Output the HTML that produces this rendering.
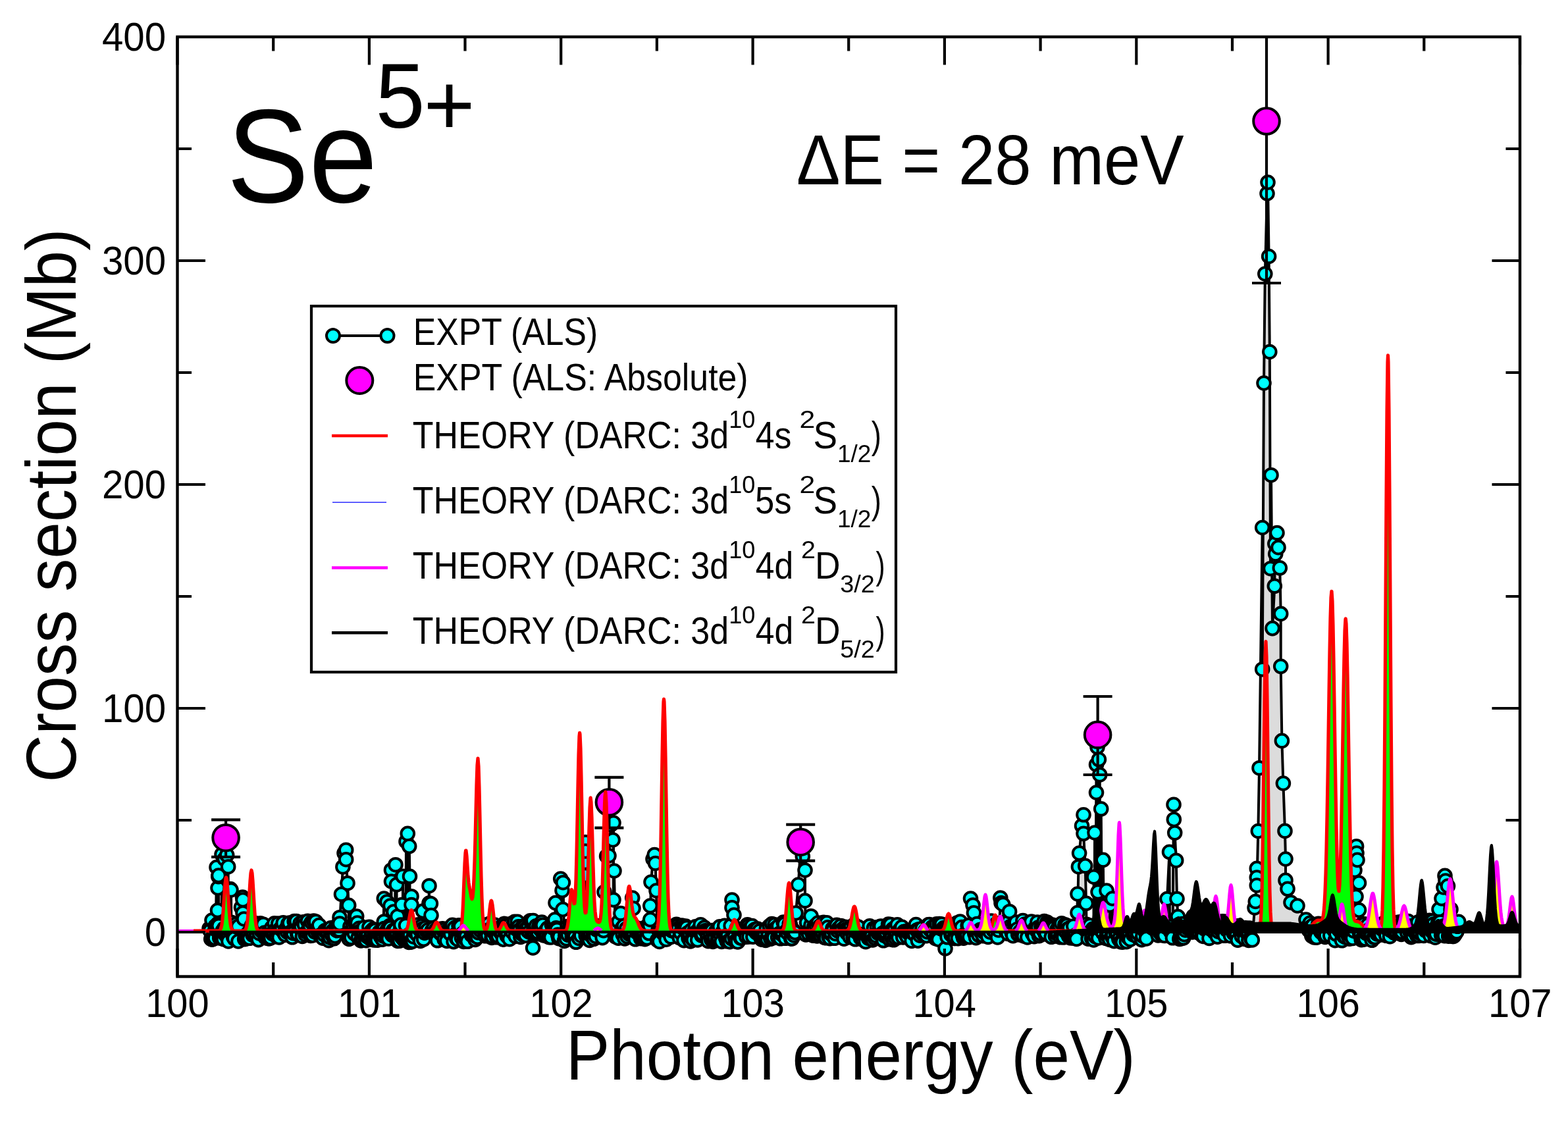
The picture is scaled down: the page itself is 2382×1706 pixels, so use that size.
<!DOCTYPE html>
<html><head><meta charset="utf-8"><title>Se5+ photoionization cross section</title>
<style>html,body{margin:0;padding:0;background:#fff;overflow:hidden;}svg{display:block;}</style></head>
<body><svg width="2382" height="1706" viewBox="0 0 2382 1706">
<rect width="2382" height="1706" fill="#fff"/>
<defs><clipPath id="pc"><rect x="271.5" y="58" width="2035.5" height="1423.5"/></clipPath></defs><g clip-path="url(#pc)"><polygon points="318.0,1416.0 318.0,1410.7 319.2,1413.9 320.7,1426.5 322.0,1398.0 322.2,1427.2 323.0,1425.0 323.6,1426.5 324.9,1417.3 326.6,1425.2 327.0,1407.0 327.9,1412.1 329.0,1317.5 329.7,1413.5 330.5,1383.0 331.0,1349.0 331.1,1403.1 331.8,1331.6 332.0,1330.0 332.3,1406.3 333.7,1425.0 335.0,1420.7 336.7,1424.1 337.0,1298.0 338.2,1414.2 339.5,1426.7 340.8,1410.2 341.0,1305.0 342.2,1419.6 343.8,1415.8 344.7,1299.0 345.2,1406.7 346.7,1316.7 346.8,1421.0 347.0,1430.0 348.3,1413.5 350.0,1350.5 350.1,1408.0 351.0,1352.0 351.4,1401.4 352.7,1416.0 354.4,1422.9 355.9,1425.8 357.5,1406.7 359.0,1403.8 360.4,1408.5 362.0,1407.4 362.0,1430.0 366.5,1378.6 368.5,1363.0 369.0,1367.0 369.0,1387.0 370.5,1396.0 371.6,1426.6 373.1,1422.8 374.3,1425.8 376.0,1424.0 377.3,1417.2 379.1,1425.3 380.5,1413.1 382.3,1406.1 384.0,1420.3 385.4,1418.2 387.2,1402.5 388.4,1423.0 389.8,1421.5 391.3,1412.2 392.6,1427.6 394.1,1418.0 395.6,1402.8 397.2,1414.2 398.8,1410.0 400.0,1404.2 401.7,1417.0 403.1,1424.2 404.7,1425.0 406.0,1420.9 407.3,1417.2 408.5,1425.9 409.8,1423.0 411.2,1424.8 412.9,1409.3 414.2,1418.6 415.6,1415.6 416.9,1402.8 418.7,1412.7 420.2,1422.6 421.5,1415.8 422.8,1403.0 424.1,1424.0 425.9,1410.8 427.2,1410.3 428.4,1410.7 430.2,1401.9 431.8,1417.6 433.2,1420.1 434.9,1410.5 436.5,1415.8 437.9,1403.1 439.7,1402.0 441.3,1418.5 442.9,1415.1 444.1,1423.8 445.4,1417.7 447.1,1399.5 448.5,1400.0 450.3,1399.6 451.7,1418.8 453.1,1419.5 454.4,1408.3 456.1,1402.6 457.6,1407.6 459.3,1422.5 460.9,1400.9 462.6,1405.1 464.1,1420.0 465.7,1416.0 467.4,1399.3 468.8,1414.2 470.6,1405.7 471.9,1421.4 473.2,1401.0 474.9,1420.9 476.6,1399.1 478.2,1415.6 479.7,1400.0 481.3,1412.3 483.1,1415.3 484.8,1405.5 486.1,1421.0 487.5,1421.7 489.0,1421.5 490.5,1425.2 492.2,1419.6 493.7,1413.9 495.5,1415.9 497.0,1415.2 498.2,1417.3 499.5,1428.7 501.2,1424.2 502.7,1409.7 504.2,1420.1 505.7,1414.0 507.4,1425.8 508.9,1422.0 510.3,1408.3 511.8,1413.7 513.4,1404.5 514.9,1412.4 516.0,1393.7 516.0,1403.0 518.5,1358.5 520.9,1316.9 523.0,1296.0 525.7,1291.2 525.7,1305.7 528.0,1341.7 529.7,1375.3 530.2,1426.4 531.8,1407.8 533.6,1424.2 535.2,1411.0 536.5,1405.2 538.3,1418.1 539.8,1402.8 541.7,1392.0 543.0,1402.0 544.3,1424.0 545.7,1410.3 546.9,1414.8 548.4,1428.9 549.8,1413.1 551.3,1427.9 553.1,1409.0 554.9,1426.9 556.2,1428.7 557.9,1422.7 559.2,1418.7 560.9,1408.4 562.3,1425.9 564.0,1414.9 565.7,1427.5 566.9,1411.9 568.4,1428.0 570.1,1413.3 571.8,1427.8 573.5,1428.2 575.2,1418.1 576.6,1415.5 578.4,1423.0 579.7,1416.2 581.0,1427.1 582.3,1422.0 583.3,1365.0 583.3,1400.0 583.7,1410.5 585.1,1417.4 586.4,1421.5 587.6,1424.2 588.0,1370.0 588.8,1411.6 590.3,1425.9 591.8,1406.5 593.0,1376.0 593.1,1409.6 594.5,1321.7 594.5,1339.0 594.5,1418.1 596.2,1420.9 597.7,1413.2 598.0,1385.0 599.5,1422.3 600.9,1313.7 601.2,1412.8 602.5,1344.0 602.8,1420.7 604.0,1392.0 604.2,1429.5 605.9,1424.7 607.2,1429.2 608.9,1408.6 609.0,1405.0 610.5,1424.0 610.5,1374.5 611.8,1423.7 612.0,1331.3 613.3,1427.3 614.7,1424.5 616.5,1406.0 617.0,1278.4 618.1,1425.0 619.3,1266.4 619.8,1423.3 621.2,1431.4 621.7,1285.6 622.5,1331.3 622.7,1419.0 624.2,1431.2 625.0,1361.7 625.0,1374.5 625.5,1428.8 627.0,1430.0 628.2,1423.0 629.5,1415.5 631.0,1411.1 632.6,1412.0 634.4,1420.5 635.8,1404.8 637.1,1411.6 638.6,1429.4 640.3,1407.1 641.9,1411.2 642.5,1384.0 643.6,1426.8 645.1,1417.2 646.8,1409.3 648.5,1415.1 650.3,1412.5 652.0,1345.7 652.0,1372.0 654.4,1372.7 655.0,1390.5 656.1,1414.1 657.7,1417.7 658.9,1409.7 660.5,1417.5 662.1,1413.4 663.3,1411.5 664.6,1428.8 666.0,1411.7 667.3,1411.5 669.1,1417.9 670.5,1418.3 672.2,1410.8 673.7,1414.1 675.0,1427.1 676.3,1411.5 677.7,1416.1 678.9,1429.4 680.3,1413.4 681.9,1413.3 683.3,1417.5 684.7,1418.8 686.0,1407.6 687.3,1405.4 689.1,1430.6 690.6,1409.6 692.4,1419.3 693.7,1425.5 695.5,1427.2 697.0,1405.9 698.3,1409.3 699.8,1407.4 701.4,1424.5 703.1,1417.8 704.4,1430.4 705.9,1418.6 707.2,1426.7 708.6,1422.1 710.3,1430.3 712.0,1408.3 713.3,1406.0 714.9,1406.7 716.3,1420.5 717.7,1404.1 719.3,1420.8 720.7,1423.0 721.9,1427.5 723.6,1422.7 725.4,1423.7 726.8,1416.8 728.1,1406.8 729.8,1413.3 731.5,1405.1 733.0,1410.7 734.3,1410.3 735.7,1409.7 737.3,1421.8 738.6,1405.0 739.8,1416.8 741.2,1421.3 742.9,1403.5 744.2,1411.8 745.6,1414.4 747.1,1424.5 748.4,1423.5 750.1,1415.9 751.4,1405.1 753.2,1417.0 754.5,1423.8 755.8,1419.8 757.0,1422.5 758.4,1413.9 760.1,1409.1 761.6,1417.9 763.1,1418.9 764.5,1427.1 765.8,1403.4 767.1,1415.5 768.7,1406.1 770.0,1421.6 771.4,1418.2 772.8,1405.2 774.1,1426.7 775.7,1403.6 777.2,1411.3 778.4,1416.0 780.1,1404.3 781.8,1400.2 783.2,1422.5 784.5,1411.5 786.1,1400.3 787.7,1407.9 789.4,1412.7 790.9,1423.5 792.6,1418.3 794.3,1407.4 795.7,1420.9 797.1,1407.5 798.7,1421.1 799.9,1410.3 801.5,1413.8 802.8,1408.2 804.0,1416.0 805.5,1398.7 807.1,1400.6 808.6,1417.6 809.6,1440.0 809.9,1398.6 811.5,1415.7 812.7,1410.6 814.4,1406.8 816.1,1418.8 817.3,1416.3 818.8,1407.7 820.1,1405.0 821.7,1412.9 823.1,1401.0 824.5,1405.2 825.8,1421.0 827.4,1419.3 829.2,1414.2 830.5,1421.4 832.0,1410.0 833.7,1423.7 835.2,1422.0 837.0,1424.0 838.2,1404.6 839.9,1409.3 841.7,1404.5 843.0,1397.0 844.0,1371.6 844.9,1409.9 846.1,1412.3 847.5,1420.1 848.9,1425.7 850.1,1422.9 851.7,1335.0 854.0,1352.8 855.0,1381.6 855.4,1340.7 857.3,1429.5 858.8,1421.1 860.5,1425.9 862.0,1407.5 863.2,1420.3 864.9,1411.0 866.1,1407.1 867.4,1411.7 869.2,1422.4 870.5,1406.3 872.1,1424.5 873.7,1423.1 875.1,1431.3 876.8,1407.5 878.3,1406.8 879.6,1425.4 881.0,1406.5 882.8,1421.4 884.2,1406.8 885.5,1409.8 887.0,1360.0 887.0,1390.0 889.0,1310.0 889.0,1330.0 889.4,1279.6 889.4,1293.0 890.2,1421.6 891.6,1409.3 892.8,1424.4 894.5,1422.9 895.7,1428.4 897.3,1420.6 899.0,1405.9 900.8,1422.0 902.1,1426.3 903.6,1410.2 905.1,1422.5 906.5,1412.4 908.1,1409.0 909.8,1411.1 911.1,1406.5 912.5,1413.6 913.9,1409.1 915.2,1424.6 916.9,1413.6 918.0,1355.0 921.6,1300.7 925.0,1300.0 928.0,1253.0 931.0,1276.0 932.0,1250.0 932.0,1367.0 933.0,1323.0 934.9,1422.8 936.6,1404.8 937.8,1423.5 939.3,1425.2 940.0,1400.0 943.0,1387.5 944.9,1410.3 946.2,1419.7 947.5,1406.9 949.0,1426.0 950.3,1417.2 951.8,1410.7 953.1,1423.0 954.7,1416.5 956.0,1419.1 957.8,1419.0 959.4,1417.7 960.7,1364.0 962.0,1380.0 962.6,1417.5 963.9,1407.9 965.2,1426.8 967.0,1415.8 968.7,1416.2 970.4,1414.8 971.7,1410.7 973.5,1425.7 975.0,1418.7 976.5,1425.0 977.9,1415.6 979.7,1426.7 981.1,1408.7 982.9,1424.9 984.2,1405.6 986.0,1417.8 987.2,1406.4 987.8,1376.0 987.8,1397.0 989.0,1340.0 992.0,1305.0 994.3,1298.6 995.6,1311.5 997.0,1353.0 998.7,1428.2 1000.1,1412.5 1001.8,1430.4 1003.4,1408.8 1004.6,1414.4 1006.2,1413.1 1007.6,1418.0 1009.1,1417.4 1010.7,1416.5 1012.2,1427.2 1013.7,1414.7 1015.1,1407.3 1016.7,1415.0 1018.0,1414.4 1019.3,1423.3 1020.8,1413.8 1022.0,1411.0 1023.2,1408.9 1024.9,1415.1 1026.1,1415.6 1027.6,1404.2 1028.9,1406.9 1030.7,1410.4 1032.3,1424.7 1034.1,1417.0 1035.9,1406.1 1037.2,1409.5 1039.0,1428.6 1040.4,1410.6 1041.7,1407.0 1043.0,1409.2 1044.3,1417.5 1046.1,1425.3 1047.4,1417.5 1048.8,1429.9 1050.1,1413.0 1051.9,1426.3 1053.5,1427.7 1055.1,1414.1 1056.5,1407.8 1058.0,1415.5 1059.7,1427.9 1061.5,1414.2 1063.0,1409.8 1064.3,1404.7 1065.9,1421.2 1067.5,1419.0 1068.8,1411.1 1070.1,1409.1 1071.4,1413.9 1073.2,1415.3 1074.8,1422.4 1076.0,1429.7 1077.3,1414.4 1078.8,1417.2 1080.5,1427.1 1081.8,1413.5 1083.0,1430.5 1084.5,1427.8 1085.9,1424.7 1087.4,1415.1 1088.7,1414.2 1090.2,1427.0 1092.0,1424.2 1093.3,1407.8 1094.9,1420.2 1096.3,1430.4 1097.9,1416.1 1099.3,1413.9 1100.8,1406.3 1102.4,1424.4 1104.2,1429.8 1105.7,1420.3 1107.0,1429.4 1108.7,1430.7 1110.2,1406.4 1111.5,1425.8 1112.0,1367.0 1112.0,1378.8 1115.0,1390.0 1116.0,1423.0 1117.3,1429.8 1119.1,1410.6 1120.7,1430.9 1122.4,1411.6 1123.9,1411.7 1125.4,1425.2 1126.6,1425.0 1127.8,1412.7 1129.5,1412.0 1130.9,1415.9 1132.4,1409.6 1133.9,1423.2 1135.5,1404.7 1136.8,1406.8 1138.0,1422.9 1139.3,1410.2 1141.1,1410.1 1142.5,1406.5 1143.9,1423.2 1145.7,1412.9 1147.3,1411.9 1149.1,1417.0 1150.8,1411.0 1152.5,1417.8 1154.1,1414.3 1155.5,1423.6 1157.1,1427.1 1158.8,1425.4 1160.0,1426.3 1161.8,1420.1 1163.1,1428.4 1164.3,1411.0 1165.9,1427.0 1167.4,1418.8 1169.1,1406.6 1170.9,1426.1 1172.6,1403.6 1174.3,1424.5 1175.7,1424.2 1176.9,1404.8 1178.6,1410.3 1180.3,1410.2 1181.6,1424.0 1182.9,1406.7 1184.2,1418.1 1185.7,1425.8 1187.0,1418.9 1188.7,1416.6 1190.1,1401.0 1191.6,1403.9 1193.1,1425.3 1194.6,1414.6 1196.2,1417.0 1197.9,1411.9 1199.2,1403.4 1200.4,1404.5 1201.7,1425.9 1203.1,1425.8 1204.6,1412.9 1206.2,1420.9 1207.7,1416.6 1209.0,1387.0 1212.8,1344.0 1216.0,1290.0 1219.3,1301.0 1223.0,1322.0 1223.0,1368.4 1224.3,1420.0 1225.6,1401.7 1227.1,1415.4 1228.9,1419.2 1230.3,1411.4 1232.0,1405.6 1232.0,1391.7 1233.6,1416.2 1235.0,1421.2 1236.7,1407.9 1238.3,1420.8 1239.8,1405.0 1241.3,1422.0 1242.8,1402.1 1244.2,1420.2 1245.5,1406.9 1247.2,1421.2 1248.5,1412.1 1249.8,1417.7 1251.1,1401.2 1252.8,1424.4 1254.6,1424.7 1256.0,1401.9 1257.7,1408.7 1259.1,1423.0 1260.7,1425.6 1262.0,1418.4 1263.3,1418.2 1264.9,1410.7 1266.4,1412.4 1267.9,1425.3 1269.5,1418.5 1271.1,1405.4 1272.6,1414.2 1274.2,1410.2 1276.0,1408.8 1277.6,1406.6 1279.2,1412.1 1280.7,1420.6 1282.2,1426.2 1283.7,1408.2 1285.3,1412.1 1286.7,1417.5 1288.1,1412.3 1289.6,1410.8 1291.3,1423.7 1292.9,1408.1 1294.4,1415.6 1296.1,1424.6 1297.8,1404.5 1299.3,1426.8 1300.9,1415.6 1302.5,1416.5 1304.1,1408.4 1305.6,1419.6 1307.4,1425.0 1309.0,1420.3 1310.6,1427.5 1312.4,1421.5 1313.7,1423.8 1315.1,1430.7 1316.6,1420.1 1318.2,1422.0 1319.5,1425.4 1321.2,1406.7 1322.7,1425.6 1324.4,1421.1 1325.7,1428.0 1327.4,1410.2 1328.9,1425.1 1330.7,1421.4 1332.3,1408.8 1334.0,1417.7 1335.4,1415.4 1336.7,1407.7 1338.1,1407.0 1339.4,1419.3 1340.8,1417.8 1342.1,1428.8 1343.7,1421.4 1345.1,1420.7 1346.6,1417.3 1348.1,1411.2 1349.6,1404.0 1351.3,1426.8 1353.0,1404.5 1354.6,1424.5 1356.3,1411.6 1357.5,1427.8 1359.3,1410.9 1360.7,1425.4 1362.0,1419.2 1363.2,1404.8 1364.9,1424.2 1366.7,1412.9 1368.3,1411.4 1370.1,1408.4 1371.8,1424.0 1373.4,1415.3 1375.0,1417.8 1376.8,1414.9 1378.1,1423.3 1379.4,1416.6 1380.6,1417.3 1381.9,1416.7 1383.4,1415.5 1385.1,1429.5 1386.8,1417.5 1388.4,1412.3 1390.1,1419.9 1391.5,1404.6 1392.8,1413.1 1394.4,1429.1 1395.9,1411.9 1397.7,1421.2 1399.5,1416.5 1401.0,1410.3 1402.5,1419.7 1404.3,1418.4 1405.7,1413.8 1407.4,1421.6 1408.9,1415.7 1410.4,1404.8 1411.8,1404.5 1413.2,1412.7 1414.6,1412.4 1416.4,1408.3 1418.0,1418.1 1419.6,1409.7 1421.3,1425.6 1422.9,1403.7 1424.4,1425.9 1425.8,1427.2 1427.1,1403.5 1428.7,1410.5 1430.4,1404.1 1431.9,1411.9 1433.5,1409.9 1435.1,1410.5 1436.0,1441.0 1436.4,1410.9 1437.9,1408.5 1439.1,1423.8 1440.3,1408.3 1442.1,1411.5 1443.5,1413.5 1444.9,1419.9 1446.3,1419.1 1447.8,1410.3 1449.5,1425.4 1451.1,1425.5 1452.3,1405.1 1453.9,1402.1 1455.4,1425.6 1456.8,1410.3 1458.6,1400.0 1460.0,1414.8 1461.3,1408.6 1462.6,1421.4 1463.8,1425.2 1465.4,1422.0 1467.2,1422.8 1468.9,1421.7 1470.2,1406.2 1471.5,1405.8 1472.8,1423.7 1474.5,1365.0 1478.0,1375.0 1479.4,1386.7 1480.8,1418.2 1482.6,1424.6 1484.2,1403.6 1485.4,1417.0 1487.1,1420.8 1488.8,1412.5 1490.0,1415.7 1491.6,1413.8 1493.2,1421.6 1494.9,1415.9 1496.5,1408.9 1497.9,1415.3 1499.6,1410.4 1501.0,1423.4 1502.7,1406.5 1504.4,1416.0 1506.0,1399.0 1507.7,1408.7 1509.1,1413.2 1510.8,1414.4 1512.4,1408.4 1514.2,1403.0 1515.5,1424.0 1516.9,1413.0 1518.4,1402.6 1519.8,1364.0 1521.0,1371.7 1523.7,1374.0 1525.0,1401.6 1526.6,1405.9 1528.4,1414.7 1529.6,1409.3 1531.3,1418.5 1533.0,1399.3 1533.6,1384.7 1534.3,1407.8 1535.9,1411.5 1537.2,1417.0 1538.9,1421.6 1540.6,1403.8 1541.9,1408.9 1543.7,1401.0 1545.2,1411.8 1546.7,1419.4 1548.0,1419.7 1549.7,1415.0 1551.2,1414.0 1552.7,1420.7 1553.9,1398.6 1555.4,1421.9 1556.9,1404.1 1558.2,1409.1 1559.6,1411.2 1560.8,1423.9 1562.6,1402.2 1564.1,1410.0 1565.5,1404.5 1566.9,1400.1 1568.6,1418.2 1569.8,1419.6 1571.1,1422.6 1572.4,1410.2 1574.1,1412.8 1575.9,1401.0 1577.1,1409.1 1578.5,1421.7 1580.3,1418.1 1581.9,1408.0 1583.6,1407.2 1585.1,1413.0 1586.4,1399.5 1588.2,1419.0 1589.4,1418.1 1590.8,1401.1 1592.5,1402.8 1593.8,1404.2 1595.4,1407.8 1597.2,1423.3 1598.5,1405.0 1600.2,1407.0 1601.6,1409.3 1603.3,1422.0 1604.7,1418.0 1605.9,1412.1 1607.2,1418.5 1608.5,1407.0 1609.7,1406.0 1611.0,1423.8 1612.8,1402.7 1614.5,1422.3 1616.0,1423.9 1617.8,1404.8 1619.3,1415.4 1620.7,1406.0 1622.2,1411.4 1623.5,1422.3 1624.7,1409.7 1626.3,1424.8 1628.0,1421.8 1629.4,1424.8 1630.8,1407.0 1632.2,1424.8 1633.7,1420.9 1635.4,1426.4 1637.0,1358.0 1637.0,1386.5 1638.4,1316.7 1639.6,1296.0 1643.5,1254.6 1646.0,1237.8 1646.0,1266.3 1648.7,1315.4 1650.0,1372.3 1650.5,1404.2 1651.7,1408.7 1653.1,1426.2 1654.3,1408.1 1655.9,1406.1 1657.2,1415.0 1658.5,1425.3 1660.1,1411.4 1661.4,1428.0 1661.6,1332.2 1662.7,1414.2 1663.0,1265.0 1664.2,1423.0 1665.5,1161.5 1665.5,1204.0 1665.5,1414.1 1667.0,1135.0 1667.1,1409.0 1668.0,1355.0 1668.7,1424.9 1669.4,1153.8 1669.9,1411.0 1670.7,1177.0 1671.4,1411.4 1672.6,1409.0 1672.7,1228.8 1674.0,1408.2 1675.7,1417.4 1675.8,1306.4 1676.9,1406.5 1678.4,1407.5 1679.8,1425.4 1681.0,1353.0 1681.5,1420.7 1682.8,1420.6 1684.3,1418.8 1685.8,1427.5 1686.0,1375.0 1687.5,1409.4 1689.2,1422.6 1690.0,1365.0 1690.8,1421.1 1692.5,1429.6 1694.2,1406.3 1695.7,1417.9 1697.2,1417.4 1698.4,1406.2 1699.8,1426.8 1701.0,1425.0 1702.7,1430.8 1704.0,1413.4 1705.3,1431.2 1706.8,1416.6 1708.4,1413.4 1709.6,1409.0 1711.3,1430.6 1712.5,1418.9 1714.0,1424.5 1715.3,1415.9 1717.0,1427.2 1718.6,1411.2 1719.9,1408.8 1721.6,1420.0 1723.1,1408.0 1724.6,1419.4 1726.4,1409.3 1727.8,1423.2 1729.2,1417.9 1730.9,1408.2 1732.7,1407.8 1734.4,1427.6 1735.9,1421.9 1737.4,1411.2 1738.8,1413.4 1740.0,1415.5 1741.5,1425.9 1742.8,1400.7 1744.5,1401.2 1746.1,1404.3 1747.8,1402.1 1749.0,1408.3 1750.4,1407.1 1751.7,1410.5 1753.5,1408.3 1754.8,1410.8 1756.3,1399.4 1757.7,1416.2 1759.3,1421.0 1760.8,1399.0 1762.3,1417.0 1763.8,1410.0 1765.1,1420.6 1766.4,1416.2 1767.8,1416.3 1769.2,1421.5 1770.7,1401.8 1772.3,1408.8 1773.0,1365.5 1776.5,1294.3 1777.0,1407.6 1778.5,1415.5 1779.8,1414.4 1781.4,1424.8 1783.0,1222.3 1783.3,1244.9 1784.7,1265.2 1786.7,1307.2 1788.0,1365.5 1789.4,1392.6 1790.3,1404.9 1791.8,1426.4 1793.2,1416.7 1794.9,1425.6 1796.2,1403.5 1797.8,1424.8 1799.2,1419.7 1800.8,1412.9 1802.6,1407.7 1804.1,1410.0 1805.7,1409.5 1807.2,1408.9 1808.8,1405.6 1810.1,1406.8 1811.3,1416.0 1813.1,1413.6 1814.5,1407.7 1816.3,1411.9 1817.7,1415.7 1819.2,1408.3 1820.5,1416.8 1822.1,1416.7 1823.5,1406.0 1825.2,1413.4 1826.6,1421.5 1828.0,1422.4 1829.6,1410.8 1830.8,1401.9 1832.2,1403.8 1833.9,1400.7 1835.2,1414.5 1837.0,1425.4 1838.2,1410.8 1839.7,1401.5 1841.4,1411.4 1843.2,1411.9 1844.7,1416.2 1846.2,1416.4 1848.0,1407.9 1849.5,1423.1 1850.9,1415.2 1852.5,1410.7 1854.2,1400.5 1855.7,1414.2 1857.3,1399.7 1858.7,1411.9 1860.4,1421.3 1861.8,1400.2 1863.5,1412.4 1864.7,1402.4 1866.3,1404.4 1868.1,1402.6 1869.6,1421.8 1871.0,1412.5 1872.5,1409.9 1874.0,1417.6 1875.8,1410.6 1877.1,1416.9 1878.7,1419.9 1880.3,1428.2 1881.7,1406.5 1883.3,1411.2 1884.6,1415.9 1886.1,1422.1 1887.7,1415.3 1889.5,1414.3 1891.0,1426.3 1892.2,1409.7 1893.5,1416.1 1895.2,1413.9 1896.9,1428.4 1898.1,1410.0 1899.5,1411.6 1900.9,1426.0 1902.3,1427.9 1906.0,1379.0 1907.3,1369.5 1909.3,1319.4 1909.3,1333.0 1909.3,1345.0 1911.3,1262.5 1913.0,1166.7 1917.7,801.5 1917.7,1016.7 1920.0,582.0 1921.8,416.0 1925.0,294.0 1926.0,277.0 1927.6,389.5 1928.8,534.5 1930.0,863.7 1931.0,721.7 1933.0,954.6 1936.3,890.3 1936.8,826.0 1937.7,841.5 1940.0,809.5 1942.0,831.7 1944.3,862.8 1945.7,932.4 1945.7,1012.3 1947.4,1125.4 1949.4,1190.0 1952.0,1262.4 1953.0,1305.0 1953.0,1337.4 1956.0,1350.3 1961.0,1371.0 1971.0,1376.0 1984.0,1397.0 1987.1,1407.0 1988.5,1413.5 1990.1,1402.3 1991.5,1408.2 1992.8,1421.8 1994.5,1405.7 1996.2,1424.0 1997.4,1420.9 1998.7,1417.3 2000.1,1424.2 2001.5,1408.6 2002.8,1403.4 2004.4,1406.7 2005.7,1414.1 2007.3,1416.4 2008.5,1403.7 2010.2,1418.1 2011.4,1403.2 2013.0,1423.4 2014.7,1421.5 2016.4,1407.9 2017.7,1409.8 2019.1,1408.8 2020.8,1421.4 2022.1,1404.4 2023.5,1405.1 2025.1,1410.3 2026.8,1413.5 2028.3,1428.7 2029.9,1419.1 2031.4,1406.1 2032.7,1410.6 2033.9,1412.3 2035.6,1405.2 2037.2,1416.2 2038.5,1428.8 2040.0,1419.5 2041.3,1422.1 2042.6,1411.6 2044.2,1423.9 2045.5,1416.5 2047.0,1405.5 2048.4,1422.1 2050.1,1426.2 2051.6,1421.2 2053.3,1415.5 2055.0,1425.4 2056.6,1414.1 2058.0,1322.0 2060.0,1362.0 2060.6,1285.7 2061.0,1296.0 2062.0,1306.4 2064.5,1341.3 2064.5,1382.6 2065.5,1418.0 2066.7,1421.2 2068.2,1427.7 2069.4,1403.5 2071.1,1427.2 2072.7,1403.7 2074.2,1426.4 2075.7,1417.8 2077.0,1414.9 2078.2,1405.0 2079.8,1412.6 2081.6,1412.0 2082.9,1422.6 2084.2,1428.3 2085.9,1407.0 2087.3,1424.1 2088.8,1424.0 2090.5,1406.2 2092.2,1419.0 2093.5,1405.6 2094.9,1417.2 2096.4,1416.9 2098.1,1420.0 2099.3,1411.3 2100.9,1404.4 2102.5,1402.0 2104.3,1412.6 2105.8,1421.3 2107.2,1410.1 2108.4,1407.2 2109.7,1413.6 2111.5,1422.7 2112.7,1413.5 2114.0,1406.0 2115.2,1402.9 2117.0,1404.2 2118.4,1417.4 2120.0,1411.3 2121.5,1415.9 2122.9,1407.3 2124.6,1401.0 2125.9,1416.9 2127.4,1409.9 2128.8,1419.5 2130.0,1416.1 2131.5,1399.2 2133.3,1399.4 2134.8,1403.3 2136.1,1406.8 2137.6,1416.7 2139.2,1399.5 2140.7,1407.5 2142.0,1415.4 2143.8,1423.7 2145.1,1406.6 2146.6,1422.2 2148.2,1414.7 2149.7,1413.5 2151.2,1409.6 2152.7,1421.4 2154.0,1401.1 2155.5,1421.4 2157.2,1417.7 2158.5,1410.5 2159.8,1411.5 2161.4,1418.4 2162.9,1421.4 2164.4,1408.9 2165.7,1413.7 2166.9,1412.8 2168.6,1409.9 2170.2,1404.5 2171.5,1398.4 2173.1,1421.7 2174.8,1414.1 2176.1,1399.2 2177.7,1404.1 2178.9,1418.3 2180.3,1424.2 2181.9,1419.1 2183.3,1406.2 2184.7,1401.5 2186.0,1381.4 2186.3,1402.0 2187.8,1400.8 2189.6,1420.5 2190.0,1365.0 2191.2,1416.0 2192.9,1407.1 2193.0,1348.0 2194.6,1421.7 2195.0,1330.4 2196.0,1405.7 2196.0,1338.0 2197.8,1409.2 2199.0,1410.8 2199.5,1346.0 2200.7,1422.2 2202.5,1407.5 2203.8,1420.2 2204.0,1381.4 2205.3,1403.4 2206.8,1422.4 2208.0,1422.5 2209.7,1420.6 2211.3,1417.8 2212.9,1415.5 2214.2,1407.3 2215.8,1400.3 2215.8,1416.0" fill="#dcdcdc" stroke="none"/><polyline points="318.0,1410.7 319.2,1413.9 320.7,1426.5 322.0,1398.0 322.2,1427.2 323.0,1425.0 323.6,1426.5 324.9,1417.3 326.6,1425.2 327.0,1407.0 327.9,1412.1 329.0,1317.5 329.7,1413.5 330.5,1383.0 331.0,1349.0 331.1,1403.1 331.8,1331.6 332.0,1330.0 332.3,1406.3 333.7,1425.0 335.0,1420.7 336.7,1424.1 337.0,1298.0 338.2,1414.2 339.5,1426.7 340.8,1410.2 341.0,1305.0 342.2,1419.6 343.8,1415.8 344.7,1299.0 345.2,1406.7 346.7,1316.7 346.8,1421.0 347.0,1430.0 348.3,1413.5 350.0,1350.5 350.1,1408.0 351.0,1352.0 351.4,1401.4 352.7,1416.0 354.4,1422.9 355.9,1425.8 357.5,1406.7 359.0,1403.8 360.4,1408.5 362.0,1407.4 362.0,1430.0 366.5,1378.6 368.5,1363.0 369.0,1367.0 369.0,1387.0 370.5,1396.0 371.6,1426.6 373.1,1422.8 374.3,1425.8 376.0,1424.0 377.3,1417.2 379.1,1425.3 380.5,1413.1 382.3,1406.1 384.0,1420.3 385.4,1418.2 387.2,1402.5 388.4,1423.0 389.8,1421.5 391.3,1412.2 392.6,1427.6 394.1,1418.0 395.6,1402.8 397.2,1414.2 398.8,1410.0 400.0,1404.2 401.7,1417.0 403.1,1424.2 404.7,1425.0 406.0,1420.9 407.3,1417.2 408.5,1425.9 409.8,1423.0 411.2,1424.8 412.9,1409.3 414.2,1418.6 415.6,1415.6 416.9,1402.8 418.7,1412.7 420.2,1422.6 421.5,1415.8 422.8,1403.0 424.1,1424.0 425.9,1410.8 427.2,1410.3 428.4,1410.7 430.2,1401.9 431.8,1417.6 433.2,1420.1 434.9,1410.5 436.5,1415.8 437.9,1403.1 439.7,1402.0 441.3,1418.5 442.9,1415.1 444.1,1423.8 445.4,1417.7 447.1,1399.5 448.5,1400.0 450.3,1399.6 451.7,1418.8 453.1,1419.5 454.4,1408.3 456.1,1402.6 457.6,1407.6 459.3,1422.5 460.9,1400.9 462.6,1405.1 464.1,1420.0 465.7,1416.0 467.4,1399.3 468.8,1414.2 470.6,1405.7 471.9,1421.4 473.2,1401.0 474.9,1420.9 476.6,1399.1 478.2,1415.6 479.7,1400.0 481.3,1412.3 483.1,1415.3 484.8,1405.5 486.1,1421.0 487.5,1421.7 489.0,1421.5 490.5,1425.2 492.2,1419.6 493.7,1413.9 495.5,1415.9 497.0,1415.2 498.2,1417.3 499.5,1428.7 501.2,1424.2 502.7,1409.7 504.2,1420.1 505.7,1414.0 507.4,1425.8 508.9,1422.0 510.3,1408.3 511.8,1413.7 513.4,1404.5 514.9,1412.4 516.0,1393.7 516.0,1403.0 518.5,1358.5 520.9,1316.9 523.0,1296.0 525.7,1291.2 525.7,1305.7 528.0,1341.7 529.7,1375.3 530.2,1426.4 531.8,1407.8 533.6,1424.2 535.2,1411.0 536.5,1405.2 538.3,1418.1 539.8,1402.8 541.7,1392.0 543.0,1402.0 544.3,1424.0 545.7,1410.3 546.9,1414.8 548.4,1428.9 549.8,1413.1 551.3,1427.9 553.1,1409.0 554.9,1426.9 556.2,1428.7 557.9,1422.7 559.2,1418.7 560.9,1408.4 562.3,1425.9 564.0,1414.9 565.7,1427.5 566.9,1411.9 568.4,1428.0 570.1,1413.3 571.8,1427.8 573.5,1428.2 575.2,1418.1 576.6,1415.5 578.4,1423.0 579.7,1416.2 581.0,1427.1 582.3,1422.0 583.3,1365.0 583.3,1400.0 583.7,1410.5 585.1,1417.4 586.4,1421.5 587.6,1424.2 588.0,1370.0 588.8,1411.6 590.3,1425.9 591.8,1406.5 593.0,1376.0 593.1,1409.6 594.5,1321.7 594.5,1339.0 594.5,1418.1 596.2,1420.9 597.7,1413.2 598.0,1385.0 599.5,1422.3 600.9,1313.7 601.2,1412.8 602.5,1344.0 602.8,1420.7 604.0,1392.0 604.2,1429.5 605.9,1424.7 607.2,1429.2 608.9,1408.6 609.0,1405.0 610.5,1424.0 610.5,1374.5 611.8,1423.7 612.0,1331.3 613.3,1427.3 614.7,1424.5 616.5,1406.0 617.0,1278.4 618.1,1425.0 619.3,1266.4 619.8,1423.3 621.2,1431.4 621.7,1285.6 622.5,1331.3 622.7,1419.0 624.2,1431.2 625.0,1361.7 625.0,1374.5 625.5,1428.8 627.0,1430.0 628.2,1423.0 629.5,1415.5 631.0,1411.1 632.6,1412.0 634.4,1420.5 635.8,1404.8 637.1,1411.6 638.6,1429.4 640.3,1407.1 641.9,1411.2 642.5,1384.0 643.6,1426.8 645.1,1417.2 646.8,1409.3 648.5,1415.1 650.3,1412.5 652.0,1345.7 652.0,1372.0 654.4,1372.7 655.0,1390.5 656.1,1414.1 657.7,1417.7 658.9,1409.7 660.5,1417.5 662.1,1413.4 663.3,1411.5 664.6,1428.8 666.0,1411.7 667.3,1411.5 669.1,1417.9 670.5,1418.3 672.2,1410.8 673.7,1414.1 675.0,1427.1 676.3,1411.5 677.7,1416.1 678.9,1429.4 680.3,1413.4 681.9,1413.3 683.3,1417.5 684.7,1418.8 686.0,1407.6 687.3,1405.4 689.1,1430.6 690.6,1409.6 692.4,1419.3 693.7,1425.5 695.5,1427.2 697.0,1405.9 698.3,1409.3 699.8,1407.4 701.4,1424.5 703.1,1417.8 704.4,1430.4 705.9,1418.6 707.2,1426.7 708.6,1422.1 710.3,1430.3 712.0,1408.3 713.3,1406.0 714.9,1406.7 716.3,1420.5 717.7,1404.1 719.3,1420.8 720.7,1423.0 721.9,1427.5 723.6,1422.7 725.4,1423.7 726.8,1416.8 728.1,1406.8 729.8,1413.3 731.5,1405.1 733.0,1410.7 734.3,1410.3 735.7,1409.7 737.3,1421.8 738.6,1405.0 739.8,1416.8 741.2,1421.3 742.9,1403.5 744.2,1411.8 745.6,1414.4 747.1,1424.5 748.4,1423.5 750.1,1415.9 751.4,1405.1 753.2,1417.0 754.5,1423.8 755.8,1419.8 757.0,1422.5 758.4,1413.9 760.1,1409.1 761.6,1417.9 763.1,1418.9 764.5,1427.1 765.8,1403.4 767.1,1415.5 768.7,1406.1 770.0,1421.6 771.4,1418.2 772.8,1405.2 774.1,1426.7 775.7,1403.6 777.2,1411.3 778.4,1416.0 780.1,1404.3 781.8,1400.2 783.2,1422.5 784.5,1411.5 786.1,1400.3 787.7,1407.9 789.4,1412.7 790.9,1423.5 792.6,1418.3 794.3,1407.4 795.7,1420.9 797.1,1407.5 798.7,1421.1 799.9,1410.3 801.5,1413.8 802.8,1408.2 804.0,1416.0 805.5,1398.7 807.1,1400.6 808.6,1417.6 809.6,1440.0 809.9,1398.6 811.5,1415.7 812.7,1410.6 814.4,1406.8 816.1,1418.8 817.3,1416.3 818.8,1407.7 820.1,1405.0 821.7,1412.9 823.1,1401.0 824.5,1405.2 825.8,1421.0 827.4,1419.3 829.2,1414.2 830.5,1421.4 832.0,1410.0 833.7,1423.7 835.2,1422.0 837.0,1424.0 838.2,1404.6 839.9,1409.3 841.7,1404.5 843.0,1397.0 844.0,1371.6 844.9,1409.9 846.1,1412.3 847.5,1420.1 848.9,1425.7 850.1,1422.9 851.7,1335.0 854.0,1352.8 855.0,1381.6 855.4,1340.7 857.3,1429.5 858.8,1421.1 860.5,1425.9 862.0,1407.5 863.2,1420.3 864.9,1411.0 866.1,1407.1 867.4,1411.7 869.2,1422.4 870.5,1406.3 872.1,1424.5 873.7,1423.1 875.1,1431.3 876.8,1407.5 878.3,1406.8 879.6,1425.4 881.0,1406.5 882.8,1421.4 884.2,1406.8 885.5,1409.8 887.0,1360.0 887.0,1390.0 889.0,1310.0 889.0,1330.0 889.4,1279.6 889.4,1293.0 890.2,1421.6 891.6,1409.3 892.8,1424.4 894.5,1422.9 895.7,1428.4 897.3,1420.6 899.0,1405.9 900.8,1422.0 902.1,1426.3 903.6,1410.2 905.1,1422.5 906.5,1412.4 908.1,1409.0 909.8,1411.1 911.1,1406.5 912.5,1413.6 913.9,1409.1 915.2,1424.6 916.9,1413.6 918.0,1355.0 921.6,1300.7 925.0,1300.0 928.0,1253.0 931.0,1276.0 932.0,1250.0 932.0,1367.0 933.0,1323.0 934.9,1422.8 936.6,1404.8 937.8,1423.5 939.3,1425.2 940.0,1400.0 943.0,1387.5 944.9,1410.3 946.2,1419.7 947.5,1406.9 949.0,1426.0 950.3,1417.2 951.8,1410.7 953.1,1423.0 954.7,1416.5 956.0,1419.1 957.8,1419.0 959.4,1417.7 960.7,1364.0 962.0,1380.0 962.6,1417.5 963.9,1407.9 965.2,1426.8 967.0,1415.8 968.7,1416.2 970.4,1414.8 971.7,1410.7 973.5,1425.7 975.0,1418.7 976.5,1425.0 977.9,1415.6 979.7,1426.7 981.1,1408.7 982.9,1424.9 984.2,1405.6 986.0,1417.8 987.2,1406.4 987.8,1376.0 987.8,1397.0 989.0,1340.0 992.0,1305.0 994.3,1298.6 995.6,1311.5 997.0,1353.0 998.7,1428.2 1000.1,1412.5 1001.8,1430.4 1003.4,1408.8 1004.6,1414.4 1006.2,1413.1 1007.6,1418.0 1009.1,1417.4 1010.7,1416.5 1012.2,1427.2 1013.7,1414.7 1015.1,1407.3 1016.7,1415.0 1018.0,1414.4 1019.3,1423.3 1020.8,1413.8 1022.0,1411.0 1023.2,1408.9 1024.9,1415.1 1026.1,1415.6 1027.6,1404.2 1028.9,1406.9 1030.7,1410.4 1032.3,1424.7 1034.1,1417.0 1035.9,1406.1 1037.2,1409.5 1039.0,1428.6 1040.4,1410.6 1041.7,1407.0 1043.0,1409.2 1044.3,1417.5 1046.1,1425.3 1047.4,1417.5 1048.8,1429.9 1050.1,1413.0 1051.9,1426.3 1053.5,1427.7 1055.1,1414.1 1056.5,1407.8 1058.0,1415.5 1059.7,1427.9 1061.5,1414.2 1063.0,1409.8 1064.3,1404.7 1065.9,1421.2 1067.5,1419.0 1068.8,1411.1 1070.1,1409.1 1071.4,1413.9 1073.2,1415.3 1074.8,1422.4 1076.0,1429.7 1077.3,1414.4 1078.8,1417.2 1080.5,1427.1 1081.8,1413.5 1083.0,1430.5 1084.5,1427.8 1085.9,1424.7 1087.4,1415.1 1088.7,1414.2 1090.2,1427.0 1092.0,1424.2 1093.3,1407.8 1094.9,1420.2 1096.3,1430.4 1097.9,1416.1 1099.3,1413.9 1100.8,1406.3 1102.4,1424.4 1104.2,1429.8 1105.7,1420.3 1107.0,1429.4 1108.7,1430.7 1110.2,1406.4 1111.5,1425.8 1112.0,1367.0 1112.0,1378.8 1115.0,1390.0 1116.0,1423.0 1117.3,1429.8 1119.1,1410.6 1120.7,1430.9 1122.4,1411.6 1123.9,1411.7 1125.4,1425.2 1126.6,1425.0 1127.8,1412.7 1129.5,1412.0 1130.9,1415.9 1132.4,1409.6 1133.9,1423.2 1135.5,1404.7 1136.8,1406.8 1138.0,1422.9 1139.3,1410.2 1141.1,1410.1 1142.5,1406.5 1143.9,1423.2 1145.7,1412.9 1147.3,1411.9 1149.1,1417.0 1150.8,1411.0 1152.5,1417.8 1154.1,1414.3 1155.5,1423.6 1157.1,1427.1 1158.8,1425.4 1160.0,1426.3 1161.8,1420.1 1163.1,1428.4 1164.3,1411.0 1165.9,1427.0 1167.4,1418.8 1169.1,1406.6 1170.9,1426.1 1172.6,1403.6 1174.3,1424.5 1175.7,1424.2 1176.9,1404.8 1178.6,1410.3 1180.3,1410.2 1181.6,1424.0 1182.9,1406.7 1184.2,1418.1 1185.7,1425.8 1187.0,1418.9 1188.7,1416.6 1190.1,1401.0 1191.6,1403.9 1193.1,1425.3 1194.6,1414.6 1196.2,1417.0 1197.9,1411.9 1199.2,1403.4 1200.4,1404.5 1201.7,1425.9 1203.1,1425.8 1204.6,1412.9 1206.2,1420.9 1207.7,1416.6 1209.0,1387.0 1212.8,1344.0 1216.0,1290.0 1219.3,1301.0 1223.0,1322.0 1223.0,1368.4 1224.3,1420.0 1225.6,1401.7 1227.1,1415.4 1228.9,1419.2 1230.3,1411.4 1232.0,1405.6 1232.0,1391.7 1233.6,1416.2 1235.0,1421.2 1236.7,1407.9 1238.3,1420.8 1239.8,1405.0 1241.3,1422.0 1242.8,1402.1 1244.2,1420.2 1245.5,1406.9 1247.2,1421.2 1248.5,1412.1 1249.8,1417.7 1251.1,1401.2 1252.8,1424.4 1254.6,1424.7 1256.0,1401.9 1257.7,1408.7 1259.1,1423.0 1260.7,1425.6 1262.0,1418.4 1263.3,1418.2 1264.9,1410.7 1266.4,1412.4 1267.9,1425.3 1269.5,1418.5 1271.1,1405.4 1272.6,1414.2 1274.2,1410.2 1276.0,1408.8 1277.6,1406.6 1279.2,1412.1 1280.7,1420.6 1282.2,1426.2 1283.7,1408.2 1285.3,1412.1 1286.7,1417.5 1288.1,1412.3 1289.6,1410.8 1291.3,1423.7 1292.9,1408.1 1294.4,1415.6 1296.1,1424.6 1297.8,1404.5 1299.3,1426.8 1300.9,1415.6 1302.5,1416.5 1304.1,1408.4 1305.6,1419.6 1307.4,1425.0 1309.0,1420.3 1310.6,1427.5 1312.4,1421.5 1313.7,1423.8 1315.1,1430.7 1316.6,1420.1 1318.2,1422.0 1319.5,1425.4 1321.2,1406.7 1322.7,1425.6 1324.4,1421.1 1325.7,1428.0 1327.4,1410.2 1328.9,1425.1 1330.7,1421.4 1332.3,1408.8 1334.0,1417.7 1335.4,1415.4 1336.7,1407.7 1338.1,1407.0 1339.4,1419.3 1340.8,1417.8 1342.1,1428.8 1343.7,1421.4 1345.1,1420.7 1346.6,1417.3 1348.1,1411.2 1349.6,1404.0 1351.3,1426.8 1353.0,1404.5 1354.6,1424.5 1356.3,1411.6 1357.5,1427.8 1359.3,1410.9 1360.7,1425.4 1362.0,1419.2 1363.2,1404.8 1364.9,1424.2 1366.7,1412.9 1368.3,1411.4 1370.1,1408.4 1371.8,1424.0 1373.4,1415.3 1375.0,1417.8 1376.8,1414.9 1378.1,1423.3 1379.4,1416.6 1380.6,1417.3 1381.9,1416.7 1383.4,1415.5 1385.1,1429.5 1386.8,1417.5 1388.4,1412.3 1390.1,1419.9 1391.5,1404.6 1392.8,1413.1 1394.4,1429.1 1395.9,1411.9 1397.7,1421.2 1399.5,1416.5 1401.0,1410.3 1402.5,1419.7 1404.3,1418.4 1405.7,1413.8 1407.4,1421.6 1408.9,1415.7 1410.4,1404.8 1411.8,1404.5 1413.2,1412.7 1414.6,1412.4 1416.4,1408.3 1418.0,1418.1 1419.6,1409.7 1421.3,1425.6 1422.9,1403.7 1424.4,1425.9 1425.8,1427.2 1427.1,1403.5 1428.7,1410.5 1430.4,1404.1 1431.9,1411.9 1433.5,1409.9 1435.1,1410.5 1436.0,1441.0 1436.4,1410.9 1437.9,1408.5 1439.1,1423.8 1440.3,1408.3 1442.1,1411.5 1443.5,1413.5 1444.9,1419.9 1446.3,1419.1 1447.8,1410.3 1449.5,1425.4 1451.1,1425.5 1452.3,1405.1 1453.9,1402.1 1455.4,1425.6 1456.8,1410.3 1458.6,1400.0 1460.0,1414.8 1461.3,1408.6 1462.6,1421.4 1463.8,1425.2 1465.4,1422.0 1467.2,1422.8 1468.9,1421.7 1470.2,1406.2 1471.5,1405.8 1472.8,1423.7 1474.5,1365.0 1478.0,1375.0 1479.4,1386.7 1480.8,1418.2 1482.6,1424.6 1484.2,1403.6 1485.4,1417.0 1487.1,1420.8 1488.8,1412.5 1490.0,1415.7 1491.6,1413.8 1493.2,1421.6 1494.9,1415.9 1496.5,1408.9 1497.9,1415.3 1499.6,1410.4 1501.0,1423.4 1502.7,1406.5 1504.4,1416.0 1506.0,1399.0 1507.7,1408.7 1509.1,1413.2 1510.8,1414.4 1512.4,1408.4 1514.2,1403.0 1515.5,1424.0 1516.9,1413.0 1518.4,1402.6 1519.8,1364.0 1521.0,1371.7 1523.7,1374.0 1525.0,1401.6 1526.6,1405.9 1528.4,1414.7 1529.6,1409.3 1531.3,1418.5 1533.0,1399.3 1533.6,1384.7 1534.3,1407.8 1535.9,1411.5 1537.2,1417.0 1538.9,1421.6 1540.6,1403.8 1541.9,1408.9 1543.7,1401.0 1545.2,1411.8 1546.7,1419.4 1548.0,1419.7 1549.7,1415.0 1551.2,1414.0 1552.7,1420.7 1553.9,1398.6 1555.4,1421.9 1556.9,1404.1 1558.2,1409.1 1559.6,1411.2 1560.8,1423.9 1562.6,1402.2 1564.1,1410.0 1565.5,1404.5 1566.9,1400.1 1568.6,1418.2 1569.8,1419.6 1571.1,1422.6 1572.4,1410.2 1574.1,1412.8 1575.9,1401.0 1577.1,1409.1 1578.5,1421.7 1580.3,1418.1 1581.9,1408.0 1583.6,1407.2 1585.1,1413.0 1586.4,1399.5 1588.2,1419.0 1589.4,1418.1 1590.8,1401.1 1592.5,1402.8 1593.8,1404.2 1595.4,1407.8 1597.2,1423.3 1598.5,1405.0 1600.2,1407.0 1601.6,1409.3 1603.3,1422.0 1604.7,1418.0 1605.9,1412.1 1607.2,1418.5 1608.5,1407.0 1609.7,1406.0 1611.0,1423.8 1612.8,1402.7 1614.5,1422.3 1616.0,1423.9 1617.8,1404.8 1619.3,1415.4 1620.7,1406.0 1622.2,1411.4 1623.5,1422.3 1624.7,1409.7 1626.3,1424.8 1628.0,1421.8 1629.4,1424.8 1630.8,1407.0 1632.2,1424.8 1633.7,1420.9 1635.4,1426.4 1637.0,1358.0 1637.0,1386.5 1638.4,1316.7 1639.6,1296.0 1643.5,1254.6 1646.0,1237.8 1646.0,1266.3 1648.7,1315.4 1650.0,1372.3 1650.5,1404.2 1651.7,1408.7 1653.1,1426.2 1654.3,1408.1 1655.9,1406.1 1657.2,1415.0 1658.5,1425.3 1660.1,1411.4 1661.4,1428.0 1661.6,1332.2 1662.7,1414.2 1663.0,1265.0 1664.2,1423.0 1665.5,1161.5 1665.5,1204.0 1665.5,1414.1 1667.0,1135.0 1667.1,1409.0 1668.0,1355.0 1668.7,1424.9 1669.4,1153.8 1669.9,1411.0 1670.7,1177.0 1671.4,1411.4 1672.6,1409.0 1672.7,1228.8 1674.0,1408.2 1675.7,1417.4 1675.8,1306.4 1676.9,1406.5 1678.4,1407.5 1679.8,1425.4 1681.0,1353.0 1681.5,1420.7 1682.8,1420.6 1684.3,1418.8 1685.8,1427.5 1686.0,1375.0 1687.5,1409.4 1689.2,1422.6 1690.0,1365.0 1690.8,1421.1 1692.5,1429.6 1694.2,1406.3 1695.7,1417.9 1697.2,1417.4 1698.4,1406.2 1699.8,1426.8 1701.0,1425.0 1702.7,1430.8 1704.0,1413.4 1705.3,1431.2 1706.8,1416.6 1708.4,1413.4 1709.6,1409.0 1711.3,1430.6 1712.5,1418.9 1714.0,1424.5 1715.3,1415.9 1717.0,1427.2 1718.6,1411.2 1719.9,1408.8 1721.6,1420.0 1723.1,1408.0 1724.6,1419.4 1726.4,1409.3 1727.8,1423.2 1729.2,1417.9 1730.9,1408.2 1732.7,1407.8 1734.4,1427.6 1735.9,1421.9 1737.4,1411.2 1738.8,1413.4 1740.0,1415.5 1741.5,1425.9 1742.8,1400.7 1744.5,1401.2 1746.1,1404.3 1747.8,1402.1 1749.0,1408.3 1750.4,1407.1 1751.7,1410.5 1753.5,1408.3 1754.8,1410.8 1756.3,1399.4 1757.7,1416.2 1759.3,1421.0 1760.8,1399.0 1762.3,1417.0 1763.8,1410.0 1765.1,1420.6 1766.4,1416.2 1767.8,1416.3 1769.2,1421.5 1770.7,1401.8 1772.3,1408.8 1773.0,1365.5 1776.5,1294.3 1777.0,1407.6 1778.5,1415.5 1779.8,1414.4 1781.4,1424.8 1783.0,1222.3 1783.3,1244.9 1784.7,1265.2 1786.7,1307.2 1788.0,1365.5 1789.4,1392.6 1790.3,1404.9 1791.8,1426.4 1793.2,1416.7 1794.9,1425.6 1796.2,1403.5 1797.8,1424.8 1799.2,1419.7 1800.8,1412.9 1802.6,1407.7 1804.1,1410.0 1805.7,1409.5 1807.2,1408.9 1808.8,1405.6 1810.1,1406.8 1811.3,1416.0 1813.1,1413.6 1814.5,1407.7 1816.3,1411.9 1817.7,1415.7 1819.2,1408.3 1820.5,1416.8 1822.1,1416.7 1823.5,1406.0 1825.2,1413.4 1826.6,1421.5 1828.0,1422.4 1829.6,1410.8 1830.8,1401.9 1832.2,1403.8 1833.9,1400.7 1835.2,1414.5 1837.0,1425.4 1838.2,1410.8 1839.7,1401.5 1841.4,1411.4 1843.2,1411.9 1844.7,1416.2 1846.2,1416.4 1848.0,1407.9 1849.5,1423.1 1850.9,1415.2 1852.5,1410.7 1854.2,1400.5 1855.7,1414.2 1857.3,1399.7 1858.7,1411.9 1860.4,1421.3 1861.8,1400.2 1863.5,1412.4 1864.7,1402.4 1866.3,1404.4 1868.1,1402.6 1869.6,1421.8 1871.0,1412.5 1872.5,1409.9 1874.0,1417.6 1875.8,1410.6 1877.1,1416.9 1878.7,1419.9 1880.3,1428.2 1881.7,1406.5 1883.3,1411.2 1884.6,1415.9 1886.1,1422.1 1887.7,1415.3 1889.5,1414.3 1891.0,1426.3 1892.2,1409.7 1893.5,1416.1 1895.2,1413.9 1896.9,1428.4 1898.1,1410.0 1899.5,1411.6 1900.9,1426.0 1902.3,1427.9 1906.0,1379.0 1907.3,1369.5 1909.3,1319.4 1909.3,1333.0 1909.3,1345.0 1911.3,1262.5 1913.0,1166.7 1917.7,801.5 1917.7,1016.7 1920.0,582.0 1921.8,416.0 1925.0,294.0 1926.0,277.0 1927.6,389.5 1928.8,534.5 1930.0,863.7 1931.0,721.7 1933.0,954.6 1936.3,890.3 1936.8,826.0 1937.7,841.5 1940.0,809.5 1942.0,831.7 1944.3,862.8 1945.7,932.4 1945.7,1012.3 1947.4,1125.4 1949.4,1190.0 1952.0,1262.4 1953.0,1305.0 1953.0,1337.4 1956.0,1350.3 1961.0,1371.0 1971.0,1376.0 1984.0,1397.0 1987.1,1407.0 1988.5,1413.5 1990.1,1402.3 1991.5,1408.2 1992.8,1421.8 1994.5,1405.7 1996.2,1424.0 1997.4,1420.9 1998.7,1417.3 2000.1,1424.2 2001.5,1408.6 2002.8,1403.4 2004.4,1406.7 2005.7,1414.1 2007.3,1416.4 2008.5,1403.7 2010.2,1418.1 2011.4,1403.2 2013.0,1423.4 2014.7,1421.5 2016.4,1407.9 2017.7,1409.8 2019.1,1408.8 2020.8,1421.4 2022.1,1404.4 2023.5,1405.1 2025.1,1410.3 2026.8,1413.5 2028.3,1428.7 2029.9,1419.1 2031.4,1406.1 2032.7,1410.6 2033.9,1412.3 2035.6,1405.2 2037.2,1416.2 2038.5,1428.8 2040.0,1419.5 2041.3,1422.1 2042.6,1411.6 2044.2,1423.9 2045.5,1416.5 2047.0,1405.5 2048.4,1422.1 2050.1,1426.2 2051.6,1421.2 2053.3,1415.5 2055.0,1425.4 2056.6,1414.1 2058.0,1322.0 2060.0,1362.0 2060.6,1285.7 2061.0,1296.0 2062.0,1306.4 2064.5,1341.3 2064.5,1382.6 2065.5,1418.0 2066.7,1421.2 2068.2,1427.7 2069.4,1403.5 2071.1,1427.2 2072.7,1403.7 2074.2,1426.4 2075.7,1417.8 2077.0,1414.9 2078.2,1405.0 2079.8,1412.6 2081.6,1412.0 2082.9,1422.6 2084.2,1428.3 2085.9,1407.0 2087.3,1424.1 2088.8,1424.0 2090.5,1406.2 2092.2,1419.0 2093.5,1405.6 2094.9,1417.2 2096.4,1416.9 2098.1,1420.0 2099.3,1411.3 2100.9,1404.4 2102.5,1402.0 2104.3,1412.6 2105.8,1421.3 2107.2,1410.1 2108.4,1407.2 2109.7,1413.6 2111.5,1422.7 2112.7,1413.5 2114.0,1406.0 2115.2,1402.9 2117.0,1404.2 2118.4,1417.4 2120.0,1411.3 2121.5,1415.9 2122.9,1407.3 2124.6,1401.0 2125.9,1416.9 2127.4,1409.9 2128.8,1419.5 2130.0,1416.1 2131.5,1399.2 2133.3,1399.4 2134.8,1403.3 2136.1,1406.8 2137.6,1416.7 2139.2,1399.5 2140.7,1407.5 2142.0,1415.4 2143.8,1423.7 2145.1,1406.6 2146.6,1422.2 2148.2,1414.7 2149.7,1413.5 2151.2,1409.6 2152.7,1421.4 2154.0,1401.1 2155.5,1421.4 2157.2,1417.7 2158.5,1410.5 2159.8,1411.5 2161.4,1418.4 2162.9,1421.4 2164.4,1408.9 2165.7,1413.7 2166.9,1412.8 2168.6,1409.9 2170.2,1404.5 2171.5,1398.4 2173.1,1421.7 2174.8,1414.1 2176.1,1399.2 2177.7,1404.1 2178.9,1418.3 2180.3,1424.2 2181.9,1419.1 2183.3,1406.2 2184.7,1401.5 2186.0,1381.4 2186.3,1402.0 2187.8,1400.8 2189.6,1420.5 2190.0,1365.0 2191.2,1416.0 2192.9,1407.1 2193.0,1348.0 2194.6,1421.7 2195.0,1330.4 2196.0,1405.7 2196.0,1338.0 2197.8,1409.2 2199.0,1410.8 2199.5,1346.0 2200.7,1422.2 2202.5,1407.5 2203.8,1420.2 2204.0,1381.4 2205.3,1403.4 2206.8,1422.4 2208.0,1422.5 2209.7,1420.6 2211.3,1417.8 2212.9,1415.5 2214.2,1407.3 2215.8,1400.3" fill="none" stroke="#000" stroke-width="4" stroke-linejoin="round"/><g fill="#0ff" stroke="#000" stroke-width="4"><circle cx="318.0" cy="1410.7" r="9.8"/><circle cx="319.2" cy="1413.9" r="9.8"/><circle cx="320.7" cy="1426.5" r="9.8"/><circle cx="322.0" cy="1398.0" r="9.8"/><circle cx="322.2" cy="1427.2" r="9.8"/><circle cx="323.0" cy="1425.0" r="9.8"/><circle cx="323.6" cy="1426.5" r="9.8"/><circle cx="324.9" cy="1417.3" r="9.8"/><circle cx="326.6" cy="1425.2" r="9.8"/><circle cx="327.0" cy="1407.0" r="9.8"/><circle cx="327.9" cy="1412.1" r="9.8"/><circle cx="329.0" cy="1317.5" r="9.8"/><circle cx="329.7" cy="1413.5" r="9.8"/><circle cx="330.5" cy="1383.0" r="9.8"/><circle cx="331.0" cy="1349.0" r="9.8"/><circle cx="331.1" cy="1403.1" r="9.8"/><circle cx="331.8" cy="1331.6" r="9.8"/><circle cx="332.0" cy="1330.0" r="9.8"/><circle cx="332.3" cy="1406.3" r="9.8"/><circle cx="333.7" cy="1425.0" r="9.8"/><circle cx="335.0" cy="1420.7" r="9.8"/><circle cx="336.7" cy="1424.1" r="9.8"/><circle cx="337.0" cy="1298.0" r="9.8"/><circle cx="338.2" cy="1414.2" r="9.8"/><circle cx="339.5" cy="1426.7" r="9.8"/><circle cx="340.8" cy="1410.2" r="9.8"/><circle cx="341.0" cy="1305.0" r="9.8"/><circle cx="342.2" cy="1419.6" r="9.8"/><circle cx="343.8" cy="1415.8" r="9.8"/><circle cx="344.7" cy="1299.0" r="9.8"/><circle cx="345.2" cy="1406.7" r="9.8"/><circle cx="346.7" cy="1316.7" r="9.8"/><circle cx="346.8" cy="1421.0" r="9.8"/><circle cx="347.0" cy="1430.0" r="9.8"/><circle cx="348.3" cy="1413.5" r="9.8"/><circle cx="350.0" cy="1350.5" r="9.8"/><circle cx="350.1" cy="1408.0" r="9.8"/><circle cx="351.0" cy="1352.0" r="9.8"/><circle cx="351.4" cy="1401.4" r="9.8"/><circle cx="352.7" cy="1416.0" r="9.8"/><circle cx="354.4" cy="1422.9" r="9.8"/><circle cx="355.9" cy="1425.8" r="9.8"/><circle cx="357.5" cy="1406.7" r="9.8"/><circle cx="359.0" cy="1403.8" r="9.8"/><circle cx="360.4" cy="1408.5" r="9.8"/><circle cx="362.0" cy="1407.4" r="9.8"/><circle cx="362.0" cy="1430.0" r="9.8"/><circle cx="366.5" cy="1378.6" r="9.8"/><circle cx="368.5" cy="1363.0" r="9.8"/><circle cx="369.0" cy="1367.0" r="9.8"/><circle cx="369.0" cy="1387.0" r="9.8"/><circle cx="370.5" cy="1396.0" r="9.8"/><circle cx="371.6" cy="1426.6" r="9.8"/><circle cx="373.1" cy="1422.8" r="9.8"/><circle cx="374.3" cy="1425.8" r="9.8"/><circle cx="376.0" cy="1424.0" r="9.8"/><circle cx="377.3" cy="1417.2" r="9.8"/><circle cx="379.1" cy="1425.3" r="9.8"/><circle cx="380.5" cy="1413.1" r="9.8"/><circle cx="382.3" cy="1406.1" r="9.8"/><circle cx="384.0" cy="1420.3" r="9.8"/><circle cx="385.4" cy="1418.2" r="9.8"/><circle cx="387.2" cy="1402.5" r="9.8"/><circle cx="388.4" cy="1423.0" r="9.8"/><circle cx="389.8" cy="1421.5" r="9.8"/><circle cx="391.3" cy="1412.2" r="9.8"/><circle cx="392.6" cy="1427.6" r="9.8"/><circle cx="394.1" cy="1418.0" r="9.8"/><circle cx="395.6" cy="1402.8" r="9.8"/><circle cx="397.2" cy="1414.2" r="9.8"/><circle cx="398.8" cy="1410.0" r="9.8"/><circle cx="400.0" cy="1404.2" r="9.8"/><circle cx="401.7" cy="1417.0" r="9.8"/><circle cx="403.1" cy="1424.2" r="9.8"/><circle cx="404.7" cy="1425.0" r="9.8"/><circle cx="406.0" cy="1420.9" r="9.8"/><circle cx="407.3" cy="1417.2" r="9.8"/><circle cx="408.5" cy="1425.9" r="9.8"/><circle cx="409.8" cy="1423.0" r="9.8"/><circle cx="411.2" cy="1424.8" r="9.8"/><circle cx="412.9" cy="1409.3" r="9.8"/><circle cx="414.2" cy="1418.6" r="9.8"/><circle cx="415.6" cy="1415.6" r="9.8"/><circle cx="416.9" cy="1402.8" r="9.8"/><circle cx="418.7" cy="1412.7" r="9.8"/><circle cx="420.2" cy="1422.6" r="9.8"/><circle cx="421.5" cy="1415.8" r="9.8"/><circle cx="422.8" cy="1403.0" r="9.8"/><circle cx="424.1" cy="1424.0" r="9.8"/><circle cx="425.9" cy="1410.8" r="9.8"/><circle cx="427.2" cy="1410.3" r="9.8"/><circle cx="428.4" cy="1410.7" r="9.8"/><circle cx="430.2" cy="1401.9" r="9.8"/><circle cx="431.8" cy="1417.6" r="9.8"/><circle cx="433.2" cy="1420.1" r="9.8"/><circle cx="434.9" cy="1410.5" r="9.8"/><circle cx="436.5" cy="1415.8" r="9.8"/><circle cx="437.9" cy="1403.1" r="9.8"/><circle cx="439.7" cy="1402.0" r="9.8"/><circle cx="441.3" cy="1418.5" r="9.8"/><circle cx="442.9" cy="1415.1" r="9.8"/><circle cx="444.1" cy="1423.8" r="9.8"/><circle cx="445.4" cy="1417.7" r="9.8"/><circle cx="447.1" cy="1399.5" r="9.8"/><circle cx="448.5" cy="1400.0" r="9.8"/><circle cx="450.3" cy="1399.6" r="9.8"/><circle cx="451.7" cy="1418.8" r="9.8"/><circle cx="453.1" cy="1419.5" r="9.8"/><circle cx="454.4" cy="1408.3" r="9.8"/><circle cx="456.1" cy="1402.6" r="9.8"/><circle cx="457.6" cy="1407.6" r="9.8"/><circle cx="459.3" cy="1422.5" r="9.8"/><circle cx="460.9" cy="1400.9" r="9.8"/><circle cx="462.6" cy="1405.1" r="9.8"/><circle cx="464.1" cy="1420.0" r="9.8"/><circle cx="465.7" cy="1416.0" r="9.8"/><circle cx="467.4" cy="1399.3" r="9.8"/><circle cx="468.8" cy="1414.2" r="9.8"/><circle cx="470.6" cy="1405.7" r="9.8"/><circle cx="471.9" cy="1421.4" r="9.8"/><circle cx="473.2" cy="1401.0" r="9.8"/><circle cx="474.9" cy="1420.9" r="9.8"/><circle cx="476.6" cy="1399.1" r="9.8"/><circle cx="478.2" cy="1415.6" r="9.8"/><circle cx="479.7" cy="1400.0" r="9.8"/><circle cx="481.3" cy="1412.3" r="9.8"/><circle cx="483.1" cy="1415.3" r="9.8"/><circle cx="484.8" cy="1405.5" r="9.8"/><circle cx="486.1" cy="1421.0" r="9.8"/><circle cx="487.5" cy="1421.7" r="9.8"/><circle cx="489.0" cy="1421.5" r="9.8"/><circle cx="490.5" cy="1425.2" r="9.8"/><circle cx="492.2" cy="1419.6" r="9.8"/><circle cx="493.7" cy="1413.9" r="9.8"/><circle cx="495.5" cy="1415.9" r="9.8"/><circle cx="497.0" cy="1415.2" r="9.8"/><circle cx="498.2" cy="1417.3" r="9.8"/><circle cx="499.5" cy="1428.7" r="9.8"/><circle cx="501.2" cy="1424.2" r="9.8"/><circle cx="502.7" cy="1409.7" r="9.8"/><circle cx="504.2" cy="1420.1" r="9.8"/><circle cx="505.7" cy="1414.0" r="9.8"/><circle cx="507.4" cy="1425.8" r="9.8"/><circle cx="508.9" cy="1422.0" r="9.8"/><circle cx="510.3" cy="1408.3" r="9.8"/><circle cx="511.8" cy="1413.7" r="9.8"/><circle cx="513.4" cy="1404.5" r="9.8"/><circle cx="514.9" cy="1412.4" r="9.8"/><circle cx="516.0" cy="1393.7" r="9.8"/><circle cx="516.0" cy="1403.0" r="9.8"/><circle cx="518.5" cy="1358.5" r="9.8"/><circle cx="520.9" cy="1316.9" r="9.8"/><circle cx="523.0" cy="1296.0" r="9.8"/><circle cx="525.7" cy="1291.2" r="9.8"/><circle cx="525.7" cy="1305.7" r="9.8"/><circle cx="528.0" cy="1341.7" r="9.8"/><circle cx="529.7" cy="1375.3" r="9.8"/><circle cx="530.2" cy="1426.4" r="9.8"/><circle cx="531.8" cy="1407.8" r="9.8"/><circle cx="533.6" cy="1424.2" r="9.8"/><circle cx="535.2" cy="1411.0" r="9.8"/><circle cx="536.5" cy="1405.2" r="9.8"/><circle cx="538.3" cy="1418.1" r="9.8"/><circle cx="539.8" cy="1402.8" r="9.8"/><circle cx="541.7" cy="1392.0" r="9.8"/><circle cx="543.0" cy="1402.0" r="9.8"/><circle cx="544.3" cy="1424.0" r="9.8"/><circle cx="545.7" cy="1410.3" r="9.8"/><circle cx="546.9" cy="1414.8" r="9.8"/><circle cx="548.4" cy="1428.9" r="9.8"/><circle cx="549.8" cy="1413.1" r="9.8"/><circle cx="551.3" cy="1427.9" r="9.8"/><circle cx="553.1" cy="1409.0" r="9.8"/><circle cx="554.9" cy="1426.9" r="9.8"/><circle cx="556.2" cy="1428.7" r="9.8"/><circle cx="557.9" cy="1422.7" r="9.8"/><circle cx="559.2" cy="1418.7" r="9.8"/><circle cx="560.9" cy="1408.4" r="9.8"/><circle cx="562.3" cy="1425.9" r="9.8"/><circle cx="564.0" cy="1414.9" r="9.8"/><circle cx="565.7" cy="1427.5" r="9.8"/><circle cx="566.9" cy="1411.9" r="9.8"/><circle cx="568.4" cy="1428.0" r="9.8"/><circle cx="570.1" cy="1413.3" r="9.8"/><circle cx="571.8" cy="1427.8" r="9.8"/><circle cx="573.5" cy="1428.2" r="9.8"/><circle cx="575.2" cy="1418.1" r="9.8"/><circle cx="576.6" cy="1415.5" r="9.8"/><circle cx="578.4" cy="1423.0" r="9.8"/><circle cx="579.7" cy="1416.2" r="9.8"/><circle cx="581.0" cy="1427.1" r="9.8"/><circle cx="582.3" cy="1422.0" r="9.8"/><circle cx="583.3" cy="1365.0" r="9.8"/><circle cx="583.3" cy="1400.0" r="9.8"/><circle cx="583.7" cy="1410.5" r="9.8"/><circle cx="585.1" cy="1417.4" r="9.8"/><circle cx="586.4" cy="1421.5" r="9.8"/><circle cx="587.6" cy="1424.2" r="9.8"/><circle cx="588.0" cy="1370.0" r="9.8"/><circle cx="588.8" cy="1411.6" r="9.8"/><circle cx="590.3" cy="1425.9" r="9.8"/><circle cx="591.8" cy="1406.5" r="9.8"/><circle cx="593.0" cy="1376.0" r="9.8"/><circle cx="593.1" cy="1409.6" r="9.8"/><circle cx="594.5" cy="1321.7" r="9.8"/><circle cx="594.5" cy="1339.0" r="9.8"/><circle cx="594.5" cy="1418.1" r="9.8"/><circle cx="596.2" cy="1420.9" r="9.8"/><circle cx="597.7" cy="1413.2" r="9.8"/><circle cx="598.0" cy="1385.0" r="9.8"/><circle cx="599.5" cy="1422.3" r="9.8"/><circle cx="600.9" cy="1313.7" r="9.8"/><circle cx="601.2" cy="1412.8" r="9.8"/><circle cx="602.5" cy="1344.0" r="9.8"/><circle cx="602.8" cy="1420.7" r="9.8"/><circle cx="604.0" cy="1392.0" r="9.8"/><circle cx="604.2" cy="1429.5" r="9.8"/><circle cx="605.9" cy="1424.7" r="9.8"/><circle cx="607.2" cy="1429.2" r="9.8"/><circle cx="608.9" cy="1408.6" r="9.8"/><circle cx="609.0" cy="1405.0" r="9.8"/><circle cx="610.5" cy="1424.0" r="9.8"/><circle cx="610.5" cy="1374.5" r="9.8"/><circle cx="611.8" cy="1423.7" r="9.8"/><circle cx="612.0" cy="1331.3" r="9.8"/><circle cx="613.3" cy="1427.3" r="9.8"/><circle cx="614.7" cy="1424.5" r="9.8"/><circle cx="616.5" cy="1406.0" r="9.8"/><circle cx="617.0" cy="1278.4" r="9.8"/><circle cx="618.1" cy="1425.0" r="9.8"/><circle cx="619.3" cy="1266.4" r="9.8"/><circle cx="619.8" cy="1423.3" r="9.8"/><circle cx="621.2" cy="1431.4" r="9.8"/><circle cx="621.7" cy="1285.6" r="9.8"/><circle cx="622.5" cy="1331.3" r="9.8"/><circle cx="622.7" cy="1419.0" r="9.8"/><circle cx="624.2" cy="1431.2" r="9.8"/><circle cx="625.0" cy="1361.7" r="9.8"/><circle cx="625.0" cy="1374.5" r="9.8"/><circle cx="625.5" cy="1428.8" r="9.8"/><circle cx="627.0" cy="1430.0" r="9.8"/><circle cx="628.2" cy="1423.0" r="9.8"/><circle cx="629.5" cy="1415.5" r="9.8"/><circle cx="631.0" cy="1411.1" r="9.8"/><circle cx="632.6" cy="1412.0" r="9.8"/><circle cx="634.4" cy="1420.5" r="9.8"/><circle cx="635.8" cy="1404.8" r="9.8"/><circle cx="637.1" cy="1411.6" r="9.8"/><circle cx="638.6" cy="1429.4" r="9.8"/><circle cx="640.3" cy="1407.1" r="9.8"/><circle cx="641.9" cy="1411.2" r="9.8"/><circle cx="642.5" cy="1384.0" r="9.8"/><circle cx="643.6" cy="1426.8" r="9.8"/><circle cx="645.1" cy="1417.2" r="9.8"/><circle cx="646.8" cy="1409.3" r="9.8"/><circle cx="648.5" cy="1415.1" r="9.8"/><circle cx="650.3" cy="1412.5" r="9.8"/><circle cx="652.0" cy="1345.7" r="9.8"/><circle cx="652.0" cy="1372.0" r="9.8"/><circle cx="654.4" cy="1372.7" r="9.8"/><circle cx="655.0" cy="1390.5" r="9.8"/><circle cx="656.1" cy="1414.1" r="9.8"/><circle cx="657.7" cy="1417.7" r="9.8"/><circle cx="658.9" cy="1409.7" r="9.8"/><circle cx="660.5" cy="1417.5" r="9.8"/><circle cx="662.1" cy="1413.4" r="9.8"/><circle cx="663.3" cy="1411.5" r="9.8"/><circle cx="664.6" cy="1428.8" r="9.8"/><circle cx="666.0" cy="1411.7" r="9.8"/><circle cx="667.3" cy="1411.5" r="9.8"/><circle cx="669.1" cy="1417.9" r="9.8"/><circle cx="670.5" cy="1418.3" r="9.8"/><circle cx="672.2" cy="1410.8" r="9.8"/><circle cx="673.7" cy="1414.1" r="9.8"/><circle cx="675.0" cy="1427.1" r="9.8"/><circle cx="676.3" cy="1411.5" r="9.8"/><circle cx="677.7" cy="1416.1" r="9.8"/><circle cx="678.9" cy="1429.4" r="9.8"/><circle cx="680.3" cy="1413.4" r="9.8"/><circle cx="681.9" cy="1413.3" r="9.8"/><circle cx="683.3" cy="1417.5" r="9.8"/><circle cx="684.7" cy="1418.8" r="9.8"/><circle cx="686.0" cy="1407.6" r="9.8"/><circle cx="687.3" cy="1405.4" r="9.8"/><circle cx="689.1" cy="1430.6" r="9.8"/><circle cx="690.6" cy="1409.6" r="9.8"/><circle cx="692.4" cy="1419.3" r="9.8"/><circle cx="693.7" cy="1425.5" r="9.8"/><circle cx="695.5" cy="1427.2" r="9.8"/><circle cx="697.0" cy="1405.9" r="9.8"/><circle cx="698.3" cy="1409.3" r="9.8"/><circle cx="699.8" cy="1407.4" r="9.8"/><circle cx="701.4" cy="1424.5" r="9.8"/><circle cx="703.1" cy="1417.8" r="9.8"/><circle cx="704.4" cy="1430.4" r="9.8"/><circle cx="705.9" cy="1418.6" r="9.8"/><circle cx="707.2" cy="1426.7" r="9.8"/><circle cx="708.6" cy="1422.1" r="9.8"/><circle cx="710.3" cy="1430.3" r="9.8"/><circle cx="712.0" cy="1408.3" r="9.8"/><circle cx="713.3" cy="1406.0" r="9.8"/><circle cx="714.9" cy="1406.7" r="9.8"/><circle cx="716.3" cy="1420.5" r="9.8"/><circle cx="717.7" cy="1404.1" r="9.8"/><circle cx="719.3" cy="1420.8" r="9.8"/><circle cx="720.7" cy="1423.0" r="9.8"/><circle cx="721.9" cy="1427.5" r="9.8"/><circle cx="723.6" cy="1422.7" r="9.8"/><circle cx="725.4" cy="1423.7" r="9.8"/><circle cx="726.8" cy="1416.8" r="9.8"/><circle cx="728.1" cy="1406.8" r="9.8"/><circle cx="729.8" cy="1413.3" r="9.8"/><circle cx="731.5" cy="1405.1" r="9.8"/><circle cx="733.0" cy="1410.7" r="9.8"/><circle cx="734.3" cy="1410.3" r="9.8"/><circle cx="735.7" cy="1409.7" r="9.8"/><circle cx="737.3" cy="1421.8" r="9.8"/><circle cx="738.6" cy="1405.0" r="9.8"/><circle cx="739.8" cy="1416.8" r="9.8"/><circle cx="741.2" cy="1421.3" r="9.8"/><circle cx="742.9" cy="1403.5" r="9.8"/><circle cx="744.2" cy="1411.8" r="9.8"/><circle cx="745.6" cy="1414.4" r="9.8"/><circle cx="747.1" cy="1424.5" r="9.8"/><circle cx="748.4" cy="1423.5" r="9.8"/><circle cx="750.1" cy="1415.9" r="9.8"/><circle cx="751.4" cy="1405.1" r="9.8"/><circle cx="753.2" cy="1417.0" r="9.8"/><circle cx="754.5" cy="1423.8" r="9.8"/><circle cx="755.8" cy="1419.8" r="9.8"/><circle cx="757.0" cy="1422.5" r="9.8"/><circle cx="758.4" cy="1413.9" r="9.8"/><circle cx="760.1" cy="1409.1" r="9.8"/><circle cx="761.6" cy="1417.9" r="9.8"/><circle cx="763.1" cy="1418.9" r="9.8"/><circle cx="764.5" cy="1427.1" r="9.8"/><circle cx="765.8" cy="1403.4" r="9.8"/><circle cx="767.1" cy="1415.5" r="9.8"/><circle cx="768.7" cy="1406.1" r="9.8"/><circle cx="770.0" cy="1421.6" r="9.8"/><circle cx="771.4" cy="1418.2" r="9.8"/><circle cx="772.8" cy="1405.2" r="9.8"/><circle cx="774.1" cy="1426.7" r="9.8"/><circle cx="775.7" cy="1403.6" r="9.8"/><circle cx="777.2" cy="1411.3" r="9.8"/><circle cx="778.4" cy="1416.0" r="9.8"/><circle cx="780.1" cy="1404.3" r="9.8"/><circle cx="781.8" cy="1400.2" r="9.8"/><circle cx="783.2" cy="1422.5" r="9.8"/><circle cx="784.5" cy="1411.5" r="9.8"/><circle cx="786.1" cy="1400.3" r="9.8"/><circle cx="787.7" cy="1407.9" r="9.8"/><circle cx="789.4" cy="1412.7" r="9.8"/><circle cx="790.9" cy="1423.5" r="9.8"/><circle cx="792.6" cy="1418.3" r="9.8"/><circle cx="794.3" cy="1407.4" r="9.8"/><circle cx="795.7" cy="1420.9" r="9.8"/><circle cx="797.1" cy="1407.5" r="9.8"/><circle cx="798.7" cy="1421.1" r="9.8"/><circle cx="799.9" cy="1410.3" r="9.8"/><circle cx="801.5" cy="1413.8" r="9.8"/><circle cx="802.8" cy="1408.2" r="9.8"/><circle cx="804.0" cy="1416.0" r="9.8"/><circle cx="805.5" cy="1398.7" r="9.8"/><circle cx="807.1" cy="1400.6" r="9.8"/><circle cx="808.6" cy="1417.6" r="9.8"/><circle cx="809.6" cy="1440.0" r="9.8"/><circle cx="809.9" cy="1398.6" r="9.8"/><circle cx="811.5" cy="1415.7" r="9.8"/><circle cx="812.7" cy="1410.6" r="9.8"/><circle cx="814.4" cy="1406.8" r="9.8"/><circle cx="816.1" cy="1418.8" r="9.8"/><circle cx="817.3" cy="1416.3" r="9.8"/><circle cx="818.8" cy="1407.7" r="9.8"/><circle cx="820.1" cy="1405.0" r="9.8"/><circle cx="821.7" cy="1412.9" r="9.8"/><circle cx="823.1" cy="1401.0" r="9.8"/><circle cx="824.5" cy="1405.2" r="9.8"/><circle cx="825.8" cy="1421.0" r="9.8"/><circle cx="827.4" cy="1419.3" r="9.8"/><circle cx="829.2" cy="1414.2" r="9.8"/><circle cx="830.5" cy="1421.4" r="9.8"/><circle cx="832.0" cy="1410.0" r="9.8"/><circle cx="833.7" cy="1423.7" r="9.8"/><circle cx="835.2" cy="1422.0" r="9.8"/><circle cx="837.0" cy="1424.0" r="9.8"/><circle cx="838.2" cy="1404.6" r="9.8"/><circle cx="839.9" cy="1409.3" r="9.8"/><circle cx="841.7" cy="1404.5" r="9.8"/><circle cx="843.0" cy="1397.0" r="9.8"/><circle cx="844.0" cy="1371.6" r="9.8"/><circle cx="844.9" cy="1409.9" r="9.8"/><circle cx="846.1" cy="1412.3" r="9.8"/><circle cx="847.5" cy="1420.1" r="9.8"/><circle cx="848.9" cy="1425.7" r="9.8"/><circle cx="850.1" cy="1422.9" r="9.8"/><circle cx="851.7" cy="1335.0" r="9.8"/><circle cx="854.0" cy="1352.8" r="9.8"/><circle cx="855.0" cy="1381.6" r="9.8"/><circle cx="855.4" cy="1340.7" r="9.8"/><circle cx="857.3" cy="1429.5" r="9.8"/><circle cx="858.8" cy="1421.1" r="9.8"/><circle cx="860.5" cy="1425.9" r="9.8"/><circle cx="862.0" cy="1407.5" r="9.8"/><circle cx="863.2" cy="1420.3" r="9.8"/><circle cx="864.9" cy="1411.0" r="9.8"/><circle cx="866.1" cy="1407.1" r="9.8"/><circle cx="867.4" cy="1411.7" r="9.8"/><circle cx="869.2" cy="1422.4" r="9.8"/><circle cx="870.5" cy="1406.3" r="9.8"/><circle cx="872.1" cy="1424.5" r="9.8"/><circle cx="873.7" cy="1423.1" r="9.8"/><circle cx="875.1" cy="1431.3" r="9.8"/><circle cx="876.8" cy="1407.5" r="9.8"/><circle cx="878.3" cy="1406.8" r="9.8"/><circle cx="879.6" cy="1425.4" r="9.8"/><circle cx="881.0" cy="1406.5" r="9.8"/><circle cx="882.8" cy="1421.4" r="9.8"/><circle cx="884.2" cy="1406.8" r="9.8"/><circle cx="885.5" cy="1409.8" r="9.8"/><circle cx="887.0" cy="1360.0" r="9.8"/><circle cx="887.0" cy="1390.0" r="9.8"/><circle cx="889.0" cy="1310.0" r="9.8"/><circle cx="889.0" cy="1330.0" r="9.8"/><circle cx="889.4" cy="1279.6" r="9.8"/><circle cx="889.4" cy="1293.0" r="9.8"/><circle cx="890.2" cy="1421.6" r="9.8"/><circle cx="891.6" cy="1409.3" r="9.8"/><circle cx="892.8" cy="1424.4" r="9.8"/><circle cx="894.5" cy="1422.9" r="9.8"/><circle cx="895.7" cy="1428.4" r="9.8"/><circle cx="897.3" cy="1420.6" r="9.8"/><circle cx="899.0" cy="1405.9" r="9.8"/><circle cx="900.8" cy="1422.0" r="9.8"/><circle cx="902.1" cy="1426.3" r="9.8"/><circle cx="903.6" cy="1410.2" r="9.8"/><circle cx="905.1" cy="1422.5" r="9.8"/><circle cx="906.5" cy="1412.4" r="9.8"/><circle cx="908.1" cy="1409.0" r="9.8"/><circle cx="909.8" cy="1411.1" r="9.8"/><circle cx="911.1" cy="1406.5" r="9.8"/><circle cx="912.5" cy="1413.6" r="9.8"/><circle cx="913.9" cy="1409.1" r="9.8"/><circle cx="915.2" cy="1424.6" r="9.8"/><circle cx="916.9" cy="1413.6" r="9.8"/><circle cx="918.0" cy="1355.0" r="9.8"/><circle cx="921.6" cy="1300.7" r="9.8"/><circle cx="925.0" cy="1300.0" r="9.8"/><circle cx="928.0" cy="1253.0" r="9.8"/><circle cx="931.0" cy="1276.0" r="9.8"/><circle cx="932.0" cy="1250.0" r="9.8"/><circle cx="932.0" cy="1367.0" r="9.8"/><circle cx="933.0" cy="1323.0" r="9.8"/><circle cx="934.9" cy="1422.8" r="9.8"/><circle cx="936.6" cy="1404.8" r="9.8"/><circle cx="937.8" cy="1423.5" r="9.8"/><circle cx="939.3" cy="1425.2" r="9.8"/><circle cx="940.0" cy="1400.0" r="9.8"/><circle cx="943.0" cy="1387.5" r="9.8"/><circle cx="944.9" cy="1410.3" r="9.8"/><circle cx="946.2" cy="1419.7" r="9.8"/><circle cx="947.5" cy="1406.9" r="9.8"/><circle cx="949.0" cy="1426.0" r="9.8"/><circle cx="950.3" cy="1417.2" r="9.8"/><circle cx="951.8" cy="1410.7" r="9.8"/><circle cx="953.1" cy="1423.0" r="9.8"/><circle cx="954.7" cy="1416.5" r="9.8"/><circle cx="956.0" cy="1419.1" r="9.8"/><circle cx="957.8" cy="1419.0" r="9.8"/><circle cx="959.4" cy="1417.7" r="9.8"/><circle cx="960.7" cy="1364.0" r="9.8"/><circle cx="962.0" cy="1380.0" r="9.8"/><circle cx="962.6" cy="1417.5" r="9.8"/><circle cx="963.9" cy="1407.9" r="9.8"/><circle cx="965.2" cy="1426.8" r="9.8"/><circle cx="967.0" cy="1415.8" r="9.8"/><circle cx="968.7" cy="1416.2" r="9.8"/><circle cx="970.4" cy="1414.8" r="9.8"/><circle cx="971.7" cy="1410.7" r="9.8"/><circle cx="973.5" cy="1425.7" r="9.8"/><circle cx="975.0" cy="1418.7" r="9.8"/><circle cx="976.5" cy="1425.0" r="9.8"/><circle cx="977.9" cy="1415.6" r="9.8"/><circle cx="979.7" cy="1426.7" r="9.8"/><circle cx="981.1" cy="1408.7" r="9.8"/><circle cx="982.9" cy="1424.9" r="9.8"/><circle cx="984.2" cy="1405.6" r="9.8"/><circle cx="986.0" cy="1417.8" r="9.8"/><circle cx="987.2" cy="1406.4" r="9.8"/><circle cx="987.8" cy="1376.0" r="9.8"/><circle cx="987.8" cy="1397.0" r="9.8"/><circle cx="989.0" cy="1340.0" r="9.8"/><circle cx="992.0" cy="1305.0" r="9.8"/><circle cx="994.3" cy="1298.6" r="9.8"/><circle cx="995.6" cy="1311.5" r="9.8"/><circle cx="997.0" cy="1353.0" r="9.8"/><circle cx="998.7" cy="1428.2" r="9.8"/><circle cx="1000.1" cy="1412.5" r="9.8"/><circle cx="1001.8" cy="1430.4" r="9.8"/><circle cx="1003.4" cy="1408.8" r="9.8"/><circle cx="1004.6" cy="1414.4" r="9.8"/><circle cx="1006.2" cy="1413.1" r="9.8"/><circle cx="1007.6" cy="1418.0" r="9.8"/><circle cx="1009.1" cy="1417.4" r="9.8"/><circle cx="1010.7" cy="1416.5" r="9.8"/><circle cx="1012.2" cy="1427.2" r="9.8"/><circle cx="1013.7" cy="1414.7" r="9.8"/><circle cx="1015.1" cy="1407.3" r="9.8"/><circle cx="1016.7" cy="1415.0" r="9.8"/><circle cx="1018.0" cy="1414.4" r="9.8"/><circle cx="1019.3" cy="1423.3" r="9.8"/><circle cx="1020.8" cy="1413.8" r="9.8"/><circle cx="1022.0" cy="1411.0" r="9.8"/><circle cx="1023.2" cy="1408.9" r="9.8"/><circle cx="1024.9" cy="1415.1" r="9.8"/><circle cx="1026.1" cy="1415.6" r="9.8"/><circle cx="1027.6" cy="1404.2" r="9.8"/><circle cx="1028.9" cy="1406.9" r="9.8"/><circle cx="1030.7" cy="1410.4" r="9.8"/><circle cx="1032.3" cy="1424.7" r="9.8"/><circle cx="1034.1" cy="1417.0" r="9.8"/><circle cx="1035.9" cy="1406.1" r="9.8"/><circle cx="1037.2" cy="1409.5" r="9.8"/><circle cx="1039.0" cy="1428.6" r="9.8"/><circle cx="1040.4" cy="1410.6" r="9.8"/><circle cx="1041.7" cy="1407.0" r="9.8"/><circle cx="1043.0" cy="1409.2" r="9.8"/><circle cx="1044.3" cy="1417.5" r="9.8"/><circle cx="1046.1" cy="1425.3" r="9.8"/><circle cx="1047.4" cy="1417.5" r="9.8"/><circle cx="1048.8" cy="1429.9" r="9.8"/><circle cx="1050.1" cy="1413.0" r="9.8"/><circle cx="1051.9" cy="1426.3" r="9.8"/><circle cx="1053.5" cy="1427.7" r="9.8"/><circle cx="1055.1" cy="1414.1" r="9.8"/><circle cx="1056.5" cy="1407.8" r="9.8"/><circle cx="1058.0" cy="1415.5" r="9.8"/><circle cx="1059.7" cy="1427.9" r="9.8"/><circle cx="1061.5" cy="1414.2" r="9.8"/><circle cx="1063.0" cy="1409.8" r="9.8"/><circle cx="1064.3" cy="1404.7" r="9.8"/><circle cx="1065.9" cy="1421.2" r="9.8"/><circle cx="1067.5" cy="1419.0" r="9.8"/><circle cx="1068.8" cy="1411.1" r="9.8"/><circle cx="1070.1" cy="1409.1" r="9.8"/><circle cx="1071.4" cy="1413.9" r="9.8"/><circle cx="1073.2" cy="1415.3" r="9.8"/><circle cx="1074.8" cy="1422.4" r="9.8"/><circle cx="1076.0" cy="1429.7" r="9.8"/><circle cx="1077.3" cy="1414.4" r="9.8"/><circle cx="1078.8" cy="1417.2" r="9.8"/><circle cx="1080.5" cy="1427.1" r="9.8"/><circle cx="1081.8" cy="1413.5" r="9.8"/><circle cx="1083.0" cy="1430.5" r="9.8"/><circle cx="1084.5" cy="1427.8" r="9.8"/><circle cx="1085.9" cy="1424.7" r="9.8"/><circle cx="1087.4" cy="1415.1" r="9.8"/><circle cx="1088.7" cy="1414.2" r="9.8"/><circle cx="1090.2" cy="1427.0" r="9.8"/><circle cx="1092.0" cy="1424.2" r="9.8"/><circle cx="1093.3" cy="1407.8" r="9.8"/><circle cx="1094.9" cy="1420.2" r="9.8"/><circle cx="1096.3" cy="1430.4" r="9.8"/><circle cx="1097.9" cy="1416.1" r="9.8"/><circle cx="1099.3" cy="1413.9" r="9.8"/><circle cx="1100.8" cy="1406.3" r="9.8"/><circle cx="1102.4" cy="1424.4" r="9.8"/><circle cx="1104.2" cy="1429.8" r="9.8"/><circle cx="1105.7" cy="1420.3" r="9.8"/><circle cx="1107.0" cy="1429.4" r="9.8"/><circle cx="1108.7" cy="1430.7" r="9.8"/><circle cx="1110.2" cy="1406.4" r="9.8"/><circle cx="1111.5" cy="1425.8" r="9.8"/><circle cx="1112.0" cy="1367.0" r="9.8"/><circle cx="1112.0" cy="1378.8" r="9.8"/><circle cx="1115.0" cy="1390.0" r="9.8"/><circle cx="1116.0" cy="1423.0" r="9.8"/><circle cx="1117.3" cy="1429.8" r="9.8"/><circle cx="1119.1" cy="1410.6" r="9.8"/><circle cx="1120.7" cy="1430.9" r="9.8"/><circle cx="1122.4" cy="1411.6" r="9.8"/><circle cx="1123.9" cy="1411.7" r="9.8"/><circle cx="1125.4" cy="1425.2" r="9.8"/><circle cx="1126.6" cy="1425.0" r="9.8"/><circle cx="1127.8" cy="1412.7" r="9.8"/><circle cx="1129.5" cy="1412.0" r="9.8"/><circle cx="1130.9" cy="1415.9" r="9.8"/><circle cx="1132.4" cy="1409.6" r="9.8"/><circle cx="1133.9" cy="1423.2" r="9.8"/><circle cx="1135.5" cy="1404.7" r="9.8"/><circle cx="1136.8" cy="1406.8" r="9.8"/><circle cx="1138.0" cy="1422.9" r="9.8"/><circle cx="1139.3" cy="1410.2" r="9.8"/><circle cx="1141.1" cy="1410.1" r="9.8"/><circle cx="1142.5" cy="1406.5" r="9.8"/><circle cx="1143.9" cy="1423.2" r="9.8"/><circle cx="1145.7" cy="1412.9" r="9.8"/><circle cx="1147.3" cy="1411.9" r="9.8"/><circle cx="1149.1" cy="1417.0" r="9.8"/><circle cx="1150.8" cy="1411.0" r="9.8"/><circle cx="1152.5" cy="1417.8" r="9.8"/><circle cx="1154.1" cy="1414.3" r="9.8"/><circle cx="1155.5" cy="1423.6" r="9.8"/><circle cx="1157.1" cy="1427.1" r="9.8"/><circle cx="1158.8" cy="1425.4" r="9.8"/><circle cx="1160.0" cy="1426.3" r="9.8"/><circle cx="1161.8" cy="1420.1" r="9.8"/><circle cx="1163.1" cy="1428.4" r="9.8"/><circle cx="1164.3" cy="1411.0" r="9.8"/><circle cx="1165.9" cy="1427.0" r="9.8"/><circle cx="1167.4" cy="1418.8" r="9.8"/><circle cx="1169.1" cy="1406.6" r="9.8"/><circle cx="1170.9" cy="1426.1" r="9.8"/><circle cx="1172.6" cy="1403.6" r="9.8"/><circle cx="1174.3" cy="1424.5" r="9.8"/><circle cx="1175.7" cy="1424.2" r="9.8"/><circle cx="1176.9" cy="1404.8" r="9.8"/><circle cx="1178.6" cy="1410.3" r="9.8"/><circle cx="1180.3" cy="1410.2" r="9.8"/><circle cx="1181.6" cy="1424.0" r="9.8"/><circle cx="1182.9" cy="1406.7" r="9.8"/><circle cx="1184.2" cy="1418.1" r="9.8"/><circle cx="1185.7" cy="1425.8" r="9.8"/><circle cx="1187.0" cy="1418.9" r="9.8"/><circle cx="1188.7" cy="1416.6" r="9.8"/><circle cx="1190.1" cy="1401.0" r="9.8"/><circle cx="1191.6" cy="1403.9" r="9.8"/><circle cx="1193.1" cy="1425.3" r="9.8"/><circle cx="1194.6" cy="1414.6" r="9.8"/><circle cx="1196.2" cy="1417.0" r="9.8"/><circle cx="1197.9" cy="1411.9" r="9.8"/><circle cx="1199.2" cy="1403.4" r="9.8"/><circle cx="1200.4" cy="1404.5" r="9.8"/><circle cx="1201.7" cy="1425.9" r="9.8"/><circle cx="1203.1" cy="1425.8" r="9.8"/><circle cx="1204.6" cy="1412.9" r="9.8"/><circle cx="1206.2" cy="1420.9" r="9.8"/><circle cx="1207.7" cy="1416.6" r="9.8"/><circle cx="1209.0" cy="1387.0" r="9.8"/><circle cx="1212.8" cy="1344.0" r="9.8"/><circle cx="1216.0" cy="1290.0" r="9.8"/><circle cx="1219.3" cy="1301.0" r="9.8"/><circle cx="1223.0" cy="1322.0" r="9.8"/><circle cx="1223.0" cy="1368.4" r="9.8"/><circle cx="1224.3" cy="1420.0" r="9.8"/><circle cx="1225.6" cy="1401.7" r="9.8"/><circle cx="1227.1" cy="1415.4" r="9.8"/><circle cx="1228.9" cy="1419.2" r="9.8"/><circle cx="1230.3" cy="1411.4" r="9.8"/><circle cx="1232.0" cy="1405.6" r="9.8"/><circle cx="1232.0" cy="1391.7" r="9.8"/><circle cx="1233.6" cy="1416.2" r="9.8"/><circle cx="1235.0" cy="1421.2" r="9.8"/><circle cx="1236.7" cy="1407.9" r="9.8"/><circle cx="1238.3" cy="1420.8" r="9.8"/><circle cx="1239.8" cy="1405.0" r="9.8"/><circle cx="1241.3" cy="1422.0" r="9.8"/><circle cx="1242.8" cy="1402.1" r="9.8"/><circle cx="1244.2" cy="1420.2" r="9.8"/><circle cx="1245.5" cy="1406.9" r="9.8"/><circle cx="1247.2" cy="1421.2" r="9.8"/><circle cx="1248.5" cy="1412.1" r="9.8"/><circle cx="1249.8" cy="1417.7" r="9.8"/><circle cx="1251.1" cy="1401.2" r="9.8"/><circle cx="1252.8" cy="1424.4" r="9.8"/><circle cx="1254.6" cy="1424.7" r="9.8"/><circle cx="1256.0" cy="1401.9" r="9.8"/><circle cx="1257.7" cy="1408.7" r="9.8"/><circle cx="1259.1" cy="1423.0" r="9.8"/><circle cx="1260.7" cy="1425.6" r="9.8"/><circle cx="1262.0" cy="1418.4" r="9.8"/><circle cx="1263.3" cy="1418.2" r="9.8"/><circle cx="1264.9" cy="1410.7" r="9.8"/><circle cx="1266.4" cy="1412.4" r="9.8"/><circle cx="1267.9" cy="1425.3" r="9.8"/><circle cx="1269.5" cy="1418.5" r="9.8"/><circle cx="1271.1" cy="1405.4" r="9.8"/><circle cx="1272.6" cy="1414.2" r="9.8"/><circle cx="1274.2" cy="1410.2" r="9.8"/><circle cx="1276.0" cy="1408.8" r="9.8"/><circle cx="1277.6" cy="1406.6" r="9.8"/><circle cx="1279.2" cy="1412.1" r="9.8"/><circle cx="1280.7" cy="1420.6" r="9.8"/><circle cx="1282.2" cy="1426.2" r="9.8"/><circle cx="1283.7" cy="1408.2" r="9.8"/><circle cx="1285.3" cy="1412.1" r="9.8"/><circle cx="1286.7" cy="1417.5" r="9.8"/><circle cx="1288.1" cy="1412.3" r="9.8"/><circle cx="1289.6" cy="1410.8" r="9.8"/><circle cx="1291.3" cy="1423.7" r="9.8"/><circle cx="1292.9" cy="1408.1" r="9.8"/><circle cx="1294.4" cy="1415.6" r="9.8"/><circle cx="1296.1" cy="1424.6" r="9.8"/><circle cx="1297.8" cy="1404.5" r="9.8"/><circle cx="1299.3" cy="1426.8" r="9.8"/><circle cx="1300.9" cy="1415.6" r="9.8"/><circle cx="1302.5" cy="1416.5" r="9.8"/><circle cx="1304.1" cy="1408.4" r="9.8"/><circle cx="1305.6" cy="1419.6" r="9.8"/><circle cx="1307.4" cy="1425.0" r="9.8"/><circle cx="1309.0" cy="1420.3" r="9.8"/><circle cx="1310.6" cy="1427.5" r="9.8"/><circle cx="1312.4" cy="1421.5" r="9.8"/><circle cx="1313.7" cy="1423.8" r="9.8"/><circle cx="1315.1" cy="1430.7" r="9.8"/><circle cx="1316.6" cy="1420.1" r="9.8"/><circle cx="1318.2" cy="1422.0" r="9.8"/><circle cx="1319.5" cy="1425.4" r="9.8"/><circle cx="1321.2" cy="1406.7" r="9.8"/><circle cx="1322.7" cy="1425.6" r="9.8"/><circle cx="1324.4" cy="1421.1" r="9.8"/><circle cx="1325.7" cy="1428.0" r="9.8"/><circle cx="1327.4" cy="1410.2" r="9.8"/><circle cx="1328.9" cy="1425.1" r="9.8"/><circle cx="1330.7" cy="1421.4" r="9.8"/><circle cx="1332.3" cy="1408.8" r="9.8"/><circle cx="1334.0" cy="1417.7" r="9.8"/><circle cx="1335.4" cy="1415.4" r="9.8"/><circle cx="1336.7" cy="1407.7" r="9.8"/><circle cx="1338.1" cy="1407.0" r="9.8"/><circle cx="1339.4" cy="1419.3" r="9.8"/><circle cx="1340.8" cy="1417.8" r="9.8"/><circle cx="1342.1" cy="1428.8" r="9.8"/><circle cx="1343.7" cy="1421.4" r="9.8"/><circle cx="1345.1" cy="1420.7" r="9.8"/><circle cx="1346.6" cy="1417.3" r="9.8"/><circle cx="1348.1" cy="1411.2" r="9.8"/><circle cx="1349.6" cy="1404.0" r="9.8"/><circle cx="1351.3" cy="1426.8" r="9.8"/><circle cx="1353.0" cy="1404.5" r="9.8"/><circle cx="1354.6" cy="1424.5" r="9.8"/><circle cx="1356.3" cy="1411.6" r="9.8"/><circle cx="1357.5" cy="1427.8" r="9.8"/><circle cx="1359.3" cy="1410.9" r="9.8"/><circle cx="1360.7" cy="1425.4" r="9.8"/><circle cx="1362.0" cy="1419.2" r="9.8"/><circle cx="1363.2" cy="1404.8" r="9.8"/><circle cx="1364.9" cy="1424.2" r="9.8"/><circle cx="1366.7" cy="1412.9" r="9.8"/><circle cx="1368.3" cy="1411.4" r="9.8"/><circle cx="1370.1" cy="1408.4" r="9.8"/><circle cx="1371.8" cy="1424.0" r="9.8"/><circle cx="1373.4" cy="1415.3" r="9.8"/><circle cx="1375.0" cy="1417.8" r="9.8"/><circle cx="1376.8" cy="1414.9" r="9.8"/><circle cx="1378.1" cy="1423.3" r="9.8"/><circle cx="1379.4" cy="1416.6" r="9.8"/><circle cx="1380.6" cy="1417.3" r="9.8"/><circle cx="1381.9" cy="1416.7" r="9.8"/><circle cx="1383.4" cy="1415.5" r="9.8"/><circle cx="1385.1" cy="1429.5" r="9.8"/><circle cx="1386.8" cy="1417.5" r="9.8"/><circle cx="1388.4" cy="1412.3" r="9.8"/><circle cx="1390.1" cy="1419.9" r="9.8"/><circle cx="1391.5" cy="1404.6" r="9.8"/><circle cx="1392.8" cy="1413.1" r="9.8"/><circle cx="1394.4" cy="1429.1" r="9.8"/><circle cx="1395.9" cy="1411.9" r="9.8"/><circle cx="1397.7" cy="1421.2" r="9.8"/><circle cx="1399.5" cy="1416.5" r="9.8"/><circle cx="1401.0" cy="1410.3" r="9.8"/><circle cx="1402.5" cy="1419.7" r="9.8"/><circle cx="1404.3" cy="1418.4" r="9.8"/><circle cx="1405.7" cy="1413.8" r="9.8"/><circle cx="1407.4" cy="1421.6" r="9.8"/><circle cx="1408.9" cy="1415.7" r="9.8"/><circle cx="1410.4" cy="1404.8" r="9.8"/><circle cx="1411.8" cy="1404.5" r="9.8"/><circle cx="1413.2" cy="1412.7" r="9.8"/><circle cx="1414.6" cy="1412.4" r="9.8"/><circle cx="1416.4" cy="1408.3" r="9.8"/><circle cx="1418.0" cy="1418.1" r="9.8"/><circle cx="1419.6" cy="1409.7" r="9.8"/><circle cx="1421.3" cy="1425.6" r="9.8"/><circle cx="1422.9" cy="1403.7" r="9.8"/><circle cx="1424.4" cy="1425.9" r="9.8"/><circle cx="1425.8" cy="1427.2" r="9.8"/><circle cx="1427.1" cy="1403.5" r="9.8"/><circle cx="1428.7" cy="1410.5" r="9.8"/><circle cx="1430.4" cy="1404.1" r="9.8"/><circle cx="1431.9" cy="1411.9" r="9.8"/><circle cx="1433.5" cy="1409.9" r="9.8"/><circle cx="1435.1" cy="1410.5" r="9.8"/><circle cx="1436.0" cy="1441.0" r="9.8"/><circle cx="1436.4" cy="1410.9" r="9.8"/><circle cx="1437.9" cy="1408.5" r="9.8"/><circle cx="1439.1" cy="1423.8" r="9.8"/><circle cx="1440.3" cy="1408.3" r="9.8"/><circle cx="1442.1" cy="1411.5" r="9.8"/><circle cx="1443.5" cy="1413.5" r="9.8"/><circle cx="1444.9" cy="1419.9" r="9.8"/><circle cx="1446.3" cy="1419.1" r="9.8"/><circle cx="1447.8" cy="1410.3" r="9.8"/><circle cx="1449.5" cy="1425.4" r="9.8"/><circle cx="1451.1" cy="1425.5" r="9.8"/><circle cx="1452.3" cy="1405.1" r="9.8"/><circle cx="1453.9" cy="1402.1" r="9.8"/><circle cx="1455.4" cy="1425.6" r="9.8"/><circle cx="1456.8" cy="1410.3" r="9.8"/><circle cx="1458.6" cy="1400.0" r="9.8"/><circle cx="1460.0" cy="1414.8" r="9.8"/><circle cx="1461.3" cy="1408.6" r="9.8"/><circle cx="1462.6" cy="1421.4" r="9.8"/><circle cx="1463.8" cy="1425.2" r="9.8"/><circle cx="1465.4" cy="1422.0" r="9.8"/><circle cx="1467.2" cy="1422.8" r="9.8"/><circle cx="1468.9" cy="1421.7" r="9.8"/><circle cx="1470.2" cy="1406.2" r="9.8"/><circle cx="1471.5" cy="1405.8" r="9.8"/><circle cx="1472.8" cy="1423.7" r="9.8"/><circle cx="1474.5" cy="1365.0" r="9.8"/><circle cx="1478.0" cy="1375.0" r="9.8"/><circle cx="1479.4" cy="1386.7" r="9.8"/><circle cx="1480.8" cy="1418.2" r="9.8"/><circle cx="1482.6" cy="1424.6" r="9.8"/><circle cx="1484.2" cy="1403.6" r="9.8"/><circle cx="1485.4" cy="1417.0" r="9.8"/><circle cx="1487.1" cy="1420.8" r="9.8"/><circle cx="1488.8" cy="1412.5" r="9.8"/><circle cx="1490.0" cy="1415.7" r="9.8"/><circle cx="1491.6" cy="1413.8" r="9.8"/><circle cx="1493.2" cy="1421.6" r="9.8"/><circle cx="1494.9" cy="1415.9" r="9.8"/><circle cx="1496.5" cy="1408.9" r="9.8"/><circle cx="1497.9" cy="1415.3" r="9.8"/><circle cx="1499.6" cy="1410.4" r="9.8"/><circle cx="1501.0" cy="1423.4" r="9.8"/><circle cx="1502.7" cy="1406.5" r="9.8"/><circle cx="1504.4" cy="1416.0" r="9.8"/><circle cx="1506.0" cy="1399.0" r="9.8"/><circle cx="1507.7" cy="1408.7" r="9.8"/><circle cx="1509.1" cy="1413.2" r="9.8"/><circle cx="1510.8" cy="1414.4" r="9.8"/><circle cx="1512.4" cy="1408.4" r="9.8"/><circle cx="1514.2" cy="1403.0" r="9.8"/><circle cx="1515.5" cy="1424.0" r="9.8"/><circle cx="1516.9" cy="1413.0" r="9.8"/><circle cx="1518.4" cy="1402.6" r="9.8"/><circle cx="1519.8" cy="1364.0" r="9.8"/><circle cx="1521.0" cy="1371.7" r="9.8"/><circle cx="1523.7" cy="1374.0" r="9.8"/><circle cx="1525.0" cy="1401.6" r="9.8"/><circle cx="1526.6" cy="1405.9" r="9.8"/><circle cx="1528.4" cy="1414.7" r="9.8"/><circle cx="1529.6" cy="1409.3" r="9.8"/><circle cx="1531.3" cy="1418.5" r="9.8"/><circle cx="1533.0" cy="1399.3" r="9.8"/><circle cx="1533.6" cy="1384.7" r="9.8"/><circle cx="1534.3" cy="1407.8" r="9.8"/><circle cx="1535.9" cy="1411.5" r="9.8"/><circle cx="1537.2" cy="1417.0" r="9.8"/><circle cx="1538.9" cy="1421.6" r="9.8"/><circle cx="1540.6" cy="1403.8" r="9.8"/><circle cx="1541.9" cy="1408.9" r="9.8"/><circle cx="1543.7" cy="1401.0" r="9.8"/><circle cx="1545.2" cy="1411.8" r="9.8"/><circle cx="1546.7" cy="1419.4" r="9.8"/><circle cx="1548.0" cy="1419.7" r="9.8"/><circle cx="1549.7" cy="1415.0" r="9.8"/><circle cx="1551.2" cy="1414.0" r="9.8"/><circle cx="1552.7" cy="1420.7" r="9.8"/><circle cx="1553.9" cy="1398.6" r="9.8"/><circle cx="1555.4" cy="1421.9" r="9.8"/><circle cx="1556.9" cy="1404.1" r="9.8"/><circle cx="1558.2" cy="1409.1" r="9.8"/><circle cx="1559.6" cy="1411.2" r="9.8"/><circle cx="1560.8" cy="1423.9" r="9.8"/><circle cx="1562.6" cy="1402.2" r="9.8"/><circle cx="1564.1" cy="1410.0" r="9.8"/><circle cx="1565.5" cy="1404.5" r="9.8"/><circle cx="1566.9" cy="1400.1" r="9.8"/><circle cx="1568.6" cy="1418.2" r="9.8"/><circle cx="1569.8" cy="1419.6" r="9.8"/><circle cx="1571.1" cy="1422.6" r="9.8"/><circle cx="1572.4" cy="1410.2" r="9.8"/><circle cx="1574.1" cy="1412.8" r="9.8"/><circle cx="1575.9" cy="1401.0" r="9.8"/><circle cx="1577.1" cy="1409.1" r="9.8"/><circle cx="1578.5" cy="1421.7" r="9.8"/><circle cx="1580.3" cy="1418.1" r="9.8"/><circle cx="1581.9" cy="1408.0" r="9.8"/><circle cx="1583.6" cy="1407.2" r="9.8"/><circle cx="1585.1" cy="1413.0" r="9.8"/><circle cx="1586.4" cy="1399.5" r="9.8"/><circle cx="1588.2" cy="1419.0" r="9.8"/><circle cx="1589.4" cy="1418.1" r="9.8"/><circle cx="1590.8" cy="1401.1" r="9.8"/><circle cx="1592.5" cy="1402.8" r="9.8"/><circle cx="1593.8" cy="1404.2" r="9.8"/><circle cx="1595.4" cy="1407.8" r="9.8"/><circle cx="1597.2" cy="1423.3" r="9.8"/><circle cx="1598.5" cy="1405.0" r="9.8"/><circle cx="1600.2" cy="1407.0" r="9.8"/><circle cx="1601.6" cy="1409.3" r="9.8"/><circle cx="1603.3" cy="1422.0" r="9.8"/><circle cx="1604.7" cy="1418.0" r="9.8"/><circle cx="1605.9" cy="1412.1" r="9.8"/><circle cx="1607.2" cy="1418.5" r="9.8"/><circle cx="1608.5" cy="1407.0" r="9.8"/><circle cx="1609.7" cy="1406.0" r="9.8"/><circle cx="1611.0" cy="1423.8" r="9.8"/><circle cx="1612.8" cy="1402.7" r="9.8"/><circle cx="1614.5" cy="1422.3" r="9.8"/><circle cx="1616.0" cy="1423.9" r="9.8"/><circle cx="1617.8" cy="1404.8" r="9.8"/><circle cx="1619.3" cy="1415.4" r="9.8"/><circle cx="1620.7" cy="1406.0" r="9.8"/><circle cx="1622.2" cy="1411.4" r="9.8"/><circle cx="1623.5" cy="1422.3" r="9.8"/><circle cx="1624.7" cy="1409.7" r="9.8"/><circle cx="1626.3" cy="1424.8" r="9.8"/><circle cx="1628.0" cy="1421.8" r="9.8"/><circle cx="1629.4" cy="1424.8" r="9.8"/><circle cx="1630.8" cy="1407.0" r="9.8"/><circle cx="1632.2" cy="1424.8" r="9.8"/><circle cx="1633.7" cy="1420.9" r="9.8"/><circle cx="1635.4" cy="1426.4" r="9.8"/><circle cx="1637.0" cy="1358.0" r="9.8"/><circle cx="1637.0" cy="1386.5" r="9.8"/><circle cx="1638.4" cy="1316.7" r="9.8"/><circle cx="1639.6" cy="1296.0" r="9.8"/><circle cx="1643.5" cy="1254.6" r="9.8"/><circle cx="1646.0" cy="1237.8" r="9.8"/><circle cx="1646.0" cy="1266.3" r="9.8"/><circle cx="1648.7" cy="1315.4" r="9.8"/><circle cx="1650.0" cy="1372.3" r="9.8"/><circle cx="1650.5" cy="1404.2" r="9.8"/><circle cx="1651.7" cy="1408.7" r="9.8"/><circle cx="1653.1" cy="1426.2" r="9.8"/><circle cx="1654.3" cy="1408.1" r="9.8"/><circle cx="1655.9" cy="1406.1" r="9.8"/><circle cx="1657.2" cy="1415.0" r="9.8"/><circle cx="1658.5" cy="1425.3" r="9.8"/><circle cx="1660.1" cy="1411.4" r="9.8"/><circle cx="1661.4" cy="1428.0" r="9.8"/><circle cx="1661.6" cy="1332.2" r="9.8"/><circle cx="1662.7" cy="1414.2" r="9.8"/><circle cx="1663.0" cy="1265.0" r="9.8"/><circle cx="1664.2" cy="1423.0" r="9.8"/><circle cx="1665.5" cy="1161.5" r="9.8"/><circle cx="1665.5" cy="1204.0" r="9.8"/><circle cx="1665.5" cy="1414.1" r="9.8"/><circle cx="1667.0" cy="1135.0" r="9.8"/><circle cx="1667.1" cy="1409.0" r="9.8"/><circle cx="1668.0" cy="1355.0" r="9.8"/><circle cx="1668.7" cy="1424.9" r="9.8"/><circle cx="1669.4" cy="1153.8" r="9.8"/><circle cx="1669.9" cy="1411.0" r="9.8"/><circle cx="1670.7" cy="1177.0" r="9.8"/><circle cx="1671.4" cy="1411.4" r="9.8"/><circle cx="1672.6" cy="1409.0" r="9.8"/><circle cx="1672.7" cy="1228.8" r="9.8"/><circle cx="1674.0" cy="1408.2" r="9.8"/><circle cx="1675.7" cy="1417.4" r="9.8"/><circle cx="1675.8" cy="1306.4" r="9.8"/><circle cx="1676.9" cy="1406.5" r="9.8"/><circle cx="1678.4" cy="1407.5" r="9.8"/><circle cx="1679.8" cy="1425.4" r="9.8"/><circle cx="1681.0" cy="1353.0" r="9.8"/><circle cx="1681.5" cy="1420.7" r="9.8"/><circle cx="1682.8" cy="1420.6" r="9.8"/><circle cx="1684.3" cy="1418.8" r="9.8"/><circle cx="1685.8" cy="1427.5" r="9.8"/><circle cx="1686.0" cy="1375.0" r="9.8"/><circle cx="1687.5" cy="1409.4" r="9.8"/><circle cx="1689.2" cy="1422.6" r="9.8"/><circle cx="1690.0" cy="1365.0" r="9.8"/><circle cx="1690.8" cy="1421.1" r="9.8"/><circle cx="1692.5" cy="1429.6" r="9.8"/><circle cx="1694.2" cy="1406.3" r="9.8"/><circle cx="1695.7" cy="1417.9" r="9.8"/><circle cx="1697.2" cy="1417.4" r="9.8"/><circle cx="1698.4" cy="1406.2" r="9.8"/><circle cx="1699.8" cy="1426.8" r="9.8"/><circle cx="1701.0" cy="1425.0" r="9.8"/><circle cx="1702.7" cy="1430.8" r="9.8"/><circle cx="1704.0" cy="1413.4" r="9.8"/><circle cx="1705.3" cy="1431.2" r="9.8"/><circle cx="1706.8" cy="1416.6" r="9.8"/><circle cx="1708.4" cy="1413.4" r="9.8"/><circle cx="1709.6" cy="1409.0" r="9.8"/><circle cx="1711.3" cy="1430.6" r="9.8"/><circle cx="1712.5" cy="1418.9" r="9.8"/><circle cx="1714.0" cy="1424.5" r="9.8"/><circle cx="1715.3" cy="1415.9" r="9.8"/><circle cx="1717.0" cy="1427.2" r="9.8"/><circle cx="1718.6" cy="1411.2" r="9.8"/><circle cx="1719.9" cy="1408.8" r="9.8"/><circle cx="1721.6" cy="1420.0" r="9.8"/><circle cx="1723.1" cy="1408.0" r="9.8"/><circle cx="1724.6" cy="1419.4" r="9.8"/><circle cx="1726.4" cy="1409.3" r="9.8"/><circle cx="1727.8" cy="1423.2" r="9.8"/><circle cx="1729.2" cy="1417.9" r="9.8"/><circle cx="1730.9" cy="1408.2" r="9.8"/><circle cx="1732.7" cy="1407.8" r="9.8"/><circle cx="1734.4" cy="1427.6" r="9.8"/><circle cx="1735.9" cy="1421.9" r="9.8"/><circle cx="1737.4" cy="1411.2" r="9.8"/><circle cx="1738.8" cy="1413.4" r="9.8"/><circle cx="1740.0" cy="1415.5" r="9.8"/><circle cx="1741.5" cy="1425.9" r="9.8"/><circle cx="1742.8" cy="1400.7" r="9.8"/><circle cx="1744.5" cy="1401.2" r="9.8"/><circle cx="1746.1" cy="1404.3" r="9.8"/><circle cx="1747.8" cy="1402.1" r="9.8"/><circle cx="1749.0" cy="1408.3" r="9.8"/><circle cx="1750.4" cy="1407.1" r="9.8"/><circle cx="1751.7" cy="1410.5" r="9.8"/><circle cx="1753.5" cy="1408.3" r="9.8"/><circle cx="1754.8" cy="1410.8" r="9.8"/><circle cx="1756.3" cy="1399.4" r="9.8"/><circle cx="1757.7" cy="1416.2" r="9.8"/><circle cx="1759.3" cy="1421.0" r="9.8"/><circle cx="1760.8" cy="1399.0" r="9.8"/><circle cx="1762.3" cy="1417.0" r="9.8"/><circle cx="1763.8" cy="1410.0" r="9.8"/><circle cx="1765.1" cy="1420.6" r="9.8"/><circle cx="1766.4" cy="1416.2" r="9.8"/><circle cx="1767.8" cy="1416.3" r="9.8"/><circle cx="1769.2" cy="1421.5" r="9.8"/><circle cx="1770.7" cy="1401.8" r="9.8"/><circle cx="1772.3" cy="1408.8" r="9.8"/><circle cx="1773.0" cy="1365.5" r="9.8"/><circle cx="1776.5" cy="1294.3" r="9.8"/><circle cx="1777.0" cy="1407.6" r="9.8"/><circle cx="1778.5" cy="1415.5" r="9.8"/><circle cx="1779.8" cy="1414.4" r="9.8"/><circle cx="1781.4" cy="1424.8" r="9.8"/><circle cx="1783.0" cy="1222.3" r="9.8"/><circle cx="1783.3" cy="1244.9" r="9.8"/><circle cx="1784.7" cy="1265.2" r="9.8"/><circle cx="1786.7" cy="1307.2" r="9.8"/><circle cx="1788.0" cy="1365.5" r="9.8"/><circle cx="1789.4" cy="1392.6" r="9.8"/><circle cx="1790.3" cy="1404.9" r="9.8"/><circle cx="1791.8" cy="1426.4" r="9.8"/><circle cx="1793.2" cy="1416.7" r="9.8"/><circle cx="1794.9" cy="1425.6" r="9.8"/><circle cx="1796.2" cy="1403.5" r="9.8"/><circle cx="1797.8" cy="1424.8" r="9.8"/><circle cx="1799.2" cy="1419.7" r="9.8"/><circle cx="1800.8" cy="1412.9" r="9.8"/><circle cx="1802.6" cy="1407.7" r="9.8"/><circle cx="1804.1" cy="1410.0" r="9.8"/><circle cx="1805.7" cy="1409.5" r="9.8"/><circle cx="1807.2" cy="1408.9" r="9.8"/><circle cx="1808.8" cy="1405.6" r="9.8"/><circle cx="1810.1" cy="1406.8" r="9.8"/><circle cx="1811.3" cy="1416.0" r="9.8"/><circle cx="1813.1" cy="1413.6" r="9.8"/><circle cx="1814.5" cy="1407.7" r="9.8"/><circle cx="1816.3" cy="1411.9" r="9.8"/><circle cx="1817.7" cy="1415.7" r="9.8"/><circle cx="1819.2" cy="1408.3" r="9.8"/><circle cx="1820.5" cy="1416.8" r="9.8"/><circle cx="1822.1" cy="1416.7" r="9.8"/><circle cx="1823.5" cy="1406.0" r="9.8"/><circle cx="1825.2" cy="1413.4" r="9.8"/><circle cx="1826.6" cy="1421.5" r="9.8"/><circle cx="1828.0" cy="1422.4" r="9.8"/><circle cx="1829.6" cy="1410.8" r="9.8"/><circle cx="1830.8" cy="1401.9" r="9.8"/><circle cx="1832.2" cy="1403.8" r="9.8"/><circle cx="1833.9" cy="1400.7" r="9.8"/><circle cx="1835.2" cy="1414.5" r="9.8"/><circle cx="1837.0" cy="1425.4" r="9.8"/><circle cx="1838.2" cy="1410.8" r="9.8"/><circle cx="1839.7" cy="1401.5" r="9.8"/><circle cx="1841.4" cy="1411.4" r="9.8"/><circle cx="1843.2" cy="1411.9" r="9.8"/><circle cx="1844.7" cy="1416.2" r="9.8"/><circle cx="1846.2" cy="1416.4" r="9.8"/><circle cx="1848.0" cy="1407.9" r="9.8"/><circle cx="1849.5" cy="1423.1" r="9.8"/><circle cx="1850.9" cy="1415.2" r="9.8"/><circle cx="1852.5" cy="1410.7" r="9.8"/><circle cx="1854.2" cy="1400.5" r="9.8"/><circle cx="1855.7" cy="1414.2" r="9.8"/><circle cx="1857.3" cy="1399.7" r="9.8"/><circle cx="1858.7" cy="1411.9" r="9.8"/><circle cx="1860.4" cy="1421.3" r="9.8"/><circle cx="1861.8" cy="1400.2" r="9.8"/><circle cx="1863.5" cy="1412.4" r="9.8"/><circle cx="1864.7" cy="1402.4" r="9.8"/><circle cx="1866.3" cy="1404.4" r="9.8"/><circle cx="1868.1" cy="1402.6" r="9.8"/><circle cx="1869.6" cy="1421.8" r="9.8"/><circle cx="1871.0" cy="1412.5" r="9.8"/><circle cx="1872.5" cy="1409.9" r="9.8"/><circle cx="1874.0" cy="1417.6" r="9.8"/><circle cx="1875.8" cy="1410.6" r="9.8"/><circle cx="1877.1" cy="1416.9" r="9.8"/><circle cx="1878.7" cy="1419.9" r="9.8"/><circle cx="1880.3" cy="1428.2" r="9.8"/><circle cx="1881.7" cy="1406.5" r="9.8"/><circle cx="1883.3" cy="1411.2" r="9.8"/><circle cx="1884.6" cy="1415.9" r="9.8"/><circle cx="1886.1" cy="1422.1" r="9.8"/><circle cx="1887.7" cy="1415.3" r="9.8"/><circle cx="1889.5" cy="1414.3" r="9.8"/><circle cx="1891.0" cy="1426.3" r="9.8"/><circle cx="1892.2" cy="1409.7" r="9.8"/><circle cx="1893.5" cy="1416.1" r="9.8"/><circle cx="1895.2" cy="1413.9" r="9.8"/><circle cx="1896.9" cy="1428.4" r="9.8"/><circle cx="1898.1" cy="1410.0" r="9.8"/><circle cx="1899.5" cy="1411.6" r="9.8"/><circle cx="1900.9" cy="1426.0" r="9.8"/><circle cx="1902.3" cy="1427.9" r="9.8"/><circle cx="1906.0" cy="1379.0" r="9.8"/><circle cx="1907.3" cy="1369.5" r="9.8"/><circle cx="1909.3" cy="1319.4" r="9.8"/><circle cx="1909.3" cy="1333.0" r="9.8"/><circle cx="1909.3" cy="1345.0" r="9.8"/><circle cx="1911.3" cy="1262.5" r="9.8"/><circle cx="1913.0" cy="1166.7" r="9.8"/><circle cx="1917.7" cy="801.5" r="9.8"/><circle cx="1917.7" cy="1016.7" r="9.8"/><circle cx="1920.0" cy="582.0" r="9.8"/><circle cx="1921.8" cy="416.0" r="9.8"/><circle cx="1925.0" cy="294.0" r="9.8"/><circle cx="1926.0" cy="277.0" r="9.8"/><circle cx="1927.6" cy="389.5" r="9.8"/><circle cx="1928.8" cy="534.5" r="9.8"/><circle cx="1930.0" cy="863.7" r="9.8"/><circle cx="1931.0" cy="721.7" r="9.8"/><circle cx="1933.0" cy="954.6" r="9.8"/><circle cx="1936.3" cy="890.3" r="9.8"/><circle cx="1936.8" cy="826.0" r="9.8"/><circle cx="1937.7" cy="841.5" r="9.8"/><circle cx="1940.0" cy="809.5" r="9.8"/><circle cx="1942.0" cy="831.7" r="9.8"/><circle cx="1944.3" cy="862.8" r="9.8"/><circle cx="1945.7" cy="932.4" r="9.8"/><circle cx="1945.7" cy="1012.3" r="9.8"/><circle cx="1947.4" cy="1125.4" r="9.8"/><circle cx="1949.4" cy="1190.0" r="9.8"/><circle cx="1952.0" cy="1262.4" r="9.8"/><circle cx="1953.0" cy="1305.0" r="9.8"/><circle cx="1953.0" cy="1337.4" r="9.8"/><circle cx="1956.0" cy="1350.3" r="9.8"/><circle cx="1961.0" cy="1371.0" r="9.8"/><circle cx="1971.0" cy="1376.0" r="9.8"/><circle cx="1984.0" cy="1397.0" r="9.8"/><circle cx="1987.1" cy="1407.0" r="9.8"/><circle cx="1988.5" cy="1413.5" r="9.8"/><circle cx="1990.1" cy="1402.3" r="9.8"/><circle cx="1991.5" cy="1408.2" r="9.8"/><circle cx="1992.8" cy="1421.8" r="9.8"/><circle cx="1994.5" cy="1405.7" r="9.8"/><circle cx="1996.2" cy="1424.0" r="9.8"/><circle cx="1997.4" cy="1420.9" r="9.8"/><circle cx="1998.7" cy="1417.3" r="9.8"/><circle cx="2000.1" cy="1424.2" r="9.8"/><circle cx="2001.5" cy="1408.6" r="9.8"/><circle cx="2002.8" cy="1403.4" r="9.8"/><circle cx="2004.4" cy="1406.7" r="9.8"/><circle cx="2005.7" cy="1414.1" r="9.8"/><circle cx="2007.3" cy="1416.4" r="9.8"/><circle cx="2008.5" cy="1403.7" r="9.8"/><circle cx="2010.2" cy="1418.1" r="9.8"/><circle cx="2011.4" cy="1403.2" r="9.8"/><circle cx="2013.0" cy="1423.4" r="9.8"/><circle cx="2014.7" cy="1421.5" r="9.8"/><circle cx="2016.4" cy="1407.9" r="9.8"/><circle cx="2017.7" cy="1409.8" r="9.8"/><circle cx="2019.1" cy="1408.8" r="9.8"/><circle cx="2020.8" cy="1421.4" r="9.8"/><circle cx="2022.1" cy="1404.4" r="9.8"/><circle cx="2023.5" cy="1405.1" r="9.8"/><circle cx="2025.1" cy="1410.3" r="9.8"/><circle cx="2026.8" cy="1413.5" r="9.8"/><circle cx="2028.3" cy="1428.7" r="9.8"/><circle cx="2029.9" cy="1419.1" r="9.8"/><circle cx="2031.4" cy="1406.1" r="9.8"/><circle cx="2032.7" cy="1410.6" r="9.8"/><circle cx="2033.9" cy="1412.3" r="9.8"/><circle cx="2035.6" cy="1405.2" r="9.8"/><circle cx="2037.2" cy="1416.2" r="9.8"/><circle cx="2038.5" cy="1428.8" r="9.8"/><circle cx="2040.0" cy="1419.5" r="9.8"/><circle cx="2041.3" cy="1422.1" r="9.8"/><circle cx="2042.6" cy="1411.6" r="9.8"/><circle cx="2044.2" cy="1423.9" r="9.8"/><circle cx="2045.5" cy="1416.5" r="9.8"/><circle cx="2047.0" cy="1405.5" r="9.8"/><circle cx="2048.4" cy="1422.1" r="9.8"/><circle cx="2050.1" cy="1426.2" r="9.8"/><circle cx="2051.6" cy="1421.2" r="9.8"/><circle cx="2053.3" cy="1415.5" r="9.8"/><circle cx="2055.0" cy="1425.4" r="9.8"/><circle cx="2056.6" cy="1414.1" r="9.8"/><circle cx="2058.0" cy="1322.0" r="9.8"/><circle cx="2060.0" cy="1362.0" r="9.8"/><circle cx="2060.6" cy="1285.7" r="9.8"/><circle cx="2061.0" cy="1296.0" r="9.8"/><circle cx="2062.0" cy="1306.4" r="9.8"/><circle cx="2064.5" cy="1341.3" r="9.8"/><circle cx="2064.5" cy="1382.6" r="9.8"/><circle cx="2065.5" cy="1418.0" r="9.8"/><circle cx="2066.7" cy="1421.2" r="9.8"/><circle cx="2068.2" cy="1427.7" r="9.8"/><circle cx="2069.4" cy="1403.5" r="9.8"/><circle cx="2071.1" cy="1427.2" r="9.8"/><circle cx="2072.7" cy="1403.7" r="9.8"/><circle cx="2074.2" cy="1426.4" r="9.8"/><circle cx="2075.7" cy="1417.8" r="9.8"/><circle cx="2077.0" cy="1414.9" r="9.8"/><circle cx="2078.2" cy="1405.0" r="9.8"/><circle cx="2079.8" cy="1412.6" r="9.8"/><circle cx="2081.6" cy="1412.0" r="9.8"/><circle cx="2082.9" cy="1422.6" r="9.8"/><circle cx="2084.2" cy="1428.3" r="9.8"/><circle cx="2085.9" cy="1407.0" r="9.8"/><circle cx="2087.3" cy="1424.1" r="9.8"/><circle cx="2088.8" cy="1424.0" r="9.8"/><circle cx="2090.5" cy="1406.2" r="9.8"/><circle cx="2092.2" cy="1419.0" r="9.8"/><circle cx="2093.5" cy="1405.6" r="9.8"/><circle cx="2094.9" cy="1417.2" r="9.8"/><circle cx="2096.4" cy="1416.9" r="9.8"/><circle cx="2098.1" cy="1420.0" r="9.8"/><circle cx="2099.3" cy="1411.3" r="9.8"/><circle cx="2100.9" cy="1404.4" r="9.8"/><circle cx="2102.5" cy="1402.0" r="9.8"/><circle cx="2104.3" cy="1412.6" r="9.8"/><circle cx="2105.8" cy="1421.3" r="9.8"/><circle cx="2107.2" cy="1410.1" r="9.8"/><circle cx="2108.4" cy="1407.2" r="9.8"/><circle cx="2109.7" cy="1413.6" r="9.8"/><circle cx="2111.5" cy="1422.7" r="9.8"/><circle cx="2112.7" cy="1413.5" r="9.8"/><circle cx="2114.0" cy="1406.0" r="9.8"/><circle cx="2115.2" cy="1402.9" r="9.8"/><circle cx="2117.0" cy="1404.2" r="9.8"/><circle cx="2118.4" cy="1417.4" r="9.8"/><circle cx="2120.0" cy="1411.3" r="9.8"/><circle cx="2121.5" cy="1415.9" r="9.8"/><circle cx="2122.9" cy="1407.3" r="9.8"/><circle cx="2124.6" cy="1401.0" r="9.8"/><circle cx="2125.9" cy="1416.9" r="9.8"/><circle cx="2127.4" cy="1409.9" r="9.8"/><circle cx="2128.8" cy="1419.5" r="9.8"/><circle cx="2130.0" cy="1416.1" r="9.8"/><circle cx="2131.5" cy="1399.2" r="9.8"/><circle cx="2133.3" cy="1399.4" r="9.8"/><circle cx="2134.8" cy="1403.3" r="9.8"/><circle cx="2136.1" cy="1406.8" r="9.8"/><circle cx="2137.6" cy="1416.7" r="9.8"/><circle cx="2139.2" cy="1399.5" r="9.8"/><circle cx="2140.7" cy="1407.5" r="9.8"/><circle cx="2142.0" cy="1415.4" r="9.8"/><circle cx="2143.8" cy="1423.7" r="9.8"/><circle cx="2145.1" cy="1406.6" r="9.8"/><circle cx="2146.6" cy="1422.2" r="9.8"/><circle cx="2148.2" cy="1414.7" r="9.8"/><circle cx="2149.7" cy="1413.5" r="9.8"/><circle cx="2151.2" cy="1409.6" r="9.8"/><circle cx="2152.7" cy="1421.4" r="9.8"/><circle cx="2154.0" cy="1401.1" r="9.8"/><circle cx="2155.5" cy="1421.4" r="9.8"/><circle cx="2157.2" cy="1417.7" r="9.8"/><circle cx="2158.5" cy="1410.5" r="9.8"/><circle cx="2159.8" cy="1411.5" r="9.8"/><circle cx="2161.4" cy="1418.4" r="9.8"/><circle cx="2162.9" cy="1421.4" r="9.8"/><circle cx="2164.4" cy="1408.9" r="9.8"/><circle cx="2165.7" cy="1413.7" r="9.8"/><circle cx="2166.9" cy="1412.8" r="9.8"/><circle cx="2168.6" cy="1409.9" r="9.8"/><circle cx="2170.2" cy="1404.5" r="9.8"/><circle cx="2171.5" cy="1398.4" r="9.8"/><circle cx="2173.1" cy="1421.7" r="9.8"/><circle cx="2174.8" cy="1414.1" r="9.8"/><circle cx="2176.1" cy="1399.2" r="9.8"/><circle cx="2177.7" cy="1404.1" r="9.8"/><circle cx="2178.9" cy="1418.3" r="9.8"/><circle cx="2180.3" cy="1424.2" r="9.8"/><circle cx="2181.9" cy="1419.1" r="9.8"/><circle cx="2183.3" cy="1406.2" r="9.8"/><circle cx="2184.7" cy="1401.5" r="9.8"/><circle cx="2186.0" cy="1381.4" r="9.8"/><circle cx="2186.3" cy="1402.0" r="9.8"/><circle cx="2187.8" cy="1400.8" r="9.8"/><circle cx="2189.6" cy="1420.5" r="9.8"/><circle cx="2190.0" cy="1365.0" r="9.8"/><circle cx="2191.2" cy="1416.0" r="9.8"/><circle cx="2192.9" cy="1407.1" r="9.8"/><circle cx="2193.0" cy="1348.0" r="9.8"/><circle cx="2194.6" cy="1421.7" r="9.8"/><circle cx="2195.0" cy="1330.4" r="9.8"/><circle cx="2196.0" cy="1405.7" r="9.8"/><circle cx="2196.0" cy="1338.0" r="9.8"/><circle cx="2197.8" cy="1409.2" r="9.8"/><circle cx="2199.0" cy="1410.8" r="9.8"/><circle cx="2199.5" cy="1346.0" r="9.8"/><circle cx="2200.7" cy="1422.2" r="9.8"/><circle cx="2202.5" cy="1407.5" r="9.8"/><circle cx="2203.8" cy="1420.2" r="9.8"/><circle cx="2204.0" cy="1381.4" r="9.8"/><circle cx="2205.3" cy="1403.4" r="9.8"/><circle cx="2206.8" cy="1422.4" r="9.8"/><circle cx="2208.0" cy="1422.5" r="9.8"/><circle cx="2209.7" cy="1420.6" r="9.8"/><circle cx="2211.3" cy="1417.8" r="9.8"/><circle cx="2212.9" cy="1415.5" r="9.8"/><circle cx="2214.2" cy="1407.3" r="9.8"/><circle cx="2215.8" cy="1400.3" r="9.8"/></g><path d="M343.1 1245.3V1301.8M321.1 1245.3H365.1M321.1 1301.8H365.1M925.4 1180.9V1257.7M903.4 1180.9H947.4M903.4 1257.7H947.4M1216.2 1252.6V1307.6M1194.2 1252.6H1238.2M1194.2 1307.6H1238.2M1667.6 1058V1177M1645.6 1058H1689.6M1645.6 1177H1689.6M1924 40V430M1902 430H1946" stroke="#000" stroke-width="4.2" fill="none"/><g fill="#f0f" stroke="#000" stroke-width="4"><circle cx="343.1" cy="1272.7" r="19.8"/><circle cx="925.4" cy="1218.75" r="19.8"/><circle cx="1216.2" cy="1279.2" r="19.8"/><circle cx="1667.6" cy="1116.3" r="19.8"/><circle cx="1924" cy="184" r="19.8"/></g><polygon points="270.0,1416.0 270.0,1414.3 271.0,1414.3 272.0,1414.3 273.0,1414.3 274.0,1414.3 275.0,1414.3 276.0,1414.3 277.0,1414.3 278.0,1414.3 279.0,1414.3 280.0,1414.3 281.0,1414.3 282.0,1414.3 283.0,1414.3 284.0,1414.3 285.0,1414.3 286.0,1414.3 287.0,1414.3 288.0,1414.3 289.0,1414.3 290.0,1414.3 291.0,1414.3 292.0,1414.3 293.0,1414.3 294.0,1414.3 295.0,1414.3 296.0,1414.3 297.0,1414.3 298.0,1414.3 299.0,1414.3 300.0,1414.3 301.0,1414.3 302.0,1414.3 303.0,1414.3 304.0,1414.3 305.0,1414.3 306.0,1414.3 307.0,1414.3 308.0,1414.3 309.0,1414.3 310.0,1414.3 311.0,1414.3 312.0,1414.3 313.0,1414.3 314.0,1414.3 315.0,1414.3 316.0,1414.3 317.0,1414.3 318.0,1414.3 319.0,1414.3 320.0,1414.3 321.0,1414.3 322.0,1414.3 323.0,1414.3 324.0,1414.3 325.0,1414.3 326.0,1414.3 327.0,1414.3 328.0,1414.3 329.0,1414.3 330.0,1414.3 331.0,1414.3 332.0,1414.3 333.0,1414.3 334.0,1414.3 335.0,1414.3 336.0,1414.3 337.0,1414.3 338.0,1414.3 339.0,1414.3 340.0,1414.3 341.0,1414.3 342.0,1414.3 343.0,1414.3 344.0,1414.3 345.0,1414.3 346.0,1414.3 347.0,1414.3 348.0,1414.3 349.0,1414.3 350.0,1414.3 351.0,1414.3 352.0,1414.3 353.0,1414.3 354.0,1414.3 355.0,1414.3 356.0,1414.3 357.0,1414.3 358.0,1414.3 359.0,1414.3 360.0,1414.3 361.0,1414.3 362.0,1414.3 363.0,1414.3 364.0,1414.3 365.0,1414.3 366.0,1414.3 367.0,1414.3 368.0,1414.3 369.0,1414.3 370.0,1414.3 371.0,1414.3 372.0,1414.3 373.0,1414.3 374.0,1414.3 375.0,1414.3 376.0,1414.3 377.0,1414.3 378.0,1414.3 379.0,1414.3 380.0,1414.3 381.0,1414.3 382.0,1414.3 383.0,1414.3 384.0,1414.3 385.0,1414.3 386.0,1414.3 387.0,1414.3 388.0,1414.3 389.0,1414.3 390.0,1414.3 391.0,1414.3 392.0,1414.3 393.0,1414.3 394.0,1414.3 395.0,1414.3 396.0,1414.3 397.0,1414.3 398.0,1414.3 399.0,1414.3 400.0,1414.3 401.0,1414.3 402.0,1414.3 403.0,1414.3 404.0,1414.3 405.0,1414.3 406.0,1414.3 407.0,1414.3 408.0,1414.3 409.0,1414.3 410.0,1414.3 411.0,1414.3 412.0,1414.3 413.0,1414.3 414.0,1414.3 415.0,1414.3 416.0,1414.3 417.0,1414.3 418.0,1414.3 419.0,1414.3 420.0,1414.3 421.0,1414.3 422.0,1414.3 423.0,1414.3 424.0,1414.3 425.0,1414.3 426.0,1414.3 427.0,1414.3 428.0,1414.3 429.0,1414.3 430.0,1414.3 431.0,1414.3 432.0,1414.3 433.0,1414.3 434.0,1414.3 435.0,1414.3 436.0,1414.3 437.0,1414.3 438.0,1414.3 439.0,1414.3 440.0,1414.3 441.0,1414.3 442.0,1414.3 443.0,1414.3 444.0,1414.3 445.0,1414.3 446.0,1414.3 447.0,1414.3 448.0,1414.3 449.0,1414.3 450.0,1414.3 451.0,1414.3 452.0,1414.3 453.0,1414.3 454.0,1414.3 455.0,1414.3 456.0,1414.3 457.0,1414.3 458.0,1414.3 459.0,1414.3 460.0,1414.3 461.0,1414.3 462.0,1414.3 463.0,1414.3 464.0,1414.3 465.0,1414.3 466.0,1414.3 467.0,1414.3 468.0,1414.3 469.0,1414.3 470.0,1414.3 471.0,1414.3 472.0,1414.3 473.0,1414.3 474.0,1414.3 475.0,1414.3 476.0,1414.3 477.0,1414.3 478.0,1414.3 479.0,1414.3 480.0,1414.3 481.0,1414.3 482.0,1414.3 483.0,1414.3 484.0,1414.3 485.0,1414.3 486.0,1414.3 487.0,1414.3 488.0,1414.3 489.0,1414.3 490.0,1414.3 491.0,1414.3 492.0,1414.3 493.0,1414.3 494.0,1414.3 495.0,1414.3 496.0,1414.3 497.0,1414.3 498.0,1414.3 499.0,1414.3 500.0,1414.3 501.0,1414.3 502.0,1414.3 503.0,1414.3 504.0,1414.3 505.0,1414.3 506.0,1414.3 507.0,1414.3 508.0,1414.3 509.0,1414.3 510.0,1414.3 511.0,1414.3 512.0,1414.3 513.0,1414.3 514.0,1414.3 515.0,1414.3 516.0,1414.3 517.0,1414.3 518.0,1414.3 519.0,1414.3 520.0,1414.3 521.0,1414.3 522.0,1414.3 523.0,1414.3 524.0,1414.3 525.0,1414.3 526.0,1414.3 527.0,1414.3 528.0,1414.3 529.0,1414.3 530.0,1414.3 531.0,1414.3 532.0,1414.3 533.0,1414.3 534.0,1414.3 535.0,1414.3 536.0,1414.3 537.0,1414.3 538.0,1414.3 539.0,1414.3 540.0,1414.3 541.0,1414.3 542.0,1414.3 543.0,1414.3 544.0,1414.3 545.0,1414.3 546.0,1414.3 547.0,1414.3 548.0,1414.3 549.0,1414.3 550.0,1414.3 551.0,1414.3 552.0,1414.3 553.0,1414.3 554.0,1414.3 555.0,1414.3 556.0,1414.3 557.0,1414.3 558.0,1414.3 559.0,1414.3 560.0,1414.3 561.0,1414.3 562.0,1414.3 563.0,1414.3 564.0,1414.3 565.0,1414.3 566.0,1414.3 567.0,1414.3 568.0,1414.3 569.0,1414.3 570.0,1414.3 571.0,1414.3 572.0,1414.3 573.0,1414.3 574.0,1414.3 575.0,1414.3 576.0,1414.3 577.0,1414.3 578.0,1414.3 579.0,1414.3 580.0,1414.3 581.0,1414.3 582.0,1414.3 583.0,1414.3 584.0,1414.3 585.0,1414.3 586.0,1414.3 587.0,1414.3 588.0,1414.3 589.0,1414.3 590.0,1414.3 591.0,1414.3 592.0,1414.3 593.0,1414.3 594.0,1414.3 595.0,1414.3 596.0,1414.3 597.0,1414.3 598.0,1414.3 599.0,1414.3 600.0,1414.3 601.0,1414.3 602.0,1414.3 603.0,1414.3 604.0,1414.3 605.0,1414.3 606.0,1414.3 607.0,1414.3 608.0,1414.3 609.0,1414.3 610.0,1414.3 611.0,1414.3 612.0,1414.3 613.0,1414.3 614.0,1414.3 615.0,1414.3 616.0,1414.3 617.0,1414.3 618.0,1414.3 619.0,1414.3 620.0,1414.3 621.0,1414.3 622.0,1414.3 623.0,1414.3 624.0,1414.3 625.0,1414.3 626.0,1414.3 627.0,1414.3 628.0,1414.3 629.0,1414.3 630.0,1414.3 631.0,1414.3 632.0,1414.3 633.0,1414.3 634.0,1414.3 635.0,1414.3 636.0,1414.3 637.0,1414.3 638.0,1414.3 639.0,1414.3 640.0,1414.3 641.0,1414.3 642.0,1414.3 643.0,1414.3 644.0,1414.3 645.0,1414.3 646.0,1414.3 647.0,1414.3 648.0,1414.3 649.0,1414.3 650.0,1414.3 651.0,1414.3 652.0,1414.3 653.0,1414.3 654.0,1414.3 655.0,1414.3 656.0,1414.3 657.0,1414.3 658.0,1414.3 659.0,1414.3 660.0,1414.3 661.0,1414.3 662.0,1414.3 663.0,1414.3 664.0,1414.3 665.0,1414.3 666.0,1414.3 667.0,1414.3 668.0,1414.3 669.0,1414.3 670.0,1414.3 671.0,1414.3 672.0,1414.3 673.0,1414.3 674.0,1414.3 675.0,1414.3 676.0,1414.3 677.0,1414.3 678.0,1414.3 679.0,1414.3 680.0,1414.3 681.0,1414.3 682.0,1414.3 683.0,1414.3 684.0,1414.3 685.0,1414.3 686.0,1414.3 687.0,1414.3 688.0,1414.3 689.0,1414.3 690.0,1414.3 691.0,1414.3 692.0,1414.3 693.0,1414.3 694.0,1414.3 695.0,1414.3 696.0,1414.3 697.0,1414.3 698.0,1414.3 699.0,1414.3 700.0,1414.3 701.0,1414.3 702.0,1414.3 703.0,1414.3 704.0,1414.3 705.0,1414.3 706.0,1414.3 707.0,1414.3 708.0,1414.3 709.0,1414.3 710.0,1414.3 711.0,1414.3 712.0,1414.3 713.0,1414.3 714.0,1414.3 715.0,1414.3 716.0,1414.3 717.0,1414.3 718.0,1414.3 719.0,1414.3 720.0,1414.3 721.0,1414.3 722.0,1414.3 723.0,1414.3 724.0,1414.3 725.0,1414.3 726.0,1414.3 727.0,1414.3 728.0,1414.3 729.0,1414.3 730.0,1414.3 731.0,1414.3 732.0,1414.3 733.0,1414.3 734.0,1414.3 735.0,1414.3 736.0,1414.3 737.0,1414.3 738.0,1414.3 739.0,1414.3 740.0,1414.3 741.0,1414.3 742.0,1414.3 743.0,1414.3 744.0,1414.3 745.0,1414.3 746.0,1414.3 747.0,1414.3 748.0,1414.3 749.0,1414.3 750.0,1414.3 751.0,1414.3 752.0,1414.3 753.0,1414.3 754.0,1414.3 755.0,1414.3 756.0,1414.3 757.0,1414.3 758.0,1414.3 759.0,1414.3 760.0,1414.3 761.0,1414.3 762.0,1414.3 763.0,1414.3 764.0,1414.3 765.0,1414.3 766.0,1414.3 767.0,1414.3 768.0,1414.3 769.0,1414.3 770.0,1414.3 771.0,1414.3 772.0,1414.3 773.0,1414.3 774.0,1414.3 775.0,1414.3 776.0,1414.3 777.0,1414.3 778.0,1414.3 779.0,1414.3 780.0,1414.3 781.0,1414.3 782.0,1414.3 783.0,1414.3 784.0,1414.3 785.0,1414.3 786.0,1414.3 787.0,1414.3 788.0,1414.3 789.0,1414.3 790.0,1414.3 791.0,1414.3 792.0,1414.3 793.0,1414.3 794.0,1414.3 795.0,1414.3 796.0,1414.3 797.0,1414.3 798.0,1414.3 799.0,1414.3 800.0,1414.3 801.0,1414.3 802.0,1414.3 803.0,1414.3 804.0,1414.3 805.0,1414.3 806.0,1414.3 807.0,1414.3 808.0,1414.3 809.0,1414.3 810.0,1414.3 811.0,1414.3 812.0,1414.3 813.0,1414.3 814.0,1414.3 815.0,1414.3 816.0,1414.3 817.0,1414.3 818.0,1414.3 819.0,1414.3 820.0,1414.3 821.0,1414.3 822.0,1414.3 823.0,1414.3 824.0,1414.3 825.0,1414.3 826.0,1414.3 827.0,1414.3 828.0,1414.3 829.0,1414.3 830.0,1414.3 831.0,1414.3 832.0,1414.3 833.0,1414.3 834.0,1414.3 835.0,1414.3 836.0,1414.3 837.0,1414.3 838.0,1414.3 839.0,1414.3 840.0,1414.3 841.0,1414.3 842.0,1414.3 843.0,1414.3 844.0,1414.3 845.0,1414.3 846.0,1414.3 847.0,1414.3 848.0,1414.3 849.0,1414.3 850.0,1414.3 851.0,1414.3 852.0,1414.3 853.0,1414.3 854.0,1414.3 855.0,1414.3 856.0,1414.3 857.0,1414.3 858.0,1414.3 859.0,1414.3 860.0,1414.3 861.0,1414.3 862.0,1414.3 863.0,1414.3 864.0,1414.3 865.0,1414.3 866.0,1414.3 867.0,1414.3 868.0,1414.3 869.0,1414.3 870.0,1414.3 871.0,1414.3 872.0,1414.3 873.0,1414.3 874.0,1414.3 875.0,1414.3 876.0,1414.3 877.0,1414.3 878.0,1414.3 879.0,1414.3 880.0,1414.3 881.0,1414.3 882.0,1414.3 883.0,1414.3 884.0,1414.3 885.0,1414.3 886.0,1414.3 887.0,1414.3 888.0,1414.3 889.0,1414.3 890.0,1414.3 891.0,1414.3 892.0,1414.3 893.0,1414.3 894.0,1414.3 895.0,1414.3 896.0,1414.3 897.0,1414.3 898.0,1414.3 899.0,1414.3 900.0,1414.3 901.0,1414.3 902.0,1414.3 903.0,1414.3 904.0,1414.3 905.0,1414.3 906.0,1414.3 907.0,1414.3 908.0,1414.3 909.0,1414.3 910.0,1414.3 911.0,1414.3 912.0,1414.3 913.0,1414.3 914.0,1414.3 915.0,1414.3 916.0,1414.3 917.0,1414.3 918.0,1414.3 919.0,1414.3 920.0,1414.3 921.0,1414.3 922.0,1414.3 923.0,1414.3 924.0,1414.3 925.0,1414.3 926.0,1414.3 927.0,1414.3 928.0,1414.3 929.0,1414.3 930.0,1414.3 931.0,1414.3 932.0,1414.3 933.0,1414.3 934.0,1414.3 935.0,1414.3 936.0,1414.3 937.0,1414.3 938.0,1414.3 939.0,1414.3 940.0,1414.3 941.0,1414.3 942.0,1414.3 943.0,1414.3 944.0,1414.3 945.0,1414.3 946.0,1414.3 947.0,1414.3 948.0,1414.3 949.0,1414.3 950.0,1414.3 951.0,1414.3 952.0,1414.3 953.0,1414.3 954.0,1414.3 955.0,1414.3 956.0,1414.3 957.0,1414.3 958.0,1414.3 959.0,1414.3 960.0,1414.3 961.0,1414.3 962.0,1414.3 963.0,1414.3 964.0,1414.3 965.0,1414.3 966.0,1414.3 967.0,1414.3 968.0,1414.3 969.0,1414.3 970.0,1414.3 971.0,1414.3 972.0,1414.3 973.0,1414.3 974.0,1414.3 975.0,1414.3 976.0,1414.3 977.0,1414.3 978.0,1414.3 979.0,1414.3 980.0,1414.3 981.0,1414.3 982.0,1414.3 983.0,1414.3 984.0,1414.3 985.0,1414.3 986.0,1414.3 987.0,1414.3 988.0,1414.3 989.0,1414.3 990.0,1414.3 991.0,1414.3 992.0,1414.3 993.0,1414.3 994.0,1414.3 995.0,1414.3 996.0,1414.3 997.0,1414.3 998.0,1414.3 999.0,1414.3 1000.0,1414.3 1001.0,1414.3 1002.0,1414.3 1003.0,1414.3 1004.0,1414.3 1005.0,1414.3 1006.0,1414.3 1007.0,1414.3 1008.0,1414.3 1009.0,1414.3 1010.0,1414.3 1011.0,1414.3 1012.0,1414.3 1013.0,1414.3 1014.0,1414.3 1015.0,1414.3 1016.0,1414.3 1017.0,1414.3 1018.0,1414.3 1019.0,1414.3 1020.0,1414.3 1021.0,1414.3 1022.0,1414.3 1023.0,1414.3 1024.0,1414.3 1025.0,1414.3 1026.0,1414.3 1027.0,1414.3 1028.0,1414.3 1029.0,1414.3 1030.0,1414.3 1031.0,1414.3 1032.0,1414.3 1033.0,1414.3 1034.0,1414.3 1035.0,1414.3 1036.0,1414.3 1037.0,1414.3 1038.0,1414.3 1039.0,1414.3 1040.0,1414.3 1041.0,1414.3 1042.0,1414.3 1043.0,1414.3 1044.0,1414.3 1045.0,1414.3 1046.0,1414.3 1047.0,1414.3 1048.0,1414.3 1049.0,1414.3 1050.0,1414.3 1051.0,1414.3 1052.0,1414.3 1053.0,1414.3 1054.0,1414.3 1055.0,1414.3 1056.0,1414.3 1057.0,1414.3 1058.0,1414.3 1059.0,1414.3 1060.0,1414.3 1061.0,1414.3 1062.0,1414.3 1063.0,1414.3 1064.0,1414.3 1065.0,1414.3 1066.0,1414.3 1067.0,1414.3 1068.0,1414.3 1069.0,1414.3 1070.0,1414.3 1071.0,1414.3 1072.0,1414.3 1073.0,1414.3 1074.0,1414.3 1075.0,1414.3 1076.0,1414.3 1077.0,1414.3 1078.0,1414.3 1079.0,1414.3 1080.0,1414.3 1081.0,1414.3 1082.0,1414.3 1083.0,1414.3 1084.0,1414.3 1085.0,1414.3 1086.0,1414.3 1087.0,1414.3 1088.0,1414.3 1089.0,1414.3 1090.0,1414.3 1091.0,1414.3 1092.0,1414.3 1093.0,1414.3 1094.0,1414.3 1095.0,1414.3 1096.0,1414.3 1097.0,1414.3 1098.0,1414.3 1099.0,1414.3 1100.0,1414.3 1101.0,1414.3 1102.0,1414.3 1103.0,1414.3 1104.0,1414.3 1105.0,1414.3 1106.0,1414.3 1107.0,1414.3 1108.0,1414.3 1109.0,1414.3 1110.0,1414.3 1111.0,1414.3 1112.0,1414.3 1113.0,1414.3 1114.0,1414.3 1115.0,1414.3 1116.0,1414.3 1117.0,1414.3 1118.0,1414.3 1119.0,1414.3 1120.0,1414.3 1121.0,1414.3 1122.0,1414.3 1123.0,1414.3 1124.0,1414.3 1125.0,1414.3 1126.0,1414.3 1127.0,1414.3 1128.0,1414.3 1129.0,1414.3 1130.0,1414.3 1131.0,1414.3 1132.0,1414.3 1133.0,1414.3 1134.0,1414.3 1135.0,1414.3 1136.0,1414.3 1137.0,1414.3 1138.0,1414.3 1139.0,1414.3 1140.0,1414.3 1141.0,1414.3 1142.0,1414.3 1143.0,1414.3 1144.0,1414.3 1145.0,1414.3 1146.0,1414.3 1147.0,1414.3 1148.0,1414.3 1149.0,1414.3 1150.0,1414.3 1151.0,1414.3 1152.0,1414.3 1153.0,1414.3 1154.0,1414.3 1155.0,1414.3 1156.0,1414.3 1157.0,1414.3 1158.0,1414.3 1159.0,1414.3 1160.0,1414.3 1161.0,1414.3 1162.0,1414.3 1163.0,1414.3 1164.0,1414.3 1165.0,1414.3 1166.0,1414.3 1167.0,1414.3 1168.0,1414.3 1169.0,1414.3 1170.0,1414.3 1171.0,1414.3 1172.0,1414.3 1173.0,1414.3 1174.0,1414.3 1175.0,1414.3 1176.0,1414.3 1177.0,1414.3 1178.0,1414.3 1179.0,1414.3 1180.0,1414.3 1181.0,1414.3 1182.0,1414.3 1183.0,1414.3 1184.0,1414.3 1185.0,1414.3 1186.0,1414.3 1187.0,1414.3 1188.0,1414.3 1189.0,1414.3 1190.0,1414.3 1191.0,1414.3 1192.0,1414.3 1193.0,1414.3 1194.0,1414.3 1195.0,1414.3 1196.0,1414.3 1197.0,1414.3 1198.0,1414.3 1199.0,1414.3 1200.0,1414.3 1201.0,1414.3 1202.0,1414.3 1203.0,1414.3 1204.0,1414.3 1205.0,1414.3 1206.0,1414.3 1207.0,1414.3 1208.0,1414.3 1209.0,1414.3 1210.0,1414.3 1211.0,1414.3 1212.0,1414.3 1213.0,1414.3 1214.0,1414.3 1215.0,1414.3 1216.0,1414.3 1217.0,1414.3 1218.0,1414.3 1219.0,1414.3 1220.0,1414.3 1221.0,1414.3 1222.0,1414.3 1223.0,1414.3 1224.0,1414.3 1225.0,1414.3 1226.0,1414.3 1227.0,1414.3 1228.0,1414.3 1229.0,1414.3 1230.0,1414.3 1231.0,1414.3 1232.0,1414.3 1233.0,1414.3 1234.0,1414.3 1235.0,1414.3 1236.0,1414.3 1237.0,1414.3 1238.0,1414.3 1239.0,1414.3 1240.0,1414.3 1241.0,1414.3 1242.0,1414.3 1243.0,1414.3 1244.0,1414.3 1245.0,1414.3 1246.0,1414.3 1247.0,1414.3 1248.0,1414.3 1249.0,1414.3 1250.0,1414.3 1251.0,1414.3 1252.0,1414.3 1253.0,1414.3 1254.0,1414.3 1255.0,1414.3 1256.0,1414.3 1257.0,1414.3 1258.0,1414.3 1259.0,1414.3 1260.0,1414.3 1261.0,1414.3 1262.0,1414.3 1263.0,1414.3 1264.0,1414.3 1265.0,1414.3 1266.0,1414.3 1267.0,1414.3 1268.0,1414.3 1269.0,1414.3 1270.0,1414.3 1271.0,1414.3 1272.0,1414.3 1273.0,1414.3 1274.0,1414.3 1275.0,1414.3 1276.0,1414.3 1277.0,1414.3 1278.0,1414.3 1279.0,1414.3 1280.0,1414.3 1281.0,1414.3 1282.0,1414.3 1283.0,1414.3 1284.0,1414.3 1285.0,1414.3 1286.0,1414.3 1287.0,1414.3 1288.0,1414.3 1289.0,1414.3 1290.0,1414.3 1291.0,1414.3 1292.0,1414.3 1293.0,1414.3 1294.0,1414.3 1295.0,1414.3 1296.0,1414.3 1297.0,1414.3 1298.0,1414.3 1299.0,1414.3 1300.0,1414.3 1301.0,1414.3 1302.0,1414.3 1303.0,1414.3 1304.0,1414.3 1305.0,1414.3 1306.0,1414.3 1307.0,1414.3 1308.0,1414.3 1309.0,1414.3 1310.0,1414.3 1311.0,1414.3 1312.0,1414.3 1313.0,1414.3 1314.0,1414.3 1315.0,1414.3 1316.0,1414.3 1317.0,1414.3 1318.0,1414.3 1319.0,1414.3 1320.0,1414.3 1321.0,1414.3 1322.0,1414.3 1323.0,1414.3 1324.0,1414.3 1325.0,1414.3 1326.0,1414.3 1327.0,1414.3 1328.0,1414.3 1329.0,1414.3 1330.0,1414.3 1331.0,1414.3 1332.0,1414.3 1333.0,1414.3 1334.0,1414.3 1335.0,1414.3 1336.0,1414.3 1337.0,1414.3 1338.0,1414.3 1339.0,1414.3 1340.0,1414.3 1341.0,1414.3 1342.0,1414.3 1343.0,1414.3 1344.0,1414.3 1345.0,1414.3 1346.0,1414.3 1347.0,1414.3 1348.0,1414.3 1349.0,1414.3 1350.0,1414.3 1351.0,1414.3 1352.0,1414.3 1353.0,1414.3 1354.0,1414.3 1355.0,1414.3 1356.0,1414.3 1357.0,1414.3 1358.0,1414.3 1359.0,1414.3 1360.0,1414.3 1361.0,1414.3 1362.0,1414.3 1363.0,1414.3 1364.0,1414.3 1365.0,1414.3 1366.0,1414.3 1367.0,1414.3 1368.0,1414.3 1369.0,1414.3 1370.0,1414.3 1371.0,1414.3 1372.0,1414.3 1373.0,1414.3 1374.0,1414.3 1375.0,1414.3 1376.0,1414.3 1377.0,1414.3 1378.0,1414.3 1379.0,1414.3 1380.0,1414.3 1381.0,1414.3 1382.0,1414.3 1383.0,1414.3 1384.0,1414.3 1385.0,1414.3 1386.0,1414.3 1387.0,1414.3 1388.0,1414.3 1389.0,1414.3 1390.0,1414.3 1391.0,1414.3 1392.0,1414.3 1393.0,1414.3 1394.0,1414.3 1395.0,1414.3 1396.0,1414.3 1397.0,1414.3 1398.0,1414.3 1399.0,1414.3 1400.0,1414.3 1401.0,1414.3 1402.0,1414.3 1403.0,1414.3 1404.0,1414.3 1405.0,1414.3 1406.0,1414.3 1407.0,1414.3 1408.0,1414.3 1409.0,1414.3 1410.0,1414.3 1411.0,1414.3 1412.0,1414.3 1413.0,1414.3 1414.0,1414.3 1415.0,1414.3 1416.0,1414.3 1417.0,1414.3 1418.0,1414.3 1419.0,1414.3 1420.0,1414.3 1421.0,1414.3 1422.0,1414.3 1423.0,1414.3 1424.0,1414.3 1425.0,1414.3 1426.0,1414.3 1427.0,1414.3 1428.0,1414.3 1429.0,1414.3 1430.0,1414.3 1431.0,1414.3 1432.0,1414.3 1433.0,1414.3 1434.0,1414.3 1435.0,1414.3 1436.0,1414.3 1437.0,1414.3 1438.0,1414.3 1439.0,1414.3 1440.0,1414.3 1441.0,1414.3 1442.0,1414.3 1443.0,1414.3 1444.0,1414.3 1445.0,1414.3 1446.0,1414.3 1447.0,1414.3 1448.0,1414.3 1449.0,1414.3 1450.0,1414.3 1451.0,1414.3 1452.0,1414.3 1453.0,1414.3 1454.0,1414.3 1455.0,1414.3 1456.0,1414.3 1457.0,1414.3 1458.0,1414.3 1459.0,1414.3 1460.0,1414.3 1461.0,1414.3 1462.0,1414.3 1463.0,1414.3 1464.0,1414.3 1465.0,1414.3 1466.0,1414.3 1467.0,1414.3 1468.0,1414.3 1469.0,1414.3 1470.0,1414.3 1471.0,1414.3 1472.0,1414.3 1473.0,1414.3 1474.0,1414.3 1475.0,1414.3 1476.0,1414.3 1477.0,1414.3 1478.0,1414.3 1479.0,1414.3 1480.0,1414.3 1481.0,1414.3 1482.0,1414.3 1483.0,1414.3 1484.0,1414.3 1485.0,1414.3 1486.0,1414.3 1487.0,1414.3 1488.0,1414.3 1489.0,1414.3 1490.0,1414.3 1491.0,1414.3 1492.0,1414.3 1493.0,1414.3 1494.0,1414.3 1495.0,1414.3 1496.0,1414.3 1497.0,1414.3 1498.0,1414.3 1499.0,1414.3 1500.0,1414.3 1501.0,1414.3 1502.0,1414.3 1503.0,1414.3 1504.0,1414.3 1505.0,1414.3 1506.0,1414.3 1507.0,1414.3 1508.0,1414.3 1509.0,1414.3 1510.0,1414.3 1511.0,1414.3 1512.0,1414.3 1513.0,1414.3 1514.0,1414.3 1515.0,1414.3 1516.0,1414.3 1517.0,1414.3 1518.0,1414.3 1519.0,1414.3 1520.0,1414.3 1521.0,1414.3 1522.0,1414.3 1523.0,1414.3 1524.0,1414.3 1525.0,1414.3 1526.0,1414.3 1527.0,1414.3 1528.0,1414.3 1529.0,1414.3 1530.0,1414.3 1531.0,1414.3 1532.0,1414.3 1533.0,1414.3 1534.0,1414.3 1535.0,1414.3 1536.0,1414.3 1537.0,1414.3 1538.0,1414.3 1539.0,1414.3 1540.0,1414.3 1541.0,1414.3 1542.0,1414.3 1543.0,1414.3 1544.0,1414.3 1545.0,1414.3 1546.0,1414.3 1547.0,1414.3 1548.0,1414.3 1549.0,1414.3 1550.0,1414.3 1551.0,1414.3 1552.0,1414.3 1553.0,1414.3 1554.0,1414.3 1555.0,1414.3 1556.0,1414.3 1557.0,1414.3 1558.0,1414.3 1559.0,1414.3 1560.0,1414.3 1561.0,1414.3 1562.0,1414.3 1563.0,1414.3 1564.0,1414.3 1565.0,1414.3 1566.0,1414.3 1567.0,1414.3 1568.0,1414.3 1569.0,1414.3 1570.0,1414.3 1571.0,1414.3 1572.0,1414.3 1573.0,1414.3 1574.0,1414.3 1575.0,1414.3 1576.0,1414.3 1577.0,1414.3 1578.0,1414.3 1579.0,1414.3 1580.0,1414.3 1581.0,1414.3 1582.0,1414.3 1583.0,1414.3 1584.0,1414.3 1585.0,1414.3 1586.0,1414.3 1587.0,1414.3 1588.0,1414.3 1589.0,1414.3 1590.0,1414.3 1591.0,1414.3 1592.0,1414.3 1593.0,1414.3 1594.0,1414.3 1595.0,1414.3 1596.0,1414.3 1597.0,1414.3 1598.0,1414.3 1599.0,1414.3 1600.0,1414.3 1601.0,1414.3 1602.0,1414.3 1603.0,1414.3 1604.0,1414.3 1605.0,1414.3 1606.0,1414.3 1607.0,1414.3 1608.0,1414.3 1609.0,1414.3 1610.0,1414.3 1611.0,1414.3 1612.0,1414.3 1613.0,1414.3 1614.0,1414.3 1615.0,1414.3 1616.0,1414.3 1617.0,1414.3 1618.0,1414.3 1619.0,1414.3 1620.0,1414.3 1621.0,1414.3 1622.0,1414.3 1623.0,1414.3 1624.0,1414.3 1625.0,1414.3 1626.0,1414.3 1627.0,1414.3 1628.0,1414.3 1629.0,1414.3 1630.0,1414.3 1631.0,1414.3 1632.0,1414.3 1633.0,1414.3 1634.0,1414.3 1635.0,1414.3 1636.0,1414.3 1637.0,1414.3 1638.0,1414.3 1639.0,1414.3 1640.0,1414.3 1641.0,1414.3 1642.0,1414.3 1643.0,1414.3 1644.0,1414.3 1645.0,1414.3 1646.0,1414.3 1647.0,1414.3 1648.0,1414.3 1649.0,1414.3 1650.0,1414.3 1651.0,1414.3 1652.0,1414.3 1653.0,1414.3 1654.0,1414.3 1655.0,1414.3 1656.0,1414.3 1657.0,1414.3 1658.0,1414.3 1659.0,1414.3 1660.0,1414.3 1661.0,1414.3 1662.0,1414.3 1663.0,1414.3 1664.0,1414.3 1665.0,1414.3 1666.0,1414.3 1667.0,1414.3 1668.0,1414.3 1669.0,1414.3 1670.0,1414.3 1671.0,1414.3 1672.0,1414.3 1673.0,1414.3 1674.0,1414.3 1675.0,1414.3 1676.0,1414.3 1677.0,1414.3 1678.0,1414.3 1679.0,1414.3 1680.0,1414.3 1681.0,1414.3 1682.0,1414.3 1683.0,1414.3 1684.0,1414.3 1685.0,1414.3 1686.0,1414.3 1687.0,1414.3 1688.0,1414.3 1689.0,1414.3 1690.0,1414.3 1691.0,1414.3 1692.0,1414.3 1693.0,1414.3 1694.0,1414.3 1695.0,1414.3 1696.0,1414.3 1697.0,1414.3 1698.0,1414.3 1699.0,1414.3 1700.0,1414.3 1701.0,1414.3 1702.0,1414.3 1703.0,1414.3 1704.0,1414.3 1705.0,1414.3 1706.0,1414.3 1707.0,1414.3 1708.0,1414.3 1709.0,1414.3 1710.0,1414.3 1711.0,1414.3 1712.0,1414.3 1713.0,1414.3 1714.0,1414.3 1715.0,1414.3 1716.0,1414.3 1717.0,1414.3 1718.0,1414.3 1719.0,1414.3 1720.0,1414.3 1721.0,1414.3 1722.0,1414.3 1723.0,1414.3 1724.0,1414.3 1725.0,1414.3 1726.0,1414.3 1727.0,1414.3 1728.0,1414.3 1729.0,1414.3 1730.0,1414.3 1731.0,1414.3 1732.0,1414.3 1733.0,1414.3 1734.0,1414.3 1735.0,1414.3 1736.0,1414.3 1737.0,1414.3 1738.0,1414.3 1739.0,1414.3 1740.0,1414.3 1741.0,1414.3 1742.0,1414.3 1743.0,1414.3 1744.0,1414.3 1745.0,1414.3 1746.0,1414.3 1747.0,1414.3 1748.0,1414.3 1749.0,1414.3 1750.0,1414.3 1751.0,1414.3 1752.0,1414.3 1753.0,1414.3 1754.0,1414.3 1755.0,1414.3 1756.0,1414.3 1757.0,1414.3 1758.0,1414.3 1759.0,1414.3 1760.0,1414.3 1761.0,1414.3 1762.0,1414.3 1763.0,1414.3 1764.0,1414.3 1765.0,1414.3 1766.0,1414.3 1767.0,1414.3 1768.0,1414.3 1769.0,1414.3 1770.0,1414.3 1771.0,1414.3 1772.0,1414.3 1773.0,1414.3 1774.0,1414.3 1775.0,1414.3 1776.0,1414.3 1777.0,1414.3 1778.0,1414.3 1779.0,1414.3 1780.0,1414.3 1781.0,1414.3 1782.0,1414.3 1783.0,1414.3 1784.0,1414.3 1785.0,1414.3 1786.0,1414.3 1787.0,1414.3 1788.0,1414.3 1789.0,1414.3 1790.0,1414.3 1791.0,1414.3 1792.0,1414.3 1793.0,1414.3 1794.0,1414.3 1795.0,1414.3 1796.0,1414.3 1797.0,1414.3 1798.0,1414.3 1799.0,1414.3 1800.0,1414.3 1801.0,1414.3 1802.0,1414.3 1803.0,1414.3 1804.0,1414.3 1805.0,1414.3 1806.0,1414.3 1807.0,1414.3 1808.0,1414.3 1809.0,1414.3 1810.0,1414.3 1811.0,1414.3 1812.0,1414.3 1813.0,1414.3 1814.0,1414.3 1815.0,1414.3 1816.0,1414.3 1817.0,1414.3 1818.0,1414.3 1819.0,1414.3 1820.0,1414.3 1821.0,1414.3 1822.0,1414.3 1823.0,1414.3 1824.0,1414.3 1825.0,1414.3 1826.0,1414.3 1827.0,1414.3 1828.0,1414.3 1829.0,1414.3 1830.0,1414.3 1831.0,1414.3 1832.0,1414.3 1833.0,1414.3 1834.0,1414.3 1835.0,1414.3 1836.0,1414.3 1837.0,1414.3 1838.0,1414.3 1839.0,1414.3 1840.0,1414.3 1841.0,1414.3 1842.0,1414.3 1843.0,1414.3 1844.0,1414.3 1845.0,1414.3 1846.0,1414.3 1847.0,1414.3 1848.0,1414.3 1849.0,1414.3 1850.0,1414.3 1851.0,1414.3 1852.0,1414.3 1853.0,1414.3 1854.0,1414.3 1855.0,1414.3 1856.0,1414.3 1857.0,1414.3 1858.0,1414.3 1859.0,1414.3 1860.0,1414.3 1861.0,1414.3 1862.0,1414.3 1863.0,1414.3 1864.0,1414.3 1865.0,1414.3 1866.0,1414.3 1867.0,1414.3 1868.0,1414.3 1869.0,1414.3 1870.0,1414.3 1871.0,1414.3 1872.0,1414.3 1873.0,1414.3 1874.0,1414.3 1875.0,1414.3 1876.0,1414.3 1877.0,1414.3 1878.0,1414.3 1879.0,1414.3 1880.0,1414.3 1881.0,1414.3 1882.0,1414.3 1883.0,1414.3 1884.0,1414.3 1885.0,1414.3 1886.0,1414.3 1887.0,1414.3 1888.0,1414.3 1889.0,1414.3 1890.0,1414.3 1891.0,1414.3 1892.0,1414.3 1893.0,1414.3 1894.0,1414.3 1895.0,1414.3 1896.0,1414.3 1897.0,1414.3 1898.0,1414.3 1899.0,1414.3 1900.0,1414.3 1901.0,1414.3 1902.0,1414.3 1903.0,1414.3 1904.0,1414.3 1905.0,1414.3 1906.0,1414.3 1907.0,1414.3 1908.0,1414.3 1909.0,1414.3 1910.0,1414.3 1911.0,1414.3 1912.0,1414.3 1913.0,1414.3 1914.0,1414.3 1915.0,1414.3 1916.0,1414.3 1917.0,1414.3 1918.0,1414.3 1919.0,1414.3 1920.0,1414.3 1921.0,1414.3 1922.0,1414.3 1923.0,1414.3 1924.0,1414.3 1925.0,1414.3 1926.0,1414.3 1927.0,1414.3 1928.0,1414.3 1929.0,1414.3 1930.0,1414.3 1931.0,1414.3 1932.0,1414.3 1933.0,1414.3 1934.0,1414.3 1935.0,1414.3 1936.0,1414.3 1937.0,1414.3 1938.0,1414.3 1939.0,1414.3 1940.0,1414.3 1941.0,1414.3 1942.0,1414.3 1943.0,1414.3 1944.0,1414.3 1945.0,1414.3 1946.0,1414.3 1947.0,1414.3 1948.0,1414.3 1949.0,1414.3 1950.0,1414.3 1951.0,1414.3 1952.0,1414.3 1953.0,1414.3 1954.0,1414.3 1955.0,1414.3 1956.0,1414.3 1957.0,1414.3 1958.0,1414.3 1959.0,1414.3 1960.0,1414.3 1961.0,1414.3 1962.0,1414.3 1963.0,1414.3 1964.0,1414.3 1965.0,1414.3 1966.0,1414.3 1967.0,1414.3 1968.0,1414.3 1969.0,1414.3 1970.0,1414.3 1971.0,1414.3 1972.0,1414.3 1973.0,1414.3 1974.0,1414.3 1975.0,1414.3 1976.0,1414.3 1977.0,1414.3 1978.0,1414.3 1979.0,1414.3 1980.0,1414.3 1981.0,1414.3 1982.0,1414.3 1983.0,1414.3 1984.0,1414.3 1985.0,1414.3 1986.0,1414.3 1987.0,1414.3 1988.0,1414.3 1989.0,1414.3 1990.0,1414.3 1991.0,1414.3 1992.0,1414.3 1993.0,1414.3 1994.0,1414.3 1995.0,1414.3 1996.0,1414.3 1997.0,1414.3 1998.0,1414.3 1999.0,1414.3 2000.0,1414.3 2001.0,1414.3 2002.0,1414.3 2003.0,1414.3 2004.0,1414.3 2005.0,1414.3 2006.0,1414.3 2007.0,1414.3 2008.0,1414.3 2009.0,1414.3 2010.0,1414.3 2011.0,1414.3 2012.0,1414.3 2013.0,1414.3 2014.0,1414.3 2015.0,1414.3 2016.0,1414.3 2017.0,1414.3 2018.0,1414.3 2019.0,1414.3 2020.0,1414.3 2021.0,1414.3 2022.0,1414.3 2023.0,1414.3 2024.0,1414.3 2025.0,1414.3 2026.0,1414.3 2027.0,1414.3 2028.0,1414.3 2029.0,1414.3 2030.0,1414.3 2031.0,1414.3 2032.0,1414.3 2033.0,1414.3 2034.0,1414.3 2035.0,1414.3 2036.0,1414.3 2037.0,1414.3 2038.0,1414.3 2039.0,1414.3 2040.0,1414.3 2041.0,1414.3 2042.0,1414.3 2043.0,1414.3 2044.0,1414.3 2045.0,1414.3 2046.0,1414.3 2047.0,1414.3 2048.0,1414.3 2049.0,1414.3 2050.0,1414.3 2051.0,1414.3 2052.0,1414.3 2053.0,1414.3 2054.0,1414.3 2055.0,1414.3 2056.0,1414.3 2057.0,1414.3 2058.0,1414.3 2059.0,1414.3 2060.0,1414.3 2061.0,1414.3 2062.0,1414.3 2063.0,1414.3 2064.0,1414.3 2065.0,1414.3 2066.0,1414.3 2067.0,1414.3 2068.0,1414.3 2069.0,1414.3 2070.0,1414.3 2071.0,1414.3 2072.0,1414.3 2073.0,1414.3 2074.0,1414.3 2075.0,1414.3 2076.0,1414.3 2077.0,1414.3 2078.0,1414.3 2079.0,1414.3 2080.0,1414.3 2081.0,1414.3 2082.0,1414.3 2083.0,1414.3 2084.0,1414.3 2085.0,1414.3 2086.0,1414.3 2087.0,1414.3 2088.0,1414.3 2089.0,1414.3 2090.0,1414.3 2091.0,1414.3 2092.0,1414.3 2093.0,1414.3 2094.0,1414.3 2095.0,1414.3 2096.0,1414.3 2097.0,1414.3 2098.0,1414.3 2099.0,1414.3 2100.0,1414.3 2101.0,1414.3 2102.0,1414.3 2103.0,1414.3 2104.0,1414.3 2105.0,1414.3 2106.0,1414.3 2107.0,1414.3 2108.0,1414.3 2109.0,1414.3 2110.0,1414.3 2111.0,1414.3 2112.0,1414.3 2113.0,1414.3 2114.0,1414.3 2115.0,1414.3 2116.0,1414.3 2117.0,1414.3 2118.0,1414.3 2119.0,1414.3 2120.0,1414.3 2121.0,1414.3 2122.0,1414.3 2123.0,1414.3 2124.0,1414.3 2125.0,1414.3 2126.0,1414.3 2127.0,1414.3 2128.0,1414.3 2129.0,1414.3 2130.0,1414.3 2131.0,1414.3 2132.0,1414.3 2133.0,1414.3 2134.0,1414.3 2135.0,1414.3 2136.0,1414.3 2137.0,1414.3 2138.0,1414.3 2139.0,1414.3 2140.0,1414.3 2141.0,1414.3 2142.0,1414.3 2143.0,1414.3 2144.0,1414.3 2145.0,1414.3 2146.0,1414.3 2147.0,1414.3 2148.0,1414.3 2149.0,1414.3 2150.0,1414.3 2151.0,1414.3 2152.0,1414.3 2153.0,1414.3 2154.0,1414.3 2155.0,1414.3 2156.0,1414.3 2157.0,1414.3 2158.0,1414.3 2159.0,1414.3 2160.0,1414.3 2161.0,1414.3 2162.0,1414.3 2163.0,1414.3 2164.0,1414.3 2165.0,1414.3 2166.0,1414.3 2167.0,1414.3 2168.0,1414.3 2169.0,1414.3 2170.0,1414.3 2171.0,1414.3 2172.0,1414.3 2173.0,1414.3 2174.0,1414.3 2175.0,1414.3 2176.0,1414.3 2177.0,1414.3 2178.0,1414.3 2179.0,1414.3 2180.0,1414.3 2181.0,1414.3 2182.0,1414.3 2183.0,1414.3 2184.0,1414.3 2185.0,1414.3 2186.0,1414.3 2187.0,1414.3 2188.0,1414.3 2189.0,1414.3 2190.0,1414.3 2191.0,1414.3 2192.0,1414.3 2193.0,1414.3 2194.0,1414.3 2195.0,1414.3 2196.0,1414.3 2197.0,1414.3 2198.0,1414.3 2199.0,1414.3 2200.0,1414.3 2201.0,1414.3 2202.0,1414.3 2203.0,1414.3 2204.0,1414.3 2205.0,1414.3 2206.0,1414.3 2207.0,1414.3 2208.0,1414.3 2209.0,1414.3 2210.0,1414.3 2211.0,1414.3 2212.0,1414.3 2213.0,1414.3 2214.0,1414.3 2215.0,1414.3 2216.0,1414.3 2217.0,1414.3 2218.0,1414.3 2219.0,1414.3 2220.0,1414.3 2221.0,1414.3 2222.0,1414.3 2223.0,1414.3 2224.0,1414.3 2225.0,1414.3 2226.0,1414.3 2227.0,1414.3 2228.0,1414.3 2229.0,1414.3 2230.0,1414.3 2231.0,1414.3 2232.0,1414.3 2233.0,1414.3 2234.0,1414.3 2235.0,1414.3 2236.0,1414.3 2237.0,1414.3 2238.0,1414.3 2239.0,1414.3 2240.0,1414.3 2241.0,1414.3 2242.0,1414.3 2243.0,1414.3 2244.0,1414.3 2245.0,1414.3 2246.0,1414.3 2247.0,1414.3 2248.0,1414.3 2249.0,1414.3 2250.0,1414.3 2251.0,1414.3 2252.0,1414.3 2253.0,1414.3 2254.0,1414.3 2255.0,1414.3 2256.0,1414.3 2257.0,1414.3 2258.0,1414.3 2259.0,1414.3 2260.0,1414.3 2261.0,1414.3 2262.0,1414.3 2263.0,1414.3 2264.0,1414.3 2265.0,1414.3 2266.0,1414.3 2267.0,1414.3 2268.0,1414.3 2269.0,1414.3 2270.0,1414.3 2271.0,1414.3 2272.0,1414.3 2273.0,1414.3 2274.0,1414.3 2275.0,1414.3 2276.0,1414.3 2277.0,1414.3 2278.0,1414.3 2279.0,1414.3 2280.0,1414.3 2281.0,1414.3 2282.0,1414.3 2283.0,1414.3 2284.0,1414.3 2285.0,1414.3 2286.0,1414.3 2287.0,1414.3 2288.0,1414.3 2289.0,1414.3 2290.0,1414.3 2291.0,1414.3 2292.0,1414.3 2293.0,1414.3 2294.0,1414.3 2295.0,1414.3 2296.0,1414.3 2297.0,1414.3 2298.0,1414.3 2299.0,1414.3 2300.0,1414.3 2301.0,1414.3 2302.0,1414.3 2303.0,1414.3 2304.0,1414.3 2305.0,1414.3 2306.0,1414.3 2307.0,1414.3 2308.0,1414.3 2309.0,1414.3 2309.0,1416.0" fill="none" stroke="none"/><polyline points="270.0,1414.3 271.0,1414.3 272.0,1414.3 273.0,1414.3 274.0,1414.3 275.0,1414.3 276.0,1414.3 277.0,1414.3 278.0,1414.3 279.0,1414.3 280.0,1414.3 281.0,1414.3 282.0,1414.3 283.0,1414.3 284.0,1414.3 285.0,1414.3 286.0,1414.3 287.0,1414.3 288.0,1414.3 289.0,1414.3 290.0,1414.3 291.0,1414.3 292.0,1414.3 293.0,1414.3 294.0,1414.3 295.0,1414.3 296.0,1414.3 297.0,1414.3 298.0,1414.3 299.0,1414.3 300.0,1414.3 301.0,1414.3 302.0,1414.3 303.0,1414.3 304.0,1414.3 305.0,1414.3 306.0,1414.3 307.0,1414.3 308.0,1414.3 309.0,1414.3 310.0,1414.3 311.0,1414.3 312.0,1414.3 313.0,1414.3 314.0,1414.3 315.0,1414.3 316.0,1414.3 317.0,1414.3 318.0,1414.3 319.0,1414.3 320.0,1414.3 321.0,1414.3 322.0,1414.3 323.0,1414.3 324.0,1414.3 325.0,1414.3 326.0,1414.3 327.0,1414.3 328.0,1414.3 329.0,1414.3 330.0,1414.3 331.0,1414.3 332.0,1414.3 333.0,1414.3 334.0,1414.3 335.0,1414.3 336.0,1414.3 337.0,1414.3 338.0,1414.3 339.0,1414.3 340.0,1414.3 341.0,1414.3 342.0,1414.3 343.0,1414.3 344.0,1414.3 345.0,1414.3 346.0,1414.3 347.0,1414.3 348.0,1414.3 349.0,1414.3 350.0,1414.3 351.0,1414.3 352.0,1414.3 353.0,1414.3 354.0,1414.3 355.0,1414.3 356.0,1414.3 357.0,1414.3 358.0,1414.3 359.0,1414.3 360.0,1414.3 361.0,1414.3 362.0,1414.3 363.0,1414.3 364.0,1414.3 365.0,1414.3 366.0,1414.3 367.0,1414.3 368.0,1414.3 369.0,1414.3 370.0,1414.3 371.0,1414.3 372.0,1414.3 373.0,1414.3 374.0,1414.3 375.0,1414.3 376.0,1414.3 377.0,1414.3 378.0,1414.3 379.0,1414.3 380.0,1414.3 381.0,1414.3 382.0,1414.3 383.0,1414.3 384.0,1414.3 385.0,1414.3 386.0,1414.3 387.0,1414.3 388.0,1414.3 389.0,1414.3 390.0,1414.3 391.0,1414.3 392.0,1414.3 393.0,1414.3 394.0,1414.3 395.0,1414.3 396.0,1414.3 397.0,1414.3 398.0,1414.3 399.0,1414.3 400.0,1414.3 401.0,1414.3 402.0,1414.3 403.0,1414.3 404.0,1414.3 405.0,1414.3 406.0,1414.3 407.0,1414.3 408.0,1414.3 409.0,1414.3 410.0,1414.3 411.0,1414.3 412.0,1414.3 413.0,1414.3 414.0,1414.3 415.0,1414.3 416.0,1414.3 417.0,1414.3 418.0,1414.3 419.0,1414.3 420.0,1414.3 421.0,1414.3 422.0,1414.3 423.0,1414.3 424.0,1414.3 425.0,1414.3 426.0,1414.3 427.0,1414.3 428.0,1414.3 429.0,1414.3 430.0,1414.3 431.0,1414.3 432.0,1414.3 433.0,1414.3 434.0,1414.3 435.0,1414.3 436.0,1414.3 437.0,1414.3 438.0,1414.3 439.0,1414.3 440.0,1414.3 441.0,1414.3 442.0,1414.3 443.0,1414.3 444.0,1414.3 445.0,1414.3 446.0,1414.3 447.0,1414.3 448.0,1414.3 449.0,1414.3 450.0,1414.3 451.0,1414.3 452.0,1414.3 453.0,1414.3 454.0,1414.3 455.0,1414.3 456.0,1414.3 457.0,1414.3 458.0,1414.3 459.0,1414.3 460.0,1414.3 461.0,1414.3 462.0,1414.3 463.0,1414.3 464.0,1414.3 465.0,1414.3 466.0,1414.3 467.0,1414.3 468.0,1414.3 469.0,1414.3 470.0,1414.3 471.0,1414.3 472.0,1414.3 473.0,1414.3 474.0,1414.3 475.0,1414.3 476.0,1414.3 477.0,1414.3 478.0,1414.3 479.0,1414.3 480.0,1414.3 481.0,1414.3 482.0,1414.3 483.0,1414.3 484.0,1414.3 485.0,1414.3 486.0,1414.3 487.0,1414.3 488.0,1414.3 489.0,1414.3 490.0,1414.3 491.0,1414.3 492.0,1414.3 493.0,1414.3 494.0,1414.3 495.0,1414.3 496.0,1414.3 497.0,1414.3 498.0,1414.3 499.0,1414.3 500.0,1414.3 501.0,1414.3 502.0,1414.3 503.0,1414.3 504.0,1414.3 505.0,1414.3 506.0,1414.3 507.0,1414.3 508.0,1414.3 509.0,1414.3 510.0,1414.3 511.0,1414.3 512.0,1414.3 513.0,1414.3 514.0,1414.3 515.0,1414.3 516.0,1414.3 517.0,1414.3 518.0,1414.3 519.0,1414.3 520.0,1414.3 521.0,1414.3 522.0,1414.3 523.0,1414.3 524.0,1414.3 525.0,1414.3 526.0,1414.3 527.0,1414.3 528.0,1414.3 529.0,1414.3 530.0,1414.3 531.0,1414.3 532.0,1414.3 533.0,1414.3 534.0,1414.3 535.0,1414.3 536.0,1414.3 537.0,1414.3 538.0,1414.3 539.0,1414.3 540.0,1414.3 541.0,1414.3 542.0,1414.3 543.0,1414.3 544.0,1414.3 545.0,1414.3 546.0,1414.3 547.0,1414.3 548.0,1414.3 549.0,1414.3 550.0,1414.3 551.0,1414.3 552.0,1414.3 553.0,1414.3 554.0,1414.3 555.0,1414.3 556.0,1414.3 557.0,1414.3 558.0,1414.3 559.0,1414.3 560.0,1414.3 561.0,1414.3 562.0,1414.3 563.0,1414.3 564.0,1414.3 565.0,1414.3 566.0,1414.3 567.0,1414.3 568.0,1414.3 569.0,1414.3 570.0,1414.3 571.0,1414.3 572.0,1414.3 573.0,1414.3 574.0,1414.3 575.0,1414.3 576.0,1414.3 577.0,1414.3 578.0,1414.3 579.0,1414.3 580.0,1414.3 581.0,1414.3 582.0,1414.3 583.0,1414.3 584.0,1414.3 585.0,1414.3 586.0,1414.3 587.0,1414.3 588.0,1414.3 589.0,1414.3 590.0,1414.3 591.0,1414.3 592.0,1414.3 593.0,1414.3 594.0,1414.3 595.0,1414.3 596.0,1414.3 597.0,1414.3 598.0,1414.3 599.0,1414.3 600.0,1414.3 601.0,1414.3 602.0,1414.3 603.0,1414.3 604.0,1414.3 605.0,1414.3 606.0,1414.3 607.0,1414.3 608.0,1414.3 609.0,1414.3 610.0,1414.3 611.0,1414.3 612.0,1414.3 613.0,1414.3 614.0,1414.3 615.0,1414.3 616.0,1414.3 617.0,1414.3 618.0,1414.3 619.0,1414.3 620.0,1414.3 621.0,1414.3 622.0,1414.3 623.0,1414.3 624.0,1414.3 625.0,1414.3 626.0,1414.3 627.0,1414.3 628.0,1414.3 629.0,1414.3 630.0,1414.3 631.0,1414.3 632.0,1414.3 633.0,1414.3 634.0,1414.3 635.0,1414.3 636.0,1414.3 637.0,1414.3 638.0,1414.3 639.0,1414.3 640.0,1414.3 641.0,1414.3 642.0,1414.3 643.0,1414.3 644.0,1414.3 645.0,1414.3 646.0,1414.3 647.0,1414.3 648.0,1414.3 649.0,1414.3 650.0,1414.3 651.0,1414.3 652.0,1414.3 653.0,1414.3 654.0,1414.3 655.0,1414.3 656.0,1414.3 657.0,1414.3 658.0,1414.3 659.0,1414.3 660.0,1414.3 661.0,1414.3 662.0,1414.3 663.0,1414.3 664.0,1414.3 665.0,1414.3 666.0,1414.3 667.0,1414.3 668.0,1414.3 669.0,1414.3 670.0,1414.3 671.0,1414.3 672.0,1414.3 673.0,1414.3 674.0,1414.3 675.0,1414.3 676.0,1414.3 677.0,1414.3 678.0,1414.3 679.0,1414.3 680.0,1414.3 681.0,1414.3 682.0,1414.3 683.0,1414.3 684.0,1414.3 685.0,1414.3 686.0,1414.3 687.0,1414.3 688.0,1414.3 689.0,1414.3 690.0,1414.3 691.0,1414.3 692.0,1414.3 693.0,1414.3 694.0,1414.3 695.0,1414.3 696.0,1414.3 697.0,1414.3 698.0,1414.3 699.0,1414.3 700.0,1414.3 701.0,1414.3 702.0,1414.3 703.0,1414.3 704.0,1414.3 705.0,1414.3 706.0,1414.3 707.0,1414.3 708.0,1414.3 709.0,1414.3 710.0,1414.3 711.0,1414.3 712.0,1414.3 713.0,1414.3 714.0,1414.3 715.0,1414.3 716.0,1414.3 717.0,1414.3 718.0,1414.3 719.0,1414.3 720.0,1414.3 721.0,1414.3 722.0,1414.3 723.0,1414.3 724.0,1414.3 725.0,1414.3 726.0,1414.3 727.0,1414.3 728.0,1414.3 729.0,1414.3 730.0,1414.3 731.0,1414.3 732.0,1414.3 733.0,1414.3 734.0,1414.3 735.0,1414.3 736.0,1414.3 737.0,1414.3 738.0,1414.3 739.0,1414.3 740.0,1414.3 741.0,1414.3 742.0,1414.3 743.0,1414.3 744.0,1414.3 745.0,1414.3 746.0,1414.3 747.0,1414.3 748.0,1414.3 749.0,1414.3 750.0,1414.3 751.0,1414.3 752.0,1414.3 753.0,1414.3 754.0,1414.3 755.0,1414.3 756.0,1414.3 757.0,1414.3 758.0,1414.3 759.0,1414.3 760.0,1414.3 761.0,1414.3 762.0,1414.3 763.0,1414.3 764.0,1414.3 765.0,1414.3 766.0,1414.3 767.0,1414.3 768.0,1414.3 769.0,1414.3 770.0,1414.3 771.0,1414.3 772.0,1414.3 773.0,1414.3 774.0,1414.3 775.0,1414.3 776.0,1414.3 777.0,1414.3 778.0,1414.3 779.0,1414.3 780.0,1414.3 781.0,1414.3 782.0,1414.3 783.0,1414.3 784.0,1414.3 785.0,1414.3 786.0,1414.3 787.0,1414.3 788.0,1414.3 789.0,1414.3 790.0,1414.3 791.0,1414.3 792.0,1414.3 793.0,1414.3 794.0,1414.3 795.0,1414.3 796.0,1414.3 797.0,1414.3 798.0,1414.3 799.0,1414.3 800.0,1414.3 801.0,1414.3 802.0,1414.3 803.0,1414.3 804.0,1414.3 805.0,1414.3 806.0,1414.3 807.0,1414.3 808.0,1414.3 809.0,1414.3 810.0,1414.3 811.0,1414.3 812.0,1414.3 813.0,1414.3 814.0,1414.3 815.0,1414.3 816.0,1414.3 817.0,1414.3 818.0,1414.3 819.0,1414.3 820.0,1414.3 821.0,1414.3 822.0,1414.3 823.0,1414.3 824.0,1414.3 825.0,1414.3 826.0,1414.3 827.0,1414.3 828.0,1414.3 829.0,1414.3 830.0,1414.3 831.0,1414.3 832.0,1414.3 833.0,1414.3 834.0,1414.3 835.0,1414.3 836.0,1414.3 837.0,1414.3 838.0,1414.3 839.0,1414.3 840.0,1414.3 841.0,1414.3 842.0,1414.3 843.0,1414.3 844.0,1414.3 845.0,1414.3 846.0,1414.3 847.0,1414.3 848.0,1414.3 849.0,1414.3 850.0,1414.3 851.0,1414.3 852.0,1414.3 853.0,1414.3 854.0,1414.3 855.0,1414.3 856.0,1414.3 857.0,1414.3 858.0,1414.3 859.0,1414.3 860.0,1414.3 861.0,1414.3 862.0,1414.3 863.0,1414.3 864.0,1414.3 865.0,1414.3 866.0,1414.3 867.0,1414.3 868.0,1414.3 869.0,1414.3 870.0,1414.3 871.0,1414.3 872.0,1414.3 873.0,1414.3 874.0,1414.3 875.0,1414.3 876.0,1414.3 877.0,1414.3 878.0,1414.3 879.0,1414.3 880.0,1414.3 881.0,1414.3 882.0,1414.3 883.0,1414.3 884.0,1414.3 885.0,1414.3 886.0,1414.3 887.0,1414.3 888.0,1414.3 889.0,1414.3 890.0,1414.3 891.0,1414.3 892.0,1414.3 893.0,1414.3 894.0,1414.3 895.0,1414.3 896.0,1414.3 897.0,1414.3 898.0,1414.3 899.0,1414.3 900.0,1414.3 901.0,1414.3 902.0,1414.3 903.0,1414.3 904.0,1414.3 905.0,1414.3 906.0,1414.3 907.0,1414.3 908.0,1414.3 909.0,1414.3 910.0,1414.3 911.0,1414.3 912.0,1414.3 913.0,1414.3 914.0,1414.3 915.0,1414.3 916.0,1414.3 917.0,1414.3 918.0,1414.3 919.0,1414.3 920.0,1414.3 921.0,1414.3 922.0,1414.3 923.0,1414.3 924.0,1414.3 925.0,1414.3 926.0,1414.3 927.0,1414.3 928.0,1414.3 929.0,1414.3 930.0,1414.3 931.0,1414.3 932.0,1414.3 933.0,1414.3 934.0,1414.3 935.0,1414.3 936.0,1414.3 937.0,1414.3 938.0,1414.3 939.0,1414.3 940.0,1414.3 941.0,1414.3 942.0,1414.3 943.0,1414.3 944.0,1414.3 945.0,1414.3 946.0,1414.3 947.0,1414.3 948.0,1414.3 949.0,1414.3 950.0,1414.3 951.0,1414.3 952.0,1414.3 953.0,1414.3 954.0,1414.3 955.0,1414.3 956.0,1414.3 957.0,1414.3 958.0,1414.3 959.0,1414.3 960.0,1414.3 961.0,1414.3 962.0,1414.3 963.0,1414.3 964.0,1414.3 965.0,1414.3 966.0,1414.3 967.0,1414.3 968.0,1414.3 969.0,1414.3 970.0,1414.3 971.0,1414.3 972.0,1414.3 973.0,1414.3 974.0,1414.3 975.0,1414.3 976.0,1414.3 977.0,1414.3 978.0,1414.3 979.0,1414.3 980.0,1414.3 981.0,1414.3 982.0,1414.3 983.0,1414.3 984.0,1414.3 985.0,1414.3 986.0,1414.3 987.0,1414.3 988.0,1414.3 989.0,1414.3 990.0,1414.3 991.0,1414.3 992.0,1414.3 993.0,1414.3 994.0,1414.3 995.0,1414.3 996.0,1414.3 997.0,1414.3 998.0,1414.3 999.0,1414.3 1000.0,1414.3 1001.0,1414.3 1002.0,1414.3 1003.0,1414.3 1004.0,1414.3 1005.0,1414.3 1006.0,1414.3 1007.0,1414.3 1008.0,1414.3 1009.0,1414.3 1010.0,1414.3 1011.0,1414.3 1012.0,1414.3 1013.0,1414.3 1014.0,1414.3 1015.0,1414.3 1016.0,1414.3 1017.0,1414.3 1018.0,1414.3 1019.0,1414.3 1020.0,1414.3 1021.0,1414.3 1022.0,1414.3 1023.0,1414.3 1024.0,1414.3 1025.0,1414.3 1026.0,1414.3 1027.0,1414.3 1028.0,1414.3 1029.0,1414.3 1030.0,1414.3 1031.0,1414.3 1032.0,1414.3 1033.0,1414.3 1034.0,1414.3 1035.0,1414.3 1036.0,1414.3 1037.0,1414.3 1038.0,1414.3 1039.0,1414.3 1040.0,1414.3 1041.0,1414.3 1042.0,1414.3 1043.0,1414.3 1044.0,1414.3 1045.0,1414.3 1046.0,1414.3 1047.0,1414.3 1048.0,1414.3 1049.0,1414.3 1050.0,1414.3 1051.0,1414.3 1052.0,1414.3 1053.0,1414.3 1054.0,1414.3 1055.0,1414.3 1056.0,1414.3 1057.0,1414.3 1058.0,1414.3 1059.0,1414.3 1060.0,1414.3 1061.0,1414.3 1062.0,1414.3 1063.0,1414.3 1064.0,1414.3 1065.0,1414.3 1066.0,1414.3 1067.0,1414.3 1068.0,1414.3 1069.0,1414.3 1070.0,1414.3 1071.0,1414.3 1072.0,1414.3 1073.0,1414.3 1074.0,1414.3 1075.0,1414.3 1076.0,1414.3 1077.0,1414.3 1078.0,1414.3 1079.0,1414.3 1080.0,1414.3 1081.0,1414.3 1082.0,1414.3 1083.0,1414.3 1084.0,1414.3 1085.0,1414.3 1086.0,1414.3 1087.0,1414.3 1088.0,1414.3 1089.0,1414.3 1090.0,1414.3 1091.0,1414.3 1092.0,1414.3 1093.0,1414.3 1094.0,1414.3 1095.0,1414.3 1096.0,1414.3 1097.0,1414.3 1098.0,1414.3 1099.0,1414.3 1100.0,1414.3 1101.0,1414.3 1102.0,1414.3 1103.0,1414.3 1104.0,1414.3 1105.0,1414.3 1106.0,1414.3 1107.0,1414.3 1108.0,1414.3 1109.0,1414.3 1110.0,1414.3 1111.0,1414.3 1112.0,1414.3 1113.0,1414.3 1114.0,1414.3 1115.0,1414.3 1116.0,1414.3 1117.0,1414.3 1118.0,1414.3 1119.0,1414.3 1120.0,1414.3 1121.0,1414.3 1122.0,1414.3 1123.0,1414.3 1124.0,1414.3 1125.0,1414.3 1126.0,1414.3 1127.0,1414.3 1128.0,1414.3 1129.0,1414.3 1130.0,1414.3 1131.0,1414.3 1132.0,1414.3 1133.0,1414.3 1134.0,1414.3 1135.0,1414.3 1136.0,1414.3 1137.0,1414.3 1138.0,1414.3 1139.0,1414.3 1140.0,1414.3 1141.0,1414.3 1142.0,1414.3 1143.0,1414.3 1144.0,1414.3 1145.0,1414.3 1146.0,1414.3 1147.0,1414.3 1148.0,1414.3 1149.0,1414.3 1150.0,1414.3 1151.0,1414.3 1152.0,1414.3 1153.0,1414.3 1154.0,1414.3 1155.0,1414.3 1156.0,1414.3 1157.0,1414.3 1158.0,1414.3 1159.0,1414.3 1160.0,1414.3 1161.0,1414.3 1162.0,1414.3 1163.0,1414.3 1164.0,1414.3 1165.0,1414.3 1166.0,1414.3 1167.0,1414.3 1168.0,1414.3 1169.0,1414.3 1170.0,1414.3 1171.0,1414.3 1172.0,1414.3 1173.0,1414.3 1174.0,1414.3 1175.0,1414.3 1176.0,1414.3 1177.0,1414.3 1178.0,1414.3 1179.0,1414.3 1180.0,1414.3 1181.0,1414.3 1182.0,1414.3 1183.0,1414.3 1184.0,1414.3 1185.0,1414.3 1186.0,1414.3 1187.0,1414.3 1188.0,1414.3 1189.0,1414.3 1190.0,1414.3 1191.0,1414.3 1192.0,1414.3 1193.0,1414.3 1194.0,1414.3 1195.0,1414.3 1196.0,1414.3 1197.0,1414.3 1198.0,1414.3 1199.0,1414.3 1200.0,1414.3 1201.0,1414.3 1202.0,1414.3 1203.0,1414.3 1204.0,1414.3 1205.0,1414.3 1206.0,1414.3 1207.0,1414.3 1208.0,1414.3 1209.0,1414.3 1210.0,1414.3 1211.0,1414.3 1212.0,1414.3 1213.0,1414.3 1214.0,1414.3 1215.0,1414.3 1216.0,1414.3 1217.0,1414.3 1218.0,1414.3 1219.0,1414.3 1220.0,1414.3 1221.0,1414.3 1222.0,1414.3 1223.0,1414.3 1224.0,1414.3 1225.0,1414.3 1226.0,1414.3 1227.0,1414.3 1228.0,1414.3 1229.0,1414.3 1230.0,1414.3 1231.0,1414.3 1232.0,1414.3 1233.0,1414.3 1234.0,1414.3 1235.0,1414.3 1236.0,1414.3 1237.0,1414.3 1238.0,1414.3 1239.0,1414.3 1240.0,1414.3 1241.0,1414.3 1242.0,1414.3 1243.0,1414.3 1244.0,1414.3 1245.0,1414.3 1246.0,1414.3 1247.0,1414.3 1248.0,1414.3 1249.0,1414.3 1250.0,1414.3 1251.0,1414.3 1252.0,1414.3 1253.0,1414.3 1254.0,1414.3 1255.0,1414.3 1256.0,1414.3 1257.0,1414.3 1258.0,1414.3 1259.0,1414.3 1260.0,1414.3 1261.0,1414.3 1262.0,1414.3 1263.0,1414.3 1264.0,1414.3 1265.0,1414.3 1266.0,1414.3 1267.0,1414.3 1268.0,1414.3 1269.0,1414.3 1270.0,1414.3 1271.0,1414.3 1272.0,1414.3 1273.0,1414.3 1274.0,1414.3 1275.0,1414.3 1276.0,1414.3 1277.0,1414.3 1278.0,1414.3 1279.0,1414.3 1280.0,1414.3 1281.0,1414.3 1282.0,1414.3 1283.0,1414.3 1284.0,1414.3 1285.0,1414.3 1286.0,1414.3 1287.0,1414.3 1288.0,1414.3 1289.0,1414.3 1290.0,1414.3 1291.0,1414.3 1292.0,1414.3 1293.0,1414.3 1294.0,1414.3 1295.0,1414.3 1296.0,1414.3 1297.0,1414.3 1298.0,1414.3 1299.0,1414.3 1300.0,1414.3 1301.0,1414.3 1302.0,1414.3 1303.0,1414.3 1304.0,1414.3 1305.0,1414.3 1306.0,1414.3 1307.0,1414.3 1308.0,1414.3 1309.0,1414.3 1310.0,1414.3 1311.0,1414.3 1312.0,1414.3 1313.0,1414.3 1314.0,1414.3 1315.0,1414.3 1316.0,1414.3 1317.0,1414.3 1318.0,1414.3 1319.0,1414.3 1320.0,1414.3 1321.0,1414.3 1322.0,1414.3 1323.0,1414.3 1324.0,1414.3 1325.0,1414.3 1326.0,1414.3 1327.0,1414.3 1328.0,1414.3 1329.0,1414.3 1330.0,1414.3 1331.0,1414.3 1332.0,1414.3 1333.0,1414.3 1334.0,1414.3 1335.0,1414.3 1336.0,1414.3 1337.0,1414.3 1338.0,1414.3 1339.0,1414.3 1340.0,1414.3 1341.0,1414.3 1342.0,1414.3 1343.0,1414.3 1344.0,1414.3 1345.0,1414.3 1346.0,1414.3 1347.0,1414.3 1348.0,1414.3 1349.0,1414.3 1350.0,1414.3 1351.0,1414.3 1352.0,1414.3 1353.0,1414.3 1354.0,1414.3 1355.0,1414.3 1356.0,1414.3 1357.0,1414.3 1358.0,1414.3 1359.0,1414.3 1360.0,1414.3 1361.0,1414.3 1362.0,1414.3 1363.0,1414.3 1364.0,1414.3 1365.0,1414.3 1366.0,1414.3 1367.0,1414.3 1368.0,1414.3 1369.0,1414.3 1370.0,1414.3 1371.0,1414.3 1372.0,1414.3 1373.0,1414.3 1374.0,1414.3 1375.0,1414.3 1376.0,1414.3 1377.0,1414.3 1378.0,1414.3 1379.0,1414.3 1380.0,1414.3 1381.0,1414.3 1382.0,1414.3 1383.0,1414.3 1384.0,1414.3 1385.0,1414.3 1386.0,1414.3 1387.0,1414.3 1388.0,1414.3 1389.0,1414.3 1390.0,1414.3 1391.0,1414.3 1392.0,1414.3 1393.0,1414.3 1394.0,1414.3 1395.0,1414.3 1396.0,1414.3 1397.0,1414.3 1398.0,1414.3 1399.0,1414.3 1400.0,1414.3 1401.0,1414.3 1402.0,1414.3 1403.0,1414.3 1404.0,1414.3 1405.0,1414.3 1406.0,1414.3 1407.0,1414.3 1408.0,1414.3 1409.0,1414.3 1410.0,1414.3 1411.0,1414.3 1412.0,1414.3 1413.0,1414.3 1414.0,1414.3 1415.0,1414.3 1416.0,1414.3 1417.0,1414.3 1418.0,1414.3 1419.0,1414.3 1420.0,1414.3 1421.0,1414.3 1422.0,1414.3 1423.0,1414.3 1424.0,1414.3 1425.0,1414.3 1426.0,1414.3 1427.0,1414.3 1428.0,1414.3 1429.0,1414.3 1430.0,1414.3 1431.0,1414.3 1432.0,1414.3 1433.0,1414.3 1434.0,1414.3 1435.0,1414.3 1436.0,1414.3 1437.0,1414.3 1438.0,1414.3 1439.0,1414.3 1440.0,1414.3 1441.0,1414.3 1442.0,1414.3 1443.0,1414.3 1444.0,1414.3 1445.0,1414.3 1446.0,1414.3 1447.0,1414.3 1448.0,1414.3 1449.0,1414.3 1450.0,1414.3 1451.0,1414.3 1452.0,1414.3 1453.0,1414.3 1454.0,1414.3 1455.0,1414.3 1456.0,1414.3 1457.0,1414.3 1458.0,1414.3 1459.0,1414.3 1460.0,1414.3 1461.0,1414.3 1462.0,1414.3 1463.0,1414.3 1464.0,1414.3 1465.0,1414.3 1466.0,1414.3 1467.0,1414.3 1468.0,1414.3 1469.0,1414.3 1470.0,1414.3 1471.0,1414.3 1472.0,1414.3 1473.0,1414.3 1474.0,1414.3 1475.0,1414.3 1476.0,1414.3 1477.0,1414.3 1478.0,1414.3 1479.0,1414.3 1480.0,1414.3 1481.0,1414.3 1482.0,1414.3 1483.0,1414.3 1484.0,1414.3 1485.0,1414.3 1486.0,1414.3 1487.0,1414.3 1488.0,1414.3 1489.0,1414.3 1490.0,1414.3 1491.0,1414.3 1492.0,1414.3 1493.0,1414.3 1494.0,1414.3 1495.0,1414.3 1496.0,1414.3 1497.0,1414.3 1498.0,1414.3 1499.0,1414.3 1500.0,1414.3 1501.0,1414.3 1502.0,1414.3 1503.0,1414.3 1504.0,1414.3 1505.0,1414.3 1506.0,1414.3 1507.0,1414.3 1508.0,1414.3 1509.0,1414.3 1510.0,1414.3 1511.0,1414.3 1512.0,1414.3 1513.0,1414.3 1514.0,1414.3 1515.0,1414.3 1516.0,1414.3 1517.0,1414.3 1518.0,1414.3 1519.0,1414.3 1520.0,1414.3 1521.0,1414.3 1522.0,1414.3 1523.0,1414.3 1524.0,1414.3 1525.0,1414.3 1526.0,1414.3 1527.0,1414.3 1528.0,1414.3 1529.0,1414.3 1530.0,1414.3 1531.0,1414.3 1532.0,1414.3 1533.0,1414.3 1534.0,1414.3 1535.0,1414.3 1536.0,1414.3 1537.0,1414.3 1538.0,1414.3 1539.0,1414.3 1540.0,1414.3 1541.0,1414.3 1542.0,1414.3 1543.0,1414.3 1544.0,1414.3 1545.0,1414.3 1546.0,1414.3 1547.0,1414.3 1548.0,1414.3 1549.0,1414.3 1550.0,1414.3 1551.0,1414.3 1552.0,1414.3 1553.0,1414.3 1554.0,1414.3 1555.0,1414.3 1556.0,1414.3 1557.0,1414.3 1558.0,1414.3 1559.0,1414.3 1560.0,1414.3 1561.0,1414.3 1562.0,1414.3 1563.0,1414.3 1564.0,1414.3 1565.0,1414.3 1566.0,1414.3 1567.0,1414.3 1568.0,1414.3 1569.0,1414.3 1570.0,1414.3 1571.0,1414.3 1572.0,1414.3 1573.0,1414.3 1574.0,1414.3 1575.0,1414.3 1576.0,1414.3 1577.0,1414.3 1578.0,1414.3 1579.0,1414.3 1580.0,1414.3 1581.0,1414.3 1582.0,1414.3 1583.0,1414.3 1584.0,1414.3 1585.0,1414.3 1586.0,1414.3 1587.0,1414.3 1588.0,1414.3 1589.0,1414.3 1590.0,1414.3 1591.0,1414.3 1592.0,1414.3 1593.0,1414.3 1594.0,1414.3 1595.0,1414.3 1596.0,1414.3 1597.0,1414.3 1598.0,1414.3 1599.0,1414.3 1600.0,1414.3 1601.0,1414.3 1602.0,1414.3 1603.0,1414.3 1604.0,1414.3 1605.0,1414.3 1606.0,1414.3 1607.0,1414.3 1608.0,1414.3 1609.0,1414.3 1610.0,1414.3 1611.0,1414.3 1612.0,1414.3 1613.0,1414.3 1614.0,1414.3 1615.0,1414.3 1616.0,1414.3 1617.0,1414.3 1618.0,1414.3 1619.0,1414.3 1620.0,1414.3 1621.0,1414.3 1622.0,1414.3 1623.0,1414.3 1624.0,1414.3 1625.0,1414.3 1626.0,1414.3 1627.0,1414.3 1628.0,1414.3 1629.0,1414.3 1630.0,1414.3 1631.0,1414.3 1632.0,1414.3 1633.0,1414.3 1634.0,1414.3 1635.0,1414.3 1636.0,1414.3 1637.0,1414.3 1638.0,1414.3 1639.0,1414.3 1640.0,1414.3 1641.0,1414.3 1642.0,1414.3 1643.0,1414.3 1644.0,1414.3 1645.0,1414.3 1646.0,1414.3 1647.0,1414.3 1648.0,1414.3 1649.0,1414.3 1650.0,1414.3 1651.0,1414.3 1652.0,1414.3 1653.0,1414.3 1654.0,1414.3 1655.0,1414.3 1656.0,1414.3 1657.0,1414.3 1658.0,1414.3 1659.0,1414.3 1660.0,1414.3 1661.0,1414.3 1662.0,1414.3 1663.0,1414.3 1664.0,1414.3 1665.0,1414.3 1666.0,1414.3 1667.0,1414.3 1668.0,1414.3 1669.0,1414.3 1670.0,1414.3 1671.0,1414.3 1672.0,1414.3 1673.0,1414.3 1674.0,1414.3 1675.0,1414.3 1676.0,1414.3 1677.0,1414.3 1678.0,1414.3 1679.0,1414.3 1680.0,1414.3 1681.0,1414.3 1682.0,1414.3 1683.0,1414.3 1684.0,1414.3 1685.0,1414.3 1686.0,1414.3 1687.0,1414.3 1688.0,1414.3 1689.0,1414.3 1690.0,1414.3 1691.0,1414.3 1692.0,1414.3 1693.0,1414.3 1694.0,1414.3 1695.0,1414.3 1696.0,1414.3 1697.0,1414.3 1698.0,1414.3 1699.0,1414.3 1700.0,1414.3 1701.0,1414.3 1702.0,1414.3 1703.0,1414.3 1704.0,1414.3 1705.0,1414.3 1706.0,1414.3 1707.0,1414.3 1708.0,1414.3 1709.0,1414.3 1710.0,1414.3 1711.0,1414.3 1712.0,1414.3 1713.0,1414.3 1714.0,1414.3 1715.0,1414.3 1716.0,1414.3 1717.0,1414.3 1718.0,1414.3 1719.0,1414.3 1720.0,1414.3 1721.0,1414.3 1722.0,1414.3 1723.0,1414.3 1724.0,1414.3 1725.0,1414.3 1726.0,1414.3 1727.0,1414.3 1728.0,1414.3 1729.0,1414.3 1730.0,1414.3 1731.0,1414.3 1732.0,1414.3 1733.0,1414.3 1734.0,1414.3 1735.0,1414.3 1736.0,1414.3 1737.0,1414.3 1738.0,1414.3 1739.0,1414.3 1740.0,1414.3 1741.0,1414.3 1742.0,1414.3 1743.0,1414.3 1744.0,1414.3 1745.0,1414.3 1746.0,1414.3 1747.0,1414.3 1748.0,1414.3 1749.0,1414.3 1750.0,1414.3 1751.0,1414.3 1752.0,1414.3 1753.0,1414.3 1754.0,1414.3 1755.0,1414.3 1756.0,1414.3 1757.0,1414.3 1758.0,1414.3 1759.0,1414.3 1760.0,1414.3 1761.0,1414.3 1762.0,1414.3 1763.0,1414.3 1764.0,1414.3 1765.0,1414.3 1766.0,1414.3 1767.0,1414.3 1768.0,1414.3 1769.0,1414.3 1770.0,1414.3 1771.0,1414.3 1772.0,1414.3 1773.0,1414.3 1774.0,1414.3 1775.0,1414.3 1776.0,1414.3 1777.0,1414.3 1778.0,1414.3 1779.0,1414.3 1780.0,1414.3 1781.0,1414.3 1782.0,1414.3 1783.0,1414.3 1784.0,1414.3 1785.0,1414.3 1786.0,1414.3 1787.0,1414.3 1788.0,1414.3 1789.0,1414.3 1790.0,1414.3 1791.0,1414.3 1792.0,1414.3 1793.0,1414.3 1794.0,1414.3 1795.0,1414.3 1796.0,1414.3 1797.0,1414.3 1798.0,1414.3 1799.0,1414.3 1800.0,1414.3 1801.0,1414.3 1802.0,1414.3 1803.0,1414.3 1804.0,1414.3 1805.0,1414.3 1806.0,1414.3 1807.0,1414.3 1808.0,1414.3 1809.0,1414.3 1810.0,1414.3 1811.0,1414.3 1812.0,1414.3 1813.0,1414.3 1814.0,1414.3 1815.0,1414.3 1816.0,1414.3 1817.0,1414.3 1818.0,1414.3 1819.0,1414.3 1820.0,1414.3 1821.0,1414.3 1822.0,1414.3 1823.0,1414.3 1824.0,1414.3 1825.0,1414.3 1826.0,1414.3 1827.0,1414.3 1828.0,1414.3 1829.0,1414.3 1830.0,1414.3 1831.0,1414.3 1832.0,1414.3 1833.0,1414.3 1834.0,1414.3 1835.0,1414.3 1836.0,1414.3 1837.0,1414.3 1838.0,1414.3 1839.0,1414.3 1840.0,1414.3 1841.0,1414.3 1842.0,1414.3 1843.0,1414.3 1844.0,1414.3 1845.0,1414.3 1846.0,1414.3 1847.0,1414.3 1848.0,1414.3 1849.0,1414.3 1850.0,1414.3 1851.0,1414.3 1852.0,1414.3 1853.0,1414.3 1854.0,1414.3 1855.0,1414.3 1856.0,1414.3 1857.0,1414.3 1858.0,1414.3 1859.0,1414.3 1860.0,1414.3 1861.0,1414.3 1862.0,1414.3 1863.0,1414.3 1864.0,1414.3 1865.0,1414.3 1866.0,1414.3 1867.0,1414.3 1868.0,1414.3 1869.0,1414.3 1870.0,1414.3 1871.0,1414.3 1872.0,1414.3 1873.0,1414.3 1874.0,1414.3 1875.0,1414.3 1876.0,1414.3 1877.0,1414.3 1878.0,1414.3 1879.0,1414.3 1880.0,1414.3 1881.0,1414.3 1882.0,1414.3 1883.0,1414.3 1884.0,1414.3 1885.0,1414.3 1886.0,1414.3 1887.0,1414.3 1888.0,1414.3 1889.0,1414.3 1890.0,1414.3 1891.0,1414.3 1892.0,1414.3 1893.0,1414.3 1894.0,1414.3 1895.0,1414.3 1896.0,1414.3 1897.0,1414.3 1898.0,1414.3 1899.0,1414.3 1900.0,1414.3 1901.0,1414.3 1902.0,1414.3 1903.0,1414.3 1904.0,1414.3 1905.0,1414.3 1906.0,1414.3 1907.0,1414.3 1908.0,1414.3 1909.0,1414.3 1910.0,1414.3 1911.0,1414.3 1912.0,1414.3 1913.0,1414.3 1914.0,1414.3 1915.0,1414.3 1916.0,1414.3 1917.0,1414.3 1918.0,1414.3 1919.0,1414.3 1920.0,1414.3 1921.0,1414.3 1922.0,1414.3 1923.0,1414.3 1924.0,1414.3 1925.0,1414.3 1926.0,1414.3 1927.0,1414.3 1928.0,1414.3 1929.0,1414.3 1930.0,1414.3 1931.0,1414.3 1932.0,1414.3 1933.0,1414.3 1934.0,1414.3 1935.0,1414.3 1936.0,1414.3 1937.0,1414.3 1938.0,1414.3 1939.0,1414.3 1940.0,1414.3 1941.0,1414.3 1942.0,1414.3 1943.0,1414.3 1944.0,1414.3 1945.0,1414.3 1946.0,1414.3 1947.0,1414.3 1948.0,1414.3 1949.0,1414.3 1950.0,1414.3 1951.0,1414.3 1952.0,1414.3 1953.0,1414.3 1954.0,1414.3 1955.0,1414.3 1956.0,1414.3 1957.0,1414.3 1958.0,1414.3 1959.0,1414.3 1960.0,1414.3 1961.0,1414.3 1962.0,1414.3 1963.0,1414.3 1964.0,1414.3 1965.0,1414.3 1966.0,1414.3 1967.0,1414.3 1968.0,1414.3 1969.0,1414.3 1970.0,1414.3 1971.0,1414.3 1972.0,1414.3 1973.0,1414.3 1974.0,1414.3 1975.0,1414.3 1976.0,1414.3 1977.0,1414.3 1978.0,1414.3 1979.0,1414.3 1980.0,1414.3 1981.0,1414.3 1982.0,1414.3 1983.0,1414.3 1984.0,1414.3 1985.0,1414.3 1986.0,1414.3 1987.0,1414.3 1988.0,1414.3 1989.0,1414.3 1990.0,1414.3 1991.0,1414.3 1992.0,1414.3 1993.0,1414.3 1994.0,1414.3 1995.0,1414.3 1996.0,1414.3 1997.0,1414.3 1998.0,1414.3 1999.0,1414.3 2000.0,1414.3 2001.0,1414.3 2002.0,1414.3 2003.0,1414.3 2004.0,1414.3 2005.0,1414.3 2006.0,1414.3 2007.0,1414.3 2008.0,1414.3 2009.0,1414.3 2010.0,1414.3 2011.0,1414.3 2012.0,1414.3 2013.0,1414.3 2014.0,1414.3 2015.0,1414.3 2016.0,1414.3 2017.0,1414.3 2018.0,1414.3 2019.0,1414.3 2020.0,1414.3 2021.0,1414.3 2022.0,1414.3 2023.0,1414.3 2024.0,1414.3 2025.0,1414.3 2026.0,1414.3 2027.0,1414.3 2028.0,1414.3 2029.0,1414.3 2030.0,1414.3 2031.0,1414.3 2032.0,1414.3 2033.0,1414.3 2034.0,1414.3 2035.0,1414.3 2036.0,1414.3 2037.0,1414.3 2038.0,1414.3 2039.0,1414.3 2040.0,1414.3 2041.0,1414.3 2042.0,1414.3 2043.0,1414.3 2044.0,1414.3 2045.0,1414.3 2046.0,1414.3 2047.0,1414.3 2048.0,1414.3 2049.0,1414.3 2050.0,1414.3 2051.0,1414.3 2052.0,1414.3 2053.0,1414.3 2054.0,1414.3 2055.0,1414.3 2056.0,1414.3 2057.0,1414.3 2058.0,1414.3 2059.0,1414.3 2060.0,1414.3 2061.0,1414.3 2062.0,1414.3 2063.0,1414.3 2064.0,1414.3 2065.0,1414.3 2066.0,1414.3 2067.0,1414.3 2068.0,1414.3 2069.0,1414.3 2070.0,1414.3 2071.0,1414.3 2072.0,1414.3 2073.0,1414.3 2074.0,1414.3 2075.0,1414.3 2076.0,1414.3 2077.0,1414.3 2078.0,1414.3 2079.0,1414.3 2080.0,1414.3 2081.0,1414.3 2082.0,1414.3 2083.0,1414.3 2084.0,1414.3 2085.0,1414.3 2086.0,1414.3 2087.0,1414.3 2088.0,1414.3 2089.0,1414.3 2090.0,1414.3 2091.0,1414.3 2092.0,1414.3 2093.0,1414.3 2094.0,1414.3 2095.0,1414.3 2096.0,1414.3 2097.0,1414.3 2098.0,1414.3 2099.0,1414.3 2100.0,1414.3 2101.0,1414.3 2102.0,1414.3 2103.0,1414.3 2104.0,1414.3 2105.0,1414.3 2106.0,1414.3 2107.0,1414.3 2108.0,1414.3 2109.0,1414.3 2110.0,1414.3 2111.0,1414.3 2112.0,1414.3 2113.0,1414.3 2114.0,1414.3 2115.0,1414.3 2116.0,1414.3 2117.0,1414.3 2118.0,1414.3 2119.0,1414.3 2120.0,1414.3 2121.0,1414.3 2122.0,1414.3 2123.0,1414.3 2124.0,1414.3 2125.0,1414.3 2126.0,1414.3 2127.0,1414.3 2128.0,1414.3 2129.0,1414.3 2130.0,1414.3 2131.0,1414.3 2132.0,1414.3 2133.0,1414.3 2134.0,1414.3 2135.0,1414.3 2136.0,1414.3 2137.0,1414.3 2138.0,1414.3 2139.0,1414.3 2140.0,1414.3 2141.0,1414.3 2142.0,1414.3 2143.0,1414.3 2144.0,1414.3 2145.0,1414.3 2146.0,1414.3 2147.0,1414.3 2148.0,1414.3 2149.0,1414.3 2150.0,1414.3 2151.0,1414.3 2152.0,1414.3 2153.0,1414.3 2154.0,1414.3 2155.0,1414.3 2156.0,1414.3 2157.0,1414.3 2158.0,1414.3 2159.0,1414.3 2160.0,1414.3 2161.0,1414.3 2162.0,1414.3 2163.0,1414.3 2164.0,1414.3 2165.0,1414.3 2166.0,1414.3 2167.0,1414.3 2168.0,1414.3 2169.0,1414.3 2170.0,1414.3 2171.0,1414.3 2172.0,1414.3 2173.0,1414.3 2174.0,1414.3 2175.0,1414.3 2176.0,1414.3 2177.0,1414.3 2178.0,1414.3 2179.0,1414.3 2180.0,1414.3 2181.0,1414.3 2182.0,1414.3 2183.0,1414.3 2184.0,1414.3 2185.0,1414.3 2186.0,1414.3 2187.0,1414.3 2188.0,1414.3 2189.0,1414.3 2190.0,1414.3 2191.0,1414.3 2192.0,1414.3 2193.0,1414.3 2194.0,1414.3 2195.0,1414.3 2196.0,1414.3 2197.0,1414.3 2198.0,1414.3 2199.0,1414.3 2200.0,1414.3 2201.0,1414.3 2202.0,1414.3 2203.0,1414.3 2204.0,1414.3 2205.0,1414.3 2206.0,1414.3 2207.0,1414.3 2208.0,1414.3 2209.0,1414.3 2210.0,1414.3 2211.0,1414.3 2212.0,1414.3 2213.0,1414.3 2214.0,1414.3 2215.0,1414.3 2216.0,1414.3 2217.0,1414.3 2218.0,1414.3 2219.0,1414.3 2220.0,1414.3 2221.0,1414.3 2222.0,1414.3 2223.0,1414.3 2224.0,1414.3 2225.0,1414.3 2226.0,1414.3 2227.0,1414.3 2228.0,1414.3 2229.0,1414.3 2230.0,1414.3 2231.0,1414.3 2232.0,1414.3 2233.0,1414.3 2234.0,1414.3 2235.0,1414.3 2236.0,1414.3 2237.0,1414.3 2238.0,1414.3 2239.0,1414.3 2240.0,1414.3 2241.0,1414.3 2242.0,1414.3 2243.0,1414.3 2244.0,1414.3 2245.0,1414.3 2246.0,1414.3 2247.0,1414.3 2248.0,1414.3 2249.0,1414.3 2250.0,1414.3 2251.0,1414.3 2252.0,1414.3 2253.0,1414.3 2254.0,1414.3 2255.0,1414.3 2256.0,1414.3 2257.0,1414.3 2258.0,1414.3 2259.0,1414.3 2260.0,1414.3 2261.0,1414.3 2262.0,1414.3 2263.0,1414.3 2264.0,1414.3 2265.0,1414.3 2266.0,1414.3 2267.0,1414.3 2268.0,1414.3 2269.0,1414.3 2270.0,1414.3 2271.0,1414.3 2272.0,1414.3 2273.0,1414.3 2274.0,1414.3 2275.0,1414.3 2276.0,1414.3 2277.0,1414.3 2278.0,1414.3 2279.0,1414.3 2280.0,1414.3 2281.0,1414.3 2282.0,1414.3 2283.0,1414.3 2284.0,1414.3 2285.0,1414.3 2286.0,1414.3 2287.0,1414.3 2288.0,1414.3 2289.0,1414.3 2290.0,1414.3 2291.0,1414.3 2292.0,1414.3 2293.0,1414.3 2294.0,1414.3 2295.0,1414.3 2296.0,1414.3 2297.0,1414.3 2298.0,1414.3 2299.0,1414.3 2300.0,1414.3 2301.0,1414.3 2302.0,1414.3 2303.0,1414.3 2304.0,1414.3 2305.0,1414.3 2306.0,1414.3 2307.0,1414.3 2308.0,1414.3 2309.0,1414.3" fill="none" stroke="#00f" stroke-width="1.2" stroke-linejoin="round"/><path d="M271 1413.2H294" stroke="#f0f" stroke-width="2.6"/><polygon points="294.0,1416.0 294.0,1414.1 295.0,1414.1 296.0,1414.1 297.0,1414.1 298.0,1414.1 299.0,1414.1 300.0,1414.1 301.0,1414.1 302.0,1414.1 303.0,1414.1 304.0,1414.1 305.0,1414.1 306.0,1414.1 307.0,1414.1 308.0,1414.1 309.0,1414.1 310.0,1414.1 311.0,1414.1 312.0,1414.1 313.0,1414.1 314.0,1414.1 315.0,1414.1 316.0,1414.1 317.0,1414.1 318.0,1414.1 319.0,1414.1 320.0,1414.1 321.0,1414.1 322.0,1414.1 323.0,1414.1 324.0,1414.1 325.0,1414.1 326.0,1414.1 327.0,1414.1 328.0,1414.1 329.0,1414.1 330.0,1414.1 331.0,1414.1 332.0,1414.0 333.0,1413.8 334.0,1413.2 335.0,1411.9 336.0,1409.3 337.0,1404.5 338.0,1396.6 339.0,1385.3 340.0,1371.0 341.0,1355.8 342.0,1342.5 343.0,1334.4 343.6,1333.0 344.0,1333.6 345.0,1340.4 346.0,1352.9 347.0,1368.0 348.0,1382.6 349.0,1394.6 350.0,1403.2 351.0,1408.5 352.0,1411.5 353.0,1413.0 354.0,1413.7 355.0,1414.0 356.0,1414.1 357.0,1414.1 358.0,1414.1 359.0,1414.1 360.0,1414.1 361.0,1414.1 362.0,1414.1 363.0,1414.1 364.0,1414.1 365.0,1414.1 366.0,1414.1 367.0,1414.1 368.0,1414.1 369.0,1414.1 370.0,1414.0 371.0,1413.9 372.0,1413.4 373.0,1412.4 374.0,1410.1 375.0,1405.7 376.0,1398.2 377.0,1386.9 378.0,1371.9 379.0,1354.8 380.0,1338.3 381.0,1326.4 382.0,1322.0 383.0,1326.4 384.0,1338.3 385.0,1354.8 386.0,1371.9 387.0,1386.9 388.0,1398.2 389.0,1405.7 390.0,1410.1 391.0,1412.4 392.0,1413.4 393.0,1413.9 394.0,1414.0 395.0,1414.1 396.0,1414.1 397.0,1414.1 398.0,1414.1 399.0,1414.1 400.0,1414.1 401.0,1414.1 402.0,1414.1 403.0,1414.1 404.0,1414.1 405.0,1414.1 406.0,1414.1 407.0,1414.1 408.0,1414.1 409.0,1414.1 410.0,1414.1 411.0,1414.1 412.0,1414.1 413.0,1414.1 414.0,1414.1 415.0,1414.1 416.0,1414.1 417.0,1414.1 418.0,1414.1 419.0,1414.1 420.0,1414.1 421.0,1414.1 422.0,1414.1 423.0,1414.1 424.0,1414.1 425.0,1414.1 426.0,1414.1 427.0,1414.1 428.0,1414.1 429.0,1414.1 430.0,1414.1 431.0,1414.1 432.0,1414.1 433.0,1414.1 434.0,1414.1 435.0,1414.1 436.0,1414.1 437.0,1414.1 438.0,1414.1 439.0,1414.1 440.0,1414.1 441.0,1414.1 442.0,1414.1 443.0,1414.1 444.0,1414.1 445.0,1414.1 446.0,1414.1 447.0,1414.1 448.0,1414.1 449.0,1414.1 450.0,1414.1 451.0,1414.1 452.0,1414.1 453.0,1414.1 454.0,1414.1 455.0,1414.1 456.0,1414.1 457.0,1414.1 458.0,1414.1 459.0,1414.1 460.0,1414.1 461.0,1414.1 462.0,1414.1 463.0,1414.1 464.0,1414.1 465.0,1414.1 466.0,1414.1 467.0,1414.1 468.0,1414.1 469.0,1414.1 470.0,1414.1 471.0,1414.1 472.0,1414.1 473.0,1414.1 474.0,1414.1 475.0,1414.1 476.0,1414.1 477.0,1414.1 478.0,1414.1 479.0,1414.1 480.0,1414.1 481.0,1414.1 482.0,1414.1 483.0,1414.1 484.0,1414.1 485.0,1414.1 486.0,1414.1 487.0,1414.1 488.0,1414.1 489.0,1414.1 490.0,1414.1 491.0,1414.1 492.0,1414.1 493.0,1414.1 494.0,1414.1 495.0,1414.1 496.0,1414.1 497.0,1414.1 498.0,1414.1 499.0,1414.1 500.0,1414.1 501.0,1414.1 502.0,1414.1 503.0,1414.1 504.0,1414.1 505.0,1414.1 506.0,1414.1 507.0,1414.1 508.0,1414.1 509.0,1414.1 510.0,1414.1 511.0,1414.1 512.0,1414.1 513.0,1414.1 514.0,1414.1 515.0,1414.1 516.0,1414.1 517.0,1414.1 518.0,1414.1 519.0,1414.1 520.0,1414.1 521.0,1414.1 522.0,1414.1 523.0,1414.1 524.0,1414.1 525.0,1414.1 526.0,1414.1 527.0,1414.1 528.0,1414.1 529.0,1414.1 530.0,1414.1 531.0,1414.1 532.0,1414.1 533.0,1414.1 534.0,1414.1 535.0,1414.1 536.0,1414.1 537.0,1414.1 538.0,1414.1 539.0,1414.1 540.0,1414.1 541.0,1414.1 542.0,1414.1 543.0,1414.1 544.0,1414.1 545.0,1414.1 546.0,1414.1 547.0,1414.1 548.0,1414.1 549.0,1414.1 550.0,1414.1 551.0,1414.1 552.0,1414.1 553.0,1414.1 554.0,1414.1 555.0,1414.1 556.0,1414.1 557.0,1414.1 558.0,1414.1 559.0,1414.1 560.0,1414.1 561.0,1414.1 562.0,1414.1 563.0,1414.1 564.0,1414.1 565.0,1414.1 566.0,1414.1 567.0,1414.1 568.0,1414.1 569.0,1414.1 570.0,1414.1 571.0,1414.1 572.0,1414.1 573.0,1414.1 574.0,1414.1 575.0,1414.1 576.0,1414.1 577.0,1414.1 578.0,1414.1 579.0,1414.1 580.0,1414.1 581.0,1414.1 582.0,1414.1 583.0,1414.1 584.0,1414.1 585.0,1414.1 586.0,1414.1 587.0,1414.1 588.0,1414.1 589.0,1414.1 590.0,1414.1 591.0,1414.1 592.0,1414.1 593.0,1414.1 594.0,1414.1 595.0,1414.1 596.0,1414.1 597.0,1414.1 598.0,1414.1 599.0,1414.1 600.0,1414.1 601.0,1414.1 602.0,1414.1 603.0,1414.1 604.0,1414.1 605.0,1414.1 606.0,1414.1 607.0,1414.1 608.0,1414.1 609.0,1414.1 610.0,1414.1 611.0,1414.1 612.0,1414.1 613.0,1414.1 614.0,1414.0 615.0,1413.9 616.0,1413.5 617.0,1412.7 618.0,1411.2 619.0,1408.7 620.0,1404.8 621.0,1399.6 622.0,1393.7 623.0,1388.1 624.0,1384.0 625.0,1382.5 626.0,1384.0 627.0,1388.1 628.0,1393.7 629.0,1399.6 630.0,1404.8 631.0,1408.7 632.0,1411.2 633.0,1412.7 634.0,1413.5 635.0,1413.9 636.0,1414.0 637.0,1414.1 638.0,1414.1 639.0,1414.1 640.0,1414.1 641.0,1414.1 642.0,1414.1 643.0,1414.1 644.0,1414.1 645.0,1414.1 646.0,1414.1 647.0,1414.1 648.0,1414.1 649.0,1414.1 650.0,1414.1 651.0,1414.1 652.0,1414.1 653.0,1414.0 654.0,1413.7 655.0,1413.3 656.0,1412.6 657.0,1411.5 658.0,1410.0 659.0,1408.0 660.0,1405.7 661.0,1403.5 662.0,1401.9 663.0,1401.0 663.3,1401.0 664.0,1401.3 665.0,1402.5 666.0,1404.4 667.0,1406.6 668.0,1408.8 669.0,1410.6 670.0,1412.0 671.0,1413.0 672.0,1413.5 673.0,1413.8 674.0,1414.0 675.0,1414.1 676.0,1414.1 677.0,1414.1 678.0,1414.1 679.0,1414.1 680.0,1414.1 681.0,1414.1 682.0,1414.1 683.0,1414.1 684.0,1414.1 685.0,1414.1 686.0,1414.1 687.0,1414.1 688.0,1414.1 689.0,1414.1 690.0,1414.1 691.0,1414.1 692.0,1414.1 693.0,1414.1 694.0,1414.1 695.0,1414.1 696.0,1414.1 697.0,1414.0 698.0,1413.8 699.0,1413.1 700.0,1411.1 701.0,1406.7 702.0,1397.9 703.0,1383.1 704.0,1361.7 705.0,1336.3 706.0,1312.0 707.0,1295.8 707.6,1292.0 708.0,1292.1 709.0,1300.5 710.0,1315.6 711.0,1330.6 712.0,1341.1 713.0,1347.3 714.0,1352.0 715.0,1357.5 716.0,1363.1 717.0,1365.9 718.0,1363.1 719.0,1353.0 719.5,1345.0 720.0,1335.0 721.0,1308.3 722.0,1273.1 723.0,1232.0 724.0,1192.0 725.0,1162.5 726.0,1152.0 727.0,1164.2 728.0,1196.5 729.0,1241.2 730.0,1288.7 731.0,1331.2 732.0,1364.1 733.0,1386.6 734.0,1400.3 735.0,1407.8 736.0,1411.4 737.0,1412.8 738.0,1412.9 739.0,1411.8 740.0,1409.4 741.0,1405.1 742.0,1398.5 743.0,1390.0 744.0,1380.9 745.0,1373.0 746.0,1368.7 746.4,1368.3 747.0,1369.2 748.0,1374.4 749.0,1382.6 750.0,1391.8 751.0,1400.0 752.0,1406.1 753.0,1410.0 754.0,1412.2 755.0,1413.2 756.0,1413.4 757.0,1413.1 758.0,1412.4 759.0,1411.2 760.0,1409.6 761.0,1407.6 762.0,1405.4 763.0,1403.4 764.0,1402.0 765.0,1401.5 766.0,1402.0 767.0,1403.4 768.0,1405.4 769.0,1407.6 770.0,1409.6 771.0,1411.2 772.0,1412.4 773.0,1413.2 774.0,1413.7 775.0,1413.9 776.0,1414.0 777.0,1414.1 778.0,1414.1 779.0,1414.1 780.0,1414.1 781.0,1414.1 782.0,1414.1 783.0,1414.1 784.0,1414.1 785.0,1414.1 786.0,1414.1 787.0,1414.1 788.0,1414.1 789.0,1414.1 790.0,1414.1 791.0,1414.1 792.0,1414.1 793.0,1414.1 794.0,1414.1 795.0,1414.1 796.0,1414.1 797.0,1414.1 798.0,1414.1 799.0,1414.1 800.0,1414.1 801.0,1414.1 802.0,1414.1 803.0,1414.1 804.0,1414.1 805.0,1414.1 806.0,1414.1 807.0,1414.1 808.0,1414.1 809.0,1414.1 810.0,1414.1 811.0,1414.1 812.0,1414.1 813.0,1414.1 814.0,1414.1 815.0,1414.1 816.0,1414.1 817.0,1414.1 818.0,1414.1 819.0,1414.1 820.0,1414.1 821.0,1414.1 822.0,1414.1 823.0,1414.1 824.0,1414.1 825.0,1414.1 826.0,1414.1 827.0,1414.1 828.0,1414.1 829.0,1414.1 830.0,1414.1 831.0,1414.1 832.0,1414.1 833.0,1414.1 834.0,1414.1 835.0,1414.1 836.0,1414.1 837.0,1414.1 838.0,1414.1 839.0,1414.1 840.0,1414.1 841.0,1414.1 842.0,1414.1 843.0,1414.1 844.0,1414.1 845.0,1414.1 846.0,1414.1 847.0,1414.1 848.0,1414.1 849.0,1414.1 850.0,1414.1 851.0,1414.1 852.0,1414.1 853.0,1414.1 854.0,1414.1 855.0,1414.1 856.0,1414.1 857.0,1414.0 858.0,1413.9 859.0,1413.6 860.0,1412.8 861.0,1411.0 862.0,1407.6 863.0,1401.7 864.0,1392.8 865.0,1381.4 866.0,1369.0 867.0,1358.4 868.0,1352.3 868.4,1351.6 869.0,1352.4 870.0,1358.1 871.0,1366.3 872.0,1372.8 873.0,1372.5 874.0,1361.2 875.0,1336.1 876.0,1296.9 877.0,1246.8 878.0,1193.2 879.0,1146.9 880.0,1118.5 880.6,1113.3 881.0,1115.2 882.0,1137.9 883.0,1180.4 884.0,1232.7 885.0,1284.3 886.0,1327.5 887.0,1358.7 888.0,1378.0 889.0,1386.8 890.0,1386.6 891.0,1377.4 892.0,1358.5 893.0,1330.0 894.0,1294.0 895.0,1256.7 896.0,1226.7 897.0,1212.5 897.2,1212.0 898.0,1218.3 899.0,1242.4 900.0,1277.4 901.0,1314.5 902.0,1346.4 903.0,1369.7 904.0,1384.5 905.0,1392.8 906.0,1397.1 907.0,1399.3 908.0,1400.4 909.0,1401.0 910.0,1401.1 911.0,1400.1 912.0,1396.6 913.0,1388.6 914.0,1373.3 915.0,1348.5 916.0,1314.2 917.0,1274.0 918.0,1235.8 919.0,1209.7 919.8,1203.0 920.0,1203.6 921.0,1219.5 922.0,1252.8 923.0,1294.1 924.0,1333.9 925.0,1365.7 926.0,1387.6 927.0,1400.7 928.0,1407.6 929.0,1410.9 930.0,1412.4 931.0,1413.0 932.0,1413.3 933.0,1413.5 934.0,1413.6 935.0,1413.7 936.0,1413.8 937.0,1413.8 938.0,1413.9 939.0,1414.0 940.0,1414.0 941.0,1414.0 942.0,1414.0 943.0,1414.0 944.0,1413.9 945.0,1413.6 946.0,1412.9 947.0,1411.4 948.0,1408.7 949.0,1404.1 950.0,1397.1 951.0,1387.7 952.0,1376.4 953.0,1364.6 954.0,1354.4 955.0,1347.9 955.6,1346.4 956.0,1346.4 957.0,1350.0 958.0,1357.4 959.0,1366.6 960.0,1375.6 961.0,1382.9 962.0,1388.0 963.0,1391.1 964.0,1392.8 965.0,1394.0 966.0,1395.3 967.0,1397.0 968.0,1399.1 969.0,1401.5 970.0,1404.0 971.0,1406.4 972.0,1408.6 973.0,1410.3 974.0,1411.6 975.0,1412.5 976.0,1413.2 977.0,1413.6 978.0,1413.8 979.0,1414.0 980.0,1414.1 981.0,1414.1 982.0,1414.1 983.0,1414.1 984.0,1414.1 985.0,1414.1 986.0,1414.1 987.0,1414.1 988.0,1414.1 989.0,1414.1 990.0,1414.1 991.0,1414.1 992.0,1414.1 993.0,1414.1 994.0,1414.1 995.0,1414.0 996.0,1413.9 997.0,1413.3 998.0,1411.9 999.0,1408.5 1000.0,1401.4 1001.0,1387.5 1002.0,1363.5 1003.0,1326.3 1004.0,1275.2 1005.0,1213.5 1006.0,1149.8 1007.0,1096.6 1008.0,1066.0 1008.5,1062.0 1009.0,1066.0 1010.0,1096.6 1011.0,1149.8 1012.0,1213.5 1013.0,1275.2 1014.0,1326.3 1015.0,1363.5 1016.0,1387.5 1017.0,1401.4 1018.0,1408.5 1019.0,1411.9 1020.0,1413.3 1021.0,1413.9 1022.0,1414.0 1023.0,1414.1 1024.0,1414.1 1025.0,1414.1 1026.0,1414.1 1027.0,1414.1 1028.0,1414.1 1029.0,1414.1 1030.0,1414.1 1031.0,1414.1 1032.0,1414.1 1033.0,1414.1 1034.0,1414.1 1035.0,1414.1 1036.0,1414.1 1037.0,1414.1 1038.0,1414.1 1039.0,1414.1 1040.0,1414.1 1041.0,1414.1 1042.0,1414.1 1043.0,1414.1 1044.0,1414.1 1045.0,1414.1 1046.0,1414.1 1047.0,1414.1 1048.0,1414.1 1049.0,1414.1 1050.0,1414.1 1051.0,1414.1 1052.0,1414.1 1053.0,1414.1 1054.0,1414.1 1055.0,1414.1 1056.0,1414.1 1057.0,1414.1 1058.0,1414.1 1059.0,1414.1 1060.0,1414.1 1061.0,1414.1 1062.0,1414.1 1063.0,1414.1 1064.0,1414.1 1065.0,1414.1 1066.0,1414.1 1067.0,1414.1 1068.0,1414.1 1069.0,1414.1 1070.0,1414.1 1071.0,1414.1 1072.0,1414.1 1073.0,1414.1 1074.0,1414.1 1075.0,1414.1 1076.0,1414.1 1077.0,1414.1 1078.0,1414.1 1079.0,1414.1 1080.0,1414.1 1081.0,1414.1 1082.0,1414.1 1083.0,1414.1 1084.0,1414.1 1085.0,1414.1 1086.0,1414.1 1087.0,1414.1 1088.0,1414.1 1089.0,1414.1 1090.0,1414.1 1091.0,1414.1 1092.0,1414.1 1093.0,1414.1 1094.0,1414.1 1095.0,1414.1 1096.0,1414.1 1097.0,1414.1 1098.0,1414.1 1099.0,1414.1 1100.0,1414.1 1101.0,1414.1 1102.0,1414.1 1103.0,1414.1 1104.0,1414.1 1105.0,1414.0 1106.0,1413.8 1107.0,1413.4 1108.0,1412.7 1109.0,1411.5 1110.0,1409.8 1111.0,1407.4 1112.0,1404.6 1113.0,1401.7 1114.0,1399.1 1115.0,1397.4 1115.8,1397.0 1116.0,1397.0 1117.0,1398.0 1118.0,1400.1 1119.0,1402.9 1120.0,1405.8 1121.0,1408.4 1122.0,1410.6 1123.0,1412.1 1124.0,1413.0 1125.0,1413.6 1126.0,1413.9 1127.0,1414.0 1128.0,1414.1 1129.0,1414.1 1130.0,1414.1 1131.0,1414.1 1132.0,1414.1 1133.0,1414.1 1134.0,1414.1 1135.0,1414.1 1136.0,1414.1 1137.0,1414.1 1138.0,1414.1 1139.0,1414.1 1140.0,1414.1 1141.0,1414.1 1142.0,1414.1 1143.0,1414.1 1144.0,1414.1 1145.0,1414.1 1146.0,1414.1 1147.0,1414.1 1148.0,1414.1 1149.0,1414.1 1150.0,1414.1 1151.0,1414.1 1152.0,1414.1 1153.0,1414.1 1154.0,1414.1 1155.0,1414.1 1156.0,1414.1 1157.0,1414.1 1158.0,1414.1 1159.0,1414.1 1160.0,1414.1 1161.0,1414.1 1162.0,1414.1 1163.0,1414.1 1164.0,1414.1 1165.0,1414.1 1166.0,1414.1 1167.0,1414.1 1168.0,1414.1 1169.0,1414.1 1170.0,1414.1 1171.0,1414.1 1172.0,1414.1 1173.0,1414.1 1174.0,1414.1 1175.0,1414.1 1176.0,1414.1 1177.0,1414.1 1178.0,1414.1 1179.0,1414.1 1180.0,1414.1 1181.0,1414.1 1182.0,1414.1 1183.0,1414.1 1184.0,1414.1 1185.0,1414.1 1186.0,1414.1 1187.0,1414.0 1188.0,1413.7 1189.0,1413.1 1190.0,1411.7 1191.0,1409.0 1192.0,1404.3 1193.0,1396.9 1194.0,1386.6 1195.0,1374.0 1196.0,1360.7 1197.0,1349.4 1198.0,1342.5 1198.6,1341.3 1199.0,1341.8 1200.0,1347.6 1201.0,1358.2 1202.0,1371.3 1203.0,1384.2 1204.0,1395.0 1205.0,1403.0 1206.0,1408.2 1207.0,1411.3 1208.0,1412.9 1209.0,1413.6 1210.0,1413.9 1211.0,1414.1 1212.0,1414.1 1213.0,1414.1 1214.0,1414.1 1215.0,1414.1 1216.0,1414.1 1217.0,1414.1 1218.0,1414.1 1219.0,1414.1 1220.0,1414.1 1221.0,1414.1 1222.0,1414.1 1223.0,1414.1 1224.0,1414.1 1225.0,1414.1 1226.0,1414.1 1227.0,1414.1 1228.0,1414.1 1229.0,1414.1 1230.0,1414.1 1231.0,1414.1 1232.0,1414.0 1233.0,1413.9 1234.0,1413.6 1235.0,1413.1 1236.0,1412.2 1237.0,1410.8 1238.0,1408.9 1239.0,1406.5 1240.0,1404.0 1241.0,1401.7 1242.0,1400.1 1243.0,1399.5 1244.0,1400.1 1245.0,1401.7 1246.0,1404.0 1247.0,1406.5 1248.0,1408.9 1249.0,1410.8 1250.0,1412.2 1251.0,1413.1 1252.0,1413.6 1253.0,1413.9 1254.0,1414.0 1255.0,1414.1 1256.0,1414.1 1257.0,1414.1 1258.0,1414.1 1259.0,1414.1 1260.0,1414.1 1261.0,1414.1 1262.0,1414.1 1263.0,1414.1 1264.0,1414.1 1265.0,1414.1 1266.0,1414.1 1267.0,1414.1 1268.0,1414.1 1269.0,1414.1 1270.0,1414.1 1271.0,1414.1 1272.0,1414.1 1273.0,1414.1 1274.0,1414.1 1275.0,1414.1 1276.0,1414.1 1277.0,1414.1 1278.0,1414.1 1279.0,1414.1 1280.0,1414.1 1281.0,1414.1 1282.0,1414.1 1283.0,1414.1 1284.0,1414.1 1285.0,1414.0 1286.0,1413.9 1287.0,1413.5 1288.0,1412.9 1289.0,1411.7 1290.0,1409.9 1291.0,1407.0 1292.0,1403.0 1293.0,1398.0 1294.0,1392.2 1295.0,1386.4 1296.0,1381.4 1297.0,1378.0 1297.9,1377.0 1298.0,1377.0 1299.0,1378.5 1300.0,1382.3 1301.0,1387.5 1302.0,1393.4 1303.0,1399.0 1304.0,1403.9 1305.0,1407.6 1306.0,1410.3 1307.0,1412.0 1308.0,1413.0 1309.0,1413.6 1310.0,1413.9 1311.0,1414.0 1312.0,1414.1 1313.0,1414.1 1314.0,1414.1 1315.0,1414.1 1316.0,1414.1 1317.0,1414.1 1318.0,1414.1 1319.0,1414.1 1320.0,1414.1 1321.0,1414.1 1322.0,1414.1 1323.0,1414.1 1324.0,1414.1 1325.0,1414.1 1326.0,1414.1 1327.0,1414.1 1328.0,1414.1 1329.0,1414.1 1330.0,1414.1 1331.0,1414.1 1332.0,1414.1 1333.0,1414.1 1334.0,1414.1 1335.0,1414.1 1336.0,1414.1 1337.0,1414.1 1338.0,1414.1 1339.0,1414.1 1340.0,1414.1 1341.0,1414.1 1342.0,1414.1 1343.0,1414.1 1344.0,1414.1 1345.0,1414.1 1346.0,1414.1 1347.0,1414.1 1348.0,1414.1 1349.0,1414.1 1350.0,1414.1 1351.0,1414.1 1352.0,1414.1 1353.0,1414.1 1354.0,1414.1 1355.0,1414.1 1356.0,1414.1 1357.0,1414.1 1358.0,1414.1 1359.0,1414.1 1360.0,1414.1 1361.0,1414.1 1362.0,1414.1 1363.0,1414.1 1364.0,1414.1 1365.0,1414.1 1366.0,1414.1 1367.0,1414.1 1368.0,1414.1 1369.0,1414.1 1370.0,1414.1 1371.0,1414.1 1372.0,1414.1 1373.0,1414.1 1374.0,1414.1 1375.0,1414.1 1376.0,1414.1 1377.0,1414.1 1378.0,1414.1 1379.0,1414.1 1380.0,1414.1 1381.0,1414.1 1382.0,1414.1 1383.0,1414.1 1384.0,1414.1 1385.0,1414.1 1386.0,1414.1 1387.0,1414.1 1388.0,1414.1 1389.0,1414.1 1390.0,1414.1 1391.0,1414.1 1392.0,1414.1 1393.0,1414.0 1394.0,1413.8 1395.0,1413.4 1396.0,1412.9 1397.0,1412.0 1398.0,1410.8 1399.0,1409.3 1400.0,1407.7 1401.0,1406.2 1402.0,1405.2 1403.0,1404.8 1404.0,1405.2 1405.0,1406.2 1406.0,1407.7 1407.0,1409.3 1408.0,1410.8 1409.0,1412.0 1410.0,1412.9 1411.0,1413.4 1412.0,1413.8 1413.0,1414.0 1414.0,1414.1 1415.0,1414.1 1416.0,1414.1 1417.0,1414.1 1418.0,1414.1 1419.0,1414.1 1420.0,1414.1 1421.0,1414.1 1422.0,1414.1 1423.0,1414.1 1424.0,1414.1 1425.0,1414.1 1426.0,1414.1 1427.0,1414.1 1428.0,1414.1 1429.0,1414.1 1430.0,1413.9 1431.0,1413.7 1432.0,1413.2 1433.0,1412.2 1434.0,1410.6 1435.0,1408.1 1436.0,1404.7 1437.0,1400.5 1438.0,1396.0 1439.0,1391.9 1440.0,1389.0 1441.0,1388.0 1442.0,1389.0 1443.0,1391.9 1444.0,1396.0 1445.0,1400.5 1446.0,1404.7 1447.0,1408.1 1448.0,1410.6 1449.0,1412.2 1450.0,1413.2 1451.0,1413.7 1452.0,1413.9 1453.0,1414.1 1454.0,1414.1 1455.0,1414.1 1456.0,1414.1 1457.0,1414.1 1458.0,1414.1 1459.0,1414.1 1460.0,1414.1 1461.0,1414.1 1462.0,1414.1 1463.0,1414.1 1464.0,1414.1 1465.0,1414.1 1466.0,1414.1 1467.0,1414.1 1468.0,1414.1 1469.0,1414.1 1470.0,1414.1 1471.0,1414.1 1472.0,1414.1 1473.0,1414.1 1474.0,1414.1 1475.0,1414.1 1476.0,1414.1 1477.0,1414.1 1478.0,1414.1 1479.0,1414.1 1480.0,1414.1 1481.0,1414.1 1482.0,1414.1 1483.0,1414.1 1484.0,1414.1 1485.0,1414.1 1486.0,1414.1 1487.0,1414.1 1488.0,1414.1 1489.0,1414.1 1490.0,1414.1 1491.0,1414.1 1492.0,1414.1 1493.0,1414.1 1494.0,1414.1 1495.0,1414.1 1496.0,1414.1 1497.0,1414.1 1498.0,1414.1 1499.0,1414.1 1500.0,1414.1 1501.0,1414.0 1502.0,1413.9 1503.0,1413.5 1504.0,1412.8 1505.0,1411.4 1506.0,1409.2 1507.0,1405.9 1508.0,1401.8 1509.0,1397.2 1510.0,1393.2 1511.0,1390.6 1511.7,1390.0 1512.0,1390.1 1513.0,1391.9 1514.0,1395.5 1515.0,1400.0 1516.0,1404.3 1517.0,1408.0 1518.0,1410.7 1519.0,1412.3 1520.0,1413.3 1521.0,1413.8 1522.0,1414.0 1523.0,1414.1 1524.0,1414.1 1525.0,1414.1 1526.0,1414.1 1527.0,1414.1 1528.0,1414.1 1529.0,1414.1 1530.0,1414.1 1531.0,1414.1 1532.0,1414.1 1533.0,1414.1 1534.0,1414.1 1535.0,1414.1 1536.0,1414.1 1537.0,1414.1 1538.0,1414.1 1539.0,1414.1 1540.0,1414.1 1541.0,1414.1 1542.0,1414.1 1543.0,1414.1 1544.0,1414.1 1545.0,1414.1 1546.0,1414.1 1547.0,1414.1 1548.0,1414.1 1549.0,1414.1 1550.0,1414.1 1551.0,1414.1 1552.0,1414.1 1553.0,1414.1 1554.0,1414.1 1555.0,1414.1 1556.0,1414.1 1557.0,1414.1 1558.0,1414.1 1559.0,1414.1 1560.0,1414.1 1561.0,1414.1 1562.0,1414.1 1563.0,1414.1 1564.0,1414.1 1565.0,1414.1 1566.0,1414.1 1567.0,1414.1 1568.0,1414.1 1569.0,1414.1 1570.0,1414.1 1571.0,1414.1 1572.0,1414.1 1573.0,1414.1 1574.0,1414.1 1575.0,1414.1 1576.0,1414.1 1577.0,1414.1 1578.0,1414.1 1579.0,1414.1 1580.0,1414.1 1581.0,1414.1 1582.0,1414.1 1583.0,1414.1 1584.0,1414.1 1585.0,1414.1 1586.0,1414.1 1587.0,1414.1 1588.0,1414.1 1589.0,1414.1 1590.0,1414.1 1591.0,1414.1 1592.0,1414.1 1593.0,1414.1 1594.0,1414.1 1595.0,1414.1 1596.0,1414.1 1597.0,1414.1 1598.0,1414.1 1599.0,1414.1 1600.0,1414.1 1601.0,1414.1 1602.0,1414.1 1603.0,1414.1 1604.0,1414.1 1605.0,1414.1 1606.0,1414.1 1607.0,1414.1 1608.0,1414.1 1609.0,1414.1 1610.0,1414.1 1611.0,1414.1 1612.0,1414.1 1613.0,1414.1 1614.0,1414.1 1615.0,1414.1 1616.0,1414.1 1617.0,1414.1 1618.0,1414.1 1619.0,1414.1 1620.0,1414.1 1621.0,1414.1 1622.0,1414.1 1623.0,1414.1 1624.0,1414.1 1625.0,1414.1 1626.0,1414.1 1627.0,1414.1 1628.0,1414.1 1629.0,1414.1 1630.0,1414.1 1631.0,1414.1 1632.0,1414.1 1633.0,1414.1 1634.0,1414.1 1635.0,1414.1 1636.0,1414.1 1637.0,1414.1 1638.0,1414.1 1639.0,1414.1 1640.0,1414.1 1641.0,1414.1 1642.0,1414.1 1643.0,1414.1 1644.0,1414.1 1645.0,1414.1 1646.0,1414.1 1647.0,1414.1 1648.0,1414.1 1649.0,1414.1 1650.0,1414.1 1651.0,1414.1 1652.0,1414.1 1653.0,1414.1 1654.0,1414.1 1655.0,1414.1 1656.0,1414.1 1657.0,1414.1 1658.0,1414.1 1659.0,1414.1 1660.0,1414.1 1661.0,1414.1 1662.0,1414.1 1663.0,1414.1 1664.0,1414.1 1665.0,1414.1 1666.0,1414.1 1667.0,1414.1 1668.0,1414.1 1669.0,1414.1 1670.0,1414.1 1671.0,1414.1 1672.0,1414.1 1673.0,1414.1 1674.0,1414.1 1675.0,1414.1 1676.0,1414.1 1677.0,1414.1 1678.0,1414.1 1679.0,1414.1 1680.0,1414.1 1681.0,1414.1 1682.0,1414.1 1683.0,1414.1 1684.0,1414.1 1685.0,1414.1 1686.0,1414.1 1687.0,1414.1 1688.0,1414.1 1689.0,1414.1 1690.0,1414.1 1691.0,1414.1 1692.0,1414.1 1693.0,1414.1 1694.0,1414.1 1695.0,1414.1 1696.0,1414.1 1697.0,1414.1 1698.0,1414.1 1699.0,1414.1 1700.0,1414.1 1701.0,1414.1 1702.0,1414.1 1703.0,1414.1 1704.0,1414.1 1705.0,1414.1 1706.0,1414.1 1707.0,1414.1 1708.0,1414.1 1709.0,1414.1 1710.0,1414.1 1711.0,1414.1 1712.0,1414.1 1713.0,1414.1 1714.0,1414.1 1715.0,1414.1 1716.0,1414.1 1717.0,1414.1 1718.0,1414.1 1719.0,1414.1 1720.0,1414.1 1721.0,1414.1 1722.0,1414.1 1723.0,1414.1 1724.0,1414.1 1725.0,1414.1 1726.0,1414.1 1727.0,1414.1 1728.0,1414.1 1729.0,1414.1 1730.0,1414.1 1731.0,1414.1 1732.0,1414.1 1733.0,1414.1 1734.0,1414.1 1735.0,1414.1 1736.0,1414.1 1737.0,1414.1 1738.0,1414.1 1739.0,1414.1 1740.0,1414.1 1741.0,1414.1 1742.0,1414.1 1743.0,1414.1 1744.0,1414.1 1745.0,1414.1 1746.0,1414.1 1747.0,1414.1 1748.0,1414.1 1749.0,1414.1 1750.0,1414.1 1751.0,1414.1 1752.0,1414.1 1753.0,1414.1 1754.0,1414.1 1755.0,1414.1 1756.0,1414.1 1757.0,1414.1 1758.0,1414.1 1759.0,1414.1 1760.0,1414.1 1761.0,1414.1 1762.0,1414.1 1763.0,1414.1 1764.0,1414.1 1765.0,1414.1 1766.0,1414.1 1767.0,1414.1 1768.0,1414.1 1769.0,1414.1 1770.0,1414.1 1771.0,1414.1 1772.0,1414.1 1773.0,1414.1 1774.0,1414.1 1775.0,1414.1 1776.0,1414.1 1777.0,1414.1 1778.0,1414.1 1779.0,1414.1 1780.0,1414.1 1781.0,1414.1 1782.0,1414.1 1783.0,1414.1 1784.0,1414.1 1785.0,1414.1 1786.0,1414.1 1787.0,1414.1 1788.0,1414.1 1789.0,1414.1 1790.0,1414.1 1791.0,1414.1 1792.0,1414.1 1793.0,1414.1 1794.0,1414.1 1795.0,1414.1 1796.0,1414.1 1797.0,1414.1 1798.0,1414.1 1799.0,1414.1 1800.0,1414.1 1801.0,1414.1 1802.0,1414.1 1803.0,1414.1 1804.0,1414.1 1805.0,1414.1 1806.0,1414.1 1807.0,1414.1 1808.0,1414.1 1809.0,1414.1 1810.0,1414.1 1811.0,1414.1 1812.0,1414.1 1813.0,1414.1 1814.0,1414.1 1815.0,1414.1 1816.0,1414.1 1817.0,1414.1 1818.0,1414.1 1819.0,1414.1 1820.0,1414.1 1821.0,1414.1 1822.0,1414.1 1823.0,1414.1 1824.0,1414.1 1825.0,1414.1 1826.0,1414.1 1827.0,1414.1 1828.0,1414.1 1829.0,1414.1 1830.0,1414.1 1831.0,1414.1 1832.0,1414.1 1833.0,1414.1 1834.0,1414.1 1835.0,1414.1 1836.0,1414.1 1837.0,1414.1 1838.0,1414.1 1839.0,1414.1 1840.0,1414.1 1841.0,1414.1 1842.0,1414.1 1843.0,1414.1 1844.0,1414.1 1845.0,1414.1 1846.0,1414.1 1847.0,1414.1 1848.0,1414.1 1849.0,1414.1 1850.0,1414.1 1851.0,1414.1 1852.0,1414.1 1853.0,1414.1 1854.0,1414.1 1855.0,1414.1 1856.0,1414.1 1857.0,1414.1 1858.0,1414.1 1859.0,1414.1 1860.0,1414.1 1861.0,1414.1 1862.0,1414.1 1863.0,1414.1 1864.0,1414.1 1865.0,1414.1 1866.0,1414.1 1867.0,1414.1 1868.0,1414.1 1869.0,1414.1 1870.0,1414.1 1871.0,1414.1 1872.0,1414.1 1873.0,1414.1 1874.0,1414.1 1875.0,1414.1 1876.0,1414.1 1877.0,1414.1 1878.0,1414.1 1879.0,1414.1 1880.0,1414.1 1881.0,1414.1 1882.0,1414.1 1883.0,1414.1 1884.0,1414.1 1885.0,1414.1 1886.0,1414.1 1887.0,1414.1 1888.0,1414.1 1889.0,1414.1 1890.0,1414.1 1891.0,1414.1 1892.0,1414.1 1893.0,1414.1 1894.0,1414.1 1895.0,1414.1 1896.0,1414.1 1897.0,1414.1 1898.0,1414.1 1899.0,1414.1 1900.0,1414.1 1901.0,1414.1 1902.0,1414.1 1903.0,1414.1 1904.0,1414.1 1905.0,1414.1 1906.0,1414.1 1907.0,1414.1 1908.0,1414.1 1909.0,1414.1 1910.0,1414.1 1911.0,1414.0 1912.0,1413.6 1913.0,1412.4 1914.0,1409.2 1915.0,1401.6 1916.0,1385.2 1917.0,1354.6 1918.0,1304.5 1919.0,1233.4 1920.0,1147.5 1921.0,1062.2 1922.0,998.4 1923.0,974.6 1924.0,998.4 1925.0,1062.2 1926.0,1147.5 1927.0,1233.4 1928.0,1304.5 1929.0,1354.6 1930.0,1385.2 1931.0,1401.6 1932.0,1409.2 1933.0,1412.4 1934.0,1413.6 1935.0,1414.0 1936.0,1414.1 1937.0,1414.1 1938.0,1414.1 1939.0,1414.1 1940.0,1414.1 1941.0,1414.1 1942.0,1414.1 1943.0,1414.1 1944.0,1414.1 1945.0,1414.1 1946.0,1414.1 1947.0,1414.1 1948.0,1414.1 1949.0,1414.1 1950.0,1414.1 1951.0,1414.1 1952.0,1414.1 1953.0,1414.1 1954.0,1414.1 1955.0,1414.1 1956.0,1414.1 1957.0,1414.1 1958.0,1414.1 1959.0,1414.1 1960.0,1414.1 1961.0,1414.1 1962.0,1414.1 1963.0,1414.1 1964.0,1414.1 1965.0,1414.1 1966.0,1414.1 1967.0,1414.1 1968.0,1414.1 1969.0,1414.1 1970.0,1414.1 1971.0,1414.1 1972.0,1414.1 1973.0,1414.1 1974.0,1414.0 1975.0,1414.0 1976.0,1414.0 1977.0,1413.9 1978.0,1413.8 1979.0,1413.7 1980.0,1413.5 1981.0,1413.3 1982.0,1413.1 1983.0,1412.8 1984.0,1412.4 1985.0,1411.9 1986.0,1411.4 1987.0,1410.8 1988.0,1410.1 1989.0,1409.3 1990.0,1408.4 1991.0,1407.5 1992.0,1406.5 1993.0,1405.4 1994.0,1404.3 1995.0,1403.3 1996.0,1402.2 1997.0,1401.2 1998.0,1400.3 1999.0,1399.5 2000.0,1398.9 2001.0,1398.4 2002.0,1398.1 2003.0,1398.0 2004.0,1398.0 2005.0,1398.1 2006.0,1398.3 2007.0,1398.2 2008.0,1397.6 2009.0,1395.9 2010.0,1392.1 2011.0,1385.1 2012.0,1373.3 2013.0,1354.7 2014.0,1327.3 2015.0,1289.8 2016.0,1241.4 2017.0,1183.3 2018.0,1118.4 2019.0,1051.7 2020.0,989.7 2021.0,939.6 2022.0,907.7 2022.9,898.3 2023.0,898.5 2024.0,913.1 2025.0,949.8 2026.0,1003.5 2027.0,1067.6 2028.0,1135.0 2029.0,1199.1 2030.0,1255.0 2031.0,1299.6 2032.0,1331.2 2033.0,1349.3 2034.0,1353.9 2035.0,1344.7 2036.0,1321.8 2037.0,1285.3 2038.0,1236.4 2039.0,1177.5 2040.0,1113.4 2041.0,1050.4 2042.0,996.1 2043.0,957.6 2044.0,940.6 2044.2,940.0 2045.0,947.5 2046.0,977.2 2047.0,1025.5 2048.0,1085.4 2049.0,1149.5 2050.0,1211.2 2051.0,1265.4 2052.0,1309.4 2053.0,1342.6 2054.0,1366.0 2055.0,1381.2 2056.0,1390.5 2057.0,1395.6 2058.0,1398.2 2059.0,1399.3 2060.0,1399.7 2061.0,1399.8 2062.0,1399.9 2063.0,1400.1 2064.0,1400.4 2065.0,1401.0 2066.0,1401.7 2067.0,1402.5 2068.0,1403.5 2069.0,1404.5 2070.0,1405.6 2071.0,1406.6 2072.0,1407.7 2073.0,1408.6 2074.0,1409.5 2075.0,1410.4 2076.0,1411.1 2077.0,1411.7 2078.0,1412.2 2079.0,1412.7 2080.0,1413.0 2081.0,1413.3 2082.0,1413.5 2083.0,1413.7 2084.0,1413.8 2085.0,1413.9 2086.0,1414.0 2087.0,1414.0 2088.0,1414.1 2089.0,1414.1 2090.0,1414.1 2091.0,1414.1 2092.0,1414.1 2093.0,1414.1 2094.0,1414.1 2095.0,1413.9 2096.0,1413.5 2097.0,1412.1 2098.0,1408.6 2099.0,1400.3 2100.0,1382.4 2101.0,1348.1 2102.0,1288.5 2103.0,1196.1 2104.0,1069.1 2105.0,915.9 2106.0,757.9 2107.0,625.6 2108.0,549.8 2108.5,539.8 2109.0,549.8 2110.0,625.6 2111.0,757.9 2112.0,915.9 2113.0,1069.1 2114.0,1196.1 2115.0,1288.5 2116.0,1348.1 2117.0,1382.4 2118.0,1400.3 2119.0,1408.6 2120.0,1412.1 2121.0,1413.5 2122.0,1413.9 2123.0,1414.1 2124.0,1414.1 2125.0,1414.1 2126.0,1414.1 2127.0,1414.1 2128.0,1414.1 2129.0,1414.1 2130.0,1414.1 2131.0,1414.1 2132.0,1414.1 2133.0,1414.1 2134.0,1414.1 2135.0,1414.1 2136.0,1414.1 2137.0,1414.1 2138.0,1414.1 2139.0,1414.1 2140.0,1414.1 2141.0,1414.1 2142.0,1414.1 2143.0,1414.1 2144.0,1414.1 2145.0,1414.1 2146.0,1414.1 2147.0,1414.1 2148.0,1414.1 2149.0,1414.1 2150.0,1414.1 2151.0,1414.1 2152.0,1414.1 2153.0,1414.1 2154.0,1414.1 2155.0,1414.1 2156.0,1414.1 2157.0,1414.1 2158.0,1414.1 2159.0,1414.1 2160.0,1414.1 2161.0,1414.1 2162.0,1414.1 2163.0,1414.1 2164.0,1414.1 2165.0,1414.1 2166.0,1414.1 2167.0,1414.1 2168.0,1414.1 2169.0,1414.1 2170.0,1414.1 2171.0,1414.1 2172.0,1414.1 2173.0,1414.1 2174.0,1414.1 2175.0,1414.1 2176.0,1414.1 2177.0,1414.1 2178.0,1414.1 2179.0,1414.1 2180.0,1414.1 2181.0,1414.1 2182.0,1414.1 2183.0,1414.1 2184.0,1414.1 2185.0,1414.1 2186.0,1414.1 2187.0,1414.1 2188.0,1414.1 2189.0,1414.1 2190.0,1414.1 2191.0,1414.1 2192.0,1414.1 2193.0,1414.1 2194.0,1414.1 2195.0,1414.1 2196.0,1414.1 2197.0,1414.1 2198.0,1414.1 2199.0,1414.1 2200.0,1414.1 2201.0,1414.1 2202.0,1414.1 2203.0,1414.1 2204.0,1414.1 2205.0,1414.1 2206.0,1414.1 2207.0,1414.1 2208.0,1414.1 2209.0,1414.1 2210.0,1414.1 2211.0,1414.1 2212.0,1414.1 2213.0,1414.1 2214.0,1414.1 2215.0,1414.1 2216.0,1414.1 2217.0,1414.1 2218.0,1414.1 2219.0,1414.1 2220.0,1414.1 2221.0,1414.1 2222.0,1414.1 2223.0,1414.1 2224.0,1414.1 2225.0,1414.1 2226.0,1414.1 2227.0,1414.1 2228.0,1414.1 2229.0,1414.1 2230.0,1414.1 2231.0,1414.1 2232.0,1414.1 2233.0,1414.1 2234.0,1414.1 2235.0,1414.1 2236.0,1414.1 2237.0,1414.1 2238.0,1414.1 2239.0,1414.1 2240.0,1414.1 2241.0,1414.1 2242.0,1414.1 2243.0,1414.1 2244.0,1414.1 2245.0,1414.1 2246.0,1414.1 2247.0,1414.1 2248.0,1414.1 2249.0,1414.1 2250.0,1414.1 2251.0,1414.1 2252.0,1414.1 2253.0,1414.1 2254.0,1414.1 2255.0,1414.1 2256.0,1414.1 2257.0,1414.1 2258.0,1414.1 2259.0,1414.1 2260.0,1414.1 2261.0,1414.1 2262.0,1414.1 2263.0,1414.1 2264.0,1414.1 2265.0,1414.1 2266.0,1414.1 2267.0,1414.1 2268.0,1414.1 2269.0,1414.1 2270.0,1414.1 2271.0,1414.1 2272.0,1414.1 2273.0,1414.1 2274.0,1414.1 2275.0,1414.1 2276.0,1414.1 2277.0,1414.1 2278.0,1414.1 2279.0,1414.1 2280.0,1414.1 2281.0,1414.1 2282.0,1414.1 2283.0,1414.1 2284.0,1414.1 2285.0,1414.1 2286.0,1414.1 2287.0,1414.1 2288.0,1414.1 2289.0,1414.1 2290.0,1414.1 2291.0,1414.1 2292.0,1414.1 2293.0,1414.1 2294.0,1414.1 2295.0,1414.1 2296.0,1414.1 2297.0,1414.1 2298.0,1414.1 2299.0,1414.1 2300.0,1414.1 2301.0,1414.1 2302.0,1414.1 2303.0,1414.1 2304.0,1414.1 2305.0,1414.1 2306.0,1414.1 2307.0,1414.1 2308.0,1414.1 2309.0,1414.1 2309.0,1416.0" fill="#0f0" stroke="none"/><polyline points="294.0,1414.1 295.0,1414.1 296.0,1414.1 297.0,1414.1 298.0,1414.1 299.0,1414.1 300.0,1414.1 301.0,1414.1 302.0,1414.1 303.0,1414.1 304.0,1414.1 305.0,1414.1 306.0,1414.1 307.0,1414.1 308.0,1414.1 309.0,1414.1 310.0,1414.1 311.0,1414.1 312.0,1414.1 313.0,1414.1 314.0,1414.1 315.0,1414.1 316.0,1414.1 317.0,1414.1 318.0,1414.1 319.0,1414.1 320.0,1414.1 321.0,1414.1 322.0,1414.1 323.0,1414.1 324.0,1414.1 325.0,1414.1 326.0,1414.1 327.0,1414.1 328.0,1414.1 329.0,1414.1 330.0,1414.1 331.0,1414.1 332.0,1414.0 333.0,1413.8 334.0,1413.2 335.0,1411.9 336.0,1409.3 337.0,1404.5 338.0,1396.6 339.0,1385.3 340.0,1371.0 341.0,1355.8 342.0,1342.5 343.0,1334.4 343.6,1333.0 344.0,1333.6 345.0,1340.4 346.0,1352.9 347.0,1368.0 348.0,1382.6 349.0,1394.6 350.0,1403.2 351.0,1408.5 352.0,1411.5 353.0,1413.0 354.0,1413.7 355.0,1414.0 356.0,1414.1 357.0,1414.1 358.0,1414.1 359.0,1414.1 360.0,1414.1 361.0,1414.1 362.0,1414.1 363.0,1414.1 364.0,1414.1 365.0,1414.1 366.0,1414.1 367.0,1414.1 368.0,1414.1 369.0,1414.1 370.0,1414.0 371.0,1413.9 372.0,1413.4 373.0,1412.4 374.0,1410.1 375.0,1405.7 376.0,1398.2 377.0,1386.9 378.0,1371.9 379.0,1354.8 380.0,1338.3 381.0,1326.4 382.0,1322.0 383.0,1326.4 384.0,1338.3 385.0,1354.8 386.0,1371.9 387.0,1386.9 388.0,1398.2 389.0,1405.7 390.0,1410.1 391.0,1412.4 392.0,1413.4 393.0,1413.9 394.0,1414.0 395.0,1414.1 396.0,1414.1 397.0,1414.1 398.0,1414.1 399.0,1414.1 400.0,1414.1 401.0,1414.1 402.0,1414.1 403.0,1414.1 404.0,1414.1 405.0,1414.1 406.0,1414.1 407.0,1414.1 408.0,1414.1 409.0,1414.1 410.0,1414.1 411.0,1414.1 412.0,1414.1 413.0,1414.1 414.0,1414.1 415.0,1414.1 416.0,1414.1 417.0,1414.1 418.0,1414.1 419.0,1414.1 420.0,1414.1 421.0,1414.1 422.0,1414.1 423.0,1414.1 424.0,1414.1 425.0,1414.1 426.0,1414.1 427.0,1414.1 428.0,1414.1 429.0,1414.1 430.0,1414.1 431.0,1414.1 432.0,1414.1 433.0,1414.1 434.0,1414.1 435.0,1414.1 436.0,1414.1 437.0,1414.1 438.0,1414.1 439.0,1414.1 440.0,1414.1 441.0,1414.1 442.0,1414.1 443.0,1414.1 444.0,1414.1 445.0,1414.1 446.0,1414.1 447.0,1414.1 448.0,1414.1 449.0,1414.1 450.0,1414.1 451.0,1414.1 452.0,1414.1 453.0,1414.1 454.0,1414.1 455.0,1414.1 456.0,1414.1 457.0,1414.1 458.0,1414.1 459.0,1414.1 460.0,1414.1 461.0,1414.1 462.0,1414.1 463.0,1414.1 464.0,1414.1 465.0,1414.1 466.0,1414.1 467.0,1414.1 468.0,1414.1 469.0,1414.1 470.0,1414.1 471.0,1414.1 472.0,1414.1 473.0,1414.1 474.0,1414.1 475.0,1414.1 476.0,1414.1 477.0,1414.1 478.0,1414.1 479.0,1414.1 480.0,1414.1 481.0,1414.1 482.0,1414.1 483.0,1414.1 484.0,1414.1 485.0,1414.1 486.0,1414.1 487.0,1414.1 488.0,1414.1 489.0,1414.1 490.0,1414.1 491.0,1414.1 492.0,1414.1 493.0,1414.1 494.0,1414.1 495.0,1414.1 496.0,1414.1 497.0,1414.1 498.0,1414.1 499.0,1414.1 500.0,1414.1 501.0,1414.1 502.0,1414.1 503.0,1414.1 504.0,1414.1 505.0,1414.1 506.0,1414.1 507.0,1414.1 508.0,1414.1 509.0,1414.1 510.0,1414.1 511.0,1414.1 512.0,1414.1 513.0,1414.1 514.0,1414.1 515.0,1414.1 516.0,1414.1 517.0,1414.1 518.0,1414.1 519.0,1414.1 520.0,1414.1 521.0,1414.1 522.0,1414.1 523.0,1414.1 524.0,1414.1 525.0,1414.1 526.0,1414.1 527.0,1414.1 528.0,1414.1 529.0,1414.1 530.0,1414.1 531.0,1414.1 532.0,1414.1 533.0,1414.1 534.0,1414.1 535.0,1414.1 536.0,1414.1 537.0,1414.1 538.0,1414.1 539.0,1414.1 540.0,1414.1 541.0,1414.1 542.0,1414.1 543.0,1414.1 544.0,1414.1 545.0,1414.1 546.0,1414.1 547.0,1414.1 548.0,1414.1 549.0,1414.1 550.0,1414.1 551.0,1414.1 552.0,1414.1 553.0,1414.1 554.0,1414.1 555.0,1414.1 556.0,1414.1 557.0,1414.1 558.0,1414.1 559.0,1414.1 560.0,1414.1 561.0,1414.1 562.0,1414.1 563.0,1414.1 564.0,1414.1 565.0,1414.1 566.0,1414.1 567.0,1414.1 568.0,1414.1 569.0,1414.1 570.0,1414.1 571.0,1414.1 572.0,1414.1 573.0,1414.1 574.0,1414.1 575.0,1414.1 576.0,1414.1 577.0,1414.1 578.0,1414.1 579.0,1414.1 580.0,1414.1 581.0,1414.1 582.0,1414.1 583.0,1414.1 584.0,1414.1 585.0,1414.1 586.0,1414.1 587.0,1414.1 588.0,1414.1 589.0,1414.1 590.0,1414.1 591.0,1414.1 592.0,1414.1 593.0,1414.1 594.0,1414.1 595.0,1414.1 596.0,1414.1 597.0,1414.1 598.0,1414.1 599.0,1414.1 600.0,1414.1 601.0,1414.1 602.0,1414.1 603.0,1414.1 604.0,1414.1 605.0,1414.1 606.0,1414.1 607.0,1414.1 608.0,1414.1 609.0,1414.1 610.0,1414.1 611.0,1414.1 612.0,1414.1 613.0,1414.1 614.0,1414.0 615.0,1413.9 616.0,1413.5 617.0,1412.7 618.0,1411.2 619.0,1408.7 620.0,1404.8 621.0,1399.6 622.0,1393.7 623.0,1388.1 624.0,1384.0 625.0,1382.5 626.0,1384.0 627.0,1388.1 628.0,1393.7 629.0,1399.6 630.0,1404.8 631.0,1408.7 632.0,1411.2 633.0,1412.7 634.0,1413.5 635.0,1413.9 636.0,1414.0 637.0,1414.1 638.0,1414.1 639.0,1414.1 640.0,1414.1 641.0,1414.1 642.0,1414.1 643.0,1414.1 644.0,1414.1 645.0,1414.1 646.0,1414.1 647.0,1414.1 648.0,1414.1 649.0,1414.1 650.0,1414.1 651.0,1414.1 652.0,1414.1 653.0,1414.0 654.0,1413.7 655.0,1413.3 656.0,1412.6 657.0,1411.5 658.0,1410.0 659.0,1408.0 660.0,1405.7 661.0,1403.5 662.0,1401.9 663.0,1401.0 663.3,1401.0 664.0,1401.3 665.0,1402.5 666.0,1404.4 667.0,1406.6 668.0,1408.8 669.0,1410.6 670.0,1412.0 671.0,1413.0 672.0,1413.5 673.0,1413.8 674.0,1414.0 675.0,1414.1 676.0,1414.1 677.0,1414.1 678.0,1414.1 679.0,1414.1 680.0,1414.1 681.0,1414.1 682.0,1414.1 683.0,1414.1 684.0,1414.1 685.0,1414.1 686.0,1414.1 687.0,1414.1 688.0,1414.1 689.0,1414.1 690.0,1414.1 691.0,1414.1 692.0,1414.1 693.0,1414.1 694.0,1414.1 695.0,1414.1 696.0,1414.1 697.0,1414.0 698.0,1413.8 699.0,1413.1 700.0,1411.1 701.0,1406.7 702.0,1397.9 703.0,1383.1 704.0,1361.7 705.0,1336.3 706.0,1312.0 707.0,1295.8 707.6,1292.0 708.0,1292.1 709.0,1300.5 710.0,1315.6 711.0,1330.6 712.0,1341.1 713.0,1347.3 714.0,1352.0 715.0,1357.5 716.0,1363.1 717.0,1365.9 718.0,1363.1 719.0,1353.0 719.5,1345.0 720.0,1335.0 721.0,1308.3 722.0,1273.1 723.0,1232.0 724.0,1192.0 725.0,1162.5 726.0,1152.0 727.0,1164.2 728.0,1196.5 729.0,1241.2 730.0,1288.7 731.0,1331.2 732.0,1364.1 733.0,1386.6 734.0,1400.3 735.0,1407.8 736.0,1411.4 737.0,1412.8 738.0,1412.9 739.0,1411.8 740.0,1409.4 741.0,1405.1 742.0,1398.5 743.0,1390.0 744.0,1380.9 745.0,1373.0 746.0,1368.7 746.4,1368.3 747.0,1369.2 748.0,1374.4 749.0,1382.6 750.0,1391.8 751.0,1400.0 752.0,1406.1 753.0,1410.0 754.0,1412.2 755.0,1413.2 756.0,1413.4 757.0,1413.1 758.0,1412.4 759.0,1411.2 760.0,1409.6 761.0,1407.6 762.0,1405.4 763.0,1403.4 764.0,1402.0 765.0,1401.5 766.0,1402.0 767.0,1403.4 768.0,1405.4 769.0,1407.6 770.0,1409.6 771.0,1411.2 772.0,1412.4 773.0,1413.2 774.0,1413.7 775.0,1413.9 776.0,1414.0 777.0,1414.1 778.0,1414.1 779.0,1414.1 780.0,1414.1 781.0,1414.1 782.0,1414.1 783.0,1414.1 784.0,1414.1 785.0,1414.1 786.0,1414.1 787.0,1414.1 788.0,1414.1 789.0,1414.1 790.0,1414.1 791.0,1414.1 792.0,1414.1 793.0,1414.1 794.0,1414.1 795.0,1414.1 796.0,1414.1 797.0,1414.1 798.0,1414.1 799.0,1414.1 800.0,1414.1 801.0,1414.1 802.0,1414.1 803.0,1414.1 804.0,1414.1 805.0,1414.1 806.0,1414.1 807.0,1414.1 808.0,1414.1 809.0,1414.1 810.0,1414.1 811.0,1414.1 812.0,1414.1 813.0,1414.1 814.0,1414.1 815.0,1414.1 816.0,1414.1 817.0,1414.1 818.0,1414.1 819.0,1414.1 820.0,1414.1 821.0,1414.1 822.0,1414.1 823.0,1414.1 824.0,1414.1 825.0,1414.1 826.0,1414.1 827.0,1414.1 828.0,1414.1 829.0,1414.1 830.0,1414.1 831.0,1414.1 832.0,1414.1 833.0,1414.1 834.0,1414.1 835.0,1414.1 836.0,1414.1 837.0,1414.1 838.0,1414.1 839.0,1414.1 840.0,1414.1 841.0,1414.1 842.0,1414.1 843.0,1414.1 844.0,1414.1 845.0,1414.1 846.0,1414.1 847.0,1414.1 848.0,1414.1 849.0,1414.1 850.0,1414.1 851.0,1414.1 852.0,1414.1 853.0,1414.1 854.0,1414.1 855.0,1414.1 856.0,1414.1 857.0,1414.0 858.0,1413.9 859.0,1413.6 860.0,1412.8 861.0,1411.0 862.0,1407.6 863.0,1401.7 864.0,1392.8 865.0,1381.4 866.0,1369.0 867.0,1358.4 868.0,1352.3 868.4,1351.6 869.0,1352.4 870.0,1358.1 871.0,1366.3 872.0,1372.8 873.0,1372.5 874.0,1361.2 875.0,1336.1 876.0,1296.9 877.0,1246.8 878.0,1193.2 879.0,1146.9 880.0,1118.5 880.6,1113.3 881.0,1115.2 882.0,1137.9 883.0,1180.4 884.0,1232.7 885.0,1284.3 886.0,1327.5 887.0,1358.7 888.0,1378.0 889.0,1386.8 890.0,1386.6 891.0,1377.4 892.0,1358.5 893.0,1330.0 894.0,1294.0 895.0,1256.7 896.0,1226.7 897.0,1212.5 897.2,1212.0 898.0,1218.3 899.0,1242.4 900.0,1277.4 901.0,1314.5 902.0,1346.4 903.0,1369.7 904.0,1384.5 905.0,1392.8 906.0,1397.1 907.0,1399.3 908.0,1400.4 909.0,1401.0 910.0,1401.1 911.0,1400.1 912.0,1396.6 913.0,1388.6 914.0,1373.3 915.0,1348.5 916.0,1314.2 917.0,1274.0 918.0,1235.8 919.0,1209.7 919.8,1203.0 920.0,1203.6 921.0,1219.5 922.0,1252.8 923.0,1294.1 924.0,1333.9 925.0,1365.7 926.0,1387.6 927.0,1400.7 928.0,1407.6 929.0,1410.9 930.0,1412.4 931.0,1413.0 932.0,1413.3 933.0,1413.5 934.0,1413.6 935.0,1413.7 936.0,1413.8 937.0,1413.8 938.0,1413.9 939.0,1414.0 940.0,1414.0 941.0,1414.0 942.0,1414.0 943.0,1414.0 944.0,1413.9 945.0,1413.6 946.0,1412.9 947.0,1411.4 948.0,1408.7 949.0,1404.1 950.0,1397.1 951.0,1387.7 952.0,1376.4 953.0,1364.6 954.0,1354.4 955.0,1347.9 955.6,1346.4 956.0,1346.4 957.0,1350.0 958.0,1357.4 959.0,1366.6 960.0,1375.6 961.0,1382.9 962.0,1388.0 963.0,1391.1 964.0,1392.8 965.0,1394.0 966.0,1395.3 967.0,1397.0 968.0,1399.1 969.0,1401.5 970.0,1404.0 971.0,1406.4 972.0,1408.6 973.0,1410.3 974.0,1411.6 975.0,1412.5 976.0,1413.2 977.0,1413.6 978.0,1413.8 979.0,1414.0 980.0,1414.1 981.0,1414.1 982.0,1414.1 983.0,1414.1 984.0,1414.1 985.0,1414.1 986.0,1414.1 987.0,1414.1 988.0,1414.1 989.0,1414.1 990.0,1414.1 991.0,1414.1 992.0,1414.1 993.0,1414.1 994.0,1414.1 995.0,1414.0 996.0,1413.9 997.0,1413.3 998.0,1411.9 999.0,1408.5 1000.0,1401.4 1001.0,1387.5 1002.0,1363.5 1003.0,1326.3 1004.0,1275.2 1005.0,1213.5 1006.0,1149.8 1007.0,1096.6 1008.0,1066.0 1008.5,1062.0 1009.0,1066.0 1010.0,1096.6 1011.0,1149.8 1012.0,1213.5 1013.0,1275.2 1014.0,1326.3 1015.0,1363.5 1016.0,1387.5 1017.0,1401.4 1018.0,1408.5 1019.0,1411.9 1020.0,1413.3 1021.0,1413.9 1022.0,1414.0 1023.0,1414.1 1024.0,1414.1 1025.0,1414.1 1026.0,1414.1 1027.0,1414.1 1028.0,1414.1 1029.0,1414.1 1030.0,1414.1 1031.0,1414.1 1032.0,1414.1 1033.0,1414.1 1034.0,1414.1 1035.0,1414.1 1036.0,1414.1 1037.0,1414.1 1038.0,1414.1 1039.0,1414.1 1040.0,1414.1 1041.0,1414.1 1042.0,1414.1 1043.0,1414.1 1044.0,1414.1 1045.0,1414.1 1046.0,1414.1 1047.0,1414.1 1048.0,1414.1 1049.0,1414.1 1050.0,1414.1 1051.0,1414.1 1052.0,1414.1 1053.0,1414.1 1054.0,1414.1 1055.0,1414.1 1056.0,1414.1 1057.0,1414.1 1058.0,1414.1 1059.0,1414.1 1060.0,1414.1 1061.0,1414.1 1062.0,1414.1 1063.0,1414.1 1064.0,1414.1 1065.0,1414.1 1066.0,1414.1 1067.0,1414.1 1068.0,1414.1 1069.0,1414.1 1070.0,1414.1 1071.0,1414.1 1072.0,1414.1 1073.0,1414.1 1074.0,1414.1 1075.0,1414.1 1076.0,1414.1 1077.0,1414.1 1078.0,1414.1 1079.0,1414.1 1080.0,1414.1 1081.0,1414.1 1082.0,1414.1 1083.0,1414.1 1084.0,1414.1 1085.0,1414.1 1086.0,1414.1 1087.0,1414.1 1088.0,1414.1 1089.0,1414.1 1090.0,1414.1 1091.0,1414.1 1092.0,1414.1 1093.0,1414.1 1094.0,1414.1 1095.0,1414.1 1096.0,1414.1 1097.0,1414.1 1098.0,1414.1 1099.0,1414.1 1100.0,1414.1 1101.0,1414.1 1102.0,1414.1 1103.0,1414.1 1104.0,1414.1 1105.0,1414.0 1106.0,1413.8 1107.0,1413.4 1108.0,1412.7 1109.0,1411.5 1110.0,1409.8 1111.0,1407.4 1112.0,1404.6 1113.0,1401.7 1114.0,1399.1 1115.0,1397.4 1115.8,1397.0 1116.0,1397.0 1117.0,1398.0 1118.0,1400.1 1119.0,1402.9 1120.0,1405.8 1121.0,1408.4 1122.0,1410.6 1123.0,1412.1 1124.0,1413.0 1125.0,1413.6 1126.0,1413.9 1127.0,1414.0 1128.0,1414.1 1129.0,1414.1 1130.0,1414.1 1131.0,1414.1 1132.0,1414.1 1133.0,1414.1 1134.0,1414.1 1135.0,1414.1 1136.0,1414.1 1137.0,1414.1 1138.0,1414.1 1139.0,1414.1 1140.0,1414.1 1141.0,1414.1 1142.0,1414.1 1143.0,1414.1 1144.0,1414.1 1145.0,1414.1 1146.0,1414.1 1147.0,1414.1 1148.0,1414.1 1149.0,1414.1 1150.0,1414.1 1151.0,1414.1 1152.0,1414.1 1153.0,1414.1 1154.0,1414.1 1155.0,1414.1 1156.0,1414.1 1157.0,1414.1 1158.0,1414.1 1159.0,1414.1 1160.0,1414.1 1161.0,1414.1 1162.0,1414.1 1163.0,1414.1 1164.0,1414.1 1165.0,1414.1 1166.0,1414.1 1167.0,1414.1 1168.0,1414.1 1169.0,1414.1 1170.0,1414.1 1171.0,1414.1 1172.0,1414.1 1173.0,1414.1 1174.0,1414.1 1175.0,1414.1 1176.0,1414.1 1177.0,1414.1 1178.0,1414.1 1179.0,1414.1 1180.0,1414.1 1181.0,1414.1 1182.0,1414.1 1183.0,1414.1 1184.0,1414.1 1185.0,1414.1 1186.0,1414.1 1187.0,1414.0 1188.0,1413.7 1189.0,1413.1 1190.0,1411.7 1191.0,1409.0 1192.0,1404.3 1193.0,1396.9 1194.0,1386.6 1195.0,1374.0 1196.0,1360.7 1197.0,1349.4 1198.0,1342.5 1198.6,1341.3 1199.0,1341.8 1200.0,1347.6 1201.0,1358.2 1202.0,1371.3 1203.0,1384.2 1204.0,1395.0 1205.0,1403.0 1206.0,1408.2 1207.0,1411.3 1208.0,1412.9 1209.0,1413.6 1210.0,1413.9 1211.0,1414.1 1212.0,1414.1 1213.0,1414.1 1214.0,1414.1 1215.0,1414.1 1216.0,1414.1 1217.0,1414.1 1218.0,1414.1 1219.0,1414.1 1220.0,1414.1 1221.0,1414.1 1222.0,1414.1 1223.0,1414.1 1224.0,1414.1 1225.0,1414.1 1226.0,1414.1 1227.0,1414.1 1228.0,1414.1 1229.0,1414.1 1230.0,1414.1 1231.0,1414.1 1232.0,1414.0 1233.0,1413.9 1234.0,1413.6 1235.0,1413.1 1236.0,1412.2 1237.0,1410.8 1238.0,1408.9 1239.0,1406.5 1240.0,1404.0 1241.0,1401.7 1242.0,1400.1 1243.0,1399.5 1244.0,1400.1 1245.0,1401.7 1246.0,1404.0 1247.0,1406.5 1248.0,1408.9 1249.0,1410.8 1250.0,1412.2 1251.0,1413.1 1252.0,1413.6 1253.0,1413.9 1254.0,1414.0 1255.0,1414.1 1256.0,1414.1 1257.0,1414.1 1258.0,1414.1 1259.0,1414.1 1260.0,1414.1 1261.0,1414.1 1262.0,1414.1 1263.0,1414.1 1264.0,1414.1 1265.0,1414.1 1266.0,1414.1 1267.0,1414.1 1268.0,1414.1 1269.0,1414.1 1270.0,1414.1 1271.0,1414.1 1272.0,1414.1 1273.0,1414.1 1274.0,1414.1 1275.0,1414.1 1276.0,1414.1 1277.0,1414.1 1278.0,1414.1 1279.0,1414.1 1280.0,1414.1 1281.0,1414.1 1282.0,1414.1 1283.0,1414.1 1284.0,1414.1 1285.0,1414.0 1286.0,1413.9 1287.0,1413.5 1288.0,1412.9 1289.0,1411.7 1290.0,1409.9 1291.0,1407.0 1292.0,1403.0 1293.0,1398.0 1294.0,1392.2 1295.0,1386.4 1296.0,1381.4 1297.0,1378.0 1297.9,1377.0 1298.0,1377.0 1299.0,1378.5 1300.0,1382.3 1301.0,1387.5 1302.0,1393.4 1303.0,1399.0 1304.0,1403.9 1305.0,1407.6 1306.0,1410.3 1307.0,1412.0 1308.0,1413.0 1309.0,1413.6 1310.0,1413.9 1311.0,1414.0 1312.0,1414.1 1313.0,1414.1 1314.0,1414.1 1315.0,1414.1 1316.0,1414.1 1317.0,1414.1 1318.0,1414.1 1319.0,1414.1 1320.0,1414.1 1321.0,1414.1 1322.0,1414.1 1323.0,1414.1 1324.0,1414.1 1325.0,1414.1 1326.0,1414.1 1327.0,1414.1 1328.0,1414.1 1329.0,1414.1 1330.0,1414.1 1331.0,1414.1 1332.0,1414.1 1333.0,1414.1 1334.0,1414.1 1335.0,1414.1 1336.0,1414.1 1337.0,1414.1 1338.0,1414.1 1339.0,1414.1 1340.0,1414.1 1341.0,1414.1 1342.0,1414.1 1343.0,1414.1 1344.0,1414.1 1345.0,1414.1 1346.0,1414.1 1347.0,1414.1 1348.0,1414.1 1349.0,1414.1 1350.0,1414.1 1351.0,1414.1 1352.0,1414.1 1353.0,1414.1 1354.0,1414.1 1355.0,1414.1 1356.0,1414.1 1357.0,1414.1 1358.0,1414.1 1359.0,1414.1 1360.0,1414.1 1361.0,1414.1 1362.0,1414.1 1363.0,1414.1 1364.0,1414.1 1365.0,1414.1 1366.0,1414.1 1367.0,1414.1 1368.0,1414.1 1369.0,1414.1 1370.0,1414.1 1371.0,1414.1 1372.0,1414.1 1373.0,1414.1 1374.0,1414.1 1375.0,1414.1 1376.0,1414.1 1377.0,1414.1 1378.0,1414.1 1379.0,1414.1 1380.0,1414.1 1381.0,1414.1 1382.0,1414.1 1383.0,1414.1 1384.0,1414.1 1385.0,1414.1 1386.0,1414.1 1387.0,1414.1 1388.0,1414.1 1389.0,1414.1 1390.0,1414.1 1391.0,1414.1 1392.0,1414.1 1393.0,1414.0 1394.0,1413.8 1395.0,1413.4 1396.0,1412.9 1397.0,1412.0 1398.0,1410.8 1399.0,1409.3 1400.0,1407.7 1401.0,1406.2 1402.0,1405.2 1403.0,1404.8 1404.0,1405.2 1405.0,1406.2 1406.0,1407.7 1407.0,1409.3 1408.0,1410.8 1409.0,1412.0 1410.0,1412.9 1411.0,1413.4 1412.0,1413.8 1413.0,1414.0 1414.0,1414.1 1415.0,1414.1 1416.0,1414.1 1417.0,1414.1 1418.0,1414.1 1419.0,1414.1 1420.0,1414.1 1421.0,1414.1 1422.0,1414.1 1423.0,1414.1 1424.0,1414.1 1425.0,1414.1 1426.0,1414.1 1427.0,1414.1 1428.0,1414.1 1429.0,1414.1 1430.0,1413.9 1431.0,1413.7 1432.0,1413.2 1433.0,1412.2 1434.0,1410.6 1435.0,1408.1 1436.0,1404.7 1437.0,1400.5 1438.0,1396.0 1439.0,1391.9 1440.0,1389.0 1441.0,1388.0 1442.0,1389.0 1443.0,1391.9 1444.0,1396.0 1445.0,1400.5 1446.0,1404.7 1447.0,1408.1 1448.0,1410.6 1449.0,1412.2 1450.0,1413.2 1451.0,1413.7 1452.0,1413.9 1453.0,1414.1 1454.0,1414.1 1455.0,1414.1 1456.0,1414.1 1457.0,1414.1 1458.0,1414.1 1459.0,1414.1 1460.0,1414.1 1461.0,1414.1 1462.0,1414.1 1463.0,1414.1 1464.0,1414.1 1465.0,1414.1 1466.0,1414.1 1467.0,1414.1 1468.0,1414.1 1469.0,1414.1 1470.0,1414.1 1471.0,1414.1 1472.0,1414.1 1473.0,1414.1 1474.0,1414.1 1475.0,1414.1 1476.0,1414.1 1477.0,1414.1 1478.0,1414.1 1479.0,1414.1 1480.0,1414.1 1481.0,1414.1 1482.0,1414.1 1483.0,1414.1 1484.0,1414.1 1485.0,1414.1 1486.0,1414.1 1487.0,1414.1 1488.0,1414.1 1489.0,1414.1 1490.0,1414.1 1491.0,1414.1 1492.0,1414.1 1493.0,1414.1 1494.0,1414.1 1495.0,1414.1 1496.0,1414.1 1497.0,1414.1 1498.0,1414.1 1499.0,1414.1 1500.0,1414.1 1501.0,1414.0 1502.0,1413.9 1503.0,1413.5 1504.0,1412.8 1505.0,1411.4 1506.0,1409.2 1507.0,1405.9 1508.0,1401.8 1509.0,1397.2 1510.0,1393.2 1511.0,1390.6 1511.7,1390.0 1512.0,1390.1 1513.0,1391.9 1514.0,1395.5 1515.0,1400.0 1516.0,1404.3 1517.0,1408.0 1518.0,1410.7 1519.0,1412.3 1520.0,1413.3 1521.0,1413.8 1522.0,1414.0 1523.0,1414.1 1524.0,1414.1 1525.0,1414.1 1526.0,1414.1 1527.0,1414.1 1528.0,1414.1 1529.0,1414.1 1530.0,1414.1 1531.0,1414.1 1532.0,1414.1 1533.0,1414.1 1534.0,1414.1 1535.0,1414.1 1536.0,1414.1 1537.0,1414.1 1538.0,1414.1 1539.0,1414.1 1540.0,1414.1 1541.0,1414.1 1542.0,1414.1 1543.0,1414.1 1544.0,1414.1 1545.0,1414.1 1546.0,1414.1 1547.0,1414.1 1548.0,1414.1 1549.0,1414.1 1550.0,1414.1 1551.0,1414.1 1552.0,1414.1 1553.0,1414.1 1554.0,1414.1 1555.0,1414.1 1556.0,1414.1 1557.0,1414.1 1558.0,1414.1 1559.0,1414.1 1560.0,1414.1 1561.0,1414.1 1562.0,1414.1 1563.0,1414.1 1564.0,1414.1 1565.0,1414.1 1566.0,1414.1 1567.0,1414.1 1568.0,1414.1 1569.0,1414.1 1570.0,1414.1 1571.0,1414.1 1572.0,1414.1 1573.0,1414.1 1574.0,1414.1 1575.0,1414.1 1576.0,1414.1 1577.0,1414.1 1578.0,1414.1 1579.0,1414.1 1580.0,1414.1 1581.0,1414.1 1582.0,1414.1 1583.0,1414.1 1584.0,1414.1 1585.0,1414.1 1586.0,1414.1 1587.0,1414.1 1588.0,1414.1 1589.0,1414.1 1590.0,1414.1 1591.0,1414.1 1592.0,1414.1 1593.0,1414.1 1594.0,1414.1 1595.0,1414.1 1596.0,1414.1 1597.0,1414.1 1598.0,1414.1 1599.0,1414.1 1600.0,1414.1 1601.0,1414.1 1602.0,1414.1 1603.0,1414.1 1604.0,1414.1 1605.0,1414.1 1606.0,1414.1 1607.0,1414.1 1608.0,1414.1 1609.0,1414.1 1610.0,1414.1 1611.0,1414.1 1612.0,1414.1 1613.0,1414.1 1614.0,1414.1 1615.0,1414.1 1616.0,1414.1 1617.0,1414.1 1618.0,1414.1 1619.0,1414.1 1620.0,1414.1 1621.0,1414.1 1622.0,1414.1 1623.0,1414.1 1624.0,1414.1 1625.0,1414.1 1626.0,1414.1 1627.0,1414.1 1628.0,1414.1 1629.0,1414.1 1630.0,1414.1 1631.0,1414.1 1632.0,1414.1 1633.0,1414.1 1634.0,1414.1 1635.0,1414.1 1636.0,1414.1 1637.0,1414.1 1638.0,1414.1 1639.0,1414.1 1640.0,1414.1 1641.0,1414.1 1642.0,1414.1 1643.0,1414.1 1644.0,1414.1 1645.0,1414.1 1646.0,1414.1 1647.0,1414.1 1648.0,1414.1 1649.0,1414.1 1650.0,1414.1 1651.0,1414.1 1652.0,1414.1 1653.0,1414.1 1654.0,1414.1 1655.0,1414.1 1656.0,1414.1 1657.0,1414.1 1658.0,1414.1 1659.0,1414.1 1660.0,1414.1 1661.0,1414.1 1662.0,1414.1 1663.0,1414.1 1664.0,1414.1 1665.0,1414.1 1666.0,1414.1 1667.0,1414.1 1668.0,1414.1 1669.0,1414.1 1670.0,1414.1 1671.0,1414.1 1672.0,1414.1 1673.0,1414.1 1674.0,1414.1 1675.0,1414.1 1676.0,1414.1 1677.0,1414.1 1678.0,1414.1 1679.0,1414.1 1680.0,1414.1 1681.0,1414.1 1682.0,1414.1 1683.0,1414.1 1684.0,1414.1 1685.0,1414.1 1686.0,1414.1 1687.0,1414.1 1688.0,1414.1 1689.0,1414.1 1690.0,1414.1 1691.0,1414.1 1692.0,1414.1 1693.0,1414.1 1694.0,1414.1 1695.0,1414.1 1696.0,1414.1 1697.0,1414.1 1698.0,1414.1 1699.0,1414.1 1700.0,1414.1 1701.0,1414.1 1702.0,1414.1 1703.0,1414.1 1704.0,1414.1 1705.0,1414.1 1706.0,1414.1 1707.0,1414.1 1708.0,1414.1 1709.0,1414.1 1710.0,1414.1 1711.0,1414.1 1712.0,1414.1 1713.0,1414.1 1714.0,1414.1 1715.0,1414.1 1716.0,1414.1 1717.0,1414.1 1718.0,1414.1 1719.0,1414.1 1720.0,1414.1 1721.0,1414.1 1722.0,1414.1 1723.0,1414.1 1724.0,1414.1 1725.0,1414.1 1726.0,1414.1 1727.0,1414.1 1728.0,1414.1 1729.0,1414.1 1730.0,1414.1 1731.0,1414.1 1732.0,1414.1 1733.0,1414.1 1734.0,1414.1 1735.0,1414.1 1736.0,1414.1 1737.0,1414.1 1738.0,1414.1 1739.0,1414.1 1740.0,1414.1 1741.0,1414.1 1742.0,1414.1 1743.0,1414.1 1744.0,1414.1 1745.0,1414.1 1746.0,1414.1 1747.0,1414.1 1748.0,1414.1 1749.0,1414.1 1750.0,1414.1 1751.0,1414.1 1752.0,1414.1 1753.0,1414.1 1754.0,1414.1 1755.0,1414.1 1756.0,1414.1 1757.0,1414.1 1758.0,1414.1 1759.0,1414.1 1760.0,1414.1 1761.0,1414.1 1762.0,1414.1 1763.0,1414.1 1764.0,1414.1 1765.0,1414.1 1766.0,1414.1 1767.0,1414.1 1768.0,1414.1 1769.0,1414.1 1770.0,1414.1 1771.0,1414.1 1772.0,1414.1 1773.0,1414.1 1774.0,1414.1 1775.0,1414.1 1776.0,1414.1 1777.0,1414.1 1778.0,1414.1 1779.0,1414.1 1780.0,1414.1 1781.0,1414.1 1782.0,1414.1 1783.0,1414.1 1784.0,1414.1 1785.0,1414.1 1786.0,1414.1 1787.0,1414.1 1788.0,1414.1 1789.0,1414.1 1790.0,1414.1 1791.0,1414.1 1792.0,1414.1 1793.0,1414.1 1794.0,1414.1 1795.0,1414.1 1796.0,1414.1 1797.0,1414.1 1798.0,1414.1 1799.0,1414.1 1800.0,1414.1 1801.0,1414.1 1802.0,1414.1 1803.0,1414.1 1804.0,1414.1 1805.0,1414.1 1806.0,1414.1 1807.0,1414.1 1808.0,1414.1 1809.0,1414.1 1810.0,1414.1 1811.0,1414.1 1812.0,1414.1 1813.0,1414.1 1814.0,1414.1 1815.0,1414.1 1816.0,1414.1 1817.0,1414.1 1818.0,1414.1 1819.0,1414.1 1820.0,1414.1 1821.0,1414.1 1822.0,1414.1 1823.0,1414.1 1824.0,1414.1 1825.0,1414.1 1826.0,1414.1 1827.0,1414.1 1828.0,1414.1 1829.0,1414.1 1830.0,1414.1 1831.0,1414.1 1832.0,1414.1 1833.0,1414.1 1834.0,1414.1 1835.0,1414.1 1836.0,1414.1 1837.0,1414.1 1838.0,1414.1 1839.0,1414.1 1840.0,1414.1 1841.0,1414.1 1842.0,1414.1 1843.0,1414.1 1844.0,1414.1 1845.0,1414.1 1846.0,1414.1 1847.0,1414.1 1848.0,1414.1 1849.0,1414.1 1850.0,1414.1 1851.0,1414.1 1852.0,1414.1 1853.0,1414.1 1854.0,1414.1 1855.0,1414.1 1856.0,1414.1 1857.0,1414.1 1858.0,1414.1 1859.0,1414.1 1860.0,1414.1 1861.0,1414.1 1862.0,1414.1 1863.0,1414.1 1864.0,1414.1 1865.0,1414.1 1866.0,1414.1 1867.0,1414.1 1868.0,1414.1 1869.0,1414.1 1870.0,1414.1 1871.0,1414.1 1872.0,1414.1 1873.0,1414.1 1874.0,1414.1 1875.0,1414.1 1876.0,1414.1 1877.0,1414.1 1878.0,1414.1 1879.0,1414.1 1880.0,1414.1 1881.0,1414.1 1882.0,1414.1 1883.0,1414.1 1884.0,1414.1 1885.0,1414.1 1886.0,1414.1 1887.0,1414.1 1888.0,1414.1 1889.0,1414.1 1890.0,1414.1 1891.0,1414.1 1892.0,1414.1 1893.0,1414.1 1894.0,1414.1 1895.0,1414.1 1896.0,1414.1 1897.0,1414.1 1898.0,1414.1 1899.0,1414.1 1900.0,1414.1 1901.0,1414.1 1902.0,1414.1 1903.0,1414.1 1904.0,1414.1 1905.0,1414.1 1906.0,1414.1 1907.0,1414.1 1908.0,1414.1 1909.0,1414.1 1910.0,1414.1 1911.0,1414.0 1912.0,1413.6 1913.0,1412.4 1914.0,1409.2 1915.0,1401.6 1916.0,1385.2 1917.0,1354.6 1918.0,1304.5 1919.0,1233.4 1920.0,1147.5 1921.0,1062.2 1922.0,998.4 1923.0,974.6 1924.0,998.4 1925.0,1062.2 1926.0,1147.5 1927.0,1233.4 1928.0,1304.5 1929.0,1354.6 1930.0,1385.2 1931.0,1401.6 1932.0,1409.2 1933.0,1412.4 1934.0,1413.6 1935.0,1414.0 1936.0,1414.1 1937.0,1414.1 1938.0,1414.1 1939.0,1414.1 1940.0,1414.1 1941.0,1414.1 1942.0,1414.1 1943.0,1414.1 1944.0,1414.1 1945.0,1414.1 1946.0,1414.1 1947.0,1414.1 1948.0,1414.1 1949.0,1414.1 1950.0,1414.1 1951.0,1414.1 1952.0,1414.1 1953.0,1414.1 1954.0,1414.1 1955.0,1414.1 1956.0,1414.1 1957.0,1414.1 1958.0,1414.1 1959.0,1414.1 1960.0,1414.1 1961.0,1414.1 1962.0,1414.1 1963.0,1414.1 1964.0,1414.1 1965.0,1414.1 1966.0,1414.1 1967.0,1414.1 1968.0,1414.1 1969.0,1414.1 1970.0,1414.1 1971.0,1414.1 1972.0,1414.1 1973.0,1414.1 1974.0,1414.0 1975.0,1414.0 1976.0,1414.0 1977.0,1413.9 1978.0,1413.8 1979.0,1413.7 1980.0,1413.5 1981.0,1413.3 1982.0,1413.1 1983.0,1412.8 1984.0,1412.4 1985.0,1411.9 1986.0,1411.4 1987.0,1410.8 1988.0,1410.1 1989.0,1409.3 1990.0,1408.4 1991.0,1407.5 1992.0,1406.5 1993.0,1405.4 1994.0,1404.3 1995.0,1403.3 1996.0,1402.2 1997.0,1401.2 1998.0,1400.3 1999.0,1399.5 2000.0,1398.9 2001.0,1398.4 2002.0,1398.1 2003.0,1398.0 2004.0,1398.0 2005.0,1398.1 2006.0,1398.3 2007.0,1398.2 2008.0,1397.6 2009.0,1395.9 2010.0,1392.1 2011.0,1385.1 2012.0,1373.3 2013.0,1354.7 2014.0,1327.3 2015.0,1289.8 2016.0,1241.4 2017.0,1183.3 2018.0,1118.4 2019.0,1051.7 2020.0,989.7 2021.0,939.6 2022.0,907.7 2022.9,898.3 2023.0,898.5 2024.0,913.1 2025.0,949.8 2026.0,1003.5 2027.0,1067.6 2028.0,1135.0 2029.0,1199.1 2030.0,1255.0 2031.0,1299.6 2032.0,1331.2 2033.0,1349.3 2034.0,1353.9 2035.0,1344.7 2036.0,1321.8 2037.0,1285.3 2038.0,1236.4 2039.0,1177.5 2040.0,1113.4 2041.0,1050.4 2042.0,996.1 2043.0,957.6 2044.0,940.6 2044.2,940.0 2045.0,947.5 2046.0,977.2 2047.0,1025.5 2048.0,1085.4 2049.0,1149.5 2050.0,1211.2 2051.0,1265.4 2052.0,1309.4 2053.0,1342.6 2054.0,1366.0 2055.0,1381.2 2056.0,1390.5 2057.0,1395.6 2058.0,1398.2 2059.0,1399.3 2060.0,1399.7 2061.0,1399.8 2062.0,1399.9 2063.0,1400.1 2064.0,1400.4 2065.0,1401.0 2066.0,1401.7 2067.0,1402.5 2068.0,1403.5 2069.0,1404.5 2070.0,1405.6 2071.0,1406.6 2072.0,1407.7 2073.0,1408.6 2074.0,1409.5 2075.0,1410.4 2076.0,1411.1 2077.0,1411.7 2078.0,1412.2 2079.0,1412.7 2080.0,1413.0 2081.0,1413.3 2082.0,1413.5 2083.0,1413.7 2084.0,1413.8 2085.0,1413.9 2086.0,1414.0 2087.0,1414.0 2088.0,1414.1 2089.0,1414.1 2090.0,1414.1 2091.0,1414.1 2092.0,1414.1 2093.0,1414.1 2094.0,1414.1 2095.0,1413.9 2096.0,1413.5 2097.0,1412.1 2098.0,1408.6 2099.0,1400.3 2100.0,1382.4 2101.0,1348.1 2102.0,1288.5 2103.0,1196.1 2104.0,1069.1 2105.0,915.9 2106.0,757.9 2107.0,625.6 2108.0,549.8 2108.5,539.8 2109.0,549.8 2110.0,625.6 2111.0,757.9 2112.0,915.9 2113.0,1069.1 2114.0,1196.1 2115.0,1288.5 2116.0,1348.1 2117.0,1382.4 2118.0,1400.3 2119.0,1408.6 2120.0,1412.1 2121.0,1413.5 2122.0,1413.9 2123.0,1414.1 2124.0,1414.1 2125.0,1414.1 2126.0,1414.1 2127.0,1414.1 2128.0,1414.1 2129.0,1414.1 2130.0,1414.1 2131.0,1414.1 2132.0,1414.1 2133.0,1414.1 2134.0,1414.1 2135.0,1414.1 2136.0,1414.1 2137.0,1414.1 2138.0,1414.1 2139.0,1414.1 2140.0,1414.1 2141.0,1414.1 2142.0,1414.1 2143.0,1414.1 2144.0,1414.1 2145.0,1414.1 2146.0,1414.1 2147.0,1414.1 2148.0,1414.1 2149.0,1414.1 2150.0,1414.1 2151.0,1414.1 2152.0,1414.1 2153.0,1414.1 2154.0,1414.1 2155.0,1414.1 2156.0,1414.1 2157.0,1414.1 2158.0,1414.1 2159.0,1414.1 2160.0,1414.1 2161.0,1414.1 2162.0,1414.1 2163.0,1414.1 2164.0,1414.1 2165.0,1414.1 2166.0,1414.1 2167.0,1414.1 2168.0,1414.1 2169.0,1414.1 2170.0,1414.1 2171.0,1414.1 2172.0,1414.1 2173.0,1414.1 2174.0,1414.1 2175.0,1414.1 2176.0,1414.1 2177.0,1414.1 2178.0,1414.1 2179.0,1414.1 2180.0,1414.1 2181.0,1414.1 2182.0,1414.1 2183.0,1414.1 2184.0,1414.1 2185.0,1414.1 2186.0,1414.1 2187.0,1414.1 2188.0,1414.1 2189.0,1414.1 2190.0,1414.1 2191.0,1414.1 2192.0,1414.1 2193.0,1414.1 2194.0,1414.1 2195.0,1414.1 2196.0,1414.1 2197.0,1414.1 2198.0,1414.1 2199.0,1414.1 2200.0,1414.1 2201.0,1414.1 2202.0,1414.1 2203.0,1414.1 2204.0,1414.1 2205.0,1414.1 2206.0,1414.1 2207.0,1414.1 2208.0,1414.1 2209.0,1414.1 2210.0,1414.1 2211.0,1414.1 2212.0,1414.1 2213.0,1414.1 2214.0,1414.1 2215.0,1414.1 2216.0,1414.1 2217.0,1414.1 2218.0,1414.1 2219.0,1414.1 2220.0,1414.1 2221.0,1414.1 2222.0,1414.1 2223.0,1414.1 2224.0,1414.1 2225.0,1414.1 2226.0,1414.1 2227.0,1414.1 2228.0,1414.1 2229.0,1414.1 2230.0,1414.1 2231.0,1414.1 2232.0,1414.1 2233.0,1414.1 2234.0,1414.1 2235.0,1414.1 2236.0,1414.1 2237.0,1414.1 2238.0,1414.1 2239.0,1414.1 2240.0,1414.1 2241.0,1414.1 2242.0,1414.1 2243.0,1414.1 2244.0,1414.1 2245.0,1414.1 2246.0,1414.1 2247.0,1414.1 2248.0,1414.1 2249.0,1414.1 2250.0,1414.1 2251.0,1414.1 2252.0,1414.1 2253.0,1414.1 2254.0,1414.1 2255.0,1414.1 2256.0,1414.1 2257.0,1414.1 2258.0,1414.1 2259.0,1414.1 2260.0,1414.1 2261.0,1414.1 2262.0,1414.1 2263.0,1414.1 2264.0,1414.1 2265.0,1414.1 2266.0,1414.1 2267.0,1414.1 2268.0,1414.1 2269.0,1414.1 2270.0,1414.1 2271.0,1414.1 2272.0,1414.1 2273.0,1414.1 2274.0,1414.1 2275.0,1414.1 2276.0,1414.1 2277.0,1414.1 2278.0,1414.1 2279.0,1414.1 2280.0,1414.1 2281.0,1414.1 2282.0,1414.1 2283.0,1414.1 2284.0,1414.1 2285.0,1414.1 2286.0,1414.1 2287.0,1414.1 2288.0,1414.1 2289.0,1414.1 2290.0,1414.1 2291.0,1414.1 2292.0,1414.1 2293.0,1414.1 2294.0,1414.1 2295.0,1414.1 2296.0,1414.1 2297.0,1414.1 2298.0,1414.1 2299.0,1414.1 2300.0,1414.1 2301.0,1414.1 2302.0,1414.1 2303.0,1414.1 2304.0,1414.1 2305.0,1414.1 2306.0,1414.1 2307.0,1414.1 2308.0,1414.1 2309.0,1414.1" fill="none" stroke="#f00" stroke-width="5.2" stroke-linejoin="round"/><polygon points="696.0,1416.0 696.0,1413.9 697.0,1413.2 698.0,1412.3 699.0,1411.2 700.0,1409.9 701.0,1408.5 702.0,1407.3 703.0,1406.3 704.0,1406.0 705.0,1406.3 706.0,1407.3 707.0,1408.5 708.0,1409.9 709.0,1411.2 710.0,1412.3 711.0,1413.2 712.0,1413.9 712.0,1416.0" fill="#ff0" stroke="none"/><polyline points="696.0,1413.9 697.0,1413.2 698.0,1412.3 699.0,1411.2 700.0,1409.9 701.0,1408.5 702.0,1407.3 703.0,1406.3 704.0,1406.0 705.0,1406.3 706.0,1407.3 707.0,1408.5 708.0,1409.9 709.0,1411.2 710.0,1412.3 711.0,1413.2 712.0,1413.9" fill="none" stroke="#f0f" stroke-width="5.0" stroke-linejoin="round"/><polygon points="902.0,1416.0 902.0,1413.7 903.0,1413.0 904.0,1412.3 905.0,1411.5 906.0,1410.7 907.0,1410.2 908.0,1410.0 909.0,1410.2 910.0,1410.7 911.0,1411.5 912.0,1412.3 913.0,1413.0 914.0,1413.7 914.0,1416.0" fill="#ff0" stroke="none"/><polyline points="902.0,1413.7 903.0,1413.0 904.0,1412.3 905.0,1411.5 906.0,1410.7 907.0,1410.2 908.0,1410.0 909.0,1410.2 910.0,1410.7 911.0,1411.5 912.0,1412.3 913.0,1413.0 914.0,1413.7" fill="none" stroke="#f0f" stroke-width="5.0" stroke-linejoin="round"/><polygon points="1396.0,1416.0 1396.0,1413.7 1397.0,1412.8 1398.0,1411.6 1399.0,1410.1 1400.0,1408.4 1401.0,1406.7 1402.0,1405.5 1403.0,1405.0 1404.0,1405.5 1405.0,1406.7 1406.0,1408.4 1407.0,1410.1 1408.0,1411.6 1409.0,1412.8 1410.0,1413.7 1410.0,1416.0" fill="#ff0" stroke="none"/><polyline points="1396.0,1413.7 1397.0,1412.8 1398.0,1411.6 1399.0,1410.1 1400.0,1408.4 1401.0,1406.7 1402.0,1405.5 1403.0,1405.0 1404.0,1405.5 1405.0,1406.7 1406.0,1408.4 1407.0,1410.1 1408.0,1411.6 1409.0,1412.8 1410.0,1413.7" fill="none" stroke="#f0f" stroke-width="5.0" stroke-linejoin="round"/><polygon points="1466.0,1416.0 1466.0,1414.0 1467.0,1413.4 1468.0,1412.5 1469.0,1411.3 1470.0,1409.6 1471.0,1407.5 1472.0,1405.3 1473.0,1403.2 1474.0,1401.8 1474.7,1401.5 1475.0,1401.5 1476.0,1402.4 1477.0,1404.2 1478.0,1406.3 1479.0,1408.3 1480.0,1410.0 1481.0,1411.3 1482.0,1412.2 1483.0,1412.7 1484.0,1412.9 1485.0,1412.8 1486.0,1412.6 1487.0,1412.0 1488.0,1411.1 1489.0,1409.4 1490.0,1406.7 1491.0,1402.4 1492.0,1396.2 1493.0,1388.1 1494.0,1378.7 1495.0,1369.3 1496.0,1361.9 1497.0,1359.0 1498.0,1361.8 1499.0,1369.2 1500.0,1378.6 1501.0,1388.0 1502.0,1396.1 1503.0,1402.2 1504.0,1406.5 1505.0,1409.2 1506.0,1410.8 1507.0,1411.8 1508.0,1412.2 1509.0,1412.4 1510.0,1412.3 1511.0,1411.9 1512.0,1411.1 1513.0,1409.8 1514.0,1407.8 1515.0,1405.1 1516.0,1401.7 1517.0,1398.1 1518.0,1394.7 1519.0,1392.5 1519.7,1392.0 1520.0,1392.1 1521.0,1393.8 1522.0,1396.9 1523.0,1400.6 1524.0,1404.2 1525.0,1407.3 1526.0,1409.7 1527.0,1411.5 1528.0,1412.6 1529.0,1413.3 1530.0,1413.8 1531.0,1414.1 1531.0,1416.0" fill="#ff0" stroke="none"/><polyline points="1466.0,1414.0 1467.0,1413.4 1468.0,1412.5 1469.0,1411.3 1470.0,1409.6 1471.0,1407.5 1472.0,1405.3 1473.0,1403.2 1474.0,1401.8 1474.7,1401.5 1475.0,1401.5 1476.0,1402.4 1477.0,1404.2 1478.0,1406.3 1479.0,1408.3 1480.0,1410.0 1481.0,1411.3 1482.0,1412.2 1483.0,1412.7 1484.0,1412.9 1485.0,1412.8 1486.0,1412.6 1487.0,1412.0 1488.0,1411.1 1489.0,1409.4 1490.0,1406.7 1491.0,1402.4 1492.0,1396.2 1493.0,1388.1 1494.0,1378.7 1495.0,1369.3 1496.0,1361.9 1497.0,1359.0 1498.0,1361.8 1499.0,1369.2 1500.0,1378.6 1501.0,1388.0 1502.0,1396.1 1503.0,1402.2 1504.0,1406.5 1505.0,1409.2 1506.0,1410.8 1507.0,1411.8 1508.0,1412.2 1509.0,1412.4 1510.0,1412.3 1511.0,1411.9 1512.0,1411.1 1513.0,1409.8 1514.0,1407.8 1515.0,1405.1 1516.0,1401.7 1517.0,1398.1 1518.0,1394.7 1519.0,1392.5 1519.7,1392.0 1520.0,1392.1 1521.0,1393.8 1522.0,1396.9 1523.0,1400.6 1524.0,1404.2 1525.0,1407.3 1526.0,1409.7 1527.0,1411.5 1528.0,1412.6 1529.0,1413.3 1530.0,1413.8 1531.0,1414.1" fill="none" stroke="#f0f" stroke-width="5.0" stroke-linejoin="round"/><polygon points="1542.0,1416.0 1542.0,1414.0 1543.0,1413.6 1544.0,1412.8 1545.0,1411.8 1546.0,1410.2 1547.0,1408.1 1548.0,1405.5 1549.0,1402.7 1550.0,1400.1 1551.0,1398.4 1551.7,1398.0 1552.0,1398.1 1553.0,1399.3 1554.0,1401.6 1555.0,1404.4 1556.0,1407.1 1557.0,1409.5 1558.0,1411.3 1559.0,1412.6 1560.0,1413.4 1561.0,1414.0 1561.0,1416.0" fill="#ff0" stroke="none"/><polyline points="1542.0,1414.0 1543.0,1413.6 1544.0,1412.8 1545.0,1411.8 1546.0,1410.2 1547.0,1408.1 1548.0,1405.5 1549.0,1402.7 1550.0,1400.1 1551.0,1398.4 1551.7,1398.0 1552.0,1398.1 1553.0,1399.3 1554.0,1401.6 1555.0,1404.4 1556.0,1407.1 1557.0,1409.5 1558.0,1411.3 1559.0,1412.6 1560.0,1413.4 1561.0,1414.0" fill="none" stroke="#f0f" stroke-width="5.0" stroke-linejoin="round"/><polygon points="1577.0,1416.0 1577.0,1413.7 1578.0,1413.0 1579.0,1411.9 1580.0,1410.3 1581.0,1408.4 1582.0,1406.3 1583.0,1404.2 1584.0,1402.6 1585.0,1402.0 1586.0,1402.6 1587.0,1404.2 1588.0,1406.3 1589.0,1408.4 1590.0,1410.3 1591.0,1411.9 1592.0,1413.0 1593.0,1413.7 1593.0,1416.0" fill="#ff0" stroke="none"/><polyline points="1577.0,1413.7 1578.0,1413.0 1579.0,1411.9 1580.0,1410.3 1581.0,1408.4 1582.0,1406.3 1583.0,1404.2 1584.0,1402.6 1585.0,1402.0 1586.0,1402.6 1587.0,1404.2 1588.0,1406.3 1589.0,1408.4 1590.0,1410.3 1591.0,1411.9 1592.0,1413.0 1593.0,1413.7" fill="none" stroke="#f0f" stroke-width="5.0" stroke-linejoin="round"/><polygon points="1628.0,1416.0 1628.0,1414.1 1629.0,1413.9 1630.0,1413.4 1631.0,1412.7 1632.0,1411.5 1633.0,1409.8 1634.0,1407.3 1635.0,1404.0 1636.0,1400.0 1637.0,1395.7 1638.0,1391.9 1639.0,1389.4 1639.6,1389.0 1640.0,1389.2 1641.0,1391.2 1642.0,1394.8 1643.0,1399.0 1644.0,1403.0 1645.0,1406.4 1646.0,1409.0 1647.0,1410.9 1648.0,1412.1 1649.0,1412.8 1650.0,1413.3 1651.0,1413.5 1652.0,1413.6 1653.0,1413.7 1654.0,1413.7 1655.0,1413.7 1656.0,1413.7 1657.0,1413.6 1658.0,1413.5 1659.0,1413.4 1660.0,1413.2 1661.0,1413.0 1662.0,1412.6 1663.0,1412.1 1664.0,1411.4 1665.0,1410.3 1666.0,1408.7 1667.0,1406.6 1668.0,1403.7 1669.0,1400.0 1670.0,1395.5 1671.0,1390.4 1672.0,1384.9 1673.0,1379.5 1674.0,1374.9 1675.0,1371.8 1675.8,1371.0 1676.0,1371.0 1677.0,1372.6 1678.0,1376.2 1679.0,1381.0 1680.0,1386.3 1681.0,1391.5 1682.0,1396.1 1683.0,1400.1 1684.0,1403.1 1685.0,1405.3 1686.0,1406.8 1687.0,1407.7 1688.0,1408.0 1689.0,1407.9 1690.0,1407.2 1691.0,1405.8 1692.0,1403.2 1693.0,1398.3 1694.0,1389.8 1695.0,1375.8 1696.0,1355.2 1697.0,1328.0 1698.0,1297.1 1699.0,1268.4 1700.0,1251.2 1700.4,1249.5 1701.0,1253.3 1702.0,1273.7 1703.0,1303.6 1704.0,1334.3 1705.0,1360.3 1706.0,1379.7 1707.0,1392.6 1708.0,1400.4 1709.0,1404.9 1710.0,1407.5 1711.0,1409.1 1712.0,1410.1 1713.0,1410.8 1714.0,1411.4 1715.0,1411.8 1716.0,1412.2 1717.0,1412.5 1718.0,1412.7 1719.0,1412.9 1720.0,1413.1 1721.0,1413.2 1722.0,1413.3 1723.0,1413.4 1724.0,1413.4 1725.0,1413.5 1726.0,1413.4 1727.0,1413.4 1728.0,1413.2 1729.0,1413.0 1730.0,1412.6 1731.0,1411.8 1732.0,1410.3 1733.0,1407.9 1734.0,1404.2 1735.0,1399.2 1736.0,1393.3 1737.0,1387.6 1738.0,1383.7 1738.6,1383.0 1739.0,1383.3 1740.0,1386.7 1741.0,1392.2 1742.0,1398.1 1743.0,1403.4 1744.0,1407.4 1745.0,1410.0 1746.0,1411.7 1747.0,1412.6 1748.0,1413.2 1749.0,1413.4 1750.0,1413.6 1751.0,1413.7 1752.0,1413.7 1753.0,1413.8 1754.0,1413.7 1755.0,1413.6 1756.0,1413.5 1757.0,1413.3 1758.0,1413.0 1759.0,1412.4 1760.0,1411.4 1761.0,1409.7 1762.0,1407.0 1763.0,1403.1 1764.0,1397.6 1765.0,1391.0 1766.0,1383.9 1767.0,1377.6 1768.0,1373.9 1768.4,1373.6 1769.0,1374.4 1770.0,1378.7 1771.0,1385.4 1772.0,1392.5 1773.0,1399.0 1774.0,1404.1 1775.0,1407.9 1776.0,1410.4 1777.0,1411.9 1778.0,1412.9 1779.0,1413.4 1780.0,1413.8 1781.0,1414.0 1781.0,1416.0" fill="#ff0" stroke="none"/><polyline points="1628.0,1414.1 1629.0,1413.9 1630.0,1413.4 1631.0,1412.7 1632.0,1411.5 1633.0,1409.8 1634.0,1407.3 1635.0,1404.0 1636.0,1400.0 1637.0,1395.7 1638.0,1391.9 1639.0,1389.4 1639.6,1389.0 1640.0,1389.2 1641.0,1391.2 1642.0,1394.8 1643.0,1399.0 1644.0,1403.0 1645.0,1406.4 1646.0,1409.0 1647.0,1410.9 1648.0,1412.1 1649.0,1412.8 1650.0,1413.3 1651.0,1413.5 1652.0,1413.6 1653.0,1413.7 1654.0,1413.7 1655.0,1413.7 1656.0,1413.7 1657.0,1413.6 1658.0,1413.5 1659.0,1413.4 1660.0,1413.2 1661.0,1413.0 1662.0,1412.6 1663.0,1412.1 1664.0,1411.4 1665.0,1410.3 1666.0,1408.7 1667.0,1406.6 1668.0,1403.7 1669.0,1400.0 1670.0,1395.5 1671.0,1390.4 1672.0,1384.9 1673.0,1379.5 1674.0,1374.9 1675.0,1371.8 1675.8,1371.0 1676.0,1371.0 1677.0,1372.6 1678.0,1376.2 1679.0,1381.0 1680.0,1386.3 1681.0,1391.5 1682.0,1396.1 1683.0,1400.1 1684.0,1403.1 1685.0,1405.3 1686.0,1406.8 1687.0,1407.7 1688.0,1408.0 1689.0,1407.9 1690.0,1407.2 1691.0,1405.8 1692.0,1403.2 1693.0,1398.3 1694.0,1389.8 1695.0,1375.8 1696.0,1355.2 1697.0,1328.0 1698.0,1297.1 1699.0,1268.4 1700.0,1251.2 1700.4,1249.5 1701.0,1253.3 1702.0,1273.7 1703.0,1303.6 1704.0,1334.3 1705.0,1360.3 1706.0,1379.7 1707.0,1392.6 1708.0,1400.4 1709.0,1404.9 1710.0,1407.5 1711.0,1409.1 1712.0,1410.1 1713.0,1410.8 1714.0,1411.4 1715.0,1411.8 1716.0,1412.2 1717.0,1412.5 1718.0,1412.7 1719.0,1412.9 1720.0,1413.1 1721.0,1413.2 1722.0,1413.3 1723.0,1413.4 1724.0,1413.4 1725.0,1413.5 1726.0,1413.4 1727.0,1413.4 1728.0,1413.2 1729.0,1413.0 1730.0,1412.6 1731.0,1411.8 1732.0,1410.3 1733.0,1407.9 1734.0,1404.2 1735.0,1399.2 1736.0,1393.3 1737.0,1387.6 1738.0,1383.7 1738.6,1383.0 1739.0,1383.3 1740.0,1386.7 1741.0,1392.2 1742.0,1398.1 1743.0,1403.4 1744.0,1407.4 1745.0,1410.0 1746.0,1411.7 1747.0,1412.6 1748.0,1413.2 1749.0,1413.4 1750.0,1413.6 1751.0,1413.7 1752.0,1413.7 1753.0,1413.8 1754.0,1413.7 1755.0,1413.6 1756.0,1413.5 1757.0,1413.3 1758.0,1413.0 1759.0,1412.4 1760.0,1411.4 1761.0,1409.7 1762.0,1407.0 1763.0,1403.1 1764.0,1397.6 1765.0,1391.0 1766.0,1383.9 1767.0,1377.6 1768.0,1373.9 1768.4,1373.6 1769.0,1374.4 1770.0,1378.7 1771.0,1385.4 1772.0,1392.5 1773.0,1399.0 1774.0,1404.1 1775.0,1407.9 1776.0,1410.4 1777.0,1411.9 1778.0,1412.9 1779.0,1413.4 1780.0,1413.8 1781.0,1414.0" fill="none" stroke="#f0f" stroke-width="5.0" stroke-linejoin="round"/><polygon points="1832.0,1416.0 1832.0,1414.1 1833.0,1414.0 1834.0,1413.7 1835.0,1413.5 1836.0,1413.1 1837.0,1412.4 1838.0,1411.4 1839.0,1409.8 1840.0,1407.1 1841.0,1403.0 1842.0,1397.0 1843.0,1389.3 1844.0,1380.3 1845.0,1371.3 1846.0,1364.2 1847.0,1361.4 1848.0,1364.1 1849.0,1371.0 1850.0,1380.0 1851.0,1388.8 1852.0,1396.4 1853.0,1402.2 1854.0,1406.2 1855.0,1408.6 1856.0,1410.1 1857.0,1410.8 1858.0,1411.0 1859.0,1410.9 1860.0,1410.4 1861.0,1409.3 1862.0,1407.3 1863.0,1403.9 1864.0,1398.6 1865.0,1390.9 1866.0,1380.9 1867.0,1369.1 1868.0,1357.3 1869.0,1348.0 1870.0,1344.5 1871.0,1348.1 1872.0,1357.5 1873.0,1369.4 1874.0,1381.2 1875.0,1391.4 1876.0,1399.2 1877.0,1404.7 1878.0,1408.2 1879.0,1410.4 1880.0,1411.7 1881.0,1412.5 1882.0,1413.0 1883.0,1413.4 1884.0,1413.7 1885.0,1413.9 1886.0,1414.1 1886.0,1416.0" fill="#ff0" stroke="none"/><polyline points="1832.0,1414.1 1833.0,1414.0 1834.0,1413.7 1835.0,1413.5 1836.0,1413.1 1837.0,1412.4 1838.0,1411.4 1839.0,1409.8 1840.0,1407.1 1841.0,1403.0 1842.0,1397.0 1843.0,1389.3 1844.0,1380.3 1845.0,1371.3 1846.0,1364.2 1847.0,1361.4 1848.0,1364.1 1849.0,1371.0 1850.0,1380.0 1851.0,1388.8 1852.0,1396.4 1853.0,1402.2 1854.0,1406.2 1855.0,1408.6 1856.0,1410.1 1857.0,1410.8 1858.0,1411.0 1859.0,1410.9 1860.0,1410.4 1861.0,1409.3 1862.0,1407.3 1863.0,1403.9 1864.0,1398.6 1865.0,1390.9 1866.0,1380.9 1867.0,1369.1 1868.0,1357.3 1869.0,1348.0 1870.0,1344.5 1871.0,1348.1 1872.0,1357.5 1873.0,1369.4 1874.0,1381.2 1875.0,1391.4 1876.0,1399.2 1877.0,1404.7 1878.0,1408.2 1879.0,1410.4 1880.0,1411.7 1881.0,1412.5 1882.0,1413.0 1883.0,1413.4 1884.0,1413.7 1885.0,1413.9 1886.0,1414.1" fill="none" stroke="#f0f" stroke-width="5.0" stroke-linejoin="round"/><polygon points="2027.0,1416.0 2027.0,1413.9 2028.0,1413.5 2029.0,1413.0 2030.0,1412.0 2031.0,1410.5 2032.0,1408.0 2033.0,1404.2 2034.0,1399.0 2035.0,1392.5 2036.0,1385.4 2037.0,1378.7 2038.0,1374.4 2038.6,1373.6 2039.0,1373.9 2040.0,1377.6 2041.0,1383.9 2042.0,1391.1 2043.0,1397.7 2044.0,1403.1 2045.0,1407.2 2046.0,1409.8 2047.0,1411.5 2048.0,1412.6 2049.0,1413.2 2050.0,1413.5 2051.0,1413.7 2052.0,1413.9 2053.0,1414.0 2054.0,1414.1 2055.0,1414.2 2055.0,1416.0" fill="#ff0" stroke="none"/><polyline points="2027.0,1413.9 2028.0,1413.5 2029.0,1413.0 2030.0,1412.0 2031.0,1410.5 2032.0,1408.0 2033.0,1404.2 2034.0,1399.0 2035.0,1392.5 2036.0,1385.4 2037.0,1378.7 2038.0,1374.4 2038.6,1373.6 2039.0,1373.9 2040.0,1377.6 2041.0,1383.9 2042.0,1391.1 2043.0,1397.7 2044.0,1403.1 2045.0,1407.2 2046.0,1409.8 2047.0,1411.5 2048.0,1412.6 2049.0,1413.2 2050.0,1413.5 2051.0,1413.7 2052.0,1413.9 2053.0,1414.0 2054.0,1414.1 2055.0,1414.2" fill="none" stroke="#f0f" stroke-width="5.0" stroke-linejoin="round"/><polygon points="2062.0,1416.0 2062.0,1414.1 2063.0,1414.1 2064.0,1414.0 2065.0,1413.9 2066.0,1413.8 2067.0,1413.6 2068.0,1413.4 2069.0,1413.2 2070.0,1412.9 2071.0,1412.5 2072.0,1411.9 2073.0,1411.0 2074.0,1409.8 2075.0,1408.0 2076.0,1405.5 2077.0,1402.2 2078.0,1397.8 2079.0,1392.4 2080.0,1386.1 2081.0,1379.0 2082.0,1371.8 2083.0,1365.2 2084.0,1360.0 2085.0,1357.3 2085.4,1357.0 2086.0,1357.6 2087.0,1360.9 2088.0,1366.4 2089.0,1373.2 2090.0,1380.4 2091.0,1387.4 2092.0,1393.5 2093.0,1398.7 2094.0,1402.9 2095.0,1406.0 2096.0,1408.3 2097.0,1410.0 2098.0,1411.1 2099.0,1411.9 2100.0,1412.5 2101.0,1412.8 2102.0,1413.1 2103.0,1413.3 2104.0,1413.5 2105.0,1413.6 2106.0,1413.7 2107.0,1413.8 2108.0,1413.8 2109.0,1413.8 2110.0,1413.9 2111.0,1413.9 2112.0,1413.9 2113.0,1413.8 2114.0,1413.8 2115.0,1413.7 2116.0,1413.6 2117.0,1413.5 2118.0,1413.3 2119.0,1413.0 2120.0,1412.5 2121.0,1411.9 2122.0,1410.9 2123.0,1409.6 2124.0,1407.7 2125.0,1405.2 2126.0,1402.0 2127.0,1398.1 2128.0,1393.6 2129.0,1388.8 2130.0,1384.1 2131.0,1379.9 2132.0,1377.0 2133.0,1376.0 2134.0,1377.1 2135.0,1380.0 2136.0,1384.1 2137.0,1388.9 2138.0,1393.7 2139.0,1398.2 2140.0,1402.1 2141.0,1405.3 2142.0,1407.8 2143.0,1409.7 2144.0,1411.1 2145.0,1412.0 2146.0,1412.7 2147.0,1413.2 2148.0,1413.5 2149.0,1413.7 2150.0,1413.9 2151.0,1414.0 2152.0,1414.1 2152.0,1416.0" fill="#ff0" stroke="none"/><polyline points="2062.0,1414.1 2063.0,1414.1 2064.0,1414.0 2065.0,1413.9 2066.0,1413.8 2067.0,1413.6 2068.0,1413.4 2069.0,1413.2 2070.0,1412.9 2071.0,1412.5 2072.0,1411.9 2073.0,1411.0 2074.0,1409.8 2075.0,1408.0 2076.0,1405.5 2077.0,1402.2 2078.0,1397.8 2079.0,1392.4 2080.0,1386.1 2081.0,1379.0 2082.0,1371.8 2083.0,1365.2 2084.0,1360.0 2085.0,1357.3 2085.4,1357.0 2086.0,1357.6 2087.0,1360.9 2088.0,1366.4 2089.0,1373.2 2090.0,1380.4 2091.0,1387.4 2092.0,1393.5 2093.0,1398.7 2094.0,1402.9 2095.0,1406.0 2096.0,1408.3 2097.0,1410.0 2098.0,1411.1 2099.0,1411.9 2100.0,1412.5 2101.0,1412.8 2102.0,1413.1 2103.0,1413.3 2104.0,1413.5 2105.0,1413.6 2106.0,1413.7 2107.0,1413.8 2108.0,1413.8 2109.0,1413.8 2110.0,1413.9 2111.0,1413.9 2112.0,1413.9 2113.0,1413.8 2114.0,1413.8 2115.0,1413.7 2116.0,1413.6 2117.0,1413.5 2118.0,1413.3 2119.0,1413.0 2120.0,1412.5 2121.0,1411.9 2122.0,1410.9 2123.0,1409.6 2124.0,1407.7 2125.0,1405.2 2126.0,1402.0 2127.0,1398.1 2128.0,1393.6 2129.0,1388.8 2130.0,1384.1 2131.0,1379.9 2132.0,1377.0 2133.0,1376.0 2134.0,1377.1 2135.0,1380.0 2136.0,1384.1 2137.0,1388.9 2138.0,1393.7 2139.0,1398.2 2140.0,1402.1 2141.0,1405.3 2142.0,1407.8 2143.0,1409.7 2144.0,1411.1 2145.0,1412.0 2146.0,1412.7 2147.0,1413.2 2148.0,1413.5 2149.0,1413.7 2150.0,1413.9 2151.0,1414.0 2152.0,1414.1" fill="none" stroke="#f0f" stroke-width="5.0" stroke-linejoin="round"/><polygon points="2178.0,1416.0 2178.0,1414.1 2179.0,1414.0 2180.0,1413.9 2181.0,1413.8 2182.0,1413.7 2183.0,1413.6 2184.0,1413.4 2185.0,1413.2 2186.0,1412.9 2187.0,1412.6 2188.0,1412.2 2189.0,1411.6 2190.0,1410.8 2191.0,1409.7 2192.0,1408.0 2193.0,1405.5 2194.0,1401.9 2195.0,1397.0 2196.0,1390.7 2197.0,1382.7 2198.0,1373.4 2199.0,1363.2 2200.0,1352.9 2201.0,1343.8 2202.0,1337.3 2203.0,1335.0 2204.0,1337.3 2205.0,1343.8 2206.0,1352.9 2207.0,1363.2 2208.0,1373.4 2209.0,1382.7 2210.0,1390.6 2211.0,1397.0 2212.0,1401.9 2213.0,1405.4 2214.0,1407.9 2215.0,1409.6 2216.0,1410.8 2217.0,1411.6 2218.0,1412.1 2219.0,1412.5 2220.0,1412.8 2221.0,1413.1 2222.0,1413.3 2223.0,1413.5 2224.0,1413.6 2225.0,1413.7 2226.0,1413.8 2227.0,1413.9 2228.0,1414.0 2229.0,1414.1 2230.0,1414.1 2230.0,1416.0" fill="#ff0" stroke="none"/><polyline points="2178.0,1414.1 2179.0,1414.0 2180.0,1413.9 2181.0,1413.8 2182.0,1413.7 2183.0,1413.6 2184.0,1413.4 2185.0,1413.2 2186.0,1412.9 2187.0,1412.6 2188.0,1412.2 2189.0,1411.6 2190.0,1410.8 2191.0,1409.7 2192.0,1408.0 2193.0,1405.5 2194.0,1401.9 2195.0,1397.0 2196.0,1390.7 2197.0,1382.7 2198.0,1373.4 2199.0,1363.2 2200.0,1352.9 2201.0,1343.8 2202.0,1337.3 2203.0,1335.0 2204.0,1337.3 2205.0,1343.8 2206.0,1352.9 2207.0,1363.2 2208.0,1373.4 2209.0,1382.7 2210.0,1390.6 2211.0,1397.0 2212.0,1401.9 2213.0,1405.4 2214.0,1407.9 2215.0,1409.6 2216.0,1410.8 2217.0,1411.6 2218.0,1412.1 2219.0,1412.5 2220.0,1412.8 2221.0,1413.1 2222.0,1413.3 2223.0,1413.5 2224.0,1413.6 2225.0,1413.7 2226.0,1413.8 2227.0,1413.9 2228.0,1414.0 2229.0,1414.1 2230.0,1414.1" fill="none" stroke="#f0f" stroke-width="5.0" stroke-linejoin="round"/><polygon points="2246.0,1416.0 2246.0,1414.1 2247.0,1414.1 2248.0,1414.0 2249.0,1413.9 2250.0,1413.8 2251.0,1413.7 2252.0,1413.6 2253.0,1413.5 2254.0,1413.3 2255.0,1413.1 2256.0,1412.9 2257.0,1412.6 2258.0,1412.3 2259.0,1411.9 2260.0,1411.4 2261.0,1410.7 2262.0,1409.7 2263.0,1408.1 2264.0,1405.7 2265.0,1401.9 2266.0,1396.3 2267.0,1388.2 2268.0,1377.4 2269.0,1363.9 2270.0,1348.6 2271.0,1332.8 2272.0,1319.1 2273.0,1310.5 2273.6,1309.0 2274.0,1309.7 2275.0,1316.8 2276.0,1329.6 2277.0,1345.1 2278.0,1360.6 2279.0,1374.4 2280.0,1385.7 2281.0,1394.1 2282.0,1400.1 2283.0,1404.0 2284.0,1406.4 2285.0,1407.8 2286.0,1408.4 2287.0,1408.5 2288.0,1407.8 2289.0,1406.3 2290.0,1403.7 2291.0,1399.6 2292.0,1393.8 2293.0,1386.6 2294.0,1378.4 2295.0,1370.4 2296.0,1364.3 2297.0,1362.0 2298.0,1364.5 2299.0,1370.8 2300.0,1379.1 2301.0,1387.5 2302.0,1395.0 2303.0,1401.1 2304.0,1405.5 2305.0,1408.5 2306.0,1410.5 2307.0,1411.7 2308.0,1412.5 2309.0,1413.0 2309.0,1416.0" fill="#ff0" stroke="none"/><polyline points="2246.0,1414.1 2247.0,1414.1 2248.0,1414.0 2249.0,1413.9 2250.0,1413.8 2251.0,1413.7 2252.0,1413.6 2253.0,1413.5 2254.0,1413.3 2255.0,1413.1 2256.0,1412.9 2257.0,1412.6 2258.0,1412.3 2259.0,1411.9 2260.0,1411.4 2261.0,1410.7 2262.0,1409.7 2263.0,1408.1 2264.0,1405.7 2265.0,1401.9 2266.0,1396.3 2267.0,1388.2 2268.0,1377.4 2269.0,1363.9 2270.0,1348.6 2271.0,1332.8 2272.0,1319.1 2273.0,1310.5 2273.6,1309.0 2274.0,1309.7 2275.0,1316.8 2276.0,1329.6 2277.0,1345.1 2278.0,1360.6 2279.0,1374.4 2280.0,1385.7 2281.0,1394.1 2282.0,1400.1 2283.0,1404.0 2284.0,1406.4 2285.0,1407.8 2286.0,1408.4 2287.0,1408.5 2288.0,1407.8 2289.0,1406.3 2290.0,1403.7 2291.0,1399.6 2292.0,1393.8 2293.0,1386.6 2294.0,1378.4 2295.0,1370.4 2296.0,1364.3 2297.0,1362.0 2298.0,1364.5 2299.0,1370.8 2300.0,1379.1 2301.0,1387.5 2302.0,1395.0 2303.0,1401.1 2304.0,1405.5 2305.0,1408.5 2306.0,1410.5 2307.0,1411.7 2308.0,1412.5 2309.0,1413.0" fill="none" stroke="#f0f" stroke-width="5.0" stroke-linejoin="round"/><polygon points="318.0,1418.0 318.0,1415.7 319.0,1415.7 320.0,1415.7 321.0,1415.7 322.0,1415.7 323.0,1415.7 324.0,1415.7 325.0,1415.7 326.0,1415.7 327.0,1415.7 328.0,1415.7 329.0,1415.7 330.0,1415.7 331.0,1415.7 332.0,1415.7 333.0,1415.7 334.0,1415.7 335.0,1415.7 336.0,1415.7 337.0,1415.7 338.0,1415.7 339.0,1415.7 340.0,1415.7 341.0,1415.7 342.0,1415.7 343.0,1415.7 344.0,1415.7 345.0,1415.7 346.0,1415.7 347.0,1415.7 348.0,1415.7 349.0,1415.7 350.0,1415.7 351.0,1415.7 352.0,1415.7 353.0,1415.7 354.0,1415.7 355.0,1415.7 356.0,1415.7 357.0,1415.7 358.0,1415.7 359.0,1415.7 360.0,1415.7 361.0,1415.7 362.0,1415.7 363.0,1415.7 364.0,1415.7 365.0,1415.7 366.0,1415.7 367.0,1415.7 368.0,1415.7 369.0,1415.7 370.0,1415.7 371.0,1415.7 372.0,1415.7 373.0,1415.7 374.0,1415.7 375.0,1415.7 376.0,1415.7 377.0,1415.7 378.0,1415.7 379.0,1415.7 380.0,1415.7 381.0,1415.7 382.0,1415.7 383.0,1415.7 384.0,1415.7 385.0,1415.7 386.0,1415.7 387.0,1415.7 388.0,1415.7 389.0,1415.7 390.0,1415.7 391.0,1415.7 392.0,1415.7 393.0,1415.7 394.0,1415.7 395.0,1415.7 396.0,1415.7 397.0,1415.7 398.0,1415.7 399.0,1415.7 400.0,1415.7 401.0,1415.7 402.0,1415.7 403.0,1415.7 404.0,1415.7 405.0,1415.7 406.0,1415.7 407.0,1415.7 408.0,1415.7 409.0,1415.7 410.0,1415.7 411.0,1415.7 412.0,1415.7 413.0,1415.7 414.0,1415.7 415.0,1415.7 416.0,1415.7 417.0,1415.7 418.0,1415.7 419.0,1415.7 420.0,1415.7 421.0,1415.7 422.0,1415.7 423.0,1415.7 424.0,1415.7 425.0,1415.7 426.0,1415.7 427.0,1415.7 428.0,1415.7 429.0,1415.7 430.0,1415.7 431.0,1415.7 432.0,1415.7 433.0,1415.7 434.0,1415.7 435.0,1415.7 436.0,1415.7 437.0,1415.7 438.0,1415.7 439.0,1415.7 440.0,1415.7 441.0,1415.7 442.0,1415.7 443.0,1415.7 444.0,1415.7 445.0,1415.7 446.0,1415.7 447.0,1415.7 448.0,1415.7 449.0,1415.7 450.0,1415.7 451.0,1415.7 452.0,1415.7 453.0,1415.7 454.0,1415.7 455.0,1415.7 456.0,1415.7 457.0,1415.7 458.0,1415.7 459.0,1415.7 460.0,1415.7 461.0,1415.7 462.0,1415.7 463.0,1415.7 464.0,1415.7 465.0,1415.7 466.0,1415.7 467.0,1415.7 468.0,1415.7 469.0,1415.7 470.0,1415.7 471.0,1415.7 472.0,1415.7 473.0,1415.7 474.0,1415.7 475.0,1415.7 476.0,1415.7 477.0,1415.7 478.0,1415.7 479.0,1415.7 480.0,1415.7 481.0,1415.7 482.0,1415.7 483.0,1415.7 484.0,1415.7 485.0,1415.7 486.0,1415.7 487.0,1415.7 488.0,1415.7 489.0,1415.7 490.0,1415.7 491.0,1415.7 492.0,1415.7 493.0,1415.7 494.0,1415.7 495.0,1415.7 496.0,1415.7 497.0,1415.7 498.0,1415.7 499.0,1415.7 500.0,1415.7 501.0,1415.7 502.0,1415.7 503.0,1415.7 504.0,1415.7 505.0,1415.7 506.0,1415.7 507.0,1415.7 508.0,1415.7 509.0,1415.7 510.0,1415.7 511.0,1415.7 512.0,1415.7 513.0,1415.7 514.0,1415.7 515.0,1415.7 516.0,1415.7 517.0,1415.7 518.0,1415.7 519.0,1415.7 520.0,1415.7 521.0,1415.7 522.0,1415.7 523.0,1415.7 524.0,1415.7 525.0,1415.7 526.0,1415.7 527.0,1415.7 528.0,1415.7 529.0,1415.7 530.0,1415.7 531.0,1415.7 532.0,1415.7 533.0,1415.7 534.0,1415.7 535.0,1415.7 536.0,1415.7 537.0,1415.7 538.0,1415.7 539.0,1415.7 540.0,1415.7 541.0,1415.7 542.0,1415.7 543.0,1415.7 544.0,1415.7 545.0,1415.7 546.0,1415.7 547.0,1415.7 548.0,1415.7 549.0,1415.7 550.0,1415.7 551.0,1415.7 552.0,1415.7 553.0,1415.7 554.0,1415.7 555.0,1415.7 556.0,1415.7 557.0,1415.7 558.0,1415.7 559.0,1415.7 560.0,1415.7 561.0,1415.7 562.0,1415.7 563.0,1415.7 564.0,1415.7 565.0,1415.7 566.0,1415.7 567.0,1415.7 568.0,1415.7 569.0,1415.7 570.0,1415.7 571.0,1415.7 572.0,1415.7 573.0,1415.7 574.0,1415.7 575.0,1415.7 576.0,1415.7 577.0,1415.7 578.0,1415.7 579.0,1415.7 580.0,1415.7 581.0,1415.7 582.0,1415.7 583.0,1415.7 584.0,1415.7 585.0,1415.7 586.0,1415.7 587.0,1415.7 588.0,1415.7 589.0,1415.7 590.0,1415.7 591.0,1415.7 592.0,1415.7 593.0,1415.7 594.0,1415.7 595.0,1415.7 596.0,1415.7 597.0,1415.7 598.0,1415.7 599.0,1415.7 600.0,1415.7 601.0,1415.7 602.0,1415.7 603.0,1415.7 604.0,1415.7 605.0,1415.7 606.0,1415.7 607.0,1415.7 608.0,1415.7 609.0,1415.7 610.0,1415.7 611.0,1415.7 612.0,1415.7 613.0,1415.7 614.0,1415.7 615.0,1415.7 616.0,1415.7 617.0,1415.7 618.0,1415.7 619.0,1415.7 620.0,1415.7 621.0,1415.7 622.0,1415.7 623.0,1415.7 624.0,1415.7 625.0,1415.7 626.0,1415.7 627.0,1415.7 628.0,1415.7 629.0,1415.7 630.0,1415.7 631.0,1415.7 632.0,1415.7 633.0,1415.7 634.0,1415.7 635.0,1415.7 636.0,1415.7 637.0,1415.7 638.0,1415.7 639.0,1415.7 640.0,1415.7 641.0,1415.7 642.0,1415.7 643.0,1415.7 644.0,1415.7 645.0,1415.7 646.0,1415.7 647.0,1415.7 648.0,1415.7 649.0,1415.7 650.0,1415.7 651.0,1415.7 652.0,1415.7 653.0,1415.7 654.0,1415.7 655.0,1415.7 656.0,1415.7 657.0,1415.7 658.0,1415.7 659.0,1415.7 660.0,1415.7 661.0,1415.7 662.0,1415.7 663.0,1415.7 664.0,1415.7 665.0,1415.7 666.0,1415.7 667.0,1415.7 668.0,1415.7 669.0,1415.7 670.0,1415.7 671.0,1415.7 672.0,1415.7 673.0,1415.7 674.0,1415.7 675.0,1415.7 676.0,1415.7 677.0,1415.7 678.0,1415.7 679.0,1415.7 680.0,1415.7 681.0,1415.7 682.0,1415.7 683.0,1415.7 684.0,1415.7 685.0,1415.7 686.0,1415.7 687.0,1415.7 688.0,1415.7 689.0,1415.7 690.0,1415.7 691.0,1415.7 692.0,1415.7 693.0,1415.7 694.0,1415.7 695.0,1415.7 696.0,1415.7 697.0,1415.7 698.0,1415.7 699.0,1415.7 700.0,1415.7 701.0,1415.7 702.0,1415.7 703.0,1415.7 704.0,1415.7 705.0,1415.7 706.0,1415.7 707.0,1415.7 708.0,1415.7 709.0,1415.7 710.0,1415.7 711.0,1415.7 712.0,1415.7 713.0,1415.7 714.0,1415.7 715.0,1415.7 716.0,1415.7 717.0,1415.7 718.0,1415.7 719.0,1415.7 720.0,1415.7 721.0,1415.7 722.0,1415.7 723.0,1415.7 724.0,1415.7 725.0,1415.7 726.0,1415.7 727.0,1415.7 728.0,1415.7 729.0,1415.7 730.0,1415.7 731.0,1415.7 732.0,1415.7 733.0,1415.7 734.0,1415.7 735.0,1415.7 736.0,1415.7 737.0,1415.7 738.0,1415.7 739.0,1415.7 740.0,1415.7 741.0,1415.7 742.0,1415.7 743.0,1415.7 744.0,1415.7 745.0,1415.7 746.0,1415.7 747.0,1415.7 748.0,1415.7 749.0,1415.7 750.0,1415.7 751.0,1415.7 752.0,1415.7 753.0,1415.7 754.0,1415.7 755.0,1415.7 756.0,1415.7 757.0,1415.7 758.0,1415.7 759.0,1415.7 760.0,1415.7 761.0,1415.7 762.0,1415.7 763.0,1415.7 764.0,1415.7 765.0,1415.7 766.0,1415.7 767.0,1415.7 768.0,1415.7 769.0,1415.7 770.0,1415.7 771.0,1415.7 772.0,1415.7 773.0,1415.7 774.0,1415.7 775.0,1415.7 776.0,1415.7 777.0,1415.7 778.0,1415.7 779.0,1415.7 780.0,1415.7 781.0,1415.7 782.0,1415.7 783.0,1415.7 784.0,1415.7 785.0,1415.7 786.0,1415.7 787.0,1415.7 788.0,1415.7 789.0,1415.7 790.0,1415.7 791.0,1415.7 792.0,1415.7 793.0,1415.7 794.0,1415.7 795.0,1415.7 796.0,1415.7 797.0,1415.7 798.0,1415.7 799.0,1415.7 800.0,1415.7 801.0,1415.7 802.0,1415.7 803.0,1415.7 804.0,1415.7 805.0,1415.7 806.0,1415.7 807.0,1415.7 808.0,1415.7 809.0,1415.7 810.0,1415.7 811.0,1415.7 812.0,1415.7 813.0,1415.7 814.0,1415.7 815.0,1415.7 816.0,1415.7 817.0,1415.7 818.0,1415.7 819.0,1415.7 820.0,1415.7 821.0,1415.7 822.0,1415.7 823.0,1415.7 824.0,1415.7 825.0,1415.7 826.0,1415.7 827.0,1415.7 828.0,1415.7 829.0,1415.7 830.0,1415.7 831.0,1415.7 832.0,1415.7 833.0,1415.7 834.0,1415.7 835.0,1415.7 836.0,1415.7 837.0,1415.7 838.0,1415.7 839.0,1415.7 840.0,1415.7 841.0,1415.7 842.0,1415.7 843.0,1415.7 844.0,1415.7 845.0,1415.7 846.0,1415.7 847.0,1415.7 848.0,1415.7 849.0,1415.7 850.0,1415.7 851.0,1415.7 852.0,1415.7 853.0,1415.7 854.0,1415.7 855.0,1415.7 856.0,1415.7 857.0,1415.7 858.0,1415.7 859.0,1415.7 860.0,1415.7 861.0,1415.7 862.0,1415.7 863.0,1415.7 864.0,1415.7 865.0,1415.7 866.0,1415.7 867.0,1415.7 868.0,1415.7 869.0,1415.7 870.0,1415.7 871.0,1415.7 872.0,1415.7 873.0,1415.7 874.0,1415.7 875.0,1415.7 876.0,1415.7 877.0,1415.7 878.0,1415.7 879.0,1415.7 880.0,1415.7 881.0,1415.7 882.0,1415.7 883.0,1415.7 884.0,1415.7 885.0,1415.7 886.0,1415.7 887.0,1415.7 888.0,1415.7 889.0,1415.7 890.0,1415.7 891.0,1415.7 892.0,1415.7 893.0,1415.7 894.0,1415.7 895.0,1415.7 896.0,1415.7 897.0,1415.7 898.0,1415.7 899.0,1415.7 900.0,1415.7 901.0,1415.7 902.0,1415.7 903.0,1415.7 904.0,1415.7 905.0,1415.7 906.0,1415.7 907.0,1415.7 908.0,1415.7 909.0,1415.7 910.0,1415.7 911.0,1415.7 912.0,1415.7 913.0,1415.7 914.0,1415.7 915.0,1415.7 916.0,1415.7 917.0,1415.7 918.0,1415.7 919.0,1415.7 920.0,1415.7 921.0,1415.7 922.0,1415.7 923.0,1415.7 924.0,1415.7 925.0,1415.7 926.0,1415.7 927.0,1415.7 928.0,1415.7 929.0,1415.7 930.0,1415.7 931.0,1415.7 932.0,1415.7 933.0,1415.7 934.0,1415.7 935.0,1415.7 936.0,1415.7 937.0,1415.7 938.0,1415.7 939.0,1415.7 940.0,1415.7 941.0,1415.7 942.0,1415.7 943.0,1415.7 944.0,1415.7 945.0,1415.7 946.0,1415.7 947.0,1415.7 948.0,1415.7 949.0,1415.7 950.0,1415.7 951.0,1415.7 952.0,1415.7 953.0,1415.7 954.0,1415.7 955.0,1415.7 956.0,1415.7 957.0,1415.7 958.0,1415.7 959.0,1415.7 960.0,1415.7 961.0,1415.7 962.0,1415.7 963.0,1415.7 964.0,1415.7 965.0,1415.7 966.0,1415.7 967.0,1415.7 968.0,1415.7 969.0,1415.7 970.0,1415.7 971.0,1415.7 972.0,1415.7 973.0,1415.7 974.0,1415.7 975.0,1415.7 976.0,1415.7 977.0,1415.7 978.0,1415.7 979.0,1415.7 980.0,1415.7 981.0,1415.7 982.0,1415.7 983.0,1415.7 984.0,1415.7 985.0,1415.7 986.0,1415.7 987.0,1415.7 988.0,1415.7 989.0,1415.7 990.0,1415.7 991.0,1415.7 992.0,1415.7 993.0,1415.7 994.0,1415.7 995.0,1415.7 996.0,1415.7 997.0,1415.7 998.0,1415.7 999.0,1415.7 1000.0,1415.7 1001.0,1415.7 1002.0,1415.7 1003.0,1415.7 1004.0,1415.7 1005.0,1415.7 1006.0,1415.7 1007.0,1415.7 1008.0,1415.7 1009.0,1415.7 1010.0,1415.7 1011.0,1415.7 1012.0,1415.7 1013.0,1415.7 1014.0,1415.7 1015.0,1415.7 1016.0,1415.7 1017.0,1415.7 1018.0,1415.7 1019.0,1415.7 1020.0,1415.7 1021.0,1415.7 1022.0,1415.7 1023.0,1415.7 1024.0,1415.7 1025.0,1415.7 1026.0,1415.7 1027.0,1415.7 1028.0,1415.7 1029.0,1415.7 1030.0,1415.7 1031.0,1415.7 1032.0,1415.7 1033.0,1415.7 1034.0,1415.7 1035.0,1415.7 1036.0,1415.7 1037.0,1415.7 1038.0,1415.7 1039.0,1415.7 1040.0,1415.7 1041.0,1415.7 1042.0,1415.7 1043.0,1415.7 1044.0,1415.7 1045.0,1415.7 1046.0,1415.7 1047.0,1415.7 1048.0,1415.7 1049.0,1415.7 1050.0,1415.7 1051.0,1415.7 1052.0,1415.7 1053.0,1415.7 1054.0,1415.7 1055.0,1415.7 1056.0,1415.7 1057.0,1415.7 1058.0,1415.7 1059.0,1415.7 1060.0,1415.7 1061.0,1415.7 1062.0,1415.7 1063.0,1415.7 1064.0,1415.7 1065.0,1415.7 1066.0,1415.7 1067.0,1415.7 1068.0,1415.7 1069.0,1415.7 1070.0,1415.7 1071.0,1415.7 1072.0,1415.7 1073.0,1415.7 1074.0,1415.7 1075.0,1415.7 1076.0,1415.7 1077.0,1415.7 1078.0,1415.7 1079.0,1415.7 1080.0,1415.7 1081.0,1415.7 1082.0,1415.7 1083.0,1415.7 1084.0,1415.7 1085.0,1415.7 1086.0,1415.7 1087.0,1415.7 1088.0,1415.7 1089.0,1415.7 1090.0,1415.7 1091.0,1415.7 1092.0,1415.7 1093.0,1415.7 1094.0,1415.7 1095.0,1415.7 1096.0,1415.7 1097.0,1415.7 1098.0,1415.7 1099.0,1415.7 1100.0,1415.7 1101.0,1415.7 1102.0,1415.7 1103.0,1415.7 1104.0,1415.7 1105.0,1415.7 1106.0,1415.7 1107.0,1415.7 1108.0,1415.7 1109.0,1415.7 1110.0,1415.7 1111.0,1415.7 1112.0,1415.7 1113.0,1415.7 1114.0,1415.7 1115.0,1415.7 1116.0,1415.7 1117.0,1415.7 1118.0,1415.7 1119.0,1415.7 1120.0,1415.7 1121.0,1415.7 1122.0,1415.7 1123.0,1415.7 1124.0,1415.7 1125.0,1415.7 1126.0,1415.7 1127.0,1415.7 1128.0,1415.7 1129.0,1415.7 1130.0,1415.7 1131.0,1415.7 1132.0,1415.7 1133.0,1415.7 1134.0,1415.7 1135.0,1415.7 1136.0,1415.7 1137.0,1415.7 1138.0,1415.7 1139.0,1415.7 1140.0,1415.7 1141.0,1415.7 1142.0,1415.7 1143.0,1415.7 1144.0,1415.7 1145.0,1415.7 1146.0,1415.7 1147.0,1415.7 1148.0,1415.7 1149.0,1415.7 1150.0,1415.7 1151.0,1415.7 1152.0,1415.7 1153.0,1415.7 1154.0,1415.7 1155.0,1415.7 1156.0,1415.7 1157.0,1415.7 1158.0,1415.7 1159.0,1415.7 1160.0,1415.7 1161.0,1415.7 1162.0,1415.7 1163.0,1415.7 1164.0,1415.7 1165.0,1415.7 1166.0,1415.7 1167.0,1415.7 1168.0,1415.7 1169.0,1415.7 1170.0,1415.7 1171.0,1415.7 1172.0,1415.7 1173.0,1415.7 1174.0,1415.7 1175.0,1415.7 1176.0,1415.7 1177.0,1415.7 1178.0,1415.7 1179.0,1415.7 1180.0,1415.7 1181.0,1415.7 1182.0,1415.7 1183.0,1415.7 1184.0,1415.7 1185.0,1415.7 1186.0,1415.7 1187.0,1415.7 1188.0,1415.7 1189.0,1415.7 1190.0,1415.7 1191.0,1415.7 1192.0,1415.7 1193.0,1415.7 1194.0,1415.7 1195.0,1415.7 1196.0,1415.7 1197.0,1415.7 1198.0,1415.7 1199.0,1415.7 1200.0,1415.7 1201.0,1415.7 1202.0,1415.7 1203.0,1415.7 1204.0,1415.7 1205.0,1415.7 1206.0,1415.7 1207.0,1415.7 1208.0,1415.7 1209.0,1415.7 1210.0,1415.7 1211.0,1415.7 1212.0,1415.7 1213.0,1415.7 1214.0,1415.7 1215.0,1415.7 1216.0,1415.7 1217.0,1415.7 1218.0,1415.7 1219.0,1415.7 1220.0,1415.7 1221.0,1415.7 1222.0,1415.7 1223.0,1415.7 1224.0,1415.7 1225.0,1415.7 1226.0,1415.7 1227.0,1415.7 1228.0,1415.7 1229.0,1415.7 1230.0,1415.7 1231.0,1415.7 1232.0,1415.7 1233.0,1415.7 1234.0,1415.7 1235.0,1415.7 1236.0,1415.7 1237.0,1415.7 1238.0,1415.7 1239.0,1415.7 1240.0,1415.7 1241.0,1415.7 1242.0,1415.7 1243.0,1415.7 1244.0,1415.7 1245.0,1415.7 1246.0,1415.7 1247.0,1415.7 1248.0,1415.7 1249.0,1415.7 1250.0,1415.7 1251.0,1415.7 1252.0,1415.7 1253.0,1415.7 1254.0,1415.7 1255.0,1415.7 1256.0,1415.7 1257.0,1415.7 1258.0,1415.7 1259.0,1415.7 1260.0,1415.7 1261.0,1415.7 1262.0,1415.7 1263.0,1415.7 1264.0,1415.7 1265.0,1415.7 1266.0,1415.7 1267.0,1415.7 1268.0,1415.7 1269.0,1415.7 1270.0,1415.7 1271.0,1415.7 1272.0,1415.7 1273.0,1415.7 1274.0,1415.7 1275.0,1415.7 1276.0,1415.7 1277.0,1415.7 1278.0,1415.7 1279.0,1415.7 1280.0,1415.7 1281.0,1415.7 1282.0,1415.7 1283.0,1415.7 1284.0,1415.7 1285.0,1415.7 1286.0,1415.7 1287.0,1415.7 1288.0,1415.7 1289.0,1415.7 1290.0,1415.7 1291.0,1415.7 1292.0,1415.7 1293.0,1415.7 1294.0,1415.7 1295.0,1415.7 1296.0,1415.7 1297.0,1415.7 1298.0,1415.7 1299.0,1415.7 1300.0,1415.7 1301.0,1415.7 1302.0,1415.7 1303.0,1415.7 1304.0,1415.7 1305.0,1415.7 1306.0,1415.7 1307.0,1415.7 1308.0,1415.7 1309.0,1415.7 1310.0,1415.7 1311.0,1415.7 1312.0,1415.7 1313.0,1415.7 1314.0,1415.7 1315.0,1415.7 1316.0,1415.7 1317.0,1415.7 1318.0,1415.7 1319.0,1415.7 1320.0,1415.7 1321.0,1415.7 1322.0,1415.7 1323.0,1415.7 1324.0,1415.7 1325.0,1415.7 1326.0,1415.7 1327.0,1415.7 1328.0,1415.7 1329.0,1415.7 1330.0,1415.7 1331.0,1415.7 1332.0,1415.7 1333.0,1415.7 1334.0,1415.7 1335.0,1415.7 1336.0,1415.7 1337.0,1415.7 1338.0,1415.7 1339.0,1415.7 1340.0,1415.7 1341.0,1415.7 1342.0,1415.7 1343.0,1415.7 1344.0,1415.7 1345.0,1415.7 1346.0,1415.7 1347.0,1415.7 1348.0,1415.7 1349.0,1415.7 1350.0,1415.7 1351.0,1415.7 1352.0,1415.7 1353.0,1415.7 1354.0,1415.7 1355.0,1415.7 1356.0,1415.7 1357.0,1415.7 1358.0,1415.7 1359.0,1415.7 1360.0,1415.7 1361.0,1415.7 1362.0,1415.7 1363.0,1415.7 1364.0,1415.7 1365.0,1415.7 1366.0,1415.7 1367.0,1415.7 1368.0,1415.7 1369.0,1415.7 1370.0,1415.7 1371.0,1415.7 1372.0,1415.7 1373.0,1415.7 1374.0,1415.7 1375.0,1415.7 1376.0,1415.7 1377.0,1415.7 1378.0,1415.7 1379.0,1415.7 1380.0,1415.7 1381.0,1415.7 1382.0,1415.7 1383.0,1415.7 1384.0,1415.7 1385.0,1415.7 1386.0,1415.7 1387.0,1415.7 1388.0,1415.7 1389.0,1415.7 1390.0,1415.7 1391.0,1415.7 1392.0,1415.7 1393.0,1415.7 1394.0,1415.7 1395.0,1415.7 1396.0,1415.7 1397.0,1415.7 1398.0,1415.7 1399.0,1415.7 1400.0,1415.7 1401.0,1415.7 1402.0,1415.7 1403.0,1415.7 1404.0,1415.7 1405.0,1415.7 1406.0,1415.7 1407.0,1415.7 1408.0,1415.7 1409.0,1415.7 1410.0,1415.7 1411.0,1415.7 1412.0,1415.7 1413.0,1415.7 1414.0,1415.7 1415.0,1415.7 1416.0,1415.7 1417.0,1415.7 1418.0,1415.7 1419.0,1415.7 1420.0,1415.7 1421.0,1415.7 1422.0,1415.7 1423.0,1415.7 1424.0,1415.7 1425.0,1415.7 1426.0,1415.7 1427.0,1415.7 1428.0,1415.7 1429.0,1415.7 1430.0,1415.7 1431.0,1415.7 1432.0,1415.7 1433.0,1415.7 1434.0,1415.7 1435.0,1415.7 1436.0,1415.7 1437.0,1415.7 1438.0,1415.7 1439.0,1415.7 1440.0,1415.7 1441.0,1415.7 1442.0,1415.7 1443.0,1415.7 1444.0,1415.7 1445.0,1415.7 1446.0,1415.7 1447.0,1415.7 1448.0,1415.7 1449.0,1415.7 1450.0,1415.7 1451.0,1415.7 1452.0,1415.7 1453.0,1415.7 1454.0,1415.7 1455.0,1415.7 1456.0,1415.7 1457.0,1415.7 1458.0,1415.7 1459.0,1415.7 1460.0,1415.7 1461.0,1415.7 1462.0,1415.7 1463.0,1415.7 1464.0,1415.7 1465.0,1415.7 1466.0,1415.7 1467.0,1415.7 1468.0,1415.7 1469.0,1415.7 1470.0,1415.7 1471.0,1415.7 1472.0,1415.7 1473.0,1415.7 1474.0,1415.7 1475.0,1415.7 1476.0,1415.7 1477.0,1415.7 1478.0,1415.7 1479.0,1415.7 1480.0,1415.7 1481.0,1415.7 1482.0,1415.7 1483.0,1415.7 1484.0,1415.7 1485.0,1415.7 1486.0,1415.7 1487.0,1415.7 1488.0,1415.7 1489.0,1415.7 1490.0,1415.7 1491.0,1415.7 1492.0,1415.7 1493.0,1415.7 1494.0,1415.7 1495.0,1415.7 1496.0,1415.7 1497.0,1415.7 1498.0,1415.7 1499.0,1415.7 1500.0,1415.7 1501.0,1415.7 1502.0,1415.7 1503.0,1415.7 1504.0,1415.7 1505.0,1415.7 1506.0,1415.7 1507.0,1415.7 1508.0,1415.7 1509.0,1415.7 1510.0,1415.7 1511.0,1415.7 1512.0,1415.7 1513.0,1415.7 1514.0,1415.7 1515.0,1415.7 1516.0,1415.7 1517.0,1415.7 1518.0,1415.7 1519.0,1415.7 1520.0,1415.7 1521.0,1415.7 1522.0,1415.7 1523.0,1415.7 1524.0,1415.7 1525.0,1415.7 1526.0,1415.7 1527.0,1415.7 1528.0,1415.7 1529.0,1415.7 1530.0,1415.7 1531.0,1415.7 1532.0,1415.7 1533.0,1415.7 1534.0,1415.7 1535.0,1415.7 1536.0,1415.7 1537.0,1415.7 1538.0,1415.7 1539.0,1415.7 1540.0,1415.7 1541.0,1415.7 1542.0,1415.7 1543.0,1415.7 1544.0,1415.7 1545.0,1415.7 1546.0,1415.7 1547.0,1415.7 1548.0,1415.7 1549.0,1415.7 1550.0,1415.7 1551.0,1415.7 1552.0,1415.7 1553.0,1415.7 1554.0,1415.7 1555.0,1415.7 1556.0,1415.7 1557.0,1415.7 1558.0,1415.7 1559.0,1415.7 1560.0,1415.7 1561.0,1415.7 1562.0,1415.7 1563.0,1415.7 1564.0,1415.7 1565.0,1415.7 1566.0,1415.7 1567.0,1415.7 1568.0,1415.7 1569.0,1415.7 1570.0,1415.7 1571.0,1415.7 1572.0,1415.7 1573.0,1415.7 1574.0,1415.7 1575.0,1415.7 1576.0,1415.7 1577.0,1415.7 1578.0,1415.7 1579.0,1415.7 1580.0,1415.7 1581.0,1415.7 1582.0,1415.7 1583.0,1415.7 1584.0,1415.7 1585.0,1415.7 1586.0,1415.7 1587.0,1415.7 1588.0,1415.7 1589.0,1415.7 1590.0,1415.7 1591.0,1415.7 1592.0,1415.7 1593.0,1415.7 1594.0,1415.7 1595.0,1415.7 1596.0,1415.6 1597.0,1415.6 1598.0,1415.5 1599.0,1415.5 1600.0,1415.4 1601.0,1415.3 1602.0,1415.3 1603.0,1415.2 1604.0,1415.2 1605.0,1415.1 1606.0,1415.1 1607.0,1415.0 1608.0,1415.0 1609.0,1414.9 1610.0,1414.9 1611.0,1414.8 1612.0,1414.7 1613.0,1414.7 1614.0,1414.6 1615.0,1414.6 1616.0,1414.5 1617.0,1414.5 1618.0,1414.4 1619.0,1414.4 1620.0,1414.3 1621.0,1414.3 1622.0,1414.2 1623.0,1414.1 1624.0,1414.1 1625.0,1414.0 1626.0,1414.0 1627.0,1413.9 1628.0,1413.9 1629.0,1413.8 1630.0,1413.8 1631.0,1413.7 1632.0,1413.7 1633.0,1413.6 1634.0,1413.5 1635.0,1413.5 1636.0,1413.4 1637.0,1413.4 1638.0,1413.3 1639.0,1413.3 1640.0,1413.2 1641.0,1413.2 1642.0,1413.1 1643.0,1413.1 1644.0,1413.0 1645.0,1413.0 1646.0,1412.9 1647.0,1412.9 1648.0,1412.9 1649.0,1412.8 1650.0,1412.8 1651.0,1412.7 1652.0,1412.6 1653.0,1412.6 1654.0,1412.4 1655.0,1412.1 1656.0,1411.6 1657.0,1410.5 1658.0,1408.8 1659.0,1405.9 1660.0,1401.8 1661.0,1396.5 1662.0,1390.3 1663.0,1384.2 1664.0,1379.2 1665.0,1376.4 1665.5,1376.0 1666.0,1376.3 1667.0,1379.1 1668.0,1384.0 1669.0,1390.0 1670.0,1396.1 1671.0,1401.3 1672.0,1405.3 1673.0,1408.1 1674.0,1409.8 1675.0,1410.7 1676.0,1411.1 1677.0,1411.3 1678.0,1411.4 1679.0,1411.4 1680.0,1411.4 1681.0,1411.3 1682.0,1411.3 1683.0,1411.2 1684.0,1411.2 1685.0,1411.1 1686.0,1411.1 1687.0,1411.0 1688.0,1411.0 1689.0,1410.9 1690.0,1410.9 1691.0,1410.8 1692.0,1410.8 1693.0,1410.8 1694.0,1410.7 1695.0,1410.7 1696.0,1410.6 1697.0,1410.6 1698.0,1410.5 1699.0,1410.5 1700.0,1410.4 1701.0,1410.4 1702.0,1410.3 1703.0,1410.1 1704.0,1409.7 1705.0,1409.0 1706.0,1407.8 1707.0,1405.7 1708.0,1402.8 1709.0,1399.3 1710.0,1395.8 1711.0,1393.1 1712.0,1392.0 1713.0,1392.4 1714.0,1394.3 1715.0,1396.7 1716.0,1398.6 1717.0,1399.1 1718.0,1397.9 1719.0,1395.4 1720.0,1392.3 1721.0,1389.5 1722.0,1388.0 1723.0,1387.8 1724.0,1388.3 1725.0,1388.5 1726.0,1387.2 1727.0,1384.3 1728.0,1380.1 1729.0,1375.9 1730.0,1373.3 1730.5,1373.0 1731.0,1373.5 1732.0,1376.6 1733.0,1381.7 1734.0,1387.3 1735.0,1392.2 1736.0,1395.3 1737.0,1396.5 1738.0,1395.7 1739.0,1393.2 1740.0,1389.1 1741.0,1383.5 1742.0,1376.8 1743.0,1369.4 1744.0,1362.1 1745.0,1355.5 1746.0,1350.0 1747.0,1345.2 1748.0,1339.7 1749.0,1331.4 1750.0,1318.6 1751.0,1301.3 1752.0,1282.3 1753.0,1267.4 1754.0,1262.6 1754.2,1263.2 1755.0,1271.0 1756.0,1291.2 1757.0,1317.6 1758.0,1343.8 1759.0,1365.0 1760.0,1379.6 1761.0,1388.2 1762.0,1392.4 1763.0,1393.9 1764.0,1394.0 1765.0,1393.4 1766.0,1392.6 1767.0,1392.1 1768.0,1392.0 1769.0,1392.5 1770.0,1393.5 1771.0,1394.9 1772.0,1396.6 1773.0,1398.2 1774.0,1399.6 1775.0,1400.8 1776.0,1401.6 1777.0,1402.2 1778.0,1402.5 1779.0,1402.6 1780.0,1402.5 1781.0,1402.3 1782.0,1401.8 1783.0,1401.1 1784.0,1400.1 1785.0,1398.9 1786.0,1397.6 1787.0,1396.2 1788.0,1395.1 1789.0,1394.3 1790.0,1394.0 1791.0,1394.2 1792.0,1395.0 1793.0,1396.0 1794.0,1397.2 1795.0,1398.3 1796.0,1399.2 1797.0,1399.5 1798.0,1399.3 1799.0,1398.4 1800.0,1397.0 1801.0,1395.0 1802.0,1392.6 1803.0,1390.1 1804.0,1387.9 1805.0,1386.2 1806.0,1385.0 1807.0,1384.3 1808.0,1383.7 1809.0,1382.6 1810.0,1380.4 1811.0,1376.4 1812.0,1370.6 1813.0,1363.2 1814.0,1355.2 1815.0,1347.7 1816.0,1342.0 1817.0,1339.2 1817.2,1339.0 1818.0,1339.7 1819.0,1343.5 1820.0,1349.5 1821.0,1356.6 1822.0,1363.6 1823.0,1369.2 1824.0,1373.1 1825.0,1374.9 1826.0,1374.9 1827.0,1373.6 1828.0,1371.6 1829.0,1369.4 1830.0,1367.5 1831.0,1366.3 1832.0,1365.8 1833.0,1366.2 1834.0,1367.4 1835.0,1369.2 1836.0,1371.3 1837.0,1373.3 1838.0,1374.8 1839.0,1375.5 1840.0,1375.3 1841.0,1374.4 1842.0,1373.1 1843.0,1371.9 1844.0,1371.4 1845.0,1372.0 1846.0,1374.0 1847.0,1377.3 1848.0,1381.5 1849.0,1386.1 1850.0,1390.5 1851.0,1394.3 1852.0,1397.2 1853.0,1399.2 1854.0,1400.2 1855.0,1400.4 1856.0,1399.8 1857.0,1398.6 1858.0,1397.2 1859.0,1395.6 1860.0,1394.2 1861.0,1393.3 1862.0,1393.0 1863.0,1393.4 1864.0,1394.4 1865.0,1395.9 1866.0,1397.6 1867.0,1399.4 1868.0,1400.9 1869.0,1402.2 1870.0,1403.1 1871.0,1403.8 1872.0,1404.2 1873.0,1404.3 1874.0,1404.2 1875.0,1403.9 1876.0,1403.4 1877.0,1402.7 1878.0,1401.8 1879.0,1400.7 1880.0,1399.4 1881.0,1398.2 1882.0,1397.1 1883.0,1396.3 1884.0,1396.0 1885.0,1396.2 1886.0,1396.8 1887.0,1397.8 1888.0,1399.0 1889.0,1400.1 1890.0,1401.2 1891.0,1402.0 1892.0,1402.6 1893.0,1403.0 1894.0,1403.2 1895.0,1403.3 1896.0,1403.4 1897.0,1403.4 1898.0,1403.3 1899.0,1403.3 1900.0,1403.3 1901.0,1403.2 1902.0,1403.1 1903.0,1403.1 1904.0,1403.0 1905.0,1403.0 1906.0,1402.9 1907.0,1402.9 1908.0,1402.8 1909.0,1402.8 1910.0,1402.7 1911.0,1402.7 1912.0,1402.6 1913.0,1402.5 1914.0,1402.5 1915.0,1402.4 1916.0,1402.4 1917.0,1402.4 1918.0,1402.4 1919.0,1402.4 1920.0,1402.4 1921.0,1402.4 1922.0,1402.4 1923.0,1402.4 1924.0,1402.4 1925.0,1402.4 1926.0,1402.4 1927.0,1402.4 1928.0,1402.4 1929.0,1402.4 1930.0,1402.4 1931.0,1402.4 1932.0,1402.4 1933.0,1402.4 1934.0,1402.4 1935.0,1402.4 1936.0,1402.4 1937.0,1402.4 1938.0,1402.4 1939.0,1402.4 1940.0,1402.4 1941.0,1402.4 1942.0,1402.4 1943.0,1402.4 1944.0,1402.4 1945.0,1402.4 1946.0,1402.4 1947.0,1402.4 1948.0,1402.4 1949.0,1402.4 1950.0,1402.4 1951.0,1402.4 1952.0,1402.4 1953.0,1402.4 1954.0,1402.4 1955.0,1402.4 1956.0,1402.4 1957.0,1402.4 1958.0,1402.4 1959.0,1402.4 1960.0,1402.5 1961.0,1402.6 1962.0,1402.8 1963.0,1402.9 1964.0,1403.0 1965.0,1403.2 1966.0,1403.3 1967.0,1403.5 1968.0,1403.6 1969.0,1403.7 1970.0,1403.9 1971.0,1404.0 1972.0,1404.2 1973.0,1404.3 1974.0,1404.4 1975.0,1404.6 1976.0,1404.7 1977.0,1404.8 1978.0,1405.0 1979.0,1405.1 1980.0,1405.2 1981.0,1405.4 1982.0,1405.5 1983.0,1405.6 1984.0,1405.7 1985.0,1405.8 1986.0,1405.9 1987.0,1406.0 1988.0,1406.1 1989.0,1406.1 1990.0,1406.2 1991.0,1406.2 1992.0,1406.2 1993.0,1406.2 1994.0,1406.2 1995.0,1406.1 1996.0,1406.0 1997.0,1405.9 1998.0,1405.7 1999.0,1405.5 2000.0,1405.2 2001.0,1405.0 2002.0,1404.6 2003.0,1404.3 2004.0,1403.8 2005.0,1403.3 2006.0,1402.7 2007.0,1402.1 2008.0,1401.5 2009.0,1400.8 2010.0,1400.1 2011.0,1399.5 2012.0,1398.8 2013.0,1398.0 2014.0,1397.2 2015.0,1396.3 2016.0,1394.9 2017.0,1392.9 2018.0,1390.0 2019.0,1385.8 2020.0,1380.3 2021.0,1373.9 2022.0,1367.5 2023.0,1362.3 2024.0,1359.6 2024.4,1359.4 2025.0,1360.0 2026.0,1363.5 2027.0,1369.2 2028.0,1375.8 2029.0,1382.3 2030.0,1387.7 2031.0,1391.8 2032.0,1394.7 2033.0,1396.6 2034.0,1398.0 2035.0,1399.1 2036.0,1400.0 2037.0,1400.8 2038.0,1401.6 2039.0,1402.4 2040.0,1403.1 2041.0,1403.9 2042.0,1404.6 2043.0,1405.2 2044.0,1405.9 2045.0,1406.5 2046.0,1407.0 2047.0,1407.6 2048.0,1408.0 2049.0,1408.5 2050.0,1408.9 2051.0,1409.2 2052.0,1409.6 2053.0,1409.8 2054.0,1410.1 2055.0,1410.3 2056.0,1410.5 2057.0,1410.7 2058.0,1410.9 2059.0,1411.0 2060.0,1411.2 2061.0,1411.3 2062.0,1411.4 2063.0,1411.4 2064.0,1411.5 2065.0,1411.5 2066.0,1411.5 2067.0,1411.5 2068.0,1411.6 2069.0,1411.6 2070.0,1411.6 2071.0,1411.6 2072.0,1411.6 2073.0,1411.6 2074.0,1411.6 2075.0,1411.6 2076.0,1411.6 2077.0,1411.6 2078.0,1411.6 2079.0,1411.6 2080.0,1411.7 2081.0,1411.7 2082.0,1411.7 2083.0,1411.7 2084.0,1411.7 2085.0,1411.7 2086.0,1411.7 2087.0,1411.7 2088.0,1411.7 2089.0,1411.7 2090.0,1411.7 2091.0,1411.7 2092.0,1411.7 2093.0,1411.7 2094.0,1411.7 2095.0,1411.7 2096.0,1411.7 2097.0,1411.7 2098.0,1411.7 2099.0,1411.7 2100.0,1411.7 2101.0,1411.7 2102.0,1411.7 2103.0,1411.7 2104.0,1411.7 2105.0,1411.7 2106.0,1411.8 2107.0,1411.8 2108.0,1411.8 2109.0,1411.8 2110.0,1411.8 2111.0,1411.8 2112.0,1411.8 2113.0,1411.8 2114.0,1411.8 2115.0,1411.8 2116.0,1411.8 2117.0,1411.8 2118.0,1411.8 2119.0,1411.8 2120.0,1411.8 2121.0,1411.8 2122.0,1411.8 2123.0,1411.8 2124.0,1411.8 2125.0,1411.8 2126.0,1411.8 2127.0,1411.8 2128.0,1411.8 2129.0,1411.8 2130.0,1411.8 2131.0,1411.8 2132.0,1411.8 2133.0,1411.8 2134.0,1411.8 2135.0,1411.7 2136.0,1411.7 2137.0,1411.6 2138.0,1411.5 2139.0,1411.4 2140.0,1411.2 2141.0,1411.0 2142.0,1410.6 2143.0,1410.3 2144.0,1409.8 2145.0,1409.2 2146.0,1408.5 2147.0,1407.6 2148.0,1406.6 2149.0,1405.3 2150.0,1403.5 2151.0,1400.9 2152.0,1397.1 2153.0,1391.7 2154.0,1384.3 2155.0,1374.9 2156.0,1364.2 2157.0,1353.3 2158.0,1344.1 2159.0,1338.3 2159.7,1337.0 2160.0,1337.2 2161.0,1341.0 2162.0,1348.9 2163.0,1359.2 2164.0,1370.0 2165.0,1379.9 2166.0,1388.0 2167.0,1394.1 2168.0,1398.4 2169.0,1401.3 2170.0,1403.3 2171.0,1404.7 2172.0,1405.7 2173.0,1406.4 2174.0,1406.8 2175.0,1406.9 2176.0,1406.6 2177.0,1406.0 2178.0,1405.1 2179.0,1404.0 2180.0,1402.6 2181.0,1401.3 2182.0,1400.0 2183.0,1398.9 2184.0,1398.2 2185.0,1398.0 2186.0,1398.3 2187.0,1399.0 2188.0,1400.1 2189.0,1401.6 2190.0,1403.1 2191.0,1404.6 2192.0,1406.0 2193.0,1407.2 2194.0,1408.2 2195.0,1408.9 2196.0,1409.4 2197.0,1409.7 2198.0,1409.9 2199.0,1409.9 2200.0,1410.0 2201.0,1409.9 2202.0,1409.8 2203.0,1409.8 2204.0,1409.7 2205.0,1409.6 2206.0,1409.5 2207.0,1409.3 2208.0,1409.2 2209.0,1409.1 2210.0,1409.0 2211.0,1408.9 2212.0,1408.8 2213.0,1408.7 2214.0,1408.6 2215.0,1408.5 2216.0,1408.3 2217.0,1408.2 2218.0,1408.0 2219.0,1407.8 2220.0,1407.6 2221.0,1407.2 2222.0,1406.8 2223.0,1406.2 2224.0,1405.6 2225.0,1404.8 2226.0,1403.9 2227.0,1402.9 2228.0,1402.0 2229.0,1401.2 2230.0,1400.6 2231.0,1400.2 2232.0,1400.0 2233.0,1400.1 2234.0,1400.5 2235.0,1401.1 2236.0,1401.7 2237.0,1402.4 2238.0,1402.8 2239.0,1402.8 2240.0,1402.2 2241.0,1400.8 2242.0,1398.5 2243.0,1395.5 2244.0,1392.1 2245.0,1389.0 2246.0,1386.8 2247.0,1386.0 2248.0,1386.8 2249.0,1389.1 2250.0,1392.4 2251.0,1395.9 2252.0,1399.2 2253.0,1401.8 2254.0,1403.5 2255.0,1404.1 2256.0,1403.5 2257.0,1401.1 2258.0,1396.3 2259.0,1388.0 2260.0,1375.6 2261.0,1358.8 2262.0,1338.6 2263.0,1317.6 2264.0,1299.2 2265.0,1287.2 2265.8,1284.0 2266.0,1284.2 2267.0,1291.0 2268.0,1305.9 2269.0,1325.8 2270.0,1346.8 2271.0,1365.8 2272.0,1380.9 2273.0,1391.6 2274.0,1398.5 2275.0,1402.5 2276.0,1404.6 2277.0,1405.6 2278.0,1406.0 2279.0,1406.2 2280.0,1406.3 2281.0,1406.3 2282.0,1406.2 2283.0,1406.2 2284.0,1406.2 2285.0,1406.1 2286.0,1406.0 2287.0,1405.8 2288.0,1405.4 2289.0,1404.6 2290.0,1403.3 2291.0,1401.4 2292.0,1398.7 2293.0,1395.4 2294.0,1391.9 2295.0,1388.6 2296.0,1386.3 2297.0,1385.5 2298.0,1386.3 2299.0,1388.6 2300.0,1391.8 2301.0,1395.3 2302.0,1398.5 2303.0,1401.2 2304.0,1403.1 2305.0,1404.4 2306.0,1405.1 2307.0,1405.5 2308.0,1405.7 2309.0,1405.7 2309.0,1418.0" fill="#000" stroke="none"/><polyline points="318.0,1415.7 319.0,1415.7 320.0,1415.7 321.0,1415.7 322.0,1415.7 323.0,1415.7 324.0,1415.7 325.0,1415.7 326.0,1415.7 327.0,1415.7 328.0,1415.7 329.0,1415.7 330.0,1415.7 331.0,1415.7 332.0,1415.7 333.0,1415.7 334.0,1415.7 335.0,1415.7 336.0,1415.7 337.0,1415.7 338.0,1415.7 339.0,1415.7 340.0,1415.7 341.0,1415.7 342.0,1415.7 343.0,1415.7 344.0,1415.7 345.0,1415.7 346.0,1415.7 347.0,1415.7 348.0,1415.7 349.0,1415.7 350.0,1415.7 351.0,1415.7 352.0,1415.7 353.0,1415.7 354.0,1415.7 355.0,1415.7 356.0,1415.7 357.0,1415.7 358.0,1415.7 359.0,1415.7 360.0,1415.7 361.0,1415.7 362.0,1415.7 363.0,1415.7 364.0,1415.7 365.0,1415.7 366.0,1415.7 367.0,1415.7 368.0,1415.7 369.0,1415.7 370.0,1415.7 371.0,1415.7 372.0,1415.7 373.0,1415.7 374.0,1415.7 375.0,1415.7 376.0,1415.7 377.0,1415.7 378.0,1415.7 379.0,1415.7 380.0,1415.7 381.0,1415.7 382.0,1415.7 383.0,1415.7 384.0,1415.7 385.0,1415.7 386.0,1415.7 387.0,1415.7 388.0,1415.7 389.0,1415.7 390.0,1415.7 391.0,1415.7 392.0,1415.7 393.0,1415.7 394.0,1415.7 395.0,1415.7 396.0,1415.7 397.0,1415.7 398.0,1415.7 399.0,1415.7 400.0,1415.7 401.0,1415.7 402.0,1415.7 403.0,1415.7 404.0,1415.7 405.0,1415.7 406.0,1415.7 407.0,1415.7 408.0,1415.7 409.0,1415.7 410.0,1415.7 411.0,1415.7 412.0,1415.7 413.0,1415.7 414.0,1415.7 415.0,1415.7 416.0,1415.7 417.0,1415.7 418.0,1415.7 419.0,1415.7 420.0,1415.7 421.0,1415.7 422.0,1415.7 423.0,1415.7 424.0,1415.7 425.0,1415.7 426.0,1415.7 427.0,1415.7 428.0,1415.7 429.0,1415.7 430.0,1415.7 431.0,1415.7 432.0,1415.7 433.0,1415.7 434.0,1415.7 435.0,1415.7 436.0,1415.7 437.0,1415.7 438.0,1415.7 439.0,1415.7 440.0,1415.7 441.0,1415.7 442.0,1415.7 443.0,1415.7 444.0,1415.7 445.0,1415.7 446.0,1415.7 447.0,1415.7 448.0,1415.7 449.0,1415.7 450.0,1415.7 451.0,1415.7 452.0,1415.7 453.0,1415.7 454.0,1415.7 455.0,1415.7 456.0,1415.7 457.0,1415.7 458.0,1415.7 459.0,1415.7 460.0,1415.7 461.0,1415.7 462.0,1415.7 463.0,1415.7 464.0,1415.7 465.0,1415.7 466.0,1415.7 467.0,1415.7 468.0,1415.7 469.0,1415.7 470.0,1415.7 471.0,1415.7 472.0,1415.7 473.0,1415.7 474.0,1415.7 475.0,1415.7 476.0,1415.7 477.0,1415.7 478.0,1415.7 479.0,1415.7 480.0,1415.7 481.0,1415.7 482.0,1415.7 483.0,1415.7 484.0,1415.7 485.0,1415.7 486.0,1415.7 487.0,1415.7 488.0,1415.7 489.0,1415.7 490.0,1415.7 491.0,1415.7 492.0,1415.7 493.0,1415.7 494.0,1415.7 495.0,1415.7 496.0,1415.7 497.0,1415.7 498.0,1415.7 499.0,1415.7 500.0,1415.7 501.0,1415.7 502.0,1415.7 503.0,1415.7 504.0,1415.7 505.0,1415.7 506.0,1415.7 507.0,1415.7 508.0,1415.7 509.0,1415.7 510.0,1415.7 511.0,1415.7 512.0,1415.7 513.0,1415.7 514.0,1415.7 515.0,1415.7 516.0,1415.7 517.0,1415.7 518.0,1415.7 519.0,1415.7 520.0,1415.7 521.0,1415.7 522.0,1415.7 523.0,1415.7 524.0,1415.7 525.0,1415.7 526.0,1415.7 527.0,1415.7 528.0,1415.7 529.0,1415.7 530.0,1415.7 531.0,1415.7 532.0,1415.7 533.0,1415.7 534.0,1415.7 535.0,1415.7 536.0,1415.7 537.0,1415.7 538.0,1415.7 539.0,1415.7 540.0,1415.7 541.0,1415.7 542.0,1415.7 543.0,1415.7 544.0,1415.7 545.0,1415.7 546.0,1415.7 547.0,1415.7 548.0,1415.7 549.0,1415.7 550.0,1415.7 551.0,1415.7 552.0,1415.7 553.0,1415.7 554.0,1415.7 555.0,1415.7 556.0,1415.7 557.0,1415.7 558.0,1415.7 559.0,1415.7 560.0,1415.7 561.0,1415.7 562.0,1415.7 563.0,1415.7 564.0,1415.7 565.0,1415.7 566.0,1415.7 567.0,1415.7 568.0,1415.7 569.0,1415.7 570.0,1415.7 571.0,1415.7 572.0,1415.7 573.0,1415.7 574.0,1415.7 575.0,1415.7 576.0,1415.7 577.0,1415.7 578.0,1415.7 579.0,1415.7 580.0,1415.7 581.0,1415.7 582.0,1415.7 583.0,1415.7 584.0,1415.7 585.0,1415.7 586.0,1415.7 587.0,1415.7 588.0,1415.7 589.0,1415.7 590.0,1415.7 591.0,1415.7 592.0,1415.7 593.0,1415.7 594.0,1415.7 595.0,1415.7 596.0,1415.7 597.0,1415.7 598.0,1415.7 599.0,1415.7 600.0,1415.7 601.0,1415.7 602.0,1415.7 603.0,1415.7 604.0,1415.7 605.0,1415.7 606.0,1415.7 607.0,1415.7 608.0,1415.7 609.0,1415.7 610.0,1415.7 611.0,1415.7 612.0,1415.7 613.0,1415.7 614.0,1415.7 615.0,1415.7 616.0,1415.7 617.0,1415.7 618.0,1415.7 619.0,1415.7 620.0,1415.7 621.0,1415.7 622.0,1415.7 623.0,1415.7 624.0,1415.7 625.0,1415.7 626.0,1415.7 627.0,1415.7 628.0,1415.7 629.0,1415.7 630.0,1415.7 631.0,1415.7 632.0,1415.7 633.0,1415.7 634.0,1415.7 635.0,1415.7 636.0,1415.7 637.0,1415.7 638.0,1415.7 639.0,1415.7 640.0,1415.7 641.0,1415.7 642.0,1415.7 643.0,1415.7 644.0,1415.7 645.0,1415.7 646.0,1415.7 647.0,1415.7 648.0,1415.7 649.0,1415.7 650.0,1415.7 651.0,1415.7 652.0,1415.7 653.0,1415.7 654.0,1415.7 655.0,1415.7 656.0,1415.7 657.0,1415.7 658.0,1415.7 659.0,1415.7 660.0,1415.7 661.0,1415.7 662.0,1415.7 663.0,1415.7 664.0,1415.7 665.0,1415.7 666.0,1415.7 667.0,1415.7 668.0,1415.7 669.0,1415.7 670.0,1415.7 671.0,1415.7 672.0,1415.7 673.0,1415.7 674.0,1415.7 675.0,1415.7 676.0,1415.7 677.0,1415.7 678.0,1415.7 679.0,1415.7 680.0,1415.7 681.0,1415.7 682.0,1415.7 683.0,1415.7 684.0,1415.7 685.0,1415.7 686.0,1415.7 687.0,1415.7 688.0,1415.7 689.0,1415.7 690.0,1415.7 691.0,1415.7 692.0,1415.7 693.0,1415.7 694.0,1415.7 695.0,1415.7 696.0,1415.7 697.0,1415.7 698.0,1415.7 699.0,1415.7 700.0,1415.7 701.0,1415.7 702.0,1415.7 703.0,1415.7 704.0,1415.7 705.0,1415.7 706.0,1415.7 707.0,1415.7 708.0,1415.7 709.0,1415.7 710.0,1415.7 711.0,1415.7 712.0,1415.7 713.0,1415.7 714.0,1415.7 715.0,1415.7 716.0,1415.7 717.0,1415.7 718.0,1415.7 719.0,1415.7 720.0,1415.7 721.0,1415.7 722.0,1415.7 723.0,1415.7 724.0,1415.7 725.0,1415.7 726.0,1415.7 727.0,1415.7 728.0,1415.7 729.0,1415.7 730.0,1415.7 731.0,1415.7 732.0,1415.7 733.0,1415.7 734.0,1415.7 735.0,1415.7 736.0,1415.7 737.0,1415.7 738.0,1415.7 739.0,1415.7 740.0,1415.7 741.0,1415.7 742.0,1415.7 743.0,1415.7 744.0,1415.7 745.0,1415.7 746.0,1415.7 747.0,1415.7 748.0,1415.7 749.0,1415.7 750.0,1415.7 751.0,1415.7 752.0,1415.7 753.0,1415.7 754.0,1415.7 755.0,1415.7 756.0,1415.7 757.0,1415.7 758.0,1415.7 759.0,1415.7 760.0,1415.7 761.0,1415.7 762.0,1415.7 763.0,1415.7 764.0,1415.7 765.0,1415.7 766.0,1415.7 767.0,1415.7 768.0,1415.7 769.0,1415.7 770.0,1415.7 771.0,1415.7 772.0,1415.7 773.0,1415.7 774.0,1415.7 775.0,1415.7 776.0,1415.7 777.0,1415.7 778.0,1415.7 779.0,1415.7 780.0,1415.7 781.0,1415.7 782.0,1415.7 783.0,1415.7 784.0,1415.7 785.0,1415.7 786.0,1415.7 787.0,1415.7 788.0,1415.7 789.0,1415.7 790.0,1415.7 791.0,1415.7 792.0,1415.7 793.0,1415.7 794.0,1415.7 795.0,1415.7 796.0,1415.7 797.0,1415.7 798.0,1415.7 799.0,1415.7 800.0,1415.7 801.0,1415.7 802.0,1415.7 803.0,1415.7 804.0,1415.7 805.0,1415.7 806.0,1415.7 807.0,1415.7 808.0,1415.7 809.0,1415.7 810.0,1415.7 811.0,1415.7 812.0,1415.7 813.0,1415.7 814.0,1415.7 815.0,1415.7 816.0,1415.7 817.0,1415.7 818.0,1415.7 819.0,1415.7 820.0,1415.7 821.0,1415.7 822.0,1415.7 823.0,1415.7 824.0,1415.7 825.0,1415.7 826.0,1415.7 827.0,1415.7 828.0,1415.7 829.0,1415.7 830.0,1415.7 831.0,1415.7 832.0,1415.7 833.0,1415.7 834.0,1415.7 835.0,1415.7 836.0,1415.7 837.0,1415.7 838.0,1415.7 839.0,1415.7 840.0,1415.7 841.0,1415.7 842.0,1415.7 843.0,1415.7 844.0,1415.7 845.0,1415.7 846.0,1415.7 847.0,1415.7 848.0,1415.7 849.0,1415.7 850.0,1415.7 851.0,1415.7 852.0,1415.7 853.0,1415.7 854.0,1415.7 855.0,1415.7 856.0,1415.7 857.0,1415.7 858.0,1415.7 859.0,1415.7 860.0,1415.7 861.0,1415.7 862.0,1415.7 863.0,1415.7 864.0,1415.7 865.0,1415.7 866.0,1415.7 867.0,1415.7 868.0,1415.7 869.0,1415.7 870.0,1415.7 871.0,1415.7 872.0,1415.7 873.0,1415.7 874.0,1415.7 875.0,1415.7 876.0,1415.7 877.0,1415.7 878.0,1415.7 879.0,1415.7 880.0,1415.7 881.0,1415.7 882.0,1415.7 883.0,1415.7 884.0,1415.7 885.0,1415.7 886.0,1415.7 887.0,1415.7 888.0,1415.7 889.0,1415.7 890.0,1415.7 891.0,1415.7 892.0,1415.7 893.0,1415.7 894.0,1415.7 895.0,1415.7 896.0,1415.7 897.0,1415.7 898.0,1415.7 899.0,1415.7 900.0,1415.7 901.0,1415.7 902.0,1415.7 903.0,1415.7 904.0,1415.7 905.0,1415.7 906.0,1415.7 907.0,1415.7 908.0,1415.7 909.0,1415.7 910.0,1415.7 911.0,1415.7 912.0,1415.7 913.0,1415.7 914.0,1415.7 915.0,1415.7 916.0,1415.7 917.0,1415.7 918.0,1415.7 919.0,1415.7 920.0,1415.7 921.0,1415.7 922.0,1415.7 923.0,1415.7 924.0,1415.7 925.0,1415.7 926.0,1415.7 927.0,1415.7 928.0,1415.7 929.0,1415.7 930.0,1415.7 931.0,1415.7 932.0,1415.7 933.0,1415.7 934.0,1415.7 935.0,1415.7 936.0,1415.7 937.0,1415.7 938.0,1415.7 939.0,1415.7 940.0,1415.7 941.0,1415.7 942.0,1415.7 943.0,1415.7 944.0,1415.7 945.0,1415.7 946.0,1415.7 947.0,1415.7 948.0,1415.7 949.0,1415.7 950.0,1415.7 951.0,1415.7 952.0,1415.7 953.0,1415.7 954.0,1415.7 955.0,1415.7 956.0,1415.7 957.0,1415.7 958.0,1415.7 959.0,1415.7 960.0,1415.7 961.0,1415.7 962.0,1415.7 963.0,1415.7 964.0,1415.7 965.0,1415.7 966.0,1415.7 967.0,1415.7 968.0,1415.7 969.0,1415.7 970.0,1415.7 971.0,1415.7 972.0,1415.7 973.0,1415.7 974.0,1415.7 975.0,1415.7 976.0,1415.7 977.0,1415.7 978.0,1415.7 979.0,1415.7 980.0,1415.7 981.0,1415.7 982.0,1415.7 983.0,1415.7 984.0,1415.7 985.0,1415.7 986.0,1415.7 987.0,1415.7 988.0,1415.7 989.0,1415.7 990.0,1415.7 991.0,1415.7 992.0,1415.7 993.0,1415.7 994.0,1415.7 995.0,1415.7 996.0,1415.7 997.0,1415.7 998.0,1415.7 999.0,1415.7 1000.0,1415.7 1001.0,1415.7 1002.0,1415.7 1003.0,1415.7 1004.0,1415.7 1005.0,1415.7 1006.0,1415.7 1007.0,1415.7 1008.0,1415.7 1009.0,1415.7 1010.0,1415.7 1011.0,1415.7 1012.0,1415.7 1013.0,1415.7 1014.0,1415.7 1015.0,1415.7 1016.0,1415.7 1017.0,1415.7 1018.0,1415.7 1019.0,1415.7 1020.0,1415.7 1021.0,1415.7 1022.0,1415.7 1023.0,1415.7 1024.0,1415.7 1025.0,1415.7 1026.0,1415.7 1027.0,1415.7 1028.0,1415.7 1029.0,1415.7 1030.0,1415.7 1031.0,1415.7 1032.0,1415.7 1033.0,1415.7 1034.0,1415.7 1035.0,1415.7 1036.0,1415.7 1037.0,1415.7 1038.0,1415.7 1039.0,1415.7 1040.0,1415.7 1041.0,1415.7 1042.0,1415.7 1043.0,1415.7 1044.0,1415.7 1045.0,1415.7 1046.0,1415.7 1047.0,1415.7 1048.0,1415.7 1049.0,1415.7 1050.0,1415.7 1051.0,1415.7 1052.0,1415.7 1053.0,1415.7 1054.0,1415.7 1055.0,1415.7 1056.0,1415.7 1057.0,1415.7 1058.0,1415.7 1059.0,1415.7 1060.0,1415.7 1061.0,1415.7 1062.0,1415.7 1063.0,1415.7 1064.0,1415.7 1065.0,1415.7 1066.0,1415.7 1067.0,1415.7 1068.0,1415.7 1069.0,1415.7 1070.0,1415.7 1071.0,1415.7 1072.0,1415.7 1073.0,1415.7 1074.0,1415.7 1075.0,1415.7 1076.0,1415.7 1077.0,1415.7 1078.0,1415.7 1079.0,1415.7 1080.0,1415.7 1081.0,1415.7 1082.0,1415.7 1083.0,1415.7 1084.0,1415.7 1085.0,1415.7 1086.0,1415.7 1087.0,1415.7 1088.0,1415.7 1089.0,1415.7 1090.0,1415.7 1091.0,1415.7 1092.0,1415.7 1093.0,1415.7 1094.0,1415.7 1095.0,1415.7 1096.0,1415.7 1097.0,1415.7 1098.0,1415.7 1099.0,1415.7 1100.0,1415.7 1101.0,1415.7 1102.0,1415.7 1103.0,1415.7 1104.0,1415.7 1105.0,1415.7 1106.0,1415.7 1107.0,1415.7 1108.0,1415.7 1109.0,1415.7 1110.0,1415.7 1111.0,1415.7 1112.0,1415.7 1113.0,1415.7 1114.0,1415.7 1115.0,1415.7 1116.0,1415.7 1117.0,1415.7 1118.0,1415.7 1119.0,1415.7 1120.0,1415.7 1121.0,1415.7 1122.0,1415.7 1123.0,1415.7 1124.0,1415.7 1125.0,1415.7 1126.0,1415.7 1127.0,1415.7 1128.0,1415.7 1129.0,1415.7 1130.0,1415.7 1131.0,1415.7 1132.0,1415.7 1133.0,1415.7 1134.0,1415.7 1135.0,1415.7 1136.0,1415.7 1137.0,1415.7 1138.0,1415.7 1139.0,1415.7 1140.0,1415.7 1141.0,1415.7 1142.0,1415.7 1143.0,1415.7 1144.0,1415.7 1145.0,1415.7 1146.0,1415.7 1147.0,1415.7 1148.0,1415.7 1149.0,1415.7 1150.0,1415.7 1151.0,1415.7 1152.0,1415.7 1153.0,1415.7 1154.0,1415.7 1155.0,1415.7 1156.0,1415.7 1157.0,1415.7 1158.0,1415.7 1159.0,1415.7 1160.0,1415.7 1161.0,1415.7 1162.0,1415.7 1163.0,1415.7 1164.0,1415.7 1165.0,1415.7 1166.0,1415.7 1167.0,1415.7 1168.0,1415.7 1169.0,1415.7 1170.0,1415.7 1171.0,1415.7 1172.0,1415.7 1173.0,1415.7 1174.0,1415.7 1175.0,1415.7 1176.0,1415.7 1177.0,1415.7 1178.0,1415.7 1179.0,1415.7 1180.0,1415.7 1181.0,1415.7 1182.0,1415.7 1183.0,1415.7 1184.0,1415.7 1185.0,1415.7 1186.0,1415.7 1187.0,1415.7 1188.0,1415.7 1189.0,1415.7 1190.0,1415.7 1191.0,1415.7 1192.0,1415.7 1193.0,1415.7 1194.0,1415.7 1195.0,1415.7 1196.0,1415.7 1197.0,1415.7 1198.0,1415.7 1199.0,1415.7 1200.0,1415.7 1201.0,1415.7 1202.0,1415.7 1203.0,1415.7 1204.0,1415.7 1205.0,1415.7 1206.0,1415.7 1207.0,1415.7 1208.0,1415.7 1209.0,1415.7 1210.0,1415.7 1211.0,1415.7 1212.0,1415.7 1213.0,1415.7 1214.0,1415.7 1215.0,1415.7 1216.0,1415.7 1217.0,1415.7 1218.0,1415.7 1219.0,1415.7 1220.0,1415.7 1221.0,1415.7 1222.0,1415.7 1223.0,1415.7 1224.0,1415.7 1225.0,1415.7 1226.0,1415.7 1227.0,1415.7 1228.0,1415.7 1229.0,1415.7 1230.0,1415.7 1231.0,1415.7 1232.0,1415.7 1233.0,1415.7 1234.0,1415.7 1235.0,1415.7 1236.0,1415.7 1237.0,1415.7 1238.0,1415.7 1239.0,1415.7 1240.0,1415.7 1241.0,1415.7 1242.0,1415.7 1243.0,1415.7 1244.0,1415.7 1245.0,1415.7 1246.0,1415.7 1247.0,1415.7 1248.0,1415.7 1249.0,1415.7 1250.0,1415.7 1251.0,1415.7 1252.0,1415.7 1253.0,1415.7 1254.0,1415.7 1255.0,1415.7 1256.0,1415.7 1257.0,1415.7 1258.0,1415.7 1259.0,1415.7 1260.0,1415.7 1261.0,1415.7 1262.0,1415.7 1263.0,1415.7 1264.0,1415.7 1265.0,1415.7 1266.0,1415.7 1267.0,1415.7 1268.0,1415.7 1269.0,1415.7 1270.0,1415.7 1271.0,1415.7 1272.0,1415.7 1273.0,1415.7 1274.0,1415.7 1275.0,1415.7 1276.0,1415.7 1277.0,1415.7 1278.0,1415.7 1279.0,1415.7 1280.0,1415.7 1281.0,1415.7 1282.0,1415.7 1283.0,1415.7 1284.0,1415.7 1285.0,1415.7 1286.0,1415.7 1287.0,1415.7 1288.0,1415.7 1289.0,1415.7 1290.0,1415.7 1291.0,1415.7 1292.0,1415.7 1293.0,1415.7 1294.0,1415.7 1295.0,1415.7 1296.0,1415.7 1297.0,1415.7 1298.0,1415.7 1299.0,1415.7 1300.0,1415.7 1301.0,1415.7 1302.0,1415.7 1303.0,1415.7 1304.0,1415.7 1305.0,1415.7 1306.0,1415.7 1307.0,1415.7 1308.0,1415.7 1309.0,1415.7 1310.0,1415.7 1311.0,1415.7 1312.0,1415.7 1313.0,1415.7 1314.0,1415.7 1315.0,1415.7 1316.0,1415.7 1317.0,1415.7 1318.0,1415.7 1319.0,1415.7 1320.0,1415.7 1321.0,1415.7 1322.0,1415.7 1323.0,1415.7 1324.0,1415.7 1325.0,1415.7 1326.0,1415.7 1327.0,1415.7 1328.0,1415.7 1329.0,1415.7 1330.0,1415.7 1331.0,1415.7 1332.0,1415.7 1333.0,1415.7 1334.0,1415.7 1335.0,1415.7 1336.0,1415.7 1337.0,1415.7 1338.0,1415.7 1339.0,1415.7 1340.0,1415.7 1341.0,1415.7 1342.0,1415.7 1343.0,1415.7 1344.0,1415.7 1345.0,1415.7 1346.0,1415.7 1347.0,1415.7 1348.0,1415.7 1349.0,1415.7 1350.0,1415.7 1351.0,1415.7 1352.0,1415.7 1353.0,1415.7 1354.0,1415.7 1355.0,1415.7 1356.0,1415.7 1357.0,1415.7 1358.0,1415.7 1359.0,1415.7 1360.0,1415.7 1361.0,1415.7 1362.0,1415.7 1363.0,1415.7 1364.0,1415.7 1365.0,1415.7 1366.0,1415.7 1367.0,1415.7 1368.0,1415.7 1369.0,1415.7 1370.0,1415.7 1371.0,1415.7 1372.0,1415.7 1373.0,1415.7 1374.0,1415.7 1375.0,1415.7 1376.0,1415.7 1377.0,1415.7 1378.0,1415.7 1379.0,1415.7 1380.0,1415.7 1381.0,1415.7 1382.0,1415.7 1383.0,1415.7 1384.0,1415.7 1385.0,1415.7 1386.0,1415.7 1387.0,1415.7 1388.0,1415.7 1389.0,1415.7 1390.0,1415.7 1391.0,1415.7 1392.0,1415.7 1393.0,1415.7 1394.0,1415.7 1395.0,1415.7 1396.0,1415.7 1397.0,1415.7 1398.0,1415.7 1399.0,1415.7 1400.0,1415.7 1401.0,1415.7 1402.0,1415.7 1403.0,1415.7 1404.0,1415.7 1405.0,1415.7 1406.0,1415.7 1407.0,1415.7 1408.0,1415.7 1409.0,1415.7 1410.0,1415.7 1411.0,1415.7 1412.0,1415.7 1413.0,1415.7 1414.0,1415.7 1415.0,1415.7 1416.0,1415.7 1417.0,1415.7 1418.0,1415.7 1419.0,1415.7 1420.0,1415.7 1421.0,1415.7 1422.0,1415.7 1423.0,1415.7 1424.0,1415.7 1425.0,1415.7 1426.0,1415.7 1427.0,1415.7 1428.0,1415.7 1429.0,1415.7 1430.0,1415.7 1431.0,1415.7 1432.0,1415.7 1433.0,1415.7 1434.0,1415.7 1435.0,1415.7 1436.0,1415.7 1437.0,1415.7 1438.0,1415.7 1439.0,1415.7 1440.0,1415.7 1441.0,1415.7 1442.0,1415.7 1443.0,1415.7 1444.0,1415.7 1445.0,1415.7 1446.0,1415.7 1447.0,1415.7 1448.0,1415.7 1449.0,1415.7 1450.0,1415.7 1451.0,1415.7 1452.0,1415.7 1453.0,1415.7 1454.0,1415.7 1455.0,1415.7 1456.0,1415.7 1457.0,1415.7 1458.0,1415.7 1459.0,1415.7 1460.0,1415.7 1461.0,1415.7 1462.0,1415.7 1463.0,1415.7 1464.0,1415.7 1465.0,1415.7 1466.0,1415.7 1467.0,1415.7 1468.0,1415.7 1469.0,1415.7 1470.0,1415.7 1471.0,1415.7 1472.0,1415.7 1473.0,1415.7 1474.0,1415.7 1475.0,1415.7 1476.0,1415.7 1477.0,1415.7 1478.0,1415.7 1479.0,1415.7 1480.0,1415.7 1481.0,1415.7 1482.0,1415.7 1483.0,1415.7 1484.0,1415.7 1485.0,1415.7 1486.0,1415.7 1487.0,1415.7 1488.0,1415.7 1489.0,1415.7 1490.0,1415.7 1491.0,1415.7 1492.0,1415.7 1493.0,1415.7 1494.0,1415.7 1495.0,1415.7 1496.0,1415.7 1497.0,1415.7 1498.0,1415.7 1499.0,1415.7 1500.0,1415.7 1501.0,1415.7 1502.0,1415.7 1503.0,1415.7 1504.0,1415.7 1505.0,1415.7 1506.0,1415.7 1507.0,1415.7 1508.0,1415.7 1509.0,1415.7 1510.0,1415.7 1511.0,1415.7 1512.0,1415.7 1513.0,1415.7 1514.0,1415.7 1515.0,1415.7 1516.0,1415.7 1517.0,1415.7 1518.0,1415.7 1519.0,1415.7 1520.0,1415.7 1521.0,1415.7 1522.0,1415.7 1523.0,1415.7 1524.0,1415.7 1525.0,1415.7 1526.0,1415.7 1527.0,1415.7 1528.0,1415.7 1529.0,1415.7 1530.0,1415.7 1531.0,1415.7 1532.0,1415.7 1533.0,1415.7 1534.0,1415.7 1535.0,1415.7 1536.0,1415.7 1537.0,1415.7 1538.0,1415.7 1539.0,1415.7 1540.0,1415.7 1541.0,1415.7 1542.0,1415.7 1543.0,1415.7 1544.0,1415.7 1545.0,1415.7 1546.0,1415.7 1547.0,1415.7 1548.0,1415.7 1549.0,1415.7 1550.0,1415.7 1551.0,1415.7 1552.0,1415.7 1553.0,1415.7 1554.0,1415.7 1555.0,1415.7 1556.0,1415.7 1557.0,1415.7 1558.0,1415.7 1559.0,1415.7 1560.0,1415.7 1561.0,1415.7 1562.0,1415.7 1563.0,1415.7 1564.0,1415.7 1565.0,1415.7 1566.0,1415.7 1567.0,1415.7 1568.0,1415.7 1569.0,1415.7 1570.0,1415.7 1571.0,1415.7 1572.0,1415.7 1573.0,1415.7 1574.0,1415.7 1575.0,1415.7 1576.0,1415.7 1577.0,1415.7 1578.0,1415.7 1579.0,1415.7 1580.0,1415.7 1581.0,1415.7 1582.0,1415.7 1583.0,1415.7 1584.0,1415.7 1585.0,1415.7 1586.0,1415.7 1587.0,1415.7 1588.0,1415.7 1589.0,1415.7 1590.0,1415.7 1591.0,1415.7 1592.0,1415.7 1593.0,1415.7 1594.0,1415.7 1595.0,1415.7 1596.0,1415.6 1597.0,1415.6 1598.0,1415.5 1599.0,1415.5 1600.0,1415.4 1601.0,1415.3 1602.0,1415.3 1603.0,1415.2 1604.0,1415.2 1605.0,1415.1 1606.0,1415.1 1607.0,1415.0 1608.0,1415.0 1609.0,1414.9 1610.0,1414.9 1611.0,1414.8 1612.0,1414.7 1613.0,1414.7 1614.0,1414.6 1615.0,1414.6 1616.0,1414.5 1617.0,1414.5 1618.0,1414.4 1619.0,1414.4 1620.0,1414.3 1621.0,1414.3 1622.0,1414.2 1623.0,1414.1 1624.0,1414.1 1625.0,1414.0 1626.0,1414.0 1627.0,1413.9 1628.0,1413.9 1629.0,1413.8 1630.0,1413.8 1631.0,1413.7 1632.0,1413.7 1633.0,1413.6 1634.0,1413.5 1635.0,1413.5 1636.0,1413.4 1637.0,1413.4 1638.0,1413.3 1639.0,1413.3 1640.0,1413.2 1641.0,1413.2 1642.0,1413.1 1643.0,1413.1 1644.0,1413.0 1645.0,1413.0 1646.0,1412.9 1647.0,1412.9 1648.0,1412.9 1649.0,1412.8 1650.0,1412.8 1651.0,1412.7 1652.0,1412.6 1653.0,1412.6 1654.0,1412.4 1655.0,1412.1 1656.0,1411.6 1657.0,1410.5 1658.0,1408.8 1659.0,1405.9 1660.0,1401.8 1661.0,1396.5 1662.0,1390.3 1663.0,1384.2 1664.0,1379.2 1665.0,1376.4 1665.5,1376.0 1666.0,1376.3 1667.0,1379.1 1668.0,1384.0 1669.0,1390.0 1670.0,1396.1 1671.0,1401.3 1672.0,1405.3 1673.0,1408.1 1674.0,1409.8 1675.0,1410.7 1676.0,1411.1 1677.0,1411.3 1678.0,1411.4 1679.0,1411.4 1680.0,1411.4 1681.0,1411.3 1682.0,1411.3 1683.0,1411.2 1684.0,1411.2 1685.0,1411.1 1686.0,1411.1 1687.0,1411.0 1688.0,1411.0 1689.0,1410.9 1690.0,1410.9 1691.0,1410.8 1692.0,1410.8 1693.0,1410.8 1694.0,1410.7 1695.0,1410.7 1696.0,1410.6 1697.0,1410.6 1698.0,1410.5 1699.0,1410.5 1700.0,1410.4 1701.0,1410.4 1702.0,1410.3 1703.0,1410.1 1704.0,1409.7 1705.0,1409.0 1706.0,1407.8 1707.0,1405.7 1708.0,1402.8 1709.0,1399.3 1710.0,1395.8 1711.0,1393.1 1712.0,1392.0 1713.0,1392.4 1714.0,1394.3 1715.0,1396.7 1716.0,1398.6 1717.0,1399.1 1718.0,1397.9 1719.0,1395.4 1720.0,1392.3 1721.0,1389.5 1722.0,1388.0 1723.0,1387.8 1724.0,1388.3 1725.0,1388.5 1726.0,1387.2 1727.0,1384.3 1728.0,1380.1 1729.0,1375.9 1730.0,1373.3 1730.5,1373.0 1731.0,1373.5 1732.0,1376.6 1733.0,1381.7 1734.0,1387.3 1735.0,1392.2 1736.0,1395.3 1737.0,1396.5 1738.0,1395.7 1739.0,1393.2 1740.0,1389.1 1741.0,1383.5 1742.0,1376.8 1743.0,1369.4 1744.0,1362.1 1745.0,1355.5 1746.0,1350.0 1747.0,1345.2 1748.0,1339.7 1749.0,1331.4 1750.0,1318.6 1751.0,1301.3 1752.0,1282.3 1753.0,1267.4 1754.0,1262.6 1754.2,1263.2 1755.0,1271.0 1756.0,1291.2 1757.0,1317.6 1758.0,1343.8 1759.0,1365.0 1760.0,1379.6 1761.0,1388.2 1762.0,1392.4 1763.0,1393.9 1764.0,1394.0 1765.0,1393.4 1766.0,1392.6 1767.0,1392.1 1768.0,1392.0 1769.0,1392.5 1770.0,1393.5 1771.0,1394.9 1772.0,1396.6 1773.0,1398.2 1774.0,1399.6 1775.0,1400.8 1776.0,1401.6 1777.0,1402.2 1778.0,1402.5 1779.0,1402.6 1780.0,1402.5 1781.0,1402.3 1782.0,1401.8 1783.0,1401.1 1784.0,1400.1 1785.0,1398.9 1786.0,1397.6 1787.0,1396.2 1788.0,1395.1 1789.0,1394.3 1790.0,1394.0 1791.0,1394.2 1792.0,1395.0 1793.0,1396.0 1794.0,1397.2 1795.0,1398.3 1796.0,1399.2 1797.0,1399.5 1798.0,1399.3 1799.0,1398.4 1800.0,1397.0 1801.0,1395.0 1802.0,1392.6 1803.0,1390.1 1804.0,1387.9 1805.0,1386.2 1806.0,1385.0 1807.0,1384.3 1808.0,1383.7 1809.0,1382.6 1810.0,1380.4 1811.0,1376.4 1812.0,1370.6 1813.0,1363.2 1814.0,1355.2 1815.0,1347.7 1816.0,1342.0 1817.0,1339.2 1817.2,1339.0 1818.0,1339.7 1819.0,1343.5 1820.0,1349.5 1821.0,1356.6 1822.0,1363.6 1823.0,1369.2 1824.0,1373.1 1825.0,1374.9 1826.0,1374.9 1827.0,1373.6 1828.0,1371.6 1829.0,1369.4 1830.0,1367.5 1831.0,1366.3 1832.0,1365.8 1833.0,1366.2 1834.0,1367.4 1835.0,1369.2 1836.0,1371.3 1837.0,1373.3 1838.0,1374.8 1839.0,1375.5 1840.0,1375.3 1841.0,1374.4 1842.0,1373.1 1843.0,1371.9 1844.0,1371.4 1845.0,1372.0 1846.0,1374.0 1847.0,1377.3 1848.0,1381.5 1849.0,1386.1 1850.0,1390.5 1851.0,1394.3 1852.0,1397.2 1853.0,1399.2 1854.0,1400.2 1855.0,1400.4 1856.0,1399.8 1857.0,1398.6 1858.0,1397.2 1859.0,1395.6 1860.0,1394.2 1861.0,1393.3 1862.0,1393.0 1863.0,1393.4 1864.0,1394.4 1865.0,1395.9 1866.0,1397.6 1867.0,1399.4 1868.0,1400.9 1869.0,1402.2 1870.0,1403.1 1871.0,1403.8 1872.0,1404.2 1873.0,1404.3 1874.0,1404.2 1875.0,1403.9 1876.0,1403.4 1877.0,1402.7 1878.0,1401.8 1879.0,1400.7 1880.0,1399.4 1881.0,1398.2 1882.0,1397.1 1883.0,1396.3 1884.0,1396.0 1885.0,1396.2 1886.0,1396.8 1887.0,1397.8 1888.0,1399.0 1889.0,1400.1 1890.0,1401.2 1891.0,1402.0 1892.0,1402.6 1893.0,1403.0 1894.0,1403.2 1895.0,1403.3 1896.0,1403.4 1897.0,1403.4 1898.0,1403.3 1899.0,1403.3 1900.0,1403.3 1901.0,1403.2 1902.0,1403.1 1903.0,1403.1 1904.0,1403.0 1905.0,1403.0 1906.0,1402.9 1907.0,1402.9 1908.0,1402.8 1909.0,1402.8 1910.0,1402.7 1911.0,1402.7 1912.0,1402.6 1913.0,1402.5 1914.0,1402.5 1915.0,1402.4 1916.0,1402.4 1917.0,1402.4 1918.0,1402.4 1919.0,1402.4 1920.0,1402.4 1921.0,1402.4 1922.0,1402.4 1923.0,1402.4 1924.0,1402.4 1925.0,1402.4 1926.0,1402.4 1927.0,1402.4 1928.0,1402.4 1929.0,1402.4 1930.0,1402.4 1931.0,1402.4 1932.0,1402.4 1933.0,1402.4 1934.0,1402.4 1935.0,1402.4 1936.0,1402.4 1937.0,1402.4 1938.0,1402.4 1939.0,1402.4 1940.0,1402.4 1941.0,1402.4 1942.0,1402.4 1943.0,1402.4 1944.0,1402.4 1945.0,1402.4 1946.0,1402.4 1947.0,1402.4 1948.0,1402.4 1949.0,1402.4 1950.0,1402.4 1951.0,1402.4 1952.0,1402.4 1953.0,1402.4 1954.0,1402.4 1955.0,1402.4 1956.0,1402.4 1957.0,1402.4 1958.0,1402.4 1959.0,1402.4 1960.0,1402.5 1961.0,1402.6 1962.0,1402.8 1963.0,1402.9 1964.0,1403.0 1965.0,1403.2 1966.0,1403.3 1967.0,1403.5 1968.0,1403.6 1969.0,1403.7 1970.0,1403.9 1971.0,1404.0 1972.0,1404.2 1973.0,1404.3 1974.0,1404.4 1975.0,1404.6 1976.0,1404.7 1977.0,1404.8 1978.0,1405.0 1979.0,1405.1 1980.0,1405.2 1981.0,1405.4 1982.0,1405.5 1983.0,1405.6 1984.0,1405.7 1985.0,1405.8 1986.0,1405.9 1987.0,1406.0 1988.0,1406.1 1989.0,1406.1 1990.0,1406.2 1991.0,1406.2 1992.0,1406.2 1993.0,1406.2 1994.0,1406.2 1995.0,1406.1 1996.0,1406.0 1997.0,1405.9 1998.0,1405.7 1999.0,1405.5 2000.0,1405.2 2001.0,1405.0 2002.0,1404.6 2003.0,1404.3 2004.0,1403.8 2005.0,1403.3 2006.0,1402.7 2007.0,1402.1 2008.0,1401.5 2009.0,1400.8 2010.0,1400.1 2011.0,1399.5 2012.0,1398.8 2013.0,1398.0 2014.0,1397.2 2015.0,1396.3 2016.0,1394.9 2017.0,1392.9 2018.0,1390.0 2019.0,1385.8 2020.0,1380.3 2021.0,1373.9 2022.0,1367.5 2023.0,1362.3 2024.0,1359.6 2024.4,1359.4 2025.0,1360.0 2026.0,1363.5 2027.0,1369.2 2028.0,1375.8 2029.0,1382.3 2030.0,1387.7 2031.0,1391.8 2032.0,1394.7 2033.0,1396.6 2034.0,1398.0 2035.0,1399.1 2036.0,1400.0 2037.0,1400.8 2038.0,1401.6 2039.0,1402.4 2040.0,1403.1 2041.0,1403.9 2042.0,1404.6 2043.0,1405.2 2044.0,1405.9 2045.0,1406.5 2046.0,1407.0 2047.0,1407.6 2048.0,1408.0 2049.0,1408.5 2050.0,1408.9 2051.0,1409.2 2052.0,1409.6 2053.0,1409.8 2054.0,1410.1 2055.0,1410.3 2056.0,1410.5 2057.0,1410.7 2058.0,1410.9 2059.0,1411.0 2060.0,1411.2 2061.0,1411.3 2062.0,1411.4 2063.0,1411.4 2064.0,1411.5 2065.0,1411.5 2066.0,1411.5 2067.0,1411.5 2068.0,1411.6 2069.0,1411.6 2070.0,1411.6 2071.0,1411.6 2072.0,1411.6 2073.0,1411.6 2074.0,1411.6 2075.0,1411.6 2076.0,1411.6 2077.0,1411.6 2078.0,1411.6 2079.0,1411.6 2080.0,1411.7 2081.0,1411.7 2082.0,1411.7 2083.0,1411.7 2084.0,1411.7 2085.0,1411.7 2086.0,1411.7 2087.0,1411.7 2088.0,1411.7 2089.0,1411.7 2090.0,1411.7 2091.0,1411.7 2092.0,1411.7 2093.0,1411.7 2094.0,1411.7 2095.0,1411.7 2096.0,1411.7 2097.0,1411.7 2098.0,1411.7 2099.0,1411.7 2100.0,1411.7 2101.0,1411.7 2102.0,1411.7 2103.0,1411.7 2104.0,1411.7 2105.0,1411.7 2106.0,1411.8 2107.0,1411.8 2108.0,1411.8 2109.0,1411.8 2110.0,1411.8 2111.0,1411.8 2112.0,1411.8 2113.0,1411.8 2114.0,1411.8 2115.0,1411.8 2116.0,1411.8 2117.0,1411.8 2118.0,1411.8 2119.0,1411.8 2120.0,1411.8 2121.0,1411.8 2122.0,1411.8 2123.0,1411.8 2124.0,1411.8 2125.0,1411.8 2126.0,1411.8 2127.0,1411.8 2128.0,1411.8 2129.0,1411.8 2130.0,1411.8 2131.0,1411.8 2132.0,1411.8 2133.0,1411.8 2134.0,1411.8 2135.0,1411.7 2136.0,1411.7 2137.0,1411.6 2138.0,1411.5 2139.0,1411.4 2140.0,1411.2 2141.0,1411.0 2142.0,1410.6 2143.0,1410.3 2144.0,1409.8 2145.0,1409.2 2146.0,1408.5 2147.0,1407.6 2148.0,1406.6 2149.0,1405.3 2150.0,1403.5 2151.0,1400.9 2152.0,1397.1 2153.0,1391.7 2154.0,1384.3 2155.0,1374.9 2156.0,1364.2 2157.0,1353.3 2158.0,1344.1 2159.0,1338.3 2159.7,1337.0 2160.0,1337.2 2161.0,1341.0 2162.0,1348.9 2163.0,1359.2 2164.0,1370.0 2165.0,1379.9 2166.0,1388.0 2167.0,1394.1 2168.0,1398.4 2169.0,1401.3 2170.0,1403.3 2171.0,1404.7 2172.0,1405.7 2173.0,1406.4 2174.0,1406.8 2175.0,1406.9 2176.0,1406.6 2177.0,1406.0 2178.0,1405.1 2179.0,1404.0 2180.0,1402.6 2181.0,1401.3 2182.0,1400.0 2183.0,1398.9 2184.0,1398.2 2185.0,1398.0 2186.0,1398.3 2187.0,1399.0 2188.0,1400.1 2189.0,1401.6 2190.0,1403.1 2191.0,1404.6 2192.0,1406.0 2193.0,1407.2 2194.0,1408.2 2195.0,1408.9 2196.0,1409.4 2197.0,1409.7 2198.0,1409.9 2199.0,1409.9 2200.0,1410.0 2201.0,1409.9 2202.0,1409.8 2203.0,1409.8 2204.0,1409.7 2205.0,1409.6 2206.0,1409.5 2207.0,1409.3 2208.0,1409.2 2209.0,1409.1 2210.0,1409.0 2211.0,1408.9 2212.0,1408.8 2213.0,1408.7 2214.0,1408.6 2215.0,1408.5 2216.0,1408.3 2217.0,1408.2 2218.0,1408.0 2219.0,1407.8 2220.0,1407.6 2221.0,1407.2 2222.0,1406.8 2223.0,1406.2 2224.0,1405.6 2225.0,1404.8 2226.0,1403.9 2227.0,1402.9 2228.0,1402.0 2229.0,1401.2 2230.0,1400.6 2231.0,1400.2 2232.0,1400.0 2233.0,1400.1 2234.0,1400.5 2235.0,1401.1 2236.0,1401.7 2237.0,1402.4 2238.0,1402.8 2239.0,1402.8 2240.0,1402.2 2241.0,1400.8 2242.0,1398.5 2243.0,1395.5 2244.0,1392.1 2245.0,1389.0 2246.0,1386.8 2247.0,1386.0 2248.0,1386.8 2249.0,1389.1 2250.0,1392.4 2251.0,1395.9 2252.0,1399.2 2253.0,1401.8 2254.0,1403.5 2255.0,1404.1 2256.0,1403.5 2257.0,1401.1 2258.0,1396.3 2259.0,1388.0 2260.0,1375.6 2261.0,1358.8 2262.0,1338.6 2263.0,1317.6 2264.0,1299.2 2265.0,1287.2 2265.8,1284.0 2266.0,1284.2 2267.0,1291.0 2268.0,1305.9 2269.0,1325.8 2270.0,1346.8 2271.0,1365.8 2272.0,1380.9 2273.0,1391.6 2274.0,1398.5 2275.0,1402.5 2276.0,1404.6 2277.0,1405.6 2278.0,1406.0 2279.0,1406.2 2280.0,1406.3 2281.0,1406.3 2282.0,1406.2 2283.0,1406.2 2284.0,1406.2 2285.0,1406.1 2286.0,1406.0 2287.0,1405.8 2288.0,1405.4 2289.0,1404.6 2290.0,1403.3 2291.0,1401.4 2292.0,1398.7 2293.0,1395.4 2294.0,1391.9 2295.0,1388.6 2296.0,1386.3 2297.0,1385.5 2298.0,1386.3 2299.0,1388.6 2300.0,1391.8 2301.0,1395.3 2302.0,1398.5 2303.0,1401.2 2304.0,1403.1 2305.0,1404.4 2306.0,1405.1 2307.0,1405.5 2308.0,1405.7 2309.0,1405.7" fill="none" stroke="#000" stroke-width="4.0" stroke-linejoin="round"/></g>
<rect x="269.5" y="56.0" width="2039.5" height="1427.5" fill="none" stroke="#000" stroke-width="4.4"/><path d="M269.5 1483.5V1441.0M269.5 56.0V98.5M415.2 1483.5V1462.0M415.2 56.0V77.5M560.9 1483.5V1441.0M560.9 56.0V98.5M706.5 1483.5V1462.0M706.5 56.0V77.5M852.2 1483.5V1441.0M852.2 56.0V98.5M997.9 1483.5V1462.0M997.9 56.0V77.5M1143.6 1483.5V1441.0M1143.6 56.0V98.5M1289.2 1483.5V1462.0M1289.2 56.0V77.5M1434.9 1483.5V1441.0M1434.9 56.0V98.5M1580.6 1483.5V1462.0M1580.6 56.0V77.5M1726.3 1483.5V1441.0M1726.3 56.0V98.5M1872.0 1483.5V1462.0M1872.0 56.0V77.5M2017.6 1483.5V1441.0M2017.6 56.0V98.5M2163.3 1483.5V1462.0M2163.3 56.0V77.5M2309.0 1483.5V1441.0M2309.0 56.0V98.5M269.5 1416.0H312.0M2309.0 1416.0H2266.5M269.5 1246.0H291.0M2309.0 1246.0H2287.5M269.5 1076.0H312.0M2309.0 1076.0H2266.5M269.5 906.0H291.0M2309.0 906.0H2287.5M269.5 736.0H312.0M2309.0 736.0H2266.5M269.5 566.0H291.0M2309.0 566.0H2287.5M269.5 396.0H312.0M2309.0 396.0H2266.5M269.5 226.0H291.0M2309.0 226.0H2287.5M269.5 56.0H312.0M2309.0 56.0H2266.5" stroke="#000" stroke-width="4.2" fill="none"/><g font-family="'Liberation Sans', Arial, Helvetica, sans-serif" fill="#000"><text x="221.24" y="1544.80" font-size="60.50" textLength="96.40" lengthAdjust="spacingAndGlyphs">100</text><text x="512.89" y="1544.80" font-size="60.50" textLength="96.40" lengthAdjust="spacingAndGlyphs">101</text><text x="804.28" y="1544.80" font-size="60.50" textLength="96.40" lengthAdjust="spacingAndGlyphs">102</text><text x="1095.46" y="1544.80" font-size="60.50" textLength="96.40" lengthAdjust="spacingAndGlyphs">103</text><text x="1386.38" y="1544.80" font-size="60.50" textLength="96.40" lengthAdjust="spacingAndGlyphs">104</text><text x="1678.12" y="1544.80" font-size="60.50" textLength="96.40" lengthAdjust="spacingAndGlyphs">105</text><text x="1969.53" y="1544.80" font-size="60.50" textLength="96.40" lengthAdjust="spacingAndGlyphs">106</text><text x="2261.06" y="1544.80" font-size="60.50" textLength="96.40" lengthAdjust="spacingAndGlyphs">107</text><text x="219.68" y="1437.20" font-size="61.00" textLength="32.40" lengthAdjust="spacingAndGlyphs">0</text><text x="154.90" y="1097.20" font-size="61.00" textLength="97.20" lengthAdjust="spacingAndGlyphs">100</text><text x="154.90" y="757.20" font-size="61.00" textLength="97.20" lengthAdjust="spacingAndGlyphs">200</text><text x="154.90" y="417.20" font-size="61.00" textLength="97.20" lengthAdjust="spacingAndGlyphs">300</text><text x="154.90" y="77.20" font-size="61.00" textLength="97.20" lengthAdjust="spacingAndGlyphs">400</text></g><g font-family="'Liberation Sans', Arial, Helvetica, sans-serif" fill="#000"><text x="859.82" y="1639.80" font-size="107.30" textLength="864.85" lengthAdjust="spacingAndGlyphs">Photon energy (eV)</text><g transform="translate(114.5 1183.4) rotate(-90)"><text x="-5.11" y="0.00" font-size="107.50" textLength="841.20" lengthAdjust="spacingAndGlyphs">Cross section (Mb)</text></g><text x="344.39" y="307.00" font-size="202.00" textLength="228.87" lengthAdjust="spacingAndGlyphs">Se</text><text x="570.60" y="194.10" font-size="139.00" textLength="75.09" lengthAdjust="spacingAndGlyphs">5</text><text x="643.45" y="205.30" font-size="132.00" textLength="78.10" lengthAdjust="spacingAndGlyphs">+</text><text x="1210.02" y="280.00" font-size="107.50" textLength="588.47" lengthAdjust="spacingAndGlyphs">&#916;E = 28 meV</text></g>
<rect x="473" y="465" width="888" height="556" fill="#fff" stroke="#000" stroke-width="4.2"/><path d="M506 510H588.5" stroke="#000" stroke-width="4"/><circle cx="506" cy="510" r="10" fill="#0ff" stroke="#000" stroke-width="4"/><circle cx="588.5" cy="510" r="10" fill="#0ff" stroke="#000" stroke-width="4"/><circle cx="546.3" cy="578" r="20" fill="#f0f" stroke="#000" stroke-width="4"/><path d="M504 662H589" stroke="#f00" stroke-width="4.5"/><path d="M505 763.2H587" stroke="#00f" stroke-width="1.2"/><path d="M504 862.6H589" stroke="#f0f" stroke-width="4.5"/><path d="M504 961.2H589" stroke="#000" stroke-width="4.5"/><g font-family="'Liberation Sans', Arial, Helvetica, sans-serif" fill="#000"><text x="627.76" y="524.00" font-size="57.30" textLength="280.43" lengthAdjust="spacingAndGlyphs">EXPT (ALS)</text><text x="627.75" y="593.00" font-size="57.30" textLength="508.86" lengthAdjust="spacingAndGlyphs">EXPT (ALS: Absolute)</text><text x="626.86" y="681.00" font-size="57.30" textLength="480.28" lengthAdjust="spacingAndGlyphs">THEORY (DARC: 3d</text><text x="1107.26" y="649.80" font-size="37.40" textLength="40.16" lengthAdjust="spacingAndGlyphs">10</text><text x="1147.81" y="681.00" font-size="57.30" textLength="54.66" lengthAdjust="spacingAndGlyphs">4s</text><text x="1214.56" y="649.80" font-size="37.40" textLength="23.78" lengthAdjust="spacingAndGlyphs">2</text><text x="1235.38" y="681.00" font-size="57.30" textLength="36.54" lengthAdjust="spacingAndGlyphs">S</text><text x="1271.99" y="701.90" font-size="37.40" textLength="51.47" lengthAdjust="spacingAndGlyphs">1/2</text><text x="1323.63" y="681.00" font-size="57.30" textLength="15.08" lengthAdjust="spacingAndGlyphs">)</text><text x="626.86" y="780.00" font-size="57.30" textLength="480.28" lengthAdjust="spacingAndGlyphs">THEORY (DARC: 3d</text><text x="1107.26" y="748.80" font-size="37.40" textLength="40.16" lengthAdjust="spacingAndGlyphs">10</text><text x="1146.89" y="780.00" font-size="57.30" textLength="55.61" lengthAdjust="spacingAndGlyphs">5s</text><text x="1214.56" y="748.80" font-size="37.40" textLength="23.78" lengthAdjust="spacingAndGlyphs">2</text><text x="1235.38" y="780.00" font-size="57.30" textLength="36.54" lengthAdjust="spacingAndGlyphs">S</text><text x="1271.99" y="800.90" font-size="37.40" textLength="51.47" lengthAdjust="spacingAndGlyphs">1/2</text><text x="1323.63" y="780.00" font-size="57.30" textLength="15.08" lengthAdjust="spacingAndGlyphs">)</text><text x="626.86" y="879.00" font-size="57.30" textLength="480.28" lengthAdjust="spacingAndGlyphs">THEORY (DARC: 3d</text><text x="1107.26" y="847.80" font-size="37.40" textLength="40.16" lengthAdjust="spacingAndGlyphs">10</text><text x="1147.81" y="879.00" font-size="57.30" textLength="57.51" lengthAdjust="spacingAndGlyphs">4d</text><text x="1217.03" y="847.80" font-size="37.40" textLength="21.95" lengthAdjust="spacingAndGlyphs">2</text><text x="1238.02" y="879.00" font-size="57.30" textLength="38.55" lengthAdjust="spacingAndGlyphs">D</text><text x="1276.36" y="899.90" font-size="37.40" textLength="52.53" lengthAdjust="spacingAndGlyphs">3/2</text><text x="1330.55" y="879.00" font-size="57.30" textLength="14.07" lengthAdjust="spacingAndGlyphs">)</text><text x="626.86" y="978.00" font-size="57.30" textLength="480.28" lengthAdjust="spacingAndGlyphs">THEORY (DARC: 3d</text><text x="1107.26" y="946.80" font-size="37.40" textLength="40.16" lengthAdjust="spacingAndGlyphs">10</text><text x="1147.81" y="978.00" font-size="57.30" textLength="57.51" lengthAdjust="spacingAndGlyphs">4d</text><text x="1217.03" y="946.80" font-size="37.40" textLength="21.95" lengthAdjust="spacingAndGlyphs">2</text><text x="1238.02" y="978.00" font-size="57.30" textLength="38.55" lengthAdjust="spacingAndGlyphs">D</text><text x="1276.29" y="998.90" font-size="37.40" textLength="52.61" lengthAdjust="spacingAndGlyphs">5/2</text><text x="1330.55" y="978.00" font-size="57.30" textLength="14.07" lengthAdjust="spacingAndGlyphs">)</text></g>
</svg></body></html>
